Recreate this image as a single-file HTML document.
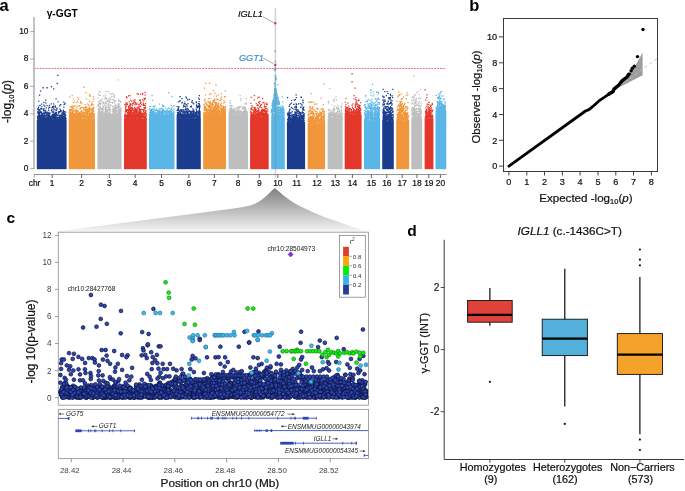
<!DOCTYPE html><html><head><meta charset="utf-8"><style>
html,body{margin:0;padding:0;background:#fff;}
body{width:685px;height:491px;overflow:hidden;}
svg{display:block;font-family:"Liberation Sans", sans-serif;will-change:transform;}
</style></head><body>
<svg width="685" height="491" viewBox="0 0 685 491">
<rect x="36.8" y="120.0" width="29.8" height="49.2" fill="#1b3c8c"/>
<path d="M38.5 114.2h1.2v1.2h-1.2zM53.1 114.8h1.2v1.2h-1.2zM52.5 119.1h1.2v1.2h-1.2zM38.0 112.7h1.2v1.2h-1.2zM63.2 117.4h1.2v1.2h-1.2zM47.3 114.0h1.2v1.2h-1.2zM53.2 117.5h1.2v1.2h-1.2zM54.2 119.0h1.2v1.2h-1.2zM41.5 117.5h1.2v1.2h-1.2zM48.9 104.7h1.2v1.2h-1.2zM64.3 115.6h1.2v1.2h-1.2zM45.8 114.1h1.2v1.2h-1.2zM53.4 116.6h1.2v1.2h-1.2zM63.8 116.5h1.2v1.2h-1.2zM38.5 114.0h1.2v1.2h-1.2zM65.2 111.6h1.2v1.2h-1.2zM49.2 106.7h1.2v1.2h-1.2zM54.3 116.3h1.2v1.2h-1.2zM49.0 118.7h1.2v1.2h-1.2zM49.3 118.6h1.2v1.2h-1.2zM44.7 118.7h1.2v1.2h-1.2zM52.5 113.9h1.2v1.2h-1.2zM56.3 117.2h1.2v1.2h-1.2zM55.2 118.5h1.2v1.2h-1.2zM52.0 118.5h1.2v1.2h-1.2zM52.2 116.9h1.2v1.2h-1.2zM53.0 105.7h1.2v1.2h-1.2zM51.5 115.1h1.2v1.2h-1.2zM38.3 109.1h1.2v1.2h-1.2zM61.8 112.2h1.2v1.2h-1.2zM48.2 118.9h1.2v1.2h-1.2zM38.6 119.1h1.2v1.2h-1.2zM47.6 118.9h1.2v1.2h-1.2zM52.1 106.1h1.2v1.2h-1.2zM38.8 118.3h1.2v1.2h-1.2zM54.9 105.5h1.2v1.2h-1.2zM50.4 118.8h1.2v1.2h-1.2zM64.8 116.4h1.2v1.2h-1.2zM52.4 118.9h1.2v1.2h-1.2zM37.3 116.1h1.2v1.2h-1.2zM54.8 117.4h1.2v1.2h-1.2zM62.9 113.0h1.2v1.2h-1.2zM65.1 118.0h1.2v1.2h-1.2zM41.6 112.8h1.2v1.2h-1.2zM59.1 117.6h1.2v1.2h-1.2zM38.0 112.0h1.2v1.2h-1.2zM58.0 118.2h1.2v1.2h-1.2zM47.0 119.2h1.2v1.2h-1.2zM37.6 115.2h1.2v1.2h-1.2zM45.1 99.6h1.2v1.2h-1.2zM47.2 118.3h1.2v1.2h-1.2zM38.2 100.5h1.2v1.2h-1.2zM36.9 108.6h1.2v1.2h-1.2zM65.1 119.0h1.2v1.2h-1.2zM62.8 112.5h1.2v1.2h-1.2zM50.5 118.5h1.2v1.2h-1.2zM46.3 112.2h1.2v1.2h-1.2zM48.1 117.1h1.2v1.2h-1.2zM57.5 118.5h1.2v1.2h-1.2zM51.8 114.6h1.2v1.2h-1.2zM53.8 116.5h1.2v1.2h-1.2zM41.3 115.8h1.2v1.2h-1.2zM44.9 114.7h1.2v1.2h-1.2zM63.5 116.8h1.2v1.2h-1.2zM60.4 118.3h1.2v1.2h-1.2zM48.6 117.6h1.2v1.2h-1.2zM60.7 119.1h1.2v1.2h-1.2zM62.5 114.5h1.2v1.2h-1.2zM51.6 111.5h1.2v1.2h-1.2zM40.5 118.6h1.2v1.2h-1.2zM61.8 112.7h1.2v1.2h-1.2zM59.0 118.6h1.2v1.2h-1.2zM48.1 113.6h1.2v1.2h-1.2zM46.1 116.1h1.2v1.2h-1.2zM59.2 118.9h1.2v1.2h-1.2zM43.9 117.9h1.2v1.2h-1.2zM51.3 115.7h1.2v1.2h-1.2zM62.9 116.7h1.2v1.2h-1.2zM51.3 116.2h1.2v1.2h-1.2zM49.7 116.0h1.2v1.2h-1.2zM63.7 114.0h1.2v1.2h-1.2zM63.7 118.0h1.2v1.2h-1.2zM63.8 111.2h1.2v1.2h-1.2zM38.6 114.4h1.2v1.2h-1.2zM42.9 117.8h1.2v1.2h-1.2zM52.3 106.8h1.2v1.2h-1.2zM47.3 118.1h1.2v1.2h-1.2zM40.5 117.1h1.2v1.2h-1.2zM65.1 111.4h1.2v1.2h-1.2zM48.8 117.4h1.2v1.2h-1.2zM39.8 116.8h1.2v1.2h-1.2zM38.9 116.1h1.2v1.2h-1.2zM56.0 118.2h1.2v1.2h-1.2zM39.2 117.9h1.2v1.2h-1.2zM42.0 113.1h1.2v1.2h-1.2zM61.1 114.3h1.2v1.2h-1.2zM48.4 115.9h1.2v1.2h-1.2zM50.9 117.6h1.2v1.2h-1.2zM61.9 118.5h1.2v1.2h-1.2zM44.5 119.3h1.2v1.2h-1.2zM38.5 119.1h1.2v1.2h-1.2zM49.8 117.5h1.2v1.2h-1.2zM63.3 118.0h1.2v1.2h-1.2zM55.1 113.8h1.2v1.2h-1.2zM64.5 118.0h1.2v1.2h-1.2zM48.9 118.3h1.2v1.2h-1.2zM56.0 118.0h1.2v1.2h-1.2zM65.2 119.2h1.2v1.2h-1.2zM54.4 115.8h1.2v1.2h-1.2zM43.2 114.6h1.2v1.2h-1.2zM55.6 115.8h1.2v1.2h-1.2zM64.6 117.7h1.2v1.2h-1.2zM51.7 117.5h1.2v1.2h-1.2zM57.0 114.8h1.2v1.2h-1.2zM46.7 119.1h1.2v1.2h-1.2zM54.9 116.8h1.2v1.2h-1.2zM37.6 111.1h1.2v1.2h-1.2zM56.0 117.9h1.2v1.2h-1.2zM49.4 118.0h1.2v1.2h-1.2zM39.5 104.8h1.2v1.2h-1.2zM52.4 118.1h1.2v1.2h-1.2zM45.7 117.4h1.2v1.2h-1.2zM49.2 114.6h1.2v1.2h-1.2zM46.2 118.9h1.2v1.2h-1.2zM40.9 115.4h1.2v1.2h-1.2zM45.4 114.9h1.2v1.2h-1.2zM54.9 109.4h1.2v1.2h-1.2zM53.9 112.9h1.2v1.2h-1.2zM50.9 117.9h1.2v1.2h-1.2zM40.9 111.6h1.2v1.2h-1.2zM51.5 116.9h1.2v1.2h-1.2zM51.3 108.6h1.2v1.2h-1.2zM53.1 111.9h1.2v1.2h-1.2zM38.0 115.4h1.2v1.2h-1.2zM56.3 114.1h1.2v1.2h-1.2zM46.5 105.0h1.2v1.2h-1.2zM49.7 119.1h1.2v1.2h-1.2zM64.0 114.3h1.2v1.2h-1.2zM36.9 112.2h1.2v1.2h-1.2zM51.2 115.9h1.2v1.2h-1.2zM38.7 113.4h1.2v1.2h-1.2zM55.6 113.1h1.2v1.2h-1.2zM64.5 102.7h1.2v1.2h-1.2zM47.7 116.5h1.2v1.2h-1.2zM58.7 115.1h1.2v1.2h-1.2zM39.0 118.7h1.2v1.2h-1.2zM44.9 118.7h1.2v1.2h-1.2zM50.7 103.3h1.2v1.2h-1.2zM38.0 114.3h1.2v1.2h-1.2zM54.7 112.8h1.2v1.2h-1.2zM52.5 117.7h1.2v1.2h-1.2zM43.6 119.3h1.2v1.2h-1.2zM60.2 104.0h1.2v1.2h-1.2zM44.5 118.3h1.2v1.2h-1.2zM42.8 115.5h1.2v1.2h-1.2zM54.7 115.2h1.2v1.2h-1.2zM44.8 118.8h1.2v1.2h-1.2zM51.0 110.0h1.2v1.2h-1.2zM41.3 106.0h1.2v1.2h-1.2zM48.4 113.6h1.2v1.2h-1.2zM47.6 118.8h1.2v1.2h-1.2zM39.1 113.2h1.2v1.2h-1.2zM40.2 107.7h1.2v1.2h-1.2zM62.6 117.8h1.2v1.2h-1.2zM47.1 116.9h1.2v1.2h-1.2zM41.1 114.5h1.2v1.2h-1.2zM41.1 103.5h1.2v1.2h-1.2zM45.8 112.7h1.2v1.2h-1.2zM49.0 119.2h1.2v1.2h-1.2zM48.2 110.0h1.2v1.2h-1.2zM42.6 119.0h1.2v1.2h-1.2zM48.6 115.1h1.2v1.2h-1.2zM49.3 116.4h1.2v1.2h-1.2zM52.5 118.5h1.2v1.2h-1.2zM44.9 118.0h1.2v1.2h-1.2zM55.5 117.0h1.2v1.2h-1.2zM42.9 118.5h1.2v1.2h-1.2zM38.3 116.3h1.2v1.2h-1.2zM52.5 116.7h1.2v1.2h-1.2zM39.9 118.1h1.2v1.2h-1.2zM64.1 118.9h1.2v1.2h-1.2zM38.0 119.3h1.2v1.2h-1.2zM47.7 113.2h1.2v1.2h-1.2zM37.7 117.5h1.2v1.2h-1.2zM37.6 114.2h1.2v1.2h-1.2zM59.4 110.9h1.2v1.2h-1.2zM51.2 117.2h1.2v1.2h-1.2zM49.2 117.7h1.2v1.2h-1.2zM64.5 118.8h1.2v1.2h-1.2zM58.6 112.1h1.2v1.2h-1.2zM50.8 119.0h1.2v1.2h-1.2zM63.3 116.0h1.2v1.2h-1.2zM49.6 112.5h1.2v1.2h-1.2zM51.6 106.7h1.2v1.2h-1.2zM55.3 112.9h1.2v1.2h-1.2zM52.6 119.2h1.2v1.2h-1.2zM43.5 108.1h1.2v1.2h-1.2zM45.5 118.8h1.2v1.2h-1.2zM64.6 116.8h1.2v1.2h-1.2zM39.6 117.8h1.2v1.2h-1.2zM42.3 118.0h1.2v1.2h-1.2zM36.8 115.9h1.2v1.2h-1.2zM44.8 117.7h1.2v1.2h-1.2zM43.7 116.0h1.2v1.2h-1.2zM37.6 117.0h1.2v1.2h-1.2zM38.4 118.4h1.2v1.2h-1.2zM55.3 119.0h1.2v1.2h-1.2zM60.7 119.2h1.2v1.2h-1.2zM60.3 117.4h1.2v1.2h-1.2zM37.0 117.8h1.2v1.2h-1.2zM38.7 116.3h1.2v1.2h-1.2zM38.5 113.0h1.2v1.2h-1.2zM48.4 116.3h1.2v1.2h-1.2zM50.5 119.1h1.2v1.2h-1.2zM63.2 119.1h1.2v1.2h-1.2zM48.2 118.7h1.2v1.2h-1.2zM41.3 113.8h1.2v1.2h-1.2zM46.2 118.4h1.2v1.2h-1.2zM58.1 119.2h1.2v1.2h-1.2zM47.6 117.3h1.2v1.2h-1.2zM47.4 119.0h1.2v1.2h-1.2zM62.1 115.7h1.2v1.2h-1.2zM47.7 112.8h1.2v1.2h-1.2zM60.5 119.0h1.2v1.2h-1.2zM42.4 115.9h1.2v1.2h-1.2zM46.0 113.4h1.2v1.2h-1.2zM54.9 118.1h1.2v1.2h-1.2zM48.4 117.3h1.2v1.2h-1.2zM59.8 119.1h1.2v1.2h-1.2zM55.7 117.9h1.2v1.2h-1.2zM54.4 118.0h1.2v1.2h-1.2zM45.9 117.9h1.2v1.2h-1.2zM48.0 108.3h1.2v1.2h-1.2zM63.8 119.3h1.2v1.2h-1.2zM43.1 112.7h1.2v1.2h-1.2zM62.9 111.8h1.2v1.2h-1.2zM42.8 118.5h1.2v1.2h-1.2zM57.9 111.6h1.2v1.2h-1.2zM54.2 117.6h1.2v1.2h-1.2zM39.5 116.2h1.2v1.2h-1.2zM41.4 117.0h1.2v1.2h-1.2zM50.6 115.8h1.2v1.2h-1.2zM60.0 109.8h1.2v1.2h-1.2zM44.4 119.0h1.2v1.2h-1.2zM44.1 118.5h1.2v1.2h-1.2zM40.3 115.0h1.2v1.2h-1.2zM58.2 111.0h1.2v1.2h-1.2zM40.3 111.1h1.2v1.2h-1.2zM53.3 118.0h1.2v1.2h-1.2zM42.1 118.2h1.2v1.2h-1.2zM53.6 118.4h1.2v1.2h-1.2zM38.3 118.2h1.2v1.2h-1.2zM55.5 98.3h1.2v1.2h-1.2zM43.2 109.8h1.2v1.2h-1.2zM40.4 117.8h1.2v1.2h-1.2zM38.4 115.3h1.2v1.2h-1.2zM42.4 119.0h1.2v1.2h-1.2zM41.9 115.2h1.2v1.2h-1.2zM55.8 119.3h1.2v1.2h-1.2zM57.1 117.4h1.2v1.2h-1.2zM38.9 118.1h1.2v1.2h-1.2zM55.4 118.3h1.2v1.2h-1.2zM39.0 117.0h1.2v1.2h-1.2zM54.6 119.0h1.2v1.2h-1.2zM43.1 118.9h1.2v1.2h-1.2zM52.5 114.8h1.2v1.2h-1.2zM47.2 117.1h1.2v1.2h-1.2zM49.0 119.1h1.2v1.2h-1.2zM62.1 117.0h1.2v1.2h-1.2zM39.1 114.7h1.2v1.2h-1.2zM48.4 106.6h1.2v1.2h-1.2zM41.3 118.8h1.2v1.2h-1.2zM53.6 118.6h1.2v1.2h-1.2zM63.6 118.7h1.2v1.2h-1.2zM48.1 115.6h1.2v1.2h-1.2zM57.9 118.5h1.2v1.2h-1.2zM46.5 118.9h1.2v1.2h-1.2zM59.8 104.1h1.2v1.2h-1.2zM52.0 111.2h1.2v1.2h-1.2zM43.0 114.8h1.2v1.2h-1.2zM61.8 115.0h1.2v1.2h-1.2zM41.4 112.5h1.2v1.2h-1.2zM48.8 116.5h1.2v1.2h-1.2zM38.0 106.9h1.2v1.2h-1.2zM39.2 118.8h1.2v1.2h-1.2zM45.2 109.7h1.2v1.2h-1.2zM56.0 114.4h1.2v1.2h-1.2zM48.7 115.3h1.2v1.2h-1.2zM54.7 117.7h1.2v1.2h-1.2zM53.5 116.9h1.2v1.2h-1.2zM49.6 116.8h1.2v1.2h-1.2zM48.5 116.7h1.2v1.2h-1.2zM60.2 111.3h1.2v1.2h-1.2zM48.2 119.1h1.2v1.2h-1.2zM47.2 112.1h1.2v1.2h-1.2zM55.6 119.2h1.2v1.2h-1.2zM45.0 117.7h1.2v1.2h-1.2zM39.1 113.1h1.2v1.2h-1.2zM55.5 112.5h1.2v1.2h-1.2zM56.0 111.8h1.2v1.2h-1.2zM43.2 117.8h1.2v1.2h-1.2zM59.5 114.2h1.2v1.2h-1.2zM43.1 111.4h1.2v1.2h-1.2zM44.0 117.6h1.2v1.2h-1.2zM62.7 116.6h1.2v1.2h-1.2zM43.3 116.2h1.2v1.2h-1.2zM41.4 118.4h1.2v1.2h-1.2zM55.0 117.9h1.2v1.2h-1.2zM49.2 118.8h1.2v1.2h-1.2zM55.0 117.4h1.2v1.2h-1.2zM52.7 115.5h1.2v1.2h-1.2zM48.1 112.2h1.2v1.2h-1.2zM39.9 115.5h1.2v1.2h-1.2zM58.7 116.8h1.2v1.2h-1.2zM45.4 116.1h1.2v1.2h-1.2zM53.2 107.6h1.2v1.2h-1.2zM57.8 113.2h1.2v1.2h-1.2zM48.9 116.2h1.2v1.2h-1.2zM40.6 118.2h1.2v1.2h-1.2zM37.4 119.4h1.2v1.2h-1.2zM39.8 117.4h1.2v1.2h-1.2zM53.1 117.8h1.2v1.2h-1.2zM39.1 118.7h1.2v1.2h-1.2zM43.8 118.6h1.2v1.2h-1.2zM64.4 118.7h1.2v1.2h-1.2zM44.5 111.9h1.2v1.2h-1.2zM38.4 111.7h1.2v1.2h-1.2zM53.8 115.5h1.2v1.2h-1.2zM51.6 116.3h1.2v1.2h-1.2zM46.5 117.0h1.2v1.2h-1.2zM41.2 108.5h1.2v1.2h-1.2zM47.4 118.7h1.2v1.2h-1.2zM47.9 114.8h1.2v1.2h-1.2zM48.7 115.1h1.2v1.2h-1.2zM38.6 115.0h1.2v1.2h-1.2zM57.5 116.5h1.2v1.2h-1.2zM47.5 116.8h1.2v1.2h-1.2zM39.1 114.6h1.2v1.2h-1.2zM38.8 118.8h1.2v1.2h-1.2zM63.3 106.6h1.2v1.2h-1.2zM41.6 118.0h1.2v1.2h-1.2zM49.3 112.4h1.2v1.2h-1.2zM44.4 114.8h1.2v1.2h-1.2zM43.0 109.9h1.2v1.2h-1.2zM38.4 118.4h1.2v1.2h-1.2zM38.4 118.4h1.2v1.2h-1.2zM54.0 117.2h1.2v1.2h-1.2zM63.2 101.5h1.2v1.2h-1.2zM52.1 116.5h1.2v1.2h-1.2zM37.0 119.2h1.2v1.2h-1.2zM43.5 109.7h1.2v1.2h-1.2zM48.0 115.4h1.2v1.2h-1.2zM41.7 119.2h1.2v1.2h-1.2zM48.4 118.7h1.2v1.2h-1.2zM41.0 118.7h1.2v1.2h-1.2zM38.0 119.1h1.2v1.2h-1.2zM53.3 105.5h1.2v1.2h-1.2zM55.8 109.9h1.2v1.2h-1.2zM57.1 117.2h1.2v1.2h-1.2zM38.2 118.8h1.2v1.2h-1.2zM65.2 114.9h1.2v1.2h-1.2zM40.6 112.3h1.2v1.2h-1.2zM45.2 117.5h1.2v1.2h-1.2zM39.7 118.0h1.2v1.2h-1.2zM61.4 112.8h1.2v1.2h-1.2zM50.4 117.8h1.2v1.2h-1.2zM59.4 119.2h1.2v1.2h-1.2zM39.6 116.5h1.2v1.2h-1.2zM52.5 118.3h1.2v1.2h-1.2zM39.4 111.7h1.2v1.2h-1.2zM45.8 113.2h1.2v1.2h-1.2zM39.4 116.3h1.2v1.2h-1.2zM59.6 118.5h1.2v1.2h-1.2zM46.7 111.4h1.2v1.2h-1.2zM47.2 114.0h1.2v1.2h-1.2zM39.9 114.8h1.2v1.2h-1.2zM61.6 115.7h1.2v1.2h-1.2zM38.6 117.1h1.2v1.2h-1.2zM39.3 109.6h1.2v1.2h-1.2zM38.7 117.8h1.2v1.2h-1.2zM52.4 118.5h1.2v1.2h-1.2zM54.8 106.5h1.2v1.2h-1.2zM48.2 114.7h1.2v1.2h-1.2zM38.2 116.1h1.2v1.2h-1.2zM49.7 115.8h1.2v1.2h-1.2zM39.8 115.5h1.2v1.2h-1.2zM40.6 114.8h1.2v1.2h-1.2zM51.3 118.0h1.2v1.2h-1.2zM60.4 115.1h1.2v1.2h-1.2zM64.7 113.6h1.2v1.2h-1.2zM46.8 118.2h1.2v1.2h-1.2zM44.2 105.5h1.2v1.2h-1.2zM41.5 114.6h1.2v1.2h-1.2zM52.7 113.5h1.2v1.2h-1.2zM42.4 114.8h1.2v1.2h-1.2zM38.4 109.7h1.2v1.2h-1.2zM37.2 110.8h1.2v1.2h-1.2zM43.2 101.7h1.2v1.2h-1.2zM46.4 117.0h1.2v1.2h-1.2zM62.8 116.9h1.2v1.2h-1.2zM58.2 116.9h1.2v1.2h-1.2zM45.5 114.6h1.2v1.2h-1.2zM55.2 115.4h1.2v1.2h-1.2zM47.0 117.7h1.2v1.2h-1.2zM39.6 116.9h1.2v1.2h-1.2zM57.2 114.9h1.2v1.2h-1.2zM60.1 116.4h1.2v1.2h-1.2zM59.9 110.1h1.2v1.2h-1.2zM46.2 119.3h1.2v1.2h-1.2zM62.8 118.9h1.2v1.2h-1.2zM38.4 118.6h1.2v1.2h-1.2zM63.7 116.1h1.2v1.2h-1.2zM53.1 116.5h1.2v1.2h-1.2zM39.5 116.1h1.2v1.2h-1.2zM63.9 118.3h1.2v1.2h-1.2zM48.0 112.9h1.2v1.2h-1.2zM48.1 117.9h1.2v1.2h-1.2zM37.2 116.9h1.2v1.2h-1.2zM56.8 117.4h1.2v1.2h-1.2zM51.4 117.7h1.2v1.2h-1.2zM64.1 103.5h1.2v1.2h-1.2zM64.3 116.6h1.2v1.2h-1.2zM55.6 116.5h1.2v1.2h-1.2zM43.3 104.5h1.2v1.2h-1.2zM55.1 111.7h1.2v1.2h-1.2zM50.2 117.8h1.2v1.2h-1.2zM40.4 111.3h1.2v1.2h-1.2zM61.1 118.0h1.2v1.2h-1.2zM44.1 116.9h1.2v1.2h-1.2zM45.6 112.0h1.2v1.2h-1.2zM47.0 114.6h1.2v1.2h-1.2zM42.7 114.6h1.2v1.2h-1.2zM63.4 110.7h1.2v1.2h-1.2zM53.5 108.8h1.2v1.2h-1.2zM40.8 111.4h1.2v1.2h-1.2zM37.2 119.3h1.2v1.2h-1.2zM55.6 118.1h1.2v1.2h-1.2zM52.3 116.7h1.2v1.2h-1.2zM42.8 117.1h1.2v1.2h-1.2zM54.2 114.2h1.2v1.2h-1.2zM39.4 109.0h1.2v1.2h-1.2zM55.0 117.8h1.2v1.2h-1.2zM42.9 119.0h1.2v1.2h-1.2zM56.0 118.8h1.2v1.2h-1.2zM60.3 118.2h1.2v1.2h-1.2zM42.8 108.8h1.2v1.2h-1.2zM43.9 118.6h1.2v1.2h-1.2zM57.8 118.6h1.2v1.2h-1.2zM61.2 115.7h1.2v1.2h-1.2zM60.8 117.3h1.2v1.2h-1.2zM64.3 119.0h1.2v1.2h-1.2zM55.0 119.2h1.2v1.2h-1.2zM56.3 107.4h1.2v1.2h-1.2zM38.5 109.2h1.2v1.2h-1.2zM61.3 117.0h1.2v1.2h-1.2zM39.1 116.5h1.2v1.2h-1.2zM58.8 118.3h1.2v1.2h-1.2zM48.9 115.8h1.2v1.2h-1.2zM45.2 111.5h1.2v1.2h-1.2zM51.2 117.9h1.2v1.2h-1.2zM64.7 114.6h1.2v1.2h-1.2zM46.3 117.7h1.2v1.2h-1.2zM53.0 103.3h1.2v1.2h-1.2zM40.8 117.0h1.2v1.2h-1.2zM48.2 118.9h1.2v1.2h-1.2zM43.4 115.2h1.2v1.2h-1.2zM59.4 108.6h1.2v1.2h-1.2zM54.4 115.0h1.2v1.2h-1.2zM53.9 114.3h1.2v1.2h-1.2zM37.8 118.5h1.2v1.2h-1.2zM61.7 116.9h1.2v1.2h-1.2zM64.4 119.3h1.2v1.2h-1.2zM40.8 117.7h1.2v1.2h-1.2zM61.5 118.5h1.2v1.2h-1.2zM45.6 107.2h1.2v1.2h-1.2zM53.5 116.1h1.2v1.2h-1.2zM58.9 116.9h1.2v1.2h-1.2zM48.4 119.1h1.2v1.2h-1.2zM41.2 112.8h1.2v1.2h-1.2zM39.2 116.5h1.2v1.2h-1.2zM54.7 116.9h1.2v1.2h-1.2zM38.8 119.0h1.2v1.2h-1.2zM40.5 119.3h1.2v1.2h-1.2zM43.7 113.5h1.2v1.2h-1.2zM41.7 117.3h1.2v1.2h-1.2zM56.7 118.7h1.2v1.2h-1.2zM45.2 115.7h1.2v1.2h-1.2zM55.9 109.5h1.2v1.2h-1.2zM38.3 119.2h1.2v1.2h-1.2zM64.5 117.2h1.2v1.2h-1.2zM47.7 118.6h1.2v1.2h-1.2zM50.7 119.1h1.2v1.2h-1.2zM53.2 116.8h1.2v1.2h-1.2zM40.9 112.2h1.2v1.2h-1.2zM55.2 114.9h1.2v1.2h-1.2zM47.8 112.5h1.2v1.2h-1.2zM59.2 115.6h1.2v1.2h-1.2zM40.7 112.1h1.2v1.2h-1.2zM61.7 113.6h1.2v1.2h-1.2zM51.8 115.3h1.2v1.2h-1.2zM60.7 117.2h1.2v1.2h-1.2zM58.9 118.2h1.2v1.2h-1.2zM56.5 117.6h1.2v1.2h-1.2zM47.2 115.4h1.2v1.2h-1.2zM62.2 119.2h1.2v1.2h-1.2zM60.0 110.3h1.2v1.2h-1.2zM44.6 110.8h1.2v1.2h-1.2zM56.4 108.4h1.2v1.2h-1.2zM55.0 117.2h1.2v1.2h-1.2zM57.5 101.3h1.2v1.2h-1.2zM41.0 114.3h1.2v1.2h-1.2zM42.7 118.1h1.2v1.2h-1.2zM59.4 116.6h1.2v1.2h-1.2zM39.4 115.5h1.2v1.2h-1.2zM62.1 116.1h1.2v1.2h-1.2zM53.7 118.4h1.2v1.2h-1.2zM47.0 112.0h1.2v1.2h-1.2zM53.0 116.1h1.2v1.2h-1.2zM41.0 107.9h1.2v1.2h-1.2zM61.6 117.3h1.2v1.2h-1.2zM39.1 117.7h1.2v1.2h-1.2zM37.8 119.2h1.2v1.2h-1.2zM61.6 116.4h1.2v1.2h-1.2zM44.3 112.6h1.2v1.2h-1.2zM63.9 112.8h1.2v1.2h-1.2zM64.4 118.1h1.2v1.2h-1.2zM37.6 119.2h1.2v1.2h-1.2zM57.0 116.4h1.2v1.2h-1.2zM62.4 110.5h1.2v1.2h-1.2zM63.2 113.9h1.2v1.2h-1.2zM38.3 105.4h1.2v1.2h-1.2zM48.0 116.7h1.2v1.2h-1.2zM41.9 119.1h1.2v1.2h-1.2zM37.6 108.1h1.2v1.2h-1.2zM54.4 113.8h1.2v1.2h-1.2zM65.0 119.1h1.2v1.2h-1.2zM46.6 117.8h1.2v1.2h-1.2zM58.5 118.9h1.2v1.2h-1.2zM37.7 117.2h1.2v1.2h-1.2zM47.7 116.8h1.2v1.2h-1.2zM62.9 109.4h1.2v1.2h-1.2zM62.9 112.2h1.2v1.2h-1.2zM51.7 117.3h1.2v1.2h-1.2zM59.1 105.2h1.2v1.2h-1.2zM47.8 119.3h1.2v1.2h-1.2zM39.0 117.6h1.2v1.2h-1.2zM38.7 118.2h1.2v1.2h-1.2zM61.2 116.7h1.2v1.2h-1.2zM49.4 118.6h1.2v1.2h-1.2zM43.9 119.3h1.2v1.2h-1.2zM45.3 112.1h1.2v1.2h-1.2zM38.6 118.8h1.2v1.2h-1.2zM38.4 109.3h1.2v1.2h-1.2zM42.8 116.5h1.2v1.2h-1.2zM38.6 113.1h1.2v1.2h-1.2zM49.2 118.0h1.2v1.2h-1.2zM51.5 109.2h1.2v1.2h-1.2zM45.2 102.2h1.2v1.2h-1.2zM65.4 117.5h1.2v1.2h-1.2zM46.1 112.4h1.2v1.2h-1.2zM45.0 117.4h1.2v1.2h-1.2zM60.5 118.7h1.2v1.2h-1.2zM51.8 113.8h1.2v1.2h-1.2zM55.8 113.5h1.2v1.2h-1.2zM41.8 118.7h1.2v1.2h-1.2zM54.8 118.4h1.2v1.2h-1.2zM45.4 119.1h1.2v1.2h-1.2zM48.5 113.6h1.2v1.2h-1.2zM39.1 110.4h1.2v1.2h-1.2zM37.2 108.6h1.2v1.2h-1.2zM61.7 118.0h1.2v1.2h-1.2zM40.0 119.2h1.2v1.2h-1.2zM53.2 110.6h1.2v1.2h-1.2zM63.5 103.9h1.2v1.2h-1.2zM39.3 110.4h1.2v1.2h-1.2zM60.7 110.3h1.2v1.2h-1.2zM57.1 74.8h1.3v1.3h-1.3zM56.6 82.7h1.3v1.3h-1.3zM42.5 87.1h1.3v1.3h-1.3zM46.4 87.1h1.3v1.3h-1.3zM50.8 86.0h1.3v1.3h-1.3zM53.1 88.3h1.3v1.3h-1.3zM39.9 90.4h1.3v1.3h-1.3zM38.9 94.4h1.3v1.3h-1.3z" fill="#1b3c8c"/>
<rect x="68.7" y="118.5" width="26.3" height="50.7" fill="#f0963b"/>
<path d="M80.3 116.5h1.2v1.2h-1.2zM77.5 117.4h1.2v1.2h-1.2zM72.4 114.5h1.2v1.2h-1.2zM71.7 117.2h1.2v1.2h-1.2zM82.3 116.6h1.2v1.2h-1.2zM86.9 103.4h1.2v1.2h-1.2zM89.8 115.5h1.2v1.2h-1.2zM89.8 114.2h1.2v1.2h-1.2zM92.3 110.5h1.2v1.2h-1.2zM89.2 108.8h1.2v1.2h-1.2zM93.4 116.0h1.2v1.2h-1.2zM82.8 115.9h1.2v1.2h-1.2zM83.8 116.5h1.2v1.2h-1.2zM84.6 115.6h1.2v1.2h-1.2zM70.4 115.1h1.2v1.2h-1.2zM69.2 117.1h1.2v1.2h-1.2zM88.2 104.4h1.2v1.2h-1.2zM89.0 107.3h1.2v1.2h-1.2zM69.6 112.8h1.2v1.2h-1.2zM75.2 105.3h1.2v1.2h-1.2zM75.0 114.3h1.2v1.2h-1.2zM92.6 116.2h1.2v1.2h-1.2zM90.1 117.0h1.2v1.2h-1.2zM69.3 113.5h1.2v1.2h-1.2zM79.7 114.4h1.2v1.2h-1.2zM91.7 113.7h1.2v1.2h-1.2zM75.9 111.3h1.2v1.2h-1.2zM82.3 112.7h1.2v1.2h-1.2zM83.9 114.8h1.2v1.2h-1.2zM84.1 114.8h1.2v1.2h-1.2zM88.8 114.0h1.2v1.2h-1.2zM78.7 105.3h1.2v1.2h-1.2zM89.1 115.9h1.2v1.2h-1.2zM71.8 116.1h1.2v1.2h-1.2zM72.7 117.5h1.2v1.2h-1.2zM79.7 117.5h1.2v1.2h-1.2zM79.7 111.4h1.2v1.2h-1.2zM89.9 95.7h1.2v1.2h-1.2zM92.1 115.2h1.2v1.2h-1.2zM72.2 116.7h1.2v1.2h-1.2zM75.6 108.9h1.2v1.2h-1.2zM92.6 113.0h1.2v1.2h-1.2zM79.1 117.3h1.2v1.2h-1.2zM82.5 117.2h1.2v1.2h-1.2zM93.6 117.1h1.2v1.2h-1.2zM75.7 113.1h1.2v1.2h-1.2zM83.1 112.1h1.2v1.2h-1.2zM84.1 113.9h1.2v1.2h-1.2zM76.8 110.3h1.2v1.2h-1.2zM81.2 115.0h1.2v1.2h-1.2zM75.1 109.9h1.2v1.2h-1.2zM78.2 116.6h1.2v1.2h-1.2zM77.0 100.9h1.2v1.2h-1.2zM74.8 115.9h1.2v1.2h-1.2zM91.1 102.6h1.2v1.2h-1.2zM71.7 105.5h1.2v1.2h-1.2zM81.7 112.2h1.2v1.2h-1.2zM77.7 113.4h1.2v1.2h-1.2zM92.5 112.3h1.2v1.2h-1.2zM71.2 115.6h1.2v1.2h-1.2zM82.8 113.7h1.2v1.2h-1.2zM92.9 114.6h1.2v1.2h-1.2zM69.0 111.2h1.2v1.2h-1.2zM83.8 109.3h1.2v1.2h-1.2zM71.5 106.9h1.2v1.2h-1.2zM89.3 95.3h1.2v1.2h-1.2zM79.3 117.0h1.2v1.2h-1.2zM70.1 116.7h1.2v1.2h-1.2zM79.0 117.6h1.2v1.2h-1.2zM71.4 113.7h1.2v1.2h-1.2zM86.8 112.1h1.2v1.2h-1.2zM83.0 117.8h1.2v1.2h-1.2zM71.9 113.5h1.2v1.2h-1.2zM73.6 114.5h1.2v1.2h-1.2zM75.4 112.8h1.2v1.2h-1.2zM93.7 113.7h1.2v1.2h-1.2zM71.7 117.0h1.2v1.2h-1.2zM71.4 117.3h1.2v1.2h-1.2zM68.8 115.1h1.2v1.2h-1.2zM85.0 112.2h1.2v1.2h-1.2zM72.3 116.5h1.2v1.2h-1.2zM91.3 116.3h1.2v1.2h-1.2zM87.5 113.1h1.2v1.2h-1.2zM89.0 107.1h1.2v1.2h-1.2zM92.8 115.0h1.2v1.2h-1.2zM75.0 117.6h1.2v1.2h-1.2zM90.2 116.0h1.2v1.2h-1.2zM89.2 116.1h1.2v1.2h-1.2zM92.8 114.5h1.2v1.2h-1.2zM74.8 115.4h1.2v1.2h-1.2zM74.3 116.0h1.2v1.2h-1.2zM80.9 110.2h1.2v1.2h-1.2zM80.1 117.8h1.2v1.2h-1.2zM78.6 115.7h1.2v1.2h-1.2zM73.2 115.9h1.2v1.2h-1.2zM92.8 115.2h1.2v1.2h-1.2zM82.6 115.5h1.2v1.2h-1.2zM77.3 115.1h1.2v1.2h-1.2zM83.1 111.9h1.2v1.2h-1.2zM72.2 114.0h1.2v1.2h-1.2zM82.6 114.8h1.2v1.2h-1.2zM74.7 115.6h1.2v1.2h-1.2zM72.3 116.7h1.2v1.2h-1.2zM81.4 116.6h1.2v1.2h-1.2zM72.0 111.9h1.2v1.2h-1.2zM83.3 113.5h1.2v1.2h-1.2zM74.9 113.3h1.2v1.2h-1.2zM71.3 108.5h1.2v1.2h-1.2zM87.9 117.7h1.2v1.2h-1.2zM72.3 117.8h1.2v1.2h-1.2zM86.1 110.6h1.2v1.2h-1.2zM69.2 112.6h1.2v1.2h-1.2zM92.5 110.9h1.2v1.2h-1.2zM74.5 117.4h1.2v1.2h-1.2zM72.8 106.2h1.2v1.2h-1.2zM90.9 108.2h1.2v1.2h-1.2zM72.4 116.9h1.2v1.2h-1.2zM88.8 112.1h1.2v1.2h-1.2zM69.3 111.9h1.2v1.2h-1.2zM93.8 115.4h1.2v1.2h-1.2zM71.2 116.2h1.2v1.2h-1.2zM75.2 117.7h1.2v1.2h-1.2zM79.4 115.1h1.2v1.2h-1.2zM72.6 111.3h1.2v1.2h-1.2zM84.5 104.0h1.2v1.2h-1.2zM74.4 114.5h1.2v1.2h-1.2zM91.9 112.4h1.2v1.2h-1.2zM92.2 117.3h1.2v1.2h-1.2zM85.2 106.6h1.2v1.2h-1.2zM83.4 112.0h1.2v1.2h-1.2zM85.8 117.7h1.2v1.2h-1.2zM84.2 112.1h1.2v1.2h-1.2zM87.5 109.2h1.2v1.2h-1.2zM75.9 115.8h1.2v1.2h-1.2zM79.8 115.8h1.2v1.2h-1.2zM86.0 108.9h1.2v1.2h-1.2zM81.5 112.3h1.2v1.2h-1.2zM69.5 114.6h1.2v1.2h-1.2zM91.5 116.4h1.2v1.2h-1.2zM93.0 112.9h1.2v1.2h-1.2zM75.0 117.6h1.2v1.2h-1.2zM79.0 116.8h1.2v1.2h-1.2zM86.9 114.6h1.2v1.2h-1.2zM68.8 112.1h1.2v1.2h-1.2zM89.3 115.7h1.2v1.2h-1.2zM86.8 113.0h1.2v1.2h-1.2zM76.4 110.9h1.2v1.2h-1.2zM86.7 110.8h1.2v1.2h-1.2zM71.6 116.2h1.2v1.2h-1.2zM73.9 117.6h1.2v1.2h-1.2zM69.1 117.3h1.2v1.2h-1.2zM71.6 113.7h1.2v1.2h-1.2zM92.3 117.5h1.2v1.2h-1.2zM93.2 98.7h1.2v1.2h-1.2zM71.4 114.6h1.2v1.2h-1.2zM73.5 114.0h1.2v1.2h-1.2zM76.3 112.8h1.2v1.2h-1.2zM92.2 112.7h1.2v1.2h-1.2zM89.4 117.7h1.2v1.2h-1.2zM72.3 115.6h1.2v1.2h-1.2zM81.9 106.8h1.2v1.2h-1.2zM71.3 111.7h1.2v1.2h-1.2zM75.5 115.9h1.2v1.2h-1.2zM84.1 113.9h1.2v1.2h-1.2zM89.6 116.5h1.2v1.2h-1.2zM87.5 109.9h1.2v1.2h-1.2zM93.8 115.3h1.2v1.2h-1.2zM68.9 117.0h1.2v1.2h-1.2zM87.3 113.0h1.2v1.2h-1.2zM89.1 100.8h1.2v1.2h-1.2zM91.6 108.6h1.2v1.2h-1.2zM74.2 115.6h1.2v1.2h-1.2zM75.6 115.2h1.2v1.2h-1.2zM90.8 114.3h1.2v1.2h-1.2zM77.2 115.0h1.2v1.2h-1.2zM89.4 106.4h1.2v1.2h-1.2zM75.4 112.4h1.2v1.2h-1.2zM80.5 114.0h1.2v1.2h-1.2zM79.5 114.1h1.2v1.2h-1.2zM72.6 115.4h1.2v1.2h-1.2zM70.7 109.8h1.2v1.2h-1.2zM77.0 112.6h1.2v1.2h-1.2zM79.3 115.6h1.2v1.2h-1.2zM72.1 108.1h1.2v1.2h-1.2zM84.6 108.7h1.2v1.2h-1.2zM82.7 112.1h1.2v1.2h-1.2zM86.9 115.2h1.2v1.2h-1.2zM82.9 115.4h1.2v1.2h-1.2zM80.2 101.0h1.2v1.2h-1.2zM71.5 112.7h1.2v1.2h-1.2zM72.7 111.8h1.2v1.2h-1.2zM82.7 117.3h1.2v1.2h-1.2zM83.5 117.4h1.2v1.2h-1.2zM70.5 115.0h1.2v1.2h-1.2zM82.5 111.7h1.2v1.2h-1.2zM71.6 95.1h1.2v1.2h-1.2zM71.3 109.2h1.2v1.2h-1.2zM73.0 102.1h1.2v1.2h-1.2zM88.2 117.1h1.2v1.2h-1.2zM70.1 116.5h1.2v1.2h-1.2zM69.1 113.5h1.2v1.2h-1.2zM75.3 117.2h1.2v1.2h-1.2zM75.5 113.8h1.2v1.2h-1.2zM90.6 117.0h1.2v1.2h-1.2zM77.3 110.8h1.2v1.2h-1.2zM89.4 117.2h1.2v1.2h-1.2zM87.2 103.4h1.2v1.2h-1.2zM69.8 113.3h1.2v1.2h-1.2zM91.5 115.9h1.2v1.2h-1.2zM69.6 106.1h1.2v1.2h-1.2zM84.4 109.0h1.2v1.2h-1.2zM71.6 117.8h1.2v1.2h-1.2zM72.4 116.9h1.2v1.2h-1.2zM76.0 112.2h1.2v1.2h-1.2zM72.3 107.7h1.2v1.2h-1.2zM86.0 109.8h1.2v1.2h-1.2zM69.0 115.8h1.2v1.2h-1.2zM69.1 109.0h1.2v1.2h-1.2zM75.3 109.5h1.2v1.2h-1.2zM78.6 114.7h1.2v1.2h-1.2zM82.1 113.2h1.2v1.2h-1.2zM71.4 114.2h1.2v1.2h-1.2zM87.0 116.9h1.2v1.2h-1.2zM80.4 113.7h1.2v1.2h-1.2zM77.6 117.8h1.2v1.2h-1.2zM77.1 117.8h1.2v1.2h-1.2zM93.5 117.6h1.2v1.2h-1.2zM87.0 116.3h1.2v1.2h-1.2zM69.5 113.7h1.2v1.2h-1.2zM72.2 112.0h1.2v1.2h-1.2zM91.4 117.4h1.2v1.2h-1.2zM76.5 113.0h1.2v1.2h-1.2zM77.8 116.2h1.2v1.2h-1.2zM90.6 104.2h1.2v1.2h-1.2zM76.3 110.8h1.2v1.2h-1.2zM81.5 112.9h1.2v1.2h-1.2zM82.5 115.3h1.2v1.2h-1.2zM70.6 110.4h1.2v1.2h-1.2zM91.1 109.8h1.2v1.2h-1.2zM72.5 116.7h1.2v1.2h-1.2zM85.6 115.3h1.2v1.2h-1.2zM88.1 104.9h1.2v1.2h-1.2zM72.3 111.6h1.2v1.2h-1.2zM86.6 113.9h1.2v1.2h-1.2zM77.2 105.5h1.2v1.2h-1.2zM70.7 116.9h1.2v1.2h-1.2zM93.5 115.7h1.2v1.2h-1.2zM79.4 108.0h1.2v1.2h-1.2zM92.6 106.7h1.2v1.2h-1.2zM87.7 113.1h1.2v1.2h-1.2zM83.4 116.7h1.2v1.2h-1.2zM73.7 113.3h1.2v1.2h-1.2zM85.0 116.8h1.2v1.2h-1.2zM92.9 113.4h1.2v1.2h-1.2zM87.1 116.8h1.2v1.2h-1.2zM90.7 112.9h1.2v1.2h-1.2zM74.0 115.9h1.2v1.2h-1.2zM85.0 115.3h1.2v1.2h-1.2zM77.2 117.6h1.2v1.2h-1.2zM69.8 113.1h1.2v1.2h-1.2zM92.8 96.3h1.2v1.2h-1.2zM92.3 107.8h1.2v1.2h-1.2zM70.0 117.6h1.2v1.2h-1.2zM86.9 115.9h1.2v1.2h-1.2zM86.6 116.7h1.2v1.2h-1.2zM89.8 115.7h1.2v1.2h-1.2zM77.3 112.3h1.2v1.2h-1.2zM72.6 98.4h1.2v1.2h-1.2zM74.5 113.2h1.2v1.2h-1.2zM80.7 117.7h1.2v1.2h-1.2zM85.1 114.0h1.2v1.2h-1.2zM82.7 115.7h1.2v1.2h-1.2zM75.6 116.4h1.2v1.2h-1.2zM71.2 109.8h1.2v1.2h-1.2zM72.5 113.0h1.2v1.2h-1.2zM93.3 104.4h1.2v1.2h-1.2zM71.8 114.0h1.2v1.2h-1.2zM79.9 111.3h1.2v1.2h-1.2zM90.6 108.4h1.2v1.2h-1.2zM82.0 115.7h1.2v1.2h-1.2zM79.8 108.3h1.2v1.2h-1.2zM84.7 106.6h1.2v1.2h-1.2zM74.0 110.2h1.2v1.2h-1.2zM83.6 115.3h1.2v1.2h-1.2zM70.2 113.8h1.2v1.2h-1.2zM91.8 103.7h1.2v1.2h-1.2zM74.3 116.4h1.2v1.2h-1.2zM76.7 116.5h1.2v1.2h-1.2zM76.9 115.1h1.2v1.2h-1.2zM92.8 117.0h1.2v1.2h-1.2zM90.5 116.3h1.2v1.2h-1.2zM89.4 116.2h1.2v1.2h-1.2zM93.1 107.8h1.2v1.2h-1.2zM70.7 114.9h1.2v1.2h-1.2zM90.9 116.7h1.2v1.2h-1.2zM77.7 110.5h1.2v1.2h-1.2zM73.3 108.1h1.2v1.2h-1.2zM76.2 117.7h1.2v1.2h-1.2zM82.7 117.2h1.2v1.2h-1.2zM69.2 117.0h1.2v1.2h-1.2zM71.0 115.8h1.2v1.2h-1.2zM86.7 107.4h1.2v1.2h-1.2zM69.5 116.5h1.2v1.2h-1.2zM86.0 117.7h1.2v1.2h-1.2zM74.5 115.1h1.2v1.2h-1.2zM83.0 117.6h1.2v1.2h-1.2zM70.3 117.3h1.2v1.2h-1.2zM93.1 114.2h1.2v1.2h-1.2zM88.8 111.3h1.2v1.2h-1.2zM71.5 115.7h1.2v1.2h-1.2zM91.8 115.8h1.2v1.2h-1.2zM88.7 111.4h1.2v1.2h-1.2zM80.2 101.3h1.2v1.2h-1.2zM91.3 115.3h1.2v1.2h-1.2zM77.8 117.8h1.2v1.2h-1.2zM85.1 114.0h1.2v1.2h-1.2zM86.0 98.2h1.2v1.2h-1.2zM86.7 115.4h1.2v1.2h-1.2zM76.4 110.9h1.2v1.2h-1.2zM88.9 106.7h1.2v1.2h-1.2zM74.7 114.5h1.2v1.2h-1.2zM86.1 111.5h1.2v1.2h-1.2zM89.4 112.5h1.2v1.2h-1.2zM75.4 110.4h1.2v1.2h-1.2zM69.9 112.1h1.2v1.2h-1.2zM89.2 114.9h1.2v1.2h-1.2zM80.6 112.8h1.2v1.2h-1.2zM77.3 114.0h1.2v1.2h-1.2zM89.4 110.2h1.2v1.2h-1.2zM77.6 117.5h1.2v1.2h-1.2zM75.4 112.6h1.2v1.2h-1.2zM70.5 110.1h1.2v1.2h-1.2zM91.9 110.8h1.2v1.2h-1.2zM92.9 108.3h1.2v1.2h-1.2zM87.0 117.1h1.2v1.2h-1.2zM82.0 114.2h1.2v1.2h-1.2zM89.1 116.5h1.2v1.2h-1.2zM82.7 116.9h1.2v1.2h-1.2zM90.2 112.7h1.2v1.2h-1.2zM76.8 115.7h1.2v1.2h-1.2zM79.4 115.3h1.2v1.2h-1.2zM78.1 115.6h1.2v1.2h-1.2zM81.8 116.1h1.2v1.2h-1.2zM75.6 116.2h1.2v1.2h-1.2zM71.5 112.9h1.2v1.2h-1.2zM73.1 114.3h1.2v1.2h-1.2zM86.8 116.5h1.2v1.2h-1.2zM77.2 115.5h1.2v1.2h-1.2zM69.7 117.8h1.2v1.2h-1.2zM87.5 116.3h1.2v1.2h-1.2zM89.4 116.3h1.2v1.2h-1.2zM81.9 114.5h1.2v1.2h-1.2zM86.5 113.2h1.2v1.2h-1.2zM69.8 115.0h1.2v1.2h-1.2zM86.6 116.1h1.2v1.2h-1.2zM85.0 109.7h1.2v1.2h-1.2zM78.4 113.6h1.2v1.2h-1.2zM73.5 100.5h1.2v1.2h-1.2zM78.0 112.5h1.2v1.2h-1.2zM76.3 117.4h1.2v1.2h-1.2zM78.6 115.2h1.2v1.2h-1.2zM84.8 110.2h1.2v1.2h-1.2zM86.9 108.9h1.2v1.2h-1.2zM80.6 107.1h1.2v1.2h-1.2zM81.0 114.4h1.2v1.2h-1.2zM85.5 111.3h1.2v1.2h-1.2zM69.7 112.3h1.2v1.2h-1.2zM88.0 110.7h1.2v1.2h-1.2zM89.0 108.7h1.2v1.2h-1.2zM69.1 114.5h1.2v1.2h-1.2zM74.1 114.9h1.2v1.2h-1.2zM73.7 115.9h1.2v1.2h-1.2zM82.5 111.1h1.2v1.2h-1.2zM72.2 115.3h1.2v1.2h-1.2zM89.9 114.3h1.2v1.2h-1.2zM92.2 116.3h1.2v1.2h-1.2zM70.5 116.1h1.2v1.2h-1.2zM90.9 112.3h1.2v1.2h-1.2zM89.2 108.0h1.2v1.2h-1.2zM90.2 116.4h1.2v1.2h-1.2zM91.4 104.7h1.2v1.2h-1.2zM86.5 117.1h1.2v1.2h-1.2zM77.3 114.9h1.2v1.2h-1.2zM85.4 111.5h1.2v1.2h-1.2zM76.5 115.3h1.2v1.2h-1.2zM76.8 116.3h1.2v1.2h-1.2zM76.0 111.8h1.2v1.2h-1.2zM83.6 114.9h1.2v1.2h-1.2zM79.9 107.6h1.2v1.2h-1.2zM76.6 117.1h1.2v1.2h-1.2zM89.1 114.5h1.2v1.2h-1.2zM91.8 111.3h1.2v1.2h-1.2zM88.7 116.1h1.2v1.2h-1.2zM79.4 117.1h1.2v1.2h-1.2zM73.9 117.3h1.2v1.2h-1.2zM76.4 112.6h1.2v1.2h-1.2zM82.5 112.2h1.2v1.2h-1.2zM91.4 117.0h1.2v1.2h-1.2zM87.7 107.7h1.2v1.2h-1.2zM86.4 111.7h1.2v1.2h-1.2zM72.0 115.9h1.2v1.2h-1.2zM72.5 110.0h1.2v1.2h-1.2zM78.5 117.7h1.2v1.2h-1.2zM84.8 116.6h1.2v1.2h-1.2zM71.0 114.8h1.2v1.2h-1.2zM79.5 112.3h1.2v1.2h-1.2zM81.9 116.2h1.2v1.2h-1.2zM93.2 107.1h1.2v1.2h-1.2zM73.7 116.3h1.2v1.2h-1.2zM87.1 117.1h1.2v1.2h-1.2zM88.9 113.6h1.2v1.2h-1.2zM86.5 115.8h1.2v1.2h-1.2zM85.2 117.6h1.2v1.2h-1.2zM82.1 114.7h1.2v1.2h-1.2zM84.5 116.1h1.2v1.2h-1.2zM92.5 114.9h1.2v1.2h-1.2zM71.5 117.0h1.2v1.2h-1.2zM69.6 117.7h1.2v1.2h-1.2zM79.1 112.0h1.2v1.2h-1.2zM89.7 117.5h1.2v1.2h-1.2zM87.1 115.7h1.2v1.2h-1.2zM71.0 117.8h1.2v1.2h-1.2zM89.7 116.1h1.2v1.2h-1.2zM71.5 114.5h1.2v1.2h-1.2zM71.7 114.8h1.2v1.2h-1.2zM91.8 117.6h1.2v1.2h-1.2zM69.3 96.3h1.2v1.2h-1.2zM86.9 114.1h1.2v1.2h-1.2zM71.8 117.8h1.2v1.2h-1.2zM81.0 110.2h1.2v1.2h-1.2zM86.0 116.6h1.2v1.2h-1.2zM72.6 116.4h1.2v1.2h-1.2zM72.8 113.7h1.2v1.2h-1.2zM87.1 116.7h1.2v1.2h-1.2zM69.2 116.5h1.2v1.2h-1.2zM93.4 117.6h1.2v1.2h-1.2zM86.1 109.6h1.2v1.2h-1.2zM82.5 113.5h1.2v1.2h-1.2zM71.3 115.3h1.2v1.2h-1.2zM88.8 117.1h1.2v1.2h-1.2zM72.9 110.1h1.2v1.2h-1.2zM73.8 105.2h1.2v1.2h-1.2zM86.5 117.5h1.2v1.2h-1.2zM93.1 115.9h1.2v1.2h-1.2zM75.4 112.9h1.2v1.2h-1.2zM90.0 115.3h1.2v1.2h-1.2zM93.1 113.6h1.2v1.2h-1.2zM81.1 110.6h1.2v1.2h-1.2zM75.2 112.1h1.2v1.2h-1.2zM91.3 111.2h1.2v1.2h-1.2zM88.8 113.5h1.2v1.2h-1.2zM89.4 110.4h1.2v1.2h-1.2zM76.2 102.0h1.2v1.2h-1.2zM92.4 117.3h1.2v1.2h-1.2zM88.5 116.4h1.2v1.2h-1.2zM74.5 116.8h1.2v1.2h-1.2zM74.6 114.5h1.2v1.2h-1.2zM85.9 111.8h1.2v1.2h-1.2zM88.4 110.2h1.2v1.2h-1.2zM92.3 109.3h1.2v1.2h-1.2zM70.9 112.7h1.2v1.2h-1.2zM77.2 113.4h1.2v1.2h-1.2zM88.6 117.8h1.2v1.2h-1.2zM69.1 117.3h1.2v1.2h-1.2zM79.2 113.3h1.2v1.2h-1.2zM77.1 116.7h1.2v1.2h-1.2zM89.9 113.1h1.2v1.2h-1.2zM76.2 107.1h1.2v1.2h-1.2zM82.2 116.5h1.2v1.2h-1.2zM89.7 117.6h1.2v1.2h-1.2zM73.3 116.3h1.2v1.2h-1.2zM77.8 116.6h1.2v1.2h-1.2zM84.0 106.9h1.2v1.2h-1.2zM81.2 102.6h1.2v1.2h-1.2zM93.5 116.8h1.2v1.2h-1.2zM72.8 114.2h1.2v1.2h-1.2zM80.1 113.8h1.2v1.2h-1.2zM87.2 112.4h1.2v1.2h-1.2zM87.1 111.0h1.2v1.2h-1.2zM72.1 111.0h1.2v1.2h-1.2zM76.7 117.5h1.2v1.2h-1.2zM79.8 102.4h1.2v1.2h-1.2zM85.3 113.0h1.2v1.2h-1.2zM81.8 112.3h1.2v1.2h-1.2zM81.2 115.6h1.2v1.2h-1.2zM70.1 109.1h1.2v1.2h-1.2zM82.7 115.0h1.2v1.2h-1.2zM91.1 111.5h1.2v1.2h-1.2zM69.6 115.9h1.2v1.2h-1.2zM72.4 113.7h1.2v1.2h-1.2zM73.3 116.9h1.2v1.2h-1.2zM93.4 113.0h1.2v1.2h-1.2zM92.4 115.3h1.2v1.2h-1.2zM89.8 115.5h1.2v1.2h-1.2zM86.5 112.1h1.2v1.2h-1.2zM80.1 117.6h1.2v1.2h-1.2zM91.1 116.8h1.2v1.2h-1.2zM70.2 116.1h1.2v1.2h-1.2zM85.8 106.2h1.2v1.2h-1.2zM93.1 110.5h1.2v1.2h-1.2zM86.1 116.3h1.2v1.2h-1.2zM80.6 113.1h1.2v1.2h-1.2zM78.8 112.3h1.2v1.2h-1.2zM76.7 110.2h1.2v1.2h-1.2zM71.5 105.2h1.2v1.2h-1.2zM81.3 115.3h1.2v1.2h-1.2zM70.6 117.6h1.2v1.2h-1.2zM91.5 112.4h1.2v1.2h-1.2zM75.6 115.7h1.2v1.2h-1.2zM82.0 116.2h1.2v1.2h-1.2zM75.2 110.7h1.2v1.2h-1.2zM87.3 116.1h1.2v1.2h-1.2zM77.7 98.7h1.2v1.2h-1.2zM90.7 117.4h1.2v1.2h-1.2zM89.5 109.1h1.2v1.2h-1.2zM92.0 117.0h1.2v1.2h-1.2zM89.7 115.3h1.2v1.2h-1.2zM88.5 108.9h1.2v1.2h-1.2zM81.2 115.9h1.2v1.2h-1.2zM86.6 117.1h1.2v1.2h-1.2zM79.1 105.1h1.2v1.2h-1.2zM69.2 115.8h1.2v1.2h-1.2zM76.6 113.7h1.2v1.2h-1.2zM76.5 115.3h1.2v1.2h-1.2zM75.6 108.8h1.2v1.2h-1.2zM89.7 117.1h1.2v1.2h-1.2zM87.6 114.5h1.2v1.2h-1.2zM91.3 111.2h1.2v1.2h-1.2zM85.0 107.6h1.2v1.2h-1.2zM72.7 117.5h1.2v1.2h-1.2zM89.4 116.3h1.2v1.2h-1.2zM88.7 116.0h1.2v1.2h-1.2zM83.0 107.2h1.2v1.2h-1.2zM83.1 109.0h1.2v1.2h-1.2zM83.0 114.9h1.2v1.2h-1.2zM79.9 114.4h1.2v1.2h-1.2zM83.5 113.4h1.2v1.2h-1.2zM92.0 116.6h1.2v1.2h-1.2zM77.2 115.9h1.2v1.2h-1.2zM74.2 110.2h1.2v1.2h-1.2zM87.1 114.1h1.2v1.2h-1.2zM80.3 115.2h1.2v1.2h-1.2zM89.8 116.3h1.2v1.2h-1.2zM71.1 113.5h1.2v1.2h-1.2zM91.5 109.9h1.2v1.2h-1.2zM77.0 96.9h1.2v1.2h-1.2zM92.3 100.9h1.2v1.2h-1.2zM84.2 116.8h1.2v1.2h-1.2zM71.5 117.0h1.2v1.2h-1.2zM70.6 106.7h1.2v1.2h-1.2zM69.2 110.2h1.2v1.2h-1.2zM88.1 116.8h1.2v1.2h-1.2zM89.7 116.1h1.2v1.2h-1.2zM69.3 111.3h1.2v1.2h-1.2zM69.1 115.7h1.2v1.2h-1.2zM89.7 112.8h1.2v1.2h-1.2zM82.2 113.9h1.2v1.2h-1.2zM82.9 116.0h1.2v1.2h-1.2zM83.4 86.6h1.3v1.3h-1.3zM85.4 91.9h1.3v1.3h-1.3zM88.9 93.9h1.3v1.3h-1.3z" fill="#f0963b"/>
<rect x="97.4" y="117.9" width="24.2" height="51.3" fill="#bebebe"/>
<path d="M108.6 117.2h1.2v1.2h-1.2zM113.7 99.6h1.2v1.2h-1.2zM107.4 109.3h1.2v1.2h-1.2zM116.1 106.1h1.2v1.2h-1.2zM105.8 116.6h1.2v1.2h-1.2zM109.6 117.1h1.2v1.2h-1.2zM119.8 116.8h1.2v1.2h-1.2zM102.1 112.1h1.2v1.2h-1.2zM117.1 114.8h1.2v1.2h-1.2zM108.0 108.4h1.2v1.2h-1.2zM97.6 115.9h1.2v1.2h-1.2zM117.7 116.7h1.2v1.2h-1.2zM119.1 113.8h1.2v1.2h-1.2zM118.6 110.3h1.2v1.2h-1.2zM114.9 112.2h1.2v1.2h-1.2zM117.2 116.2h1.2v1.2h-1.2zM108.2 104.4h1.2v1.2h-1.2zM100.1 113.1h1.2v1.2h-1.2zM113.5 107.5h1.2v1.2h-1.2zM97.5 112.2h1.2v1.2h-1.2zM102.6 109.1h1.2v1.2h-1.2zM103.0 102.8h1.2v1.2h-1.2zM105.7 115.6h1.2v1.2h-1.2zM102.5 110.5h1.2v1.2h-1.2zM112.1 102.0h1.2v1.2h-1.2zM107.1 113.5h1.2v1.2h-1.2zM119.4 108.6h1.2v1.2h-1.2zM99.6 116.4h1.2v1.2h-1.2zM111.6 114.9h1.2v1.2h-1.2zM119.4 114.4h1.2v1.2h-1.2zM99.1 117.1h1.2v1.2h-1.2zM99.4 112.3h1.2v1.2h-1.2zM115.6 112.6h1.2v1.2h-1.2zM112.6 111.5h1.2v1.2h-1.2zM112.8 112.3h1.2v1.2h-1.2zM98.4 113.6h1.2v1.2h-1.2zM113.2 110.5h1.2v1.2h-1.2zM111.5 116.8h1.2v1.2h-1.2zM113.0 116.8h1.2v1.2h-1.2zM113.5 115.1h1.2v1.2h-1.2zM104.9 111.6h1.2v1.2h-1.2zM115.1 117.3h1.2v1.2h-1.2zM113.1 115.8h1.2v1.2h-1.2zM120.0 101.6h1.2v1.2h-1.2zM102.2 108.7h1.2v1.2h-1.2zM99.2 117.2h1.2v1.2h-1.2zM105.0 110.6h1.2v1.2h-1.2zM99.3 111.4h1.2v1.2h-1.2zM105.2 109.8h1.2v1.2h-1.2zM117.2 114.4h1.2v1.2h-1.2zM98.0 93.2h1.2v1.2h-1.2zM118.8 108.6h1.2v1.2h-1.2zM120.3 108.8h1.2v1.2h-1.2zM115.6 114.8h1.2v1.2h-1.2zM105.6 107.0h1.2v1.2h-1.2zM115.2 103.9h1.2v1.2h-1.2zM109.6 116.6h1.2v1.2h-1.2zM104.6 111.3h1.2v1.2h-1.2zM109.8 96.8h1.2v1.2h-1.2zM118.5 115.6h1.2v1.2h-1.2zM118.8 112.9h1.2v1.2h-1.2zM111.9 111.0h1.2v1.2h-1.2zM105.7 109.7h1.2v1.2h-1.2zM100.1 99.3h1.2v1.2h-1.2zM111.5 116.2h1.2v1.2h-1.2zM103.9 114.3h1.2v1.2h-1.2zM106.1 111.1h1.2v1.2h-1.2zM112.5 109.1h1.2v1.2h-1.2zM114.8 111.8h1.2v1.2h-1.2zM104.4 116.9h1.2v1.2h-1.2zM105.7 112.3h1.2v1.2h-1.2zM112.3 113.0h1.2v1.2h-1.2zM118.6 113.7h1.2v1.2h-1.2zM103.3 114.3h1.2v1.2h-1.2zM117.2 113.6h1.2v1.2h-1.2zM113.9 117.1h1.2v1.2h-1.2zM102.6 105.5h1.2v1.2h-1.2zM112.8 115.3h1.2v1.2h-1.2zM113.9 108.0h1.2v1.2h-1.2zM104.6 115.5h1.2v1.2h-1.2zM104.8 116.7h1.2v1.2h-1.2zM106.2 110.9h1.2v1.2h-1.2zM102.5 116.9h1.2v1.2h-1.2zM107.4 112.6h1.2v1.2h-1.2zM117.6 107.9h1.2v1.2h-1.2zM118.0 104.8h1.2v1.2h-1.2zM101.2 108.6h1.2v1.2h-1.2zM98.1 110.9h1.2v1.2h-1.2zM114.9 105.6h1.2v1.2h-1.2zM105.2 115.5h1.2v1.2h-1.2zM113.0 115.7h1.2v1.2h-1.2zM104.6 113.2h1.2v1.2h-1.2zM119.8 116.6h1.2v1.2h-1.2zM101.4 115.7h1.2v1.2h-1.2zM100.1 116.9h1.2v1.2h-1.2zM108.2 100.5h1.2v1.2h-1.2zM99.0 115.8h1.2v1.2h-1.2zM110.3 104.9h1.2v1.2h-1.2zM117.1 116.6h1.2v1.2h-1.2zM109.5 115.6h1.2v1.2h-1.2zM105.6 115.9h1.2v1.2h-1.2zM104.5 107.9h1.2v1.2h-1.2zM105.3 111.2h1.2v1.2h-1.2zM105.1 116.5h1.2v1.2h-1.2zM108.5 116.1h1.2v1.2h-1.2zM117.8 103.1h1.2v1.2h-1.2zM113.2 117.1h1.2v1.2h-1.2zM115.2 110.7h1.2v1.2h-1.2zM118.1 99.6h1.2v1.2h-1.2zM117.1 114.5h1.2v1.2h-1.2zM101.6 115.7h1.2v1.2h-1.2zM118.1 116.8h1.2v1.2h-1.2zM100.3 115.3h1.2v1.2h-1.2zM116.7 115.1h1.2v1.2h-1.2zM114.1 110.4h1.2v1.2h-1.2zM104.6 115.7h1.2v1.2h-1.2zM109.2 99.3h1.2v1.2h-1.2zM120.2 111.4h1.2v1.2h-1.2zM105.1 113.6h1.2v1.2h-1.2zM107.1 117.1h1.2v1.2h-1.2zM99.3 114.5h1.2v1.2h-1.2zM105.5 116.3h1.2v1.2h-1.2zM111.4 113.4h1.2v1.2h-1.2zM106.3 115.5h1.2v1.2h-1.2zM103.7 114.0h1.2v1.2h-1.2zM120.4 116.4h1.2v1.2h-1.2zM100.0 116.8h1.2v1.2h-1.2zM115.6 115.5h1.2v1.2h-1.2zM102.5 116.3h1.2v1.2h-1.2zM119.7 109.7h1.2v1.2h-1.2zM99.6 102.3h1.2v1.2h-1.2zM105.7 108.8h1.2v1.2h-1.2zM107.0 114.0h1.2v1.2h-1.2zM116.9 107.3h1.2v1.2h-1.2zM109.2 116.6h1.2v1.2h-1.2zM117.5 103.4h1.2v1.2h-1.2zM101.8 116.8h1.2v1.2h-1.2zM110.5 116.1h1.2v1.2h-1.2zM103.3 115.7h1.2v1.2h-1.2zM109.4 110.4h1.2v1.2h-1.2zM99.5 111.3h1.2v1.2h-1.2zM112.9 107.5h1.2v1.2h-1.2zM104.4 98.3h1.2v1.2h-1.2zM108.1 114.9h1.2v1.2h-1.2zM119.9 116.7h1.2v1.2h-1.2zM109.9 114.2h1.2v1.2h-1.2zM115.7 114.5h1.2v1.2h-1.2zM106.1 113.2h1.2v1.2h-1.2zM120.3 111.1h1.2v1.2h-1.2zM100.0 113.0h1.2v1.2h-1.2zM111.6 111.0h1.2v1.2h-1.2zM107.8 114.9h1.2v1.2h-1.2zM105.3 108.7h1.2v1.2h-1.2zM104.5 108.1h1.2v1.2h-1.2zM100.1 111.3h1.2v1.2h-1.2zM119.4 111.1h1.2v1.2h-1.2zM113.6 96.6h1.2v1.2h-1.2zM117.0 116.9h1.2v1.2h-1.2zM112.7 108.4h1.2v1.2h-1.2zM105.4 111.8h1.2v1.2h-1.2zM110.3 117.1h1.2v1.2h-1.2zM116.7 116.8h1.2v1.2h-1.2zM98.1 109.7h1.2v1.2h-1.2zM97.8 116.6h1.2v1.2h-1.2zM119.7 116.3h1.2v1.2h-1.2zM118.3 114.7h1.2v1.2h-1.2zM104.9 101.3h1.2v1.2h-1.2zM105.1 116.7h1.2v1.2h-1.2zM113.4 115.5h1.2v1.2h-1.2zM114.2 114.8h1.2v1.2h-1.2zM101.7 101.2h1.2v1.2h-1.2zM98.6 116.3h1.2v1.2h-1.2zM106.3 109.6h1.2v1.2h-1.2zM114.5 111.9h1.2v1.2h-1.2zM105.0 107.4h1.2v1.2h-1.2zM102.7 116.7h1.2v1.2h-1.2zM110.4 116.4h1.2v1.2h-1.2zM117.1 113.6h1.2v1.2h-1.2zM108.9 112.8h1.2v1.2h-1.2zM100.5 117.1h1.2v1.2h-1.2zM102.5 115.2h1.2v1.2h-1.2zM113.3 111.5h1.2v1.2h-1.2zM102.1 115.0h1.2v1.2h-1.2zM103.4 116.3h1.2v1.2h-1.2zM106.0 97.9h1.2v1.2h-1.2zM104.5 115.0h1.2v1.2h-1.2zM98.7 111.6h1.2v1.2h-1.2zM99.3 114.9h1.2v1.2h-1.2zM98.7 113.5h1.2v1.2h-1.2zM113.0 107.9h1.2v1.2h-1.2zM117.4 110.3h1.2v1.2h-1.2zM104.5 116.8h1.2v1.2h-1.2zM111.7 113.8h1.2v1.2h-1.2zM118.1 113.4h1.2v1.2h-1.2zM115.1 114.5h1.2v1.2h-1.2zM118.7 100.8h1.2v1.2h-1.2zM99.8 113.6h1.2v1.2h-1.2zM103.8 117.1h1.2v1.2h-1.2zM118.3 116.5h1.2v1.2h-1.2zM111.6 115.1h1.2v1.2h-1.2zM106.1 113.8h1.2v1.2h-1.2zM108.4 109.2h1.2v1.2h-1.2zM106.6 112.7h1.2v1.2h-1.2zM104.7 106.9h1.2v1.2h-1.2zM106.7 115.6h1.2v1.2h-1.2zM116.0 109.8h1.2v1.2h-1.2zM117.9 113.6h1.2v1.2h-1.2zM99.5 99.9h1.2v1.2h-1.2zM114.0 114.3h1.2v1.2h-1.2zM97.8 113.5h1.2v1.2h-1.2zM114.3 116.5h1.2v1.2h-1.2zM104.6 116.6h1.2v1.2h-1.2zM105.2 115.6h1.2v1.2h-1.2zM104.9 94.5h1.2v1.2h-1.2zM104.6 109.3h1.2v1.2h-1.2zM113.1 110.7h1.2v1.2h-1.2zM105.1 105.2h1.2v1.2h-1.2zM97.6 108.5h1.2v1.2h-1.2zM118.1 98.8h1.2v1.2h-1.2zM105.9 114.5h1.2v1.2h-1.2zM105.5 114.4h1.2v1.2h-1.2zM114.9 117.2h1.2v1.2h-1.2zM114.8 108.4h1.2v1.2h-1.2zM118.4 107.0h1.2v1.2h-1.2zM98.6 103.9h1.2v1.2h-1.2zM107.2 110.8h1.2v1.2h-1.2zM116.7 116.4h1.2v1.2h-1.2zM105.1 106.8h1.2v1.2h-1.2zM97.8 105.8h1.2v1.2h-1.2zM100.6 100.3h1.2v1.2h-1.2zM113.0 110.9h1.2v1.2h-1.2zM120.4 113.4h1.2v1.2h-1.2zM114.6 106.2h1.2v1.2h-1.2zM105.7 116.9h1.2v1.2h-1.2zM105.4 103.1h1.2v1.2h-1.2zM117.9 109.1h1.2v1.2h-1.2zM105.2 111.1h1.2v1.2h-1.2zM105.0 111.2h1.2v1.2h-1.2zM108.2 103.3h1.2v1.2h-1.2zM104.6 104.7h1.2v1.2h-1.2zM99.8 111.9h1.2v1.2h-1.2zM109.3 113.3h1.2v1.2h-1.2zM117.7 110.6h1.2v1.2h-1.2zM117.7 112.5h1.2v1.2h-1.2zM112.6 105.2h1.2v1.2h-1.2zM110.5 113.5h1.2v1.2h-1.2zM97.9 116.5h1.2v1.2h-1.2zM101.6 115.2h1.2v1.2h-1.2zM114.5 116.7h1.2v1.2h-1.2zM111.3 117.0h1.2v1.2h-1.2zM119.1 109.2h1.2v1.2h-1.2zM114.6 115.1h1.2v1.2h-1.2zM98.0 113.2h1.2v1.2h-1.2zM97.6 104.8h1.2v1.2h-1.2zM106.1 106.5h1.2v1.2h-1.2zM101.2 117.2h1.2v1.2h-1.2zM117.6 116.6h1.2v1.2h-1.2zM98.6 117.0h1.2v1.2h-1.2zM118.1 105.7h1.2v1.2h-1.2zM113.8 115.8h1.2v1.2h-1.2zM101.0 115.9h1.2v1.2h-1.2zM105.3 111.7h1.2v1.2h-1.2zM104.9 115.7h1.2v1.2h-1.2zM105.7 107.4h1.2v1.2h-1.2zM101.2 108.0h1.2v1.2h-1.2zM102.7 106.8h1.2v1.2h-1.2zM98.3 103.0h1.2v1.2h-1.2zM116.9 113.5h1.2v1.2h-1.2zM102.4 106.3h1.2v1.2h-1.2zM109.2 113.2h1.2v1.2h-1.2zM114.2 104.9h1.2v1.2h-1.2zM110.3 114.0h1.2v1.2h-1.2zM97.4 114.8h1.2v1.2h-1.2zM103.0 116.0h1.2v1.2h-1.2zM98.4 114.6h1.2v1.2h-1.2zM104.5 111.2h1.2v1.2h-1.2zM100.7 111.9h1.2v1.2h-1.2zM117.3 113.8h1.2v1.2h-1.2zM108.6 99.7h1.2v1.2h-1.2zM102.0 111.9h1.2v1.2h-1.2zM98.4 115.7h1.2v1.2h-1.2zM106.2 116.9h1.2v1.2h-1.2zM99.0 106.1h1.2v1.2h-1.2zM108.1 106.3h1.2v1.2h-1.2zM98.4 108.0h1.2v1.2h-1.2zM109.1 109.7h1.2v1.2h-1.2zM119.3 111.4h1.2v1.2h-1.2zM106.0 99.1h1.2v1.2h-1.2zM117.6 114.9h1.2v1.2h-1.2zM102.5 107.5h1.2v1.2h-1.2zM119.5 114.2h1.2v1.2h-1.2zM113.8 94.7h1.2v1.2h-1.2zM116.0 113.8h1.2v1.2h-1.2zM118.6 103.6h1.2v1.2h-1.2zM119.9 100.4h1.2v1.2h-1.2zM105.0 114.3h1.2v1.2h-1.2zM115.5 115.5h1.2v1.2h-1.2zM106.3 114.6h1.2v1.2h-1.2zM109.8 115.3h1.2v1.2h-1.2zM105.0 117.2h1.2v1.2h-1.2zM100.3 109.2h1.2v1.2h-1.2zM117.2 115.4h1.2v1.2h-1.2zM114.0 102.6h1.2v1.2h-1.2zM110.1 101.8h1.2v1.2h-1.2zM107.2 113.8h1.2v1.2h-1.2zM104.9 116.7h1.2v1.2h-1.2zM114.7 111.8h1.2v1.2h-1.2zM98.3 117.0h1.2v1.2h-1.2zM105.3 114.9h1.2v1.2h-1.2zM101.3 113.5h1.2v1.2h-1.2zM113.4 96.0h1.2v1.2h-1.2zM119.9 113.8h1.2v1.2h-1.2zM103.2 115.7h1.2v1.2h-1.2zM120.3 109.9h1.2v1.2h-1.2zM97.7 103.7h1.2v1.2h-1.2zM111.8 110.8h1.2v1.2h-1.2zM111.7 102.9h1.2v1.2h-1.2zM110.0 104.2h1.2v1.2h-1.2zM105.5 114.8h1.2v1.2h-1.2zM119.1 105.4h1.2v1.2h-1.2zM110.3 116.4h1.2v1.2h-1.2zM108.3 116.3h1.2v1.2h-1.2zM108.9 101.7h1.2v1.2h-1.2zM119.0 106.0h1.2v1.2h-1.2zM113.6 116.0h1.2v1.2h-1.2zM112.6 114.8h1.2v1.2h-1.2zM110.7 93.7h1.2v1.2h-1.2zM109.0 115.9h1.2v1.2h-1.2zM111.5 117.3h1.2v1.2h-1.2zM104.9 111.0h1.2v1.2h-1.2zM115.8 114.8h1.2v1.2h-1.2zM110.0 98.8h1.2v1.2h-1.2zM120.1 113.2h1.2v1.2h-1.2zM98.5 113.9h1.2v1.2h-1.2zM100.3 102.8h1.2v1.2h-1.2zM107.2 100.8h1.2v1.2h-1.2zM107.3 116.6h1.2v1.2h-1.2zM107.6 109.4h1.2v1.2h-1.2zM105.3 110.9h1.2v1.2h-1.2zM104.9 116.9h1.2v1.2h-1.2zM117.5 115.9h1.2v1.2h-1.2zM108.9 112.8h1.2v1.2h-1.2zM113.3 111.0h1.2v1.2h-1.2zM105.1 113.4h1.2v1.2h-1.2zM107.6 107.1h1.2v1.2h-1.2zM110.0 109.1h1.2v1.2h-1.2zM108.5 105.4h1.2v1.2h-1.2zM118.4 116.8h1.2v1.2h-1.2zM117.9 117.1h1.2v1.2h-1.2zM108.2 109.6h1.2v1.2h-1.2zM105.3 100.9h1.2v1.2h-1.2zM107.2 111.0h1.2v1.2h-1.2zM112.2 106.2h1.2v1.2h-1.2zM98.5 113.4h1.2v1.2h-1.2zM103.2 102.5h1.2v1.2h-1.2zM110.2 115.1h1.2v1.2h-1.2zM98.9 114.4h1.2v1.2h-1.2zM119.7 115.9h1.2v1.2h-1.2zM108.2 115.0h1.2v1.2h-1.2zM108.6 106.8h1.2v1.2h-1.2zM118.6 116.3h1.2v1.2h-1.2zM110.1 114.1h1.2v1.2h-1.2zM107.5 103.3h1.2v1.2h-1.2zM118.9 112.3h1.2v1.2h-1.2zM104.8 116.2h1.2v1.2h-1.2zM105.9 97.7h1.2v1.2h-1.2zM100.6 112.0h1.2v1.2h-1.2zM106.3 112.5h1.2v1.2h-1.2zM105.1 115.0h1.2v1.2h-1.2zM119.4 113.6h1.2v1.2h-1.2zM115.3 100.3h1.2v1.2h-1.2zM108.5 101.1h1.2v1.2h-1.2zM97.8 115.1h1.2v1.2h-1.2zM103.0 95.3h1.2v1.2h-1.2zM105.9 115.9h1.2v1.2h-1.2zM117.9 106.3h1.2v1.2h-1.2zM113.1 101.4h1.2v1.2h-1.2zM113.0 109.7h1.2v1.2h-1.2zM99.8 94.8h1.2v1.2h-1.2zM105.1 117.3h1.2v1.2h-1.2zM118.2 111.9h1.2v1.2h-1.2zM97.7 115.9h1.2v1.2h-1.2zM115.6 116.7h1.2v1.2h-1.2zM103.6 104.4h1.2v1.2h-1.2zM104.8 96.6h1.2v1.2h-1.2zM113.4 116.9h1.2v1.2h-1.2zM120.0 116.6h1.2v1.2h-1.2zM103.6 116.3h1.2v1.2h-1.2zM112.6 98.6h1.2v1.2h-1.2zM120.3 111.4h1.2v1.2h-1.2zM101.1 109.4h1.2v1.2h-1.2zM105.7 103.3h1.2v1.2h-1.2zM107.2 116.6h1.2v1.2h-1.2zM100.3 115.1h1.2v1.2h-1.2zM99.6 113.1h1.2v1.2h-1.2zM114.7 109.4h1.2v1.2h-1.2zM107.3 115.7h1.2v1.2h-1.2zM103.0 106.7h1.2v1.2h-1.2zM114.6 113.9h1.2v1.2h-1.2zM98.4 94.7h1.2v1.2h-1.2zM98.5 90.5h1.2v1.2h-1.2zM99.4 111.7h1.2v1.2h-1.2zM114.4 108.8h1.2v1.2h-1.2zM115.0 114.0h1.2v1.2h-1.2zM118.1 110.3h1.2v1.2h-1.2zM98.9 114.9h1.2v1.2h-1.2zM113.6 113.9h1.2v1.2h-1.2zM98.8 109.2h1.2v1.2h-1.2zM116.2 107.8h1.2v1.2h-1.2zM99.8 114.8h1.2v1.2h-1.2zM113.6 110.6h1.2v1.2h-1.2zM112.6 116.7h1.2v1.2h-1.2zM97.5 115.8h1.2v1.2h-1.2zM102.0 116.8h1.2v1.2h-1.2zM120.3 114.8h1.2v1.2h-1.2zM105.8 115.8h1.2v1.2h-1.2zM113.2 113.9h1.2v1.2h-1.2zM114.6 115.5h1.2v1.2h-1.2zM106.2 110.4h1.2v1.2h-1.2zM113.4 110.6h1.2v1.2h-1.2zM116.0 115.2h1.2v1.2h-1.2zM116.1 113.4h1.2v1.2h-1.2zM104.3 117.2h1.2v1.2h-1.2zM100.0 107.8h1.2v1.2h-1.2zM99.1 107.4h1.2v1.2h-1.2zM114.7 114.7h1.2v1.2h-1.2zM105.8 109.7h1.2v1.2h-1.2zM104.9 113.8h1.2v1.2h-1.2zM114.0 115.7h1.2v1.2h-1.2zM112.6 115.5h1.2v1.2h-1.2zM108.5 116.7h1.2v1.2h-1.2zM107.4 104.7h1.2v1.2h-1.2zM104.7 102.7h1.2v1.2h-1.2zM117.3 111.9h1.2v1.2h-1.2zM112.2 99.3h1.2v1.2h-1.2zM101.9 112.9h1.2v1.2h-1.2zM105.2 114.5h1.2v1.2h-1.2zM110.9 115.8h1.2v1.2h-1.2zM118.1 116.5h1.2v1.2h-1.2zM99.2 112.7h1.2v1.2h-1.2zM105.0 108.1h1.2v1.2h-1.2zM103.1 101.5h1.2v1.2h-1.2zM106.0 115.2h1.2v1.2h-1.2zM113.7 106.9h1.2v1.2h-1.2zM114.2 115.9h1.2v1.2h-1.2zM105.6 115.1h1.2v1.2h-1.2zM114.8 109.3h1.2v1.2h-1.2zM115.5 109.2h1.2v1.2h-1.2zM117.7 110.1h1.2v1.2h-1.2zM99.6 113.8h1.2v1.2h-1.2zM117.9 105.0h1.2v1.2h-1.2zM115.5 114.8h1.2v1.2h-1.2zM114.0 109.2h1.2v1.2h-1.2zM113.1 113.2h1.2v1.2h-1.2zM118.0 105.8h1.2v1.2h-1.2zM107.5 114.0h1.2v1.2h-1.2zM98.3 109.7h1.2v1.2h-1.2zM98.8 110.5h1.2v1.2h-1.2zM100.3 113.9h1.2v1.2h-1.2zM117.1 113.0h1.2v1.2h-1.2zM105.0 111.8h1.2v1.2h-1.2zM105.7 114.3h1.2v1.2h-1.2zM105.5 115.0h1.2v1.2h-1.2zM99.6 111.3h1.2v1.2h-1.2zM105.2 115.7h1.2v1.2h-1.2zM115.0 115.7h1.2v1.2h-1.2zM110.6 114.9h1.2v1.2h-1.2zM105.1 116.7h1.2v1.2h-1.2zM102.9 113.8h1.2v1.2h-1.2zM118.4 117.2h1.2v1.2h-1.2zM105.7 91.1h1.2v1.2h-1.2zM99.3 114.4h1.2v1.2h-1.2zM120.3 107.2h1.2v1.2h-1.2zM104.7 110.7h1.2v1.2h-1.2zM111.2 116.1h1.2v1.2h-1.2zM108.2 98.2h1.2v1.2h-1.2zM113.3 93.8h1.2v1.2h-1.2zM114.6 100.3h1.2v1.2h-1.2zM104.5 104.8h1.2v1.2h-1.2zM99.0 103.0h1.2v1.2h-1.2zM105.2 115.2h1.2v1.2h-1.2zM109.3 92.9h1.2v1.2h-1.2zM118.2 112.7h1.2v1.2h-1.2zM117.3 104.5h1.2v1.2h-1.2zM105.1 111.5h1.2v1.2h-1.2zM103.9 116.8h1.2v1.2h-1.2zM105.9 116.6h1.2v1.2h-1.2zM109.6 114.9h1.2v1.2h-1.2zM113.1 114.8h1.2v1.2h-1.2zM119.4 114.6h1.2v1.2h-1.2zM101.1 110.7h1.2v1.2h-1.2zM107.7 114.1h1.2v1.2h-1.2zM105.6 107.0h1.2v1.2h-1.2zM109.2 115.8h1.2v1.2h-1.2zM113.1 110.5h1.2v1.2h-1.2zM108.3 116.0h1.2v1.2h-1.2zM98.0 111.0h1.2v1.2h-1.2zM109.3 108.3h1.2v1.2h-1.2zM117.4 115.2h1.2v1.2h-1.2zM113.9 109.3h1.2v1.2h-1.2zM105.1 112.5h1.2v1.2h-1.2zM115.3 112.2h1.2v1.2h-1.2zM105.7 109.0h1.2v1.2h-1.2zM107.1 113.7h1.2v1.2h-1.2zM116.3 110.9h1.2v1.2h-1.2zM109.2 111.3h1.2v1.2h-1.2zM113.2 112.9h1.2v1.2h-1.2zM114.7 112.8h1.2v1.2h-1.2zM115.8 113.8h1.2v1.2h-1.2zM113.2 112.7h1.2v1.2h-1.2zM102.1 103.4h1.2v1.2h-1.2zM105.8 102.7h1.2v1.2h-1.2zM113.5 117.0h1.2v1.2h-1.2zM112.8 115.1h1.2v1.2h-1.2zM99.4 115.9h1.2v1.2h-1.2zM111.3 95.8h1.2v1.2h-1.2zM97.5 116.9h1.2v1.2h-1.2zM117.8 112.4h1.2v1.2h-1.2zM117.2 116.4h1.2v1.2h-1.2zM108.1 107.9h1.2v1.2h-1.2zM101.9 98.2h1.2v1.2h-1.2zM118.5 115.6h1.2v1.2h-1.2zM106.5 115.8h1.2v1.2h-1.2zM117.4 113.3h1.2v1.2h-1.2zM115.0 107.6h1.2v1.2h-1.2zM106.6 116.3h1.2v1.2h-1.2zM118.4 100.8h1.2v1.2h-1.2zM107.2 113.9h1.2v1.2h-1.2zM118.3 110.9h1.2v1.2h-1.2zM117.8 107.1h1.2v1.2h-1.2zM105.2 115.3h1.2v1.2h-1.2zM116.8 115.0h1.2v1.2h-1.2zM117.5 115.1h1.2v1.2h-1.2zM100.6 112.4h1.2v1.2h-1.2zM118.0 110.0h1.2v1.2h-1.2zM113.4 107.9h1.2v1.2h-1.2zM116.1 113.8h1.2v1.2h-1.2zM119.3 116.0h1.2v1.2h-1.2zM99.7 115.0h1.2v1.2h-1.2zM107.4 115.3h1.2v1.2h-1.2zM117.6 106.1h1.2v1.2h-1.2zM116.6 113.0h1.2v1.2h-1.2zM97.8 101.1h1.2v1.2h-1.2zM99.7 103.9h1.2v1.2h-1.2zM99.7 113.8h1.2v1.2h-1.2zM120.1 111.2h1.2v1.2h-1.2zM119.0 116.2h1.2v1.2h-1.2zM113.2 111.0h1.2v1.2h-1.2zM100.9 112.4h1.2v1.2h-1.2zM99.7 106.2h1.2v1.2h-1.2zM98.6 115.6h1.2v1.2h-1.2zM105.3 106.4h1.2v1.2h-1.2zM98.1 113.5h1.2v1.2h-1.2zM115.5 109.5h1.2v1.2h-1.2zM115.5 105.2h1.2v1.2h-1.2zM112.9 117.2h1.2v1.2h-1.2zM117.9 117.1h1.2v1.2h-1.2zM106.9 101.0h1.2v1.2h-1.2zM104.6 116.9h1.2v1.2h-1.2zM109.2 113.8h1.2v1.2h-1.2zM115.1 106.5h1.2v1.2h-1.2zM101.5 114.1h1.2v1.2h-1.2zM106.8 110.7h1.2v1.2h-1.2zM108.0 112.1h1.2v1.2h-1.2zM119.7 110.3h1.2v1.2h-1.2zM107.3 117.3h1.2v1.2h-1.2zM104.7 111.2h1.2v1.2h-1.2zM108.2 116.5h1.2v1.2h-1.2zM114.0 117.3h1.2v1.2h-1.2zM108.9 113.8h1.2v1.2h-1.2zM109.6 117.0h1.2v1.2h-1.2zM100.0 107.8h1.2v1.2h-1.2zM119.8 116.7h1.2v1.2h-1.2zM120.3 115.2h1.2v1.2h-1.2zM118.5 109.9h1.2v1.2h-1.2zM112.0 109.1h1.2v1.2h-1.2zM100.1 113.5h1.2v1.2h-1.2zM107.6 116.6h1.2v1.2h-1.2zM106.1 116.0h1.2v1.2h-1.2zM113.8 114.4h1.2v1.2h-1.2zM110.2 106.4h1.2v1.2h-1.2zM112.4 115.5h1.2v1.2h-1.2zM100.9 114.3h1.2v1.2h-1.2zM105.7 111.7h1.2v1.2h-1.2zM106.9 100.3h1.2v1.2h-1.2zM102.9 112.3h1.2v1.2h-1.2zM98.2 113.7h1.2v1.2h-1.2zM104.4 111.9h1.2v1.2h-1.2zM98.9 101.6h1.2v1.2h-1.2zM116.5 107.2h1.2v1.2h-1.2zM115.8 116.8h1.2v1.2h-1.2zM118.0 115.8h1.2v1.2h-1.2zM114.0 116.9h1.2v1.2h-1.2zM99.1 113.8h1.2v1.2h-1.2zM104.6 97.0h1.2v1.2h-1.2zM119.9 112.5h1.2v1.2h-1.2zM104.4 117.0h1.2v1.2h-1.2zM99.8 111.9h1.2v1.2h-1.2zM103.8 113.1h1.2v1.2h-1.2zM99.5 117.2h1.2v1.2h-1.2zM104.9 112.4h1.2v1.2h-1.2zM109.1 116.7h1.2v1.2h-1.2zM105.2 114.5h1.2v1.2h-1.2zM118.0 115.6h1.2v1.2h-1.2zM109.2 111.8h1.2v1.2h-1.2zM102.9 113.8h1.2v1.2h-1.2zM119.2 105.5h1.2v1.2h-1.2zM100.5 112.5h1.2v1.2h-1.2zM120.1 117.2h1.2v1.2h-1.2zM97.7 101.1h1.2v1.2h-1.2zM101.4 110.9h1.2v1.2h-1.2zM113.7 116.1h1.2v1.2h-1.2zM109.6 114.0h1.2v1.2h-1.2zM119.4 114.3h1.2v1.2h-1.2zM101.9 110.6h1.2v1.2h-1.2zM119.9 115.3h1.2v1.2h-1.2zM106.6 114.2h1.2v1.2h-1.2zM100.6 112.9h1.2v1.2h-1.2zM119.2 115.6h1.2v1.2h-1.2zM113.8 100.3h1.2v1.2h-1.2zM117.6 115.4h1.2v1.2h-1.2zM108.3 115.0h1.2v1.2h-1.2zM115.8 106.0h1.2v1.2h-1.2zM112.8 116.2h1.2v1.2h-1.2zM117.1 112.7h1.2v1.2h-1.2zM117.3 112.8h1.2v1.2h-1.2zM120.0 114.9h1.2v1.2h-1.2zM104.4 115.4h1.2v1.2h-1.2zM97.7 113.8h1.2v1.2h-1.2zM97.7 105.3h1.2v1.2h-1.2zM97.4 97.6h1.2v1.2h-1.2zM106.0 115.6h1.2v1.2h-1.2zM108.0 114.0h1.2v1.2h-1.2zM99.5 113.7h1.2v1.2h-1.2zM99.1 104.0h1.2v1.2h-1.2zM117.7 117.2h1.2v1.2h-1.2zM116.0 110.1h1.2v1.2h-1.2zM116.1 116.3h1.2v1.2h-1.2zM103.5 114.2h1.2v1.2h-1.2zM117.1 114.8h1.2v1.2h-1.2zM101.9 115.2h1.2v1.2h-1.2zM98.5 113.1h1.2v1.2h-1.2zM98.3 115.5h1.2v1.2h-1.2zM119.1 115.5h1.2v1.2h-1.2zM117.5 79.2h1.3v1.3h-1.3zM99.4 91.8h1.3v1.3h-1.3zM107.4 90.9h1.3v1.3h-1.3zM111.9 92.9h1.3v1.3h-1.3z" fill="#bebebe"/>
<rect x="124.0" y="118.4" width="22.8" height="50.8" fill="#e3372b"/>
<path d="M125.0 107.5h1.2v1.2h-1.2zM125.2 114.5h1.2v1.2h-1.2zM129.4 117.7h1.2v1.2h-1.2zM132.9 100.3h1.2v1.2h-1.2zM142.4 109.2h1.2v1.2h-1.2zM129.1 115.8h1.2v1.2h-1.2zM132.5 111.9h1.2v1.2h-1.2zM131.0 112.5h1.2v1.2h-1.2zM128.4 115.5h1.2v1.2h-1.2zM134.1 106.7h1.2v1.2h-1.2zM134.6 115.2h1.2v1.2h-1.2zM138.7 112.9h1.2v1.2h-1.2zM139.0 99.7h1.2v1.2h-1.2zM135.4 117.2h1.2v1.2h-1.2zM133.4 113.9h1.2v1.2h-1.2zM134.9 117.7h1.2v1.2h-1.2zM134.1 109.5h1.2v1.2h-1.2zM130.6 112.5h1.2v1.2h-1.2zM136.9 111.5h1.2v1.2h-1.2zM138.6 112.9h1.2v1.2h-1.2zM130.4 109.7h1.2v1.2h-1.2zM131.2 113.4h1.2v1.2h-1.2zM136.2 103.9h1.2v1.2h-1.2zM145.4 117.7h1.2v1.2h-1.2zM135.9 110.4h1.2v1.2h-1.2zM137.5 114.1h1.2v1.2h-1.2zM135.5 110.9h1.2v1.2h-1.2zM124.3 115.6h1.2v1.2h-1.2zM125.3 108.9h1.2v1.2h-1.2zM136.1 108.7h1.2v1.2h-1.2zM139.6 110.6h1.2v1.2h-1.2zM140.6 112.4h1.2v1.2h-1.2zM133.2 116.2h1.2v1.2h-1.2zM132.3 115.4h1.2v1.2h-1.2zM127.8 113.2h1.2v1.2h-1.2zM144.2 117.7h1.2v1.2h-1.2zM138.6 107.5h1.2v1.2h-1.2zM131.3 111.3h1.2v1.2h-1.2zM131.1 117.4h1.2v1.2h-1.2zM144.1 113.4h1.2v1.2h-1.2zM133.9 109.9h1.2v1.2h-1.2zM142.1 117.1h1.2v1.2h-1.2zM127.3 115.7h1.2v1.2h-1.2zM125.2 104.0h1.2v1.2h-1.2zM135.9 109.4h1.2v1.2h-1.2zM142.0 94.0h1.2v1.2h-1.2zM134.4 111.3h1.2v1.2h-1.2zM142.3 113.1h1.2v1.2h-1.2zM127.6 112.5h1.2v1.2h-1.2zM138.8 111.0h1.2v1.2h-1.2zM126.6 109.3h1.2v1.2h-1.2zM130.6 117.2h1.2v1.2h-1.2zM128.3 108.5h1.2v1.2h-1.2zM133.6 117.3h1.2v1.2h-1.2zM127.9 116.5h1.2v1.2h-1.2zM124.1 104.2h1.2v1.2h-1.2zM126.7 114.4h1.2v1.2h-1.2zM128.4 115.0h1.2v1.2h-1.2zM139.6 109.0h1.2v1.2h-1.2zM140.9 113.5h1.2v1.2h-1.2zM126.7 115.1h1.2v1.2h-1.2zM126.4 114.6h1.2v1.2h-1.2zM128.1 106.0h1.2v1.2h-1.2zM130.6 112.3h1.2v1.2h-1.2zM133.9 114.4h1.2v1.2h-1.2zM142.6 116.1h1.2v1.2h-1.2zM133.8 112.0h1.2v1.2h-1.2zM128.1 117.8h1.2v1.2h-1.2zM142.1 98.9h1.2v1.2h-1.2zM134.2 113.2h1.2v1.2h-1.2zM125.8 115.0h1.2v1.2h-1.2zM128.2 114.5h1.2v1.2h-1.2zM143.7 104.4h1.2v1.2h-1.2zM134.3 98.9h1.2v1.2h-1.2zM127.8 112.0h1.2v1.2h-1.2zM131.3 107.8h1.2v1.2h-1.2zM129.6 114.2h1.2v1.2h-1.2zM128.2 108.7h1.2v1.2h-1.2zM125.9 96.1h1.2v1.2h-1.2zM139.4 111.7h1.2v1.2h-1.2zM133.8 114.6h1.2v1.2h-1.2zM128.9 115.7h1.2v1.2h-1.2zM128.8 109.7h1.2v1.2h-1.2zM138.3 113.0h1.2v1.2h-1.2zM129.2 112.2h1.2v1.2h-1.2zM145.4 115.6h1.2v1.2h-1.2zM145.6 110.3h1.2v1.2h-1.2zM138.2 117.5h1.2v1.2h-1.2zM138.5 115.8h1.2v1.2h-1.2zM143.9 114.5h1.2v1.2h-1.2zM135.5 117.6h1.2v1.2h-1.2zM144.5 111.2h1.2v1.2h-1.2zM143.9 108.1h1.2v1.2h-1.2zM135.5 114.6h1.2v1.2h-1.2zM135.6 114.0h1.2v1.2h-1.2zM139.1 114.5h1.2v1.2h-1.2zM136.0 114.2h1.2v1.2h-1.2zM129.2 109.7h1.2v1.2h-1.2zM139.0 109.6h1.2v1.2h-1.2zM127.0 113.5h1.2v1.2h-1.2zM126.2 115.5h1.2v1.2h-1.2zM140.0 117.8h1.2v1.2h-1.2zM142.8 109.1h1.2v1.2h-1.2zM130.5 116.3h1.2v1.2h-1.2zM130.5 110.5h1.2v1.2h-1.2zM137.8 93.7h1.2v1.2h-1.2zM145.3 117.8h1.2v1.2h-1.2zM124.6 113.3h1.2v1.2h-1.2zM140.6 115.7h1.2v1.2h-1.2zM130.9 112.6h1.2v1.2h-1.2zM132.6 115.6h1.2v1.2h-1.2zM139.0 115.9h1.2v1.2h-1.2zM127.0 109.8h1.2v1.2h-1.2zM137.5 107.2h1.2v1.2h-1.2zM138.6 112.6h1.2v1.2h-1.2zM128.3 115.7h1.2v1.2h-1.2zM133.5 116.6h1.2v1.2h-1.2zM129.3 110.3h1.2v1.2h-1.2zM139.8 116.2h1.2v1.2h-1.2zM129.8 105.6h1.2v1.2h-1.2zM130.1 109.9h1.2v1.2h-1.2zM136.1 116.2h1.2v1.2h-1.2zM144.7 117.8h1.2v1.2h-1.2zM140.2 109.2h1.2v1.2h-1.2zM129.7 115.4h1.2v1.2h-1.2zM138.0 115.9h1.2v1.2h-1.2zM144.6 117.0h1.2v1.2h-1.2zM137.8 115.4h1.2v1.2h-1.2zM133.2 117.3h1.2v1.2h-1.2zM134.8 115.2h1.2v1.2h-1.2zM141.7 117.6h1.2v1.2h-1.2zM137.5 116.1h1.2v1.2h-1.2zM138.3 105.5h1.2v1.2h-1.2zM126.1 103.0h1.2v1.2h-1.2zM124.7 111.0h1.2v1.2h-1.2zM131.4 111.3h1.2v1.2h-1.2zM142.6 115.2h1.2v1.2h-1.2zM138.0 116.6h1.2v1.2h-1.2zM124.9 116.0h1.2v1.2h-1.2zM134.5 113.7h1.2v1.2h-1.2zM144.6 112.1h1.2v1.2h-1.2zM127.2 115.1h1.2v1.2h-1.2zM139.8 102.5h1.2v1.2h-1.2zM138.9 116.5h1.2v1.2h-1.2zM124.4 114.0h1.2v1.2h-1.2zM128.3 113.9h1.2v1.2h-1.2zM138.9 114.3h1.2v1.2h-1.2zM128.8 109.6h1.2v1.2h-1.2zM134.6 110.5h1.2v1.2h-1.2zM135.7 114.8h1.2v1.2h-1.2zM124.9 102.4h1.2v1.2h-1.2zM141.3 114.2h1.2v1.2h-1.2zM130.5 113.3h1.2v1.2h-1.2zM138.5 115.4h1.2v1.2h-1.2zM128.1 110.4h1.2v1.2h-1.2zM135.5 113.6h1.2v1.2h-1.2zM124.9 117.1h1.2v1.2h-1.2zM134.5 101.7h1.2v1.2h-1.2zM129.5 103.7h1.2v1.2h-1.2zM136.2 113.6h1.2v1.2h-1.2zM129.1 116.5h1.2v1.2h-1.2zM139.7 116.0h1.2v1.2h-1.2zM131.8 104.8h1.2v1.2h-1.2zM139.1 113.8h1.2v1.2h-1.2zM134.8 112.8h1.2v1.2h-1.2zM142.9 114.9h1.2v1.2h-1.2zM138.7 114.9h1.2v1.2h-1.2zM134.9 102.6h1.2v1.2h-1.2zM135.9 116.3h1.2v1.2h-1.2zM138.0 113.0h1.2v1.2h-1.2zM135.0 113.7h1.2v1.2h-1.2zM128.6 117.7h1.2v1.2h-1.2zM140.1 116.7h1.2v1.2h-1.2zM138.5 114.1h1.2v1.2h-1.2zM139.1 110.4h1.2v1.2h-1.2zM130.5 110.4h1.2v1.2h-1.2zM131.0 114.2h1.2v1.2h-1.2zM130.8 107.9h1.2v1.2h-1.2zM145.1 117.1h1.2v1.2h-1.2zM134.1 115.5h1.2v1.2h-1.2zM144.4 112.9h1.2v1.2h-1.2zM133.7 111.8h1.2v1.2h-1.2zM134.7 109.8h1.2v1.2h-1.2zM126.8 114.7h1.2v1.2h-1.2zM133.3 113.1h1.2v1.2h-1.2zM132.4 114.7h1.2v1.2h-1.2zM145.0 117.3h1.2v1.2h-1.2zM133.4 112.7h1.2v1.2h-1.2zM129.2 117.7h1.2v1.2h-1.2zM144.3 115.9h1.2v1.2h-1.2zM131.0 117.5h1.2v1.2h-1.2zM142.1 116.3h1.2v1.2h-1.2zM138.7 114.5h1.2v1.2h-1.2zM136.4 106.7h1.2v1.2h-1.2zM139.1 108.2h1.2v1.2h-1.2zM141.0 103.8h1.2v1.2h-1.2zM133.2 116.4h1.2v1.2h-1.2zM133.6 112.9h1.2v1.2h-1.2zM144.2 109.6h1.2v1.2h-1.2zM140.1 113.8h1.2v1.2h-1.2zM145.6 112.8h1.2v1.2h-1.2zM128.7 105.1h1.2v1.2h-1.2zM136.3 110.4h1.2v1.2h-1.2zM144.9 110.4h1.2v1.2h-1.2zM130.2 112.3h1.2v1.2h-1.2zM131.4 117.6h1.2v1.2h-1.2zM131.4 116.5h1.2v1.2h-1.2zM135.6 116.9h1.2v1.2h-1.2zM129.8 104.0h1.2v1.2h-1.2zM133.6 110.5h1.2v1.2h-1.2zM128.6 112.8h1.2v1.2h-1.2zM142.9 110.5h1.2v1.2h-1.2zM126.9 114.9h1.2v1.2h-1.2zM132.6 109.4h1.2v1.2h-1.2zM133.2 103.4h1.2v1.2h-1.2zM127.9 95.3h1.2v1.2h-1.2zM126.8 103.9h1.2v1.2h-1.2zM141.7 113.7h1.2v1.2h-1.2zM127.0 112.0h1.2v1.2h-1.2zM140.6 116.1h1.2v1.2h-1.2zM140.1 116.7h1.2v1.2h-1.2zM126.0 117.2h1.2v1.2h-1.2zM138.6 115.6h1.2v1.2h-1.2zM126.7 111.4h1.2v1.2h-1.2zM125.2 110.1h1.2v1.2h-1.2zM138.2 113.0h1.2v1.2h-1.2zM139.2 116.1h1.2v1.2h-1.2zM141.8 112.8h1.2v1.2h-1.2zM129.2 95.1h1.2v1.2h-1.2zM131.4 117.6h1.2v1.2h-1.2zM129.5 107.1h1.2v1.2h-1.2zM138.7 110.8h1.2v1.2h-1.2zM144.6 106.9h1.2v1.2h-1.2zM139.4 115.6h1.2v1.2h-1.2zM134.9 116.3h1.2v1.2h-1.2zM125.8 115.1h1.2v1.2h-1.2zM138.1 115.5h1.2v1.2h-1.2zM136.8 113.7h1.2v1.2h-1.2zM139.1 106.0h1.2v1.2h-1.2zM136.6 113.7h1.2v1.2h-1.2zM128.6 105.1h1.2v1.2h-1.2zM124.9 107.7h1.2v1.2h-1.2zM140.1 117.5h1.2v1.2h-1.2zM126.4 115.8h1.2v1.2h-1.2zM138.9 117.2h1.2v1.2h-1.2zM141.2 114.8h1.2v1.2h-1.2zM126.4 116.8h1.2v1.2h-1.2zM126.7 115.1h1.2v1.2h-1.2zM135.9 114.9h1.2v1.2h-1.2zM125.9 115.6h1.2v1.2h-1.2zM142.7 103.4h1.2v1.2h-1.2zM135.6 109.0h1.2v1.2h-1.2zM126.5 116.2h1.2v1.2h-1.2zM140.2 115.6h1.2v1.2h-1.2zM135.6 117.2h1.2v1.2h-1.2zM141.2 108.8h1.2v1.2h-1.2zM130.9 116.9h1.2v1.2h-1.2zM139.0 115.2h1.2v1.2h-1.2zM134.4 111.8h1.2v1.2h-1.2zM126.3 115.6h1.2v1.2h-1.2zM140.1 105.6h1.2v1.2h-1.2zM139.0 114.9h1.2v1.2h-1.2zM140.4 113.2h1.2v1.2h-1.2zM129.9 105.5h1.2v1.2h-1.2zM130.6 117.3h1.2v1.2h-1.2zM129.1 113.5h1.2v1.2h-1.2zM135.7 114.8h1.2v1.2h-1.2zM125.9 103.5h1.2v1.2h-1.2zM134.2 100.3h1.2v1.2h-1.2zM137.5 107.8h1.2v1.2h-1.2zM138.9 116.3h1.2v1.2h-1.2zM127.3 113.5h1.2v1.2h-1.2zM127.4 113.6h1.2v1.2h-1.2zM140.1 114.9h1.2v1.2h-1.2zM130.0 99.4h1.2v1.2h-1.2zM138.7 115.8h1.2v1.2h-1.2zM134.5 108.7h1.2v1.2h-1.2zM143.0 111.3h1.2v1.2h-1.2zM136.2 108.5h1.2v1.2h-1.2zM144.7 117.8h1.2v1.2h-1.2zM139.4 114.0h1.2v1.2h-1.2zM127.2 115.5h1.2v1.2h-1.2zM141.8 115.2h1.2v1.2h-1.2zM138.0 117.6h1.2v1.2h-1.2zM135.3 117.3h1.2v1.2h-1.2zM129.0 111.8h1.2v1.2h-1.2zM133.6 113.4h1.2v1.2h-1.2zM144.1 112.9h1.2v1.2h-1.2zM135.7 114.0h1.2v1.2h-1.2zM145.3 116.4h1.2v1.2h-1.2zM132.9 113.8h1.2v1.2h-1.2zM135.7 103.5h1.2v1.2h-1.2zM128.5 116.3h1.2v1.2h-1.2zM140.3 117.5h1.2v1.2h-1.2zM130.5 111.5h1.2v1.2h-1.2zM136.9 115.8h1.2v1.2h-1.2zM138.9 110.7h1.2v1.2h-1.2zM134.0 115.9h1.2v1.2h-1.2zM128.6 101.1h1.2v1.2h-1.2zM128.6 108.2h1.2v1.2h-1.2zM127.8 116.0h1.2v1.2h-1.2zM145.3 117.2h1.2v1.2h-1.2zM138.2 103.8h1.2v1.2h-1.2zM140.2 101.2h1.2v1.2h-1.2zM131.1 110.6h1.2v1.2h-1.2zM127.1 108.9h1.2v1.2h-1.2zM134.3 115.7h1.2v1.2h-1.2zM128.3 117.2h1.2v1.2h-1.2zM145.6 113.5h1.2v1.2h-1.2zM129.5 117.7h1.2v1.2h-1.2zM129.7 113.1h1.2v1.2h-1.2zM136.5 102.4h1.2v1.2h-1.2zM142.9 116.1h1.2v1.2h-1.2zM124.4 114.8h1.2v1.2h-1.2zM129.5 115.2h1.2v1.2h-1.2zM129.1 110.8h1.2v1.2h-1.2zM126.1 103.4h1.2v1.2h-1.2zM127.7 117.4h1.2v1.2h-1.2zM141.3 114.3h1.2v1.2h-1.2zM144.9 103.0h1.2v1.2h-1.2zM129.9 113.7h1.2v1.2h-1.2zM139.8 111.5h1.2v1.2h-1.2zM132.8 113.2h1.2v1.2h-1.2zM128.3 106.7h1.2v1.2h-1.2zM131.4 106.8h1.2v1.2h-1.2zM128.3 107.2h1.2v1.2h-1.2zM144.2 117.8h1.2v1.2h-1.2zM131.4 108.5h1.2v1.2h-1.2zM143.0 116.7h1.2v1.2h-1.2zM130.1 112.6h1.2v1.2h-1.2zM124.4 114.6h1.2v1.2h-1.2zM140.0 102.5h1.2v1.2h-1.2zM129.0 116.3h1.2v1.2h-1.2zM140.0 93.5h1.2v1.2h-1.2zM140.9 108.8h1.2v1.2h-1.2zM127.4 115.1h1.2v1.2h-1.2zM135.6 111.4h1.2v1.2h-1.2zM131.2 103.6h1.2v1.2h-1.2zM138.7 117.0h1.2v1.2h-1.2zM140.4 114.2h1.2v1.2h-1.2zM138.8 112.5h1.2v1.2h-1.2zM128.0 114.3h1.2v1.2h-1.2zM131.1 116.4h1.2v1.2h-1.2zM140.0 116.2h1.2v1.2h-1.2zM145.6 115.0h1.2v1.2h-1.2zM133.4 111.8h1.2v1.2h-1.2zM128.4 115.4h1.2v1.2h-1.2zM125.4 115.7h1.2v1.2h-1.2zM140.1 112.2h1.2v1.2h-1.2zM138.5 117.8h1.2v1.2h-1.2zM133.0 113.6h1.2v1.2h-1.2zM128.2 109.8h1.2v1.2h-1.2zM140.0 99.5h1.2v1.2h-1.2zM137.4 113.4h1.2v1.2h-1.2zM130.7 110.1h1.2v1.2h-1.2zM125.3 111.6h1.2v1.2h-1.2zM133.4 117.7h1.2v1.2h-1.2zM145.0 107.6h1.2v1.2h-1.2zM131.7 107.5h1.2v1.2h-1.2zM128.6 107.7h1.2v1.2h-1.2zM137.6 115.7h1.2v1.2h-1.2zM131.3 114.2h1.2v1.2h-1.2zM139.2 117.4h1.2v1.2h-1.2zM141.0 113.6h1.2v1.2h-1.2zM141.0 114.1h1.2v1.2h-1.2zM126.0 105.6h1.2v1.2h-1.2zM139.3 117.3h1.2v1.2h-1.2zM141.9 113.7h1.2v1.2h-1.2zM139.1 117.8h1.2v1.2h-1.2zM133.0 109.4h1.2v1.2h-1.2zM136.5 93.1h1.2v1.2h-1.2zM144.0 99.0h1.2v1.2h-1.2zM139.1 116.4h1.2v1.2h-1.2zM139.5 115.4h1.2v1.2h-1.2zM134.8 107.9h1.2v1.2h-1.2zM126.9 113.7h1.2v1.2h-1.2zM131.3 114.8h1.2v1.2h-1.2zM139.2 105.4h1.2v1.2h-1.2zM140.0 114.8h1.2v1.2h-1.2zM125.7 117.2h1.2v1.2h-1.2zM133.3 114.0h1.2v1.2h-1.2zM125.9 111.1h1.2v1.2h-1.2zM133.2 112.3h1.2v1.2h-1.2zM139.1 114.7h1.2v1.2h-1.2zM139.1 112.1h1.2v1.2h-1.2zM127.7 116.1h1.2v1.2h-1.2zM125.3 115.8h1.2v1.2h-1.2zM134.4 104.2h1.2v1.2h-1.2zM137.8 112.8h1.2v1.2h-1.2zM131.9 117.8h1.2v1.2h-1.2zM141.1 117.1h1.2v1.2h-1.2zM139.4 110.3h1.2v1.2h-1.2zM142.3 116.8h1.2v1.2h-1.2zM131.2 116.5h1.2v1.2h-1.2zM128.1 111.2h1.2v1.2h-1.2zM126.9 116.1h1.2v1.2h-1.2zM134.8 110.2h1.2v1.2h-1.2zM124.1 116.3h1.2v1.2h-1.2zM133.9 116.5h1.2v1.2h-1.2zM143.3 117.1h1.2v1.2h-1.2zM136.1 117.1h1.2v1.2h-1.2zM131.3 111.5h1.2v1.2h-1.2zM137.4 115.1h1.2v1.2h-1.2zM130.1 107.2h1.2v1.2h-1.2zM134.1 116.8h1.2v1.2h-1.2zM143.0 102.4h1.2v1.2h-1.2zM130.0 116.6h1.2v1.2h-1.2zM126.5 114.8h1.2v1.2h-1.2zM128.2 117.2h1.2v1.2h-1.2zM128.0 117.0h1.2v1.2h-1.2zM133.4 109.9h1.2v1.2h-1.2zM131.1 100.5h1.2v1.2h-1.2zM136.3 115.4h1.2v1.2h-1.2zM138.2 117.3h1.2v1.2h-1.2zM139.8 102.8h1.2v1.2h-1.2zM132.9 109.8h1.2v1.2h-1.2zM138.2 116.3h1.2v1.2h-1.2zM135.4 115.5h1.2v1.2h-1.2zM132.5 114.7h1.2v1.2h-1.2zM142.1 92.8h1.2v1.2h-1.2zM135.6 110.6h1.2v1.2h-1.2zM144.7 97.8h1.2v1.2h-1.2zM128.7 113.0h1.2v1.2h-1.2zM129.0 109.2h1.2v1.2h-1.2zM134.9 110.8h1.2v1.2h-1.2zM129.7 111.5h1.2v1.2h-1.2zM144.3 114.5h1.2v1.2h-1.2zM124.6 114.2h1.2v1.2h-1.2zM130.7 117.2h1.2v1.2h-1.2zM125.5 116.8h1.2v1.2h-1.2zM131.5 113.9h1.2v1.2h-1.2zM132.4 117.0h1.2v1.2h-1.2zM131.2 117.3h1.2v1.2h-1.2zM127.2 109.2h1.2v1.2h-1.2zM127.9 117.8h1.2v1.2h-1.2zM143.9 104.4h1.2v1.2h-1.2zM139.4 114.5h1.2v1.2h-1.2zM144.8 112.0h1.2v1.2h-1.2zM141.9 115.5h1.2v1.2h-1.2zM134.7 113.5h1.2v1.2h-1.2zM125.4 110.1h1.2v1.2h-1.2zM137.9 115.9h1.2v1.2h-1.2zM132.0 116.0h1.2v1.2h-1.2zM128.8 116.0h1.2v1.2h-1.2zM145.2 117.1h1.2v1.2h-1.2zM135.7 111.2h1.2v1.2h-1.2zM135.3 117.1h1.2v1.2h-1.2zM131.7 108.3h1.2v1.2h-1.2zM143.3 114.1h1.2v1.2h-1.2zM134.2 107.7h1.2v1.2h-1.2zM128.4 113.9h1.2v1.2h-1.2zM128.8 116.1h1.2v1.2h-1.2zM139.2 116.1h1.2v1.2h-1.2zM139.6 113.8h1.2v1.2h-1.2zM142.6 100.3h1.2v1.2h-1.2zM125.1 106.1h1.2v1.2h-1.2zM138.6 103.8h1.2v1.2h-1.2zM126.9 117.8h1.2v1.2h-1.2zM130.8 115.4h1.2v1.2h-1.2zM134.2 117.4h1.2v1.2h-1.2zM133.7 116.1h1.2v1.2h-1.2zM143.5 117.0h1.2v1.2h-1.2zM144.9 105.3h1.2v1.2h-1.2zM126.3 114.4h1.2v1.2h-1.2zM141.0 116.7h1.2v1.2h-1.2zM138.8 117.8h1.2v1.2h-1.2zM126.1 109.9h1.2v1.2h-1.2zM144.0 116.4h1.2v1.2h-1.2zM128.9 117.6h1.2v1.2h-1.2zM135.4 113.6h1.2v1.2h-1.2zM132.4 108.1h1.2v1.2h-1.2zM128.4 114.5h1.2v1.2h-1.2zM140.3 111.1h1.2v1.2h-1.2zM133.6 112.7h1.2v1.2h-1.2zM125.0 115.5h1.2v1.2h-1.2zM137.5 108.6h1.2v1.2h-1.2zM144.7 116.2h1.2v1.2h-1.2zM128.6 111.1h1.2v1.2h-1.2zM134.3 112.3h1.2v1.2h-1.2zM124.2 117.8h1.2v1.2h-1.2zM129.7 116.1h1.2v1.2h-1.2zM126.4 108.9h1.2v1.2h-1.2zM136.1 112.5h1.2v1.2h-1.2zM143.4 113.7h1.2v1.2h-1.2zM138.5 116.7h1.2v1.2h-1.2zM133.6 115.1h1.2v1.2h-1.2zM134.3 117.6h1.2v1.2h-1.2zM125.5 114.4h1.2v1.2h-1.2zM129.1 114.3h1.2v1.2h-1.2zM137.0 114.7h1.2v1.2h-1.2zM140.0 116.9h1.2v1.2h-1.2zM129.6 113.5h1.2v1.2h-1.2zM142.7 104.0h1.2v1.2h-1.2zM133.7 116.1h1.2v1.2h-1.2zM135.5 116.4h1.2v1.2h-1.2zM134.8 115.3h1.2v1.2h-1.2zM127.1 116.2h1.2v1.2h-1.2zM129.4 117.7h1.2v1.2h-1.2zM130.5 112.4h1.2v1.2h-1.2zM126.6 109.0h1.2v1.2h-1.2zM136.6 117.2h1.2v1.2h-1.2zM128.1 106.7h1.2v1.2h-1.2zM139.3 111.0h1.2v1.2h-1.2zM124.4 115.4h1.2v1.2h-1.2zM133.3 102.1h1.2v1.2h-1.2zM124.0 115.3h1.2v1.2h-1.2zM129.5 102.9h1.2v1.2h-1.2zM125.9 117.7h1.2v1.2h-1.2zM136.9 111.8h1.2v1.2h-1.2zM124.8 114.4h1.2v1.2h-1.2zM137.0 117.6h1.2v1.2h-1.2zM135.3 113.3h1.2v1.2h-1.2zM135.2 114.8h1.2v1.2h-1.2zM127.9 112.9h1.2v1.2h-1.2zM126.6 102.2h1.2v1.2h-1.2zM140.8 114.5h1.2v1.2h-1.2zM137.1 115.6h1.2v1.2h-1.2zM143.7 104.8h1.2v1.2h-1.2zM143.4 107.0h1.2v1.2h-1.2zM135.0 109.5h1.2v1.2h-1.2zM138.9 114.0h1.2v1.2h-1.2zM136.0 109.0h1.2v1.2h-1.2zM139.8 117.0h1.2v1.2h-1.2zM129.5 115.8h1.2v1.2h-1.2zM139.7 110.7h1.2v1.2h-1.2zM136.6 115.8h1.2v1.2h-1.2zM132.2 109.6h1.2v1.2h-1.2zM125.3 106.0h1.2v1.2h-1.2zM126.3 117.3h1.2v1.2h-1.2zM140.6 112.3h1.2v1.2h-1.2zM138.4 113.6h1.2v1.2h-1.2zM138.6 117.0h1.2v1.2h-1.2zM133.3 110.8h1.2v1.2h-1.2zM132.3 113.3h1.2v1.2h-1.2zM138.5 115.1h1.2v1.2h-1.2zM128.5 116.8h1.2v1.2h-1.2zM130.1 108.5h1.2v1.2h-1.2zM137.1 110.1h1.2v1.2h-1.2zM130.9 107.6h1.2v1.2h-1.2zM128.8 117.8h1.2v1.2h-1.2zM136.0 109.6h1.2v1.2h-1.2zM129.8 114.6h1.2v1.2h-1.2zM133.7 117.5h1.2v1.2h-1.2zM133.7 116.1h1.2v1.2h-1.2zM133.2 115.5h1.2v1.2h-1.2zM143.5 97.8h1.2v1.2h-1.2zM128.1 115.9h1.2v1.2h-1.2zM126.6 114.3h1.2v1.2h-1.2zM127.9 106.8h1.2v1.2h-1.2zM139.6 112.6h1.2v1.2h-1.2zM143.6 112.5h1.2v1.2h-1.2zM142.7 105.0h1.2v1.2h-1.2zM130.2 109.0h1.2v1.2h-1.2zM139.7 112.9h1.2v1.2h-1.2zM128.1 110.6h1.2v1.2h-1.2zM145.5 117.7h1.2v1.2h-1.2zM128.5 115.6h1.2v1.2h-1.2zM135.2 117.0h1.2v1.2h-1.2zM132.0 102.9h1.2v1.2h-1.2zM138.5 107.9h1.2v1.2h-1.2zM137.6 111.5h1.2v1.2h-1.2zM139.6 117.4h1.2v1.2h-1.2zM140.0 116.6h1.2v1.2h-1.2zM135.6 117.5h1.2v1.2h-1.2zM139.7 112.9h1.2v1.2h-1.2zM126.3 97.1h1.3v1.3h-1.3zM144.5 91.8h1.3v1.3h-1.3zM144.5 94.4h1.3v1.3h-1.3z" fill="#e3372b"/>
<rect x="148.9" y="114.7" width="25.6" height="54.5" fill="#5ab6e6"/>
<path d="M162.3 109.1h1.2v1.2h-1.2zM151.5 112.5h1.2v1.2h-1.2zM156.9 109.9h1.2v1.2h-1.2zM150.4 112.2h1.2v1.2h-1.2zM168.0 107.5h1.2v1.2h-1.2zM173.3 112.9h1.2v1.2h-1.2zM156.2 112.6h1.2v1.2h-1.2zM159.0 113.7h1.2v1.2h-1.2zM160.9 111.5h1.2v1.2h-1.2zM168.5 110.8h1.2v1.2h-1.2zM159.4 113.8h1.2v1.2h-1.2zM154.2 113.0h1.2v1.2h-1.2zM170.5 110.5h1.2v1.2h-1.2zM169.1 112.5h1.2v1.2h-1.2zM167.1 110.5h1.2v1.2h-1.2zM157.2 111.2h1.2v1.2h-1.2zM163.7 111.3h1.2v1.2h-1.2zM151.1 112.9h1.2v1.2h-1.2zM158.0 111.5h1.2v1.2h-1.2zM158.0 112.9h1.2v1.2h-1.2zM155.1 113.5h1.2v1.2h-1.2zM149.7 113.4h1.2v1.2h-1.2zM172.5 112.5h1.2v1.2h-1.2zM162.0 104.5h1.2v1.2h-1.2zM163.9 111.6h1.2v1.2h-1.2zM159.3 113.7h1.2v1.2h-1.2zM155.6 113.7h1.2v1.2h-1.2zM162.9 108.7h1.2v1.2h-1.2zM171.0 111.4h1.2v1.2h-1.2zM157.9 112.0h1.2v1.2h-1.2zM158.3 113.6h1.2v1.2h-1.2zM167.4 111.4h1.2v1.2h-1.2zM161.4 113.5h1.2v1.2h-1.2zM162.2 113.9h1.2v1.2h-1.2zM161.0 113.8h1.2v1.2h-1.2zM171.8 112.8h1.2v1.2h-1.2zM159.2 112.3h1.2v1.2h-1.2zM170.9 108.7h1.2v1.2h-1.2zM170.6 110.4h1.2v1.2h-1.2zM150.2 111.3h1.2v1.2h-1.2zM152.2 109.1h1.2v1.2h-1.2zM161.2 112.8h1.2v1.2h-1.2zM154.3 105.4h1.2v1.2h-1.2zM158.3 111.3h1.2v1.2h-1.2zM149.2 106.0h1.2v1.2h-1.2zM169.8 114.0h1.2v1.2h-1.2zM160.5 113.4h1.2v1.2h-1.2zM150.7 111.8h1.2v1.2h-1.2zM151.2 111.6h1.2v1.2h-1.2zM172.1 113.2h1.2v1.2h-1.2zM158.6 108.3h1.2v1.2h-1.2zM167.5 111.7h1.2v1.2h-1.2zM173.3 105.2h1.2v1.2h-1.2zM157.2 109.7h1.2v1.2h-1.2zM169.4 109.9h1.2v1.2h-1.2zM158.5 110.0h1.2v1.2h-1.2zM162.1 108.8h1.2v1.2h-1.2zM153.2 112.1h1.2v1.2h-1.2zM173.3 108.6h1.2v1.2h-1.2zM153.6 107.4h1.2v1.2h-1.2zM149.5 112.9h1.2v1.2h-1.2zM151.6 112.7h1.2v1.2h-1.2zM171.0 111.1h1.2v1.2h-1.2zM151.5 112.1h1.2v1.2h-1.2zM151.3 113.8h1.2v1.2h-1.2zM170.4 108.9h1.2v1.2h-1.2zM150.7 109.9h1.2v1.2h-1.2zM169.8 113.5h1.2v1.2h-1.2zM150.2 112.7h1.2v1.2h-1.2zM161.0 114.0h1.2v1.2h-1.2zM170.3 112.6h1.2v1.2h-1.2zM169.8 110.5h1.2v1.2h-1.2zM154.1 113.0h1.2v1.2h-1.2zM155.9 113.6h1.2v1.2h-1.2zM151.1 112.9h1.2v1.2h-1.2zM151.1 113.7h1.2v1.2h-1.2zM171.3 113.1h1.2v1.2h-1.2zM169.3 113.8h1.2v1.2h-1.2zM149.1 111.7h1.2v1.2h-1.2zM159.8 112.0h1.2v1.2h-1.2zM153.3 110.2h1.2v1.2h-1.2zM158.9 113.8h1.2v1.2h-1.2zM152.6 112.1h1.2v1.2h-1.2zM150.9 110.4h1.2v1.2h-1.2zM170.8 114.0h1.2v1.2h-1.2zM150.6 109.9h1.2v1.2h-1.2zM157.3 113.6h1.2v1.2h-1.2zM152.8 113.1h1.2v1.2h-1.2zM172.9 112.9h1.2v1.2h-1.2zM149.8 106.1h1.2v1.2h-1.2zM173.0 111.0h1.2v1.2h-1.2zM162.2 113.7h1.2v1.2h-1.2zM151.0 112.4h1.2v1.2h-1.2zM150.5 112.3h1.2v1.2h-1.2zM169.5 113.6h1.2v1.2h-1.2zM170.7 111.9h1.2v1.2h-1.2zM153.0 113.1h1.2v1.2h-1.2zM162.2 113.9h1.2v1.2h-1.2zM171.7 112.9h1.2v1.2h-1.2zM155.9 113.0h1.2v1.2h-1.2zM171.4 106.8h1.2v1.2h-1.2zM172.2 113.3h1.2v1.2h-1.2zM153.2 113.7h1.2v1.2h-1.2zM155.4 113.9h1.2v1.2h-1.2zM149.4 113.9h1.2v1.2h-1.2zM155.2 111.8h1.2v1.2h-1.2zM162.3 113.6h1.2v1.2h-1.2zM164.0 110.6h1.2v1.2h-1.2zM162.3 105.0h1.2v1.2h-1.2zM169.3 111.0h1.2v1.2h-1.2zM160.4 110.4h1.2v1.2h-1.2zM162.5 112.6h1.2v1.2h-1.2zM159.4 108.5h1.2v1.2h-1.2zM151.0 113.9h1.2v1.2h-1.2zM155.0 109.9h1.2v1.2h-1.2zM160.3 108.1h1.2v1.2h-1.2zM173.2 105.9h1.2v1.2h-1.2zM166.8 111.2h1.2v1.2h-1.2zM161.1 112.3h1.2v1.2h-1.2zM161.8 112.3h1.2v1.2h-1.2zM165.6 112.2h1.2v1.2h-1.2zM165.2 114.1h1.2v1.2h-1.2zM172.6 113.5h1.2v1.2h-1.2zM150.8 113.3h1.2v1.2h-1.2zM149.7 110.0h1.2v1.2h-1.2zM170.1 113.3h1.2v1.2h-1.2zM158.0 112.5h1.2v1.2h-1.2zM162.2 111.1h1.2v1.2h-1.2zM152.7 110.8h1.2v1.2h-1.2zM150.8 109.8h1.2v1.2h-1.2zM164.5 110.1h1.2v1.2h-1.2zM166.3 109.5h1.2v1.2h-1.2zM166.6 114.0h1.2v1.2h-1.2zM168.8 113.7h1.2v1.2h-1.2zM150.7 112.0h1.2v1.2h-1.2zM169.0 112.0h1.2v1.2h-1.2zM154.0 113.3h1.2v1.2h-1.2zM157.3 110.6h1.2v1.2h-1.2zM167.2 111.9h1.2v1.2h-1.2zM158.1 113.3h1.2v1.2h-1.2zM156.5 112.7h1.2v1.2h-1.2zM166.7 108.4h1.2v1.2h-1.2zM151.8 111.1h1.2v1.2h-1.2zM163.3 105.7h1.2v1.2h-1.2zM155.9 112.9h1.2v1.2h-1.2zM157.6 110.3h1.2v1.2h-1.2zM161.6 113.1h1.2v1.2h-1.2zM170.6 111.1h1.2v1.2h-1.2zM155.8 108.2h1.2v1.2h-1.2zM162.1 114.0h1.2v1.2h-1.2zM173.3 112.1h1.2v1.2h-1.2zM164.9 113.1h1.2v1.2h-1.2zM169.1 111.7h1.2v1.2h-1.2zM162.7 110.4h1.2v1.2h-1.2zM161.3 107.5h1.2v1.2h-1.2zM151.6 108.8h1.2v1.2h-1.2zM163.4 111.7h1.2v1.2h-1.2zM154.7 111.7h1.2v1.2h-1.2zM154.0 106.1h1.2v1.2h-1.2zM173.2 111.8h1.2v1.2h-1.2zM168.3 110.5h1.2v1.2h-1.2zM158.9 113.5h1.2v1.2h-1.2zM164.3 111.1h1.2v1.2h-1.2zM150.4 108.5h1.2v1.2h-1.2zM161.5 111.8h1.2v1.2h-1.2zM167.3 112.1h1.2v1.2h-1.2zM150.3 109.9h1.2v1.2h-1.2zM158.5 111.3h1.2v1.2h-1.2zM152.6 112.1h1.2v1.2h-1.2zM166.2 113.9h1.2v1.2h-1.2zM172.2 112.5h1.2v1.2h-1.2zM153.3 113.7h1.2v1.2h-1.2zM165.2 113.2h1.2v1.2h-1.2zM164.6 113.1h1.2v1.2h-1.2zM161.1 113.1h1.2v1.2h-1.2zM156.0 109.5h1.2v1.2h-1.2zM151.6 109.2h1.2v1.2h-1.2zM160.5 111.7h1.2v1.2h-1.2zM157.7 110.4h1.2v1.2h-1.2zM158.4 112.3h1.2v1.2h-1.2zM170.8 113.7h1.2v1.2h-1.2zM165.8 113.0h1.2v1.2h-1.2zM158.3 111.3h1.2v1.2h-1.2zM165.8 111.1h1.2v1.2h-1.2zM153.3 110.8h1.2v1.2h-1.2zM170.8 113.3h1.2v1.2h-1.2zM148.9 108.5h1.2v1.2h-1.2zM168.7 113.9h1.2v1.2h-1.2zM161.4 111.6h1.2v1.2h-1.2zM167.7 113.4h1.2v1.2h-1.2zM172.9 113.6h1.2v1.2h-1.2zM157.4 114.0h1.2v1.2h-1.2zM150.9 113.5h1.2v1.2h-1.2zM157.6 113.6h1.2v1.2h-1.2zM154.8 111.6h1.2v1.2h-1.2zM152.6 113.0h1.2v1.2h-1.2zM150.4 112.0h1.2v1.2h-1.2zM161.9 109.9h1.2v1.2h-1.2zM151.7 113.7h1.2v1.2h-1.2zM163.3 110.7h1.2v1.2h-1.2zM159.2 110.8h1.2v1.2h-1.2zM153.7 114.0h1.2v1.2h-1.2zM165.8 114.0h1.2v1.2h-1.2zM170.8 112.9h1.2v1.2h-1.2zM164.8 107.4h1.2v1.2h-1.2zM161.5 110.3h1.2v1.2h-1.2zM149.7 112.0h1.2v1.2h-1.2zM157.1 112.8h1.2v1.2h-1.2zM164.9 111.2h1.2v1.2h-1.2zM149.7 113.7h1.2v1.2h-1.2zM167.1 110.2h1.2v1.2h-1.2zM153.0 105.8h1.2v1.2h-1.2zM164.8 113.0h1.2v1.2h-1.2zM171.3 113.1h1.2v1.2h-1.2zM159.5 111.9h1.2v1.2h-1.2zM152.2 99.8h1.2v1.2h-1.2zM163.5 113.5h1.2v1.2h-1.2zM169.8 110.3h1.2v1.2h-1.2zM171.1 113.8h1.2v1.2h-1.2zM149.2 111.6h1.2v1.2h-1.2zM150.7 112.7h1.2v1.2h-1.2zM170.1 113.9h1.2v1.2h-1.2zM168.3 113.8h1.2v1.2h-1.2zM171.8 113.0h1.2v1.2h-1.2zM154.4 113.6h1.2v1.2h-1.2zM152.4 113.0h1.2v1.2h-1.2zM153.3 112.8h1.2v1.2h-1.2zM168.0 113.9h1.2v1.2h-1.2zM151.0 113.8h1.2v1.2h-1.2zM150.4 113.1h1.2v1.2h-1.2zM150.4 112.7h1.2v1.2h-1.2zM159.1 110.9h1.2v1.2h-1.2zM168.3 111.7h1.2v1.2h-1.2zM170.2 110.2h1.2v1.2h-1.2zM158.6 112.2h1.2v1.2h-1.2zM155.0 114.0h1.2v1.2h-1.2zM166.1 113.2h1.2v1.2h-1.2zM150.3 112.8h1.2v1.2h-1.2zM152.1 113.8h1.2v1.2h-1.2zM162.9 113.2h1.2v1.2h-1.2zM149.2 113.9h1.2v1.2h-1.2zM154.9 113.4h1.2v1.2h-1.2zM172.4 113.1h1.2v1.2h-1.2zM151.8 108.7h1.2v1.2h-1.2zM151.3 113.0h1.2v1.2h-1.2zM172.6 113.9h1.2v1.2h-1.2zM169.4 114.0h1.2v1.2h-1.2zM165.7 113.7h1.2v1.2h-1.2zM149.5 112.8h1.2v1.2h-1.2zM159.1 103.6h1.2v1.2h-1.2zM162.2 105.8h1.2v1.2h-1.2zM159.6 112.7h1.2v1.2h-1.2zM151.9 113.9h1.2v1.2h-1.2zM171.2 107.4h1.2v1.2h-1.2zM162.3 112.4h1.2v1.2h-1.2zM169.1 107.9h1.2v1.2h-1.2zM160.9 114.1h1.2v1.2h-1.2zM153.9 109.1h1.2v1.2h-1.2zM172.1 113.3h1.2v1.2h-1.2zM152.5 108.8h1.2v1.2h-1.2zM159.1 112.1h1.2v1.2h-1.2zM170.5 110.2h1.2v1.2h-1.2zM162.5 111.6h1.2v1.2h-1.2zM162.3 113.7h1.2v1.2h-1.2zM150.4 113.6h1.2v1.2h-1.2zM158.2 113.7h1.2v1.2h-1.2zM150.4 111.7h1.2v1.2h-1.2zM162.3 110.0h1.2v1.2h-1.2zM168.4 113.8h1.2v1.2h-1.2zM157.0 111.0h1.2v1.2h-1.2zM160.8 113.5h1.2v1.2h-1.2zM165.8 113.6h1.2v1.2h-1.2zM166.1 112.3h1.2v1.2h-1.2zM169.5 113.8h1.2v1.2h-1.2zM153.1 111.5h1.2v1.2h-1.2zM167.2 112.0h1.2v1.2h-1.2zM173.1 112.2h1.2v1.2h-1.2zM172.9 112.9h1.2v1.2h-1.2zM162.5 110.2h1.2v1.2h-1.2zM169.9 113.4h1.2v1.2h-1.2zM165.7 113.8h1.2v1.2h-1.2zM170.5 104.7h1.2v1.2h-1.2zM150.1 112.4h1.2v1.2h-1.2zM150.2 109.3h1.2v1.2h-1.2zM151.2 113.7h1.2v1.2h-1.2zM172.2 109.8h1.2v1.2h-1.2zM168.0 91.9h1.3v1.3h-1.3zM171.4 95.9h1.3v1.3h-1.3zM151.4 94.9h1.3v1.3h-1.3z" fill="#5ab6e6"/>
<rect x="176.6" y="118.1" width="24.2" height="51.1" fill="#1b3c8c"/>
<path d="M187.5 113.5h1.2v1.2h-1.2zM199.0 110.0h1.2v1.2h-1.2zM192.6 114.0h1.2v1.2h-1.2zM178.0 111.9h1.2v1.2h-1.2zM182.1 117.2h1.2v1.2h-1.2zM180.1 113.7h1.2v1.2h-1.2zM179.4 116.9h1.2v1.2h-1.2zM182.7 116.1h1.2v1.2h-1.2zM190.8 111.2h1.2v1.2h-1.2zM186.6 114.8h1.2v1.2h-1.2zM184.8 110.6h1.2v1.2h-1.2zM183.5 111.8h1.2v1.2h-1.2zM177.3 116.7h1.2v1.2h-1.2zM178.0 111.9h1.2v1.2h-1.2zM193.2 103.3h1.2v1.2h-1.2zM179.6 99.9h1.2v1.2h-1.2zM191.7 116.8h1.2v1.2h-1.2zM178.9 111.0h1.2v1.2h-1.2zM197.6 117.1h1.2v1.2h-1.2zM186.9 116.8h1.2v1.2h-1.2zM182.3 116.1h1.2v1.2h-1.2zM191.1 114.6h1.2v1.2h-1.2zM187.8 113.2h1.2v1.2h-1.2zM185.8 113.8h1.2v1.2h-1.2zM198.6 104.5h1.2v1.2h-1.2zM197.6 116.9h1.2v1.2h-1.2zM184.0 105.9h1.2v1.2h-1.2zM198.8 111.0h1.2v1.2h-1.2zM188.6 110.5h1.2v1.2h-1.2zM180.3 111.5h1.2v1.2h-1.2zM177.3 115.8h1.2v1.2h-1.2zM176.9 115.4h1.2v1.2h-1.2zM187.7 109.1h1.2v1.2h-1.2zM180.8 114.6h1.2v1.2h-1.2zM198.6 114.3h1.2v1.2h-1.2zM186.1 117.4h1.2v1.2h-1.2zM189.7 117.1h1.2v1.2h-1.2zM190.1 114.7h1.2v1.2h-1.2zM198.0 116.8h1.2v1.2h-1.2zM198.3 116.1h1.2v1.2h-1.2zM192.4 114.2h1.2v1.2h-1.2zM190.9 117.1h1.2v1.2h-1.2zM187.7 111.0h1.2v1.2h-1.2zM184.7 108.8h1.2v1.2h-1.2zM178.6 114.8h1.2v1.2h-1.2zM188.0 115.4h1.2v1.2h-1.2zM187.3 113.0h1.2v1.2h-1.2zM195.8 114.6h1.2v1.2h-1.2zM180.4 115.4h1.2v1.2h-1.2zM199.2 116.9h1.2v1.2h-1.2zM182.9 113.5h1.2v1.2h-1.2zM199.5 112.3h1.2v1.2h-1.2zM176.7 115.8h1.2v1.2h-1.2zM176.8 111.9h1.2v1.2h-1.2zM178.2 112.0h1.2v1.2h-1.2zM187.5 116.8h1.2v1.2h-1.2zM181.5 116.8h1.2v1.2h-1.2zM180.1 113.1h1.2v1.2h-1.2zM181.0 110.2h1.2v1.2h-1.2zM177.1 112.0h1.2v1.2h-1.2zM177.3 115.7h1.2v1.2h-1.2zM198.9 115.4h1.2v1.2h-1.2zM176.6 110.0h1.2v1.2h-1.2zM178.8 116.4h1.2v1.2h-1.2zM195.6 101.3h1.2v1.2h-1.2zM192.8 109.4h1.2v1.2h-1.2zM198.5 114.0h1.2v1.2h-1.2zM176.8 114.1h1.2v1.2h-1.2zM181.5 117.4h1.2v1.2h-1.2zM194.6 112.4h1.2v1.2h-1.2zM187.8 117.1h1.2v1.2h-1.2zM194.1 114.5h1.2v1.2h-1.2zM195.1 114.4h1.2v1.2h-1.2zM187.7 111.4h1.2v1.2h-1.2zM184.3 110.6h1.2v1.2h-1.2zM192.1 115.3h1.2v1.2h-1.2zM198.2 110.6h1.2v1.2h-1.2zM184.7 114.9h1.2v1.2h-1.2zM177.4 113.9h1.2v1.2h-1.2zM178.1 107.3h1.2v1.2h-1.2zM199.5 111.6h1.2v1.2h-1.2zM193.9 115.0h1.2v1.2h-1.2zM181.1 116.4h1.2v1.2h-1.2zM188.4 115.4h1.2v1.2h-1.2zM187.1 99.4h1.2v1.2h-1.2zM199.1 106.5h1.2v1.2h-1.2zM179.7 115.3h1.2v1.2h-1.2zM189.6 111.3h1.2v1.2h-1.2zM186.9 114.4h1.2v1.2h-1.2zM199.5 116.0h1.2v1.2h-1.2zM177.6 114.1h1.2v1.2h-1.2zM195.7 107.4h1.2v1.2h-1.2zM199.3 115.2h1.2v1.2h-1.2zM195.7 115.4h1.2v1.2h-1.2zM185.0 115.6h1.2v1.2h-1.2zM196.1 117.2h1.2v1.2h-1.2zM194.8 113.7h1.2v1.2h-1.2zM183.5 110.9h1.2v1.2h-1.2zM185.4 114.3h1.2v1.2h-1.2zM196.5 114.3h1.2v1.2h-1.2zM191.7 100.0h1.2v1.2h-1.2zM192.8 116.0h1.2v1.2h-1.2zM180.4 115.7h1.2v1.2h-1.2zM198.4 112.8h1.2v1.2h-1.2zM177.1 109.0h1.2v1.2h-1.2zM189.9 112.2h1.2v1.2h-1.2zM197.5 117.5h1.2v1.2h-1.2zM190.8 115.1h1.2v1.2h-1.2zM197.2 113.3h1.2v1.2h-1.2zM178.6 110.4h1.2v1.2h-1.2zM187.6 116.4h1.2v1.2h-1.2zM193.6 117.3h1.2v1.2h-1.2zM195.9 112.2h1.2v1.2h-1.2zM178.1 117.2h1.2v1.2h-1.2zM181.3 116.8h1.2v1.2h-1.2zM177.0 108.9h1.2v1.2h-1.2zM177.8 117.2h1.2v1.2h-1.2zM192.5 116.7h1.2v1.2h-1.2zM177.9 117.1h1.2v1.2h-1.2zM196.8 106.5h1.2v1.2h-1.2zM191.3 113.5h1.2v1.2h-1.2zM191.7 114.4h1.2v1.2h-1.2zM195.8 115.9h1.2v1.2h-1.2zM192.2 102.2h1.2v1.2h-1.2zM177.2 117.1h1.2v1.2h-1.2zM193.3 112.7h1.2v1.2h-1.2zM192.1 113.5h1.2v1.2h-1.2zM179.3 114.5h1.2v1.2h-1.2zM197.9 105.3h1.2v1.2h-1.2zM196.1 104.3h1.2v1.2h-1.2zM197.0 111.6h1.2v1.2h-1.2zM191.0 114.4h1.2v1.2h-1.2zM188.7 110.9h1.2v1.2h-1.2zM188.7 113.5h1.2v1.2h-1.2zM190.0 114.3h1.2v1.2h-1.2zM188.0 116.0h1.2v1.2h-1.2zM198.9 103.7h1.2v1.2h-1.2zM198.7 106.2h1.2v1.2h-1.2zM196.8 117.2h1.2v1.2h-1.2zM198.7 103.2h1.2v1.2h-1.2zM187.1 98.8h1.2v1.2h-1.2zM177.8 113.5h1.2v1.2h-1.2zM195.4 111.9h1.2v1.2h-1.2zM182.4 114.3h1.2v1.2h-1.2zM190.0 117.4h1.2v1.2h-1.2zM186.9 116.7h1.2v1.2h-1.2zM189.4 111.3h1.2v1.2h-1.2zM190.9 106.2h1.2v1.2h-1.2zM178.2 106.0h1.2v1.2h-1.2zM185.4 111.0h1.2v1.2h-1.2zM183.9 115.6h1.2v1.2h-1.2zM196.4 111.0h1.2v1.2h-1.2zM195.5 117.5h1.2v1.2h-1.2zM179.3 114.2h1.2v1.2h-1.2zM190.9 105.6h1.2v1.2h-1.2zM179.8 109.2h1.2v1.2h-1.2zM198.7 98.7h1.2v1.2h-1.2zM189.3 116.9h1.2v1.2h-1.2zM176.7 117.4h1.2v1.2h-1.2zM179.7 117.3h1.2v1.2h-1.2zM196.2 105.3h1.2v1.2h-1.2zM198.3 112.6h1.2v1.2h-1.2zM186.8 115.4h1.2v1.2h-1.2zM199.1 115.0h1.2v1.2h-1.2zM182.8 117.3h1.2v1.2h-1.2zM178.3 110.4h1.2v1.2h-1.2zM183.1 109.3h1.2v1.2h-1.2zM199.2 113.8h1.2v1.2h-1.2zM198.0 115.3h1.2v1.2h-1.2zM193.3 112.6h1.2v1.2h-1.2zM198.4 117.1h1.2v1.2h-1.2zM180.5 109.1h1.2v1.2h-1.2zM197.4 111.4h1.2v1.2h-1.2zM180.8 115.0h1.2v1.2h-1.2zM196.4 107.3h1.2v1.2h-1.2zM177.8 101.3h1.2v1.2h-1.2zM179.7 109.8h1.2v1.2h-1.2zM195.5 116.9h1.2v1.2h-1.2zM191.9 117.1h1.2v1.2h-1.2zM186.4 115.8h1.2v1.2h-1.2zM183.0 114.5h1.2v1.2h-1.2zM198.2 115.8h1.2v1.2h-1.2zM193.2 113.6h1.2v1.2h-1.2zM196.9 111.2h1.2v1.2h-1.2zM177.6 116.4h1.2v1.2h-1.2zM179.3 112.8h1.2v1.2h-1.2zM198.7 109.3h1.2v1.2h-1.2zM190.8 114.0h1.2v1.2h-1.2zM197.9 113.2h1.2v1.2h-1.2zM180.0 115.5h1.2v1.2h-1.2zM187.1 117.0h1.2v1.2h-1.2zM180.6 114.6h1.2v1.2h-1.2zM198.2 112.0h1.2v1.2h-1.2zM198.0 117.1h1.2v1.2h-1.2zM198.5 113.9h1.2v1.2h-1.2zM184.3 117.3h1.2v1.2h-1.2zM193.4 116.8h1.2v1.2h-1.2zM181.1 110.9h1.2v1.2h-1.2zM185.6 110.9h1.2v1.2h-1.2zM185.7 108.2h1.2v1.2h-1.2zM195.2 115.2h1.2v1.2h-1.2zM190.2 114.1h1.2v1.2h-1.2zM199.3 105.3h1.2v1.2h-1.2zM194.5 111.8h1.2v1.2h-1.2zM187.9 115.0h1.2v1.2h-1.2zM185.7 115.7h1.2v1.2h-1.2zM179.9 116.1h1.2v1.2h-1.2zM190.9 114.3h1.2v1.2h-1.2zM199.6 113.7h1.2v1.2h-1.2zM199.0 115.2h1.2v1.2h-1.2zM190.6 111.0h1.2v1.2h-1.2zM183.2 113.8h1.2v1.2h-1.2zM179.3 115.6h1.2v1.2h-1.2zM193.6 110.5h1.2v1.2h-1.2zM180.8 114.7h1.2v1.2h-1.2zM180.6 115.5h1.2v1.2h-1.2zM199.5 117.4h1.2v1.2h-1.2zM187.2 114.1h1.2v1.2h-1.2zM178.8 113.3h1.2v1.2h-1.2zM177.1 116.8h1.2v1.2h-1.2zM192.7 113.7h1.2v1.2h-1.2zM198.4 116.2h1.2v1.2h-1.2zM195.2 116.1h1.2v1.2h-1.2zM183.8 103.2h1.2v1.2h-1.2zM199.0 107.6h1.2v1.2h-1.2zM185.1 114.7h1.2v1.2h-1.2zM195.1 115.0h1.2v1.2h-1.2zM181.6 114.1h1.2v1.2h-1.2zM183.2 116.6h1.2v1.2h-1.2zM177.4 112.8h1.2v1.2h-1.2zM192.3 108.2h1.2v1.2h-1.2zM198.2 110.7h1.2v1.2h-1.2zM184.8 117.0h1.2v1.2h-1.2zM197.8 112.4h1.2v1.2h-1.2zM195.7 102.1h1.2v1.2h-1.2zM185.8 97.2h1.2v1.2h-1.2zM183.0 115.7h1.2v1.2h-1.2zM196.0 117.0h1.2v1.2h-1.2zM192.0 113.4h1.2v1.2h-1.2zM185.4 115.1h1.2v1.2h-1.2zM186.8 111.8h1.2v1.2h-1.2zM178.6 117.4h1.2v1.2h-1.2zM181.0 109.8h1.2v1.2h-1.2zM181.8 117.5h1.2v1.2h-1.2zM190.4 117.3h1.2v1.2h-1.2zM181.3 110.7h1.2v1.2h-1.2zM180.6 113.4h1.2v1.2h-1.2zM198.9 114.9h1.2v1.2h-1.2zM194.1 116.1h1.2v1.2h-1.2zM180.8 116.6h1.2v1.2h-1.2zM177.7 108.8h1.2v1.2h-1.2zM177.4 116.9h1.2v1.2h-1.2zM180.2 116.1h1.2v1.2h-1.2zM180.9 109.8h1.2v1.2h-1.2zM177.7 110.0h1.2v1.2h-1.2zM187.2 111.1h1.2v1.2h-1.2zM184.0 112.1h1.2v1.2h-1.2zM197.6 116.7h1.2v1.2h-1.2zM196.6 114.3h1.2v1.2h-1.2zM195.6 111.4h1.2v1.2h-1.2zM178.2 114.4h1.2v1.2h-1.2zM188.7 115.2h1.2v1.2h-1.2zM186.4 112.3h1.2v1.2h-1.2zM183.5 114.4h1.2v1.2h-1.2zM177.3 116.3h1.2v1.2h-1.2zM187.2 107.7h1.2v1.2h-1.2zM188.9 98.8h1.2v1.2h-1.2zM198.9 113.7h1.2v1.2h-1.2zM177.5 116.7h1.2v1.2h-1.2zM195.6 108.9h1.2v1.2h-1.2zM186.7 109.4h1.2v1.2h-1.2zM176.9 115.0h1.2v1.2h-1.2zM176.8 117.5h1.2v1.2h-1.2zM197.3 115.6h1.2v1.2h-1.2zM186.8 113.0h1.2v1.2h-1.2zM198.4 111.4h1.2v1.2h-1.2zM196.3 117.2h1.2v1.2h-1.2zM195.4 114.9h1.2v1.2h-1.2zM191.3 117.3h1.2v1.2h-1.2zM192.4 117.0h1.2v1.2h-1.2zM196.3 116.1h1.2v1.2h-1.2zM184.6 113.8h1.2v1.2h-1.2zM184.5 105.6h1.2v1.2h-1.2zM199.6 115.6h1.2v1.2h-1.2zM185.0 108.2h1.2v1.2h-1.2zM192.2 116.6h1.2v1.2h-1.2zM182.8 106.3h1.2v1.2h-1.2zM198.5 113.7h1.2v1.2h-1.2zM181.2 116.4h1.2v1.2h-1.2zM198.7 113.1h1.2v1.2h-1.2zM179.9 114.1h1.2v1.2h-1.2zM191.4 110.7h1.2v1.2h-1.2zM195.9 112.0h1.2v1.2h-1.2zM198.6 106.7h1.2v1.2h-1.2zM186.6 114.3h1.2v1.2h-1.2zM187.6 114.6h1.2v1.2h-1.2zM177.1 115.2h1.2v1.2h-1.2zM177.6 113.1h1.2v1.2h-1.2zM198.2 117.5h1.2v1.2h-1.2zM187.4 114.8h1.2v1.2h-1.2zM192.7 111.7h1.2v1.2h-1.2zM194.0 114.4h1.2v1.2h-1.2zM178.0 114.2h1.2v1.2h-1.2zM183.5 116.3h1.2v1.2h-1.2zM199.5 111.3h1.2v1.2h-1.2zM182.0 109.3h1.2v1.2h-1.2zM180.5 111.0h1.2v1.2h-1.2zM177.8 114.7h1.2v1.2h-1.2zM188.5 117.0h1.2v1.2h-1.2zM186.7 114.6h1.2v1.2h-1.2zM187.2 109.3h1.2v1.2h-1.2zM176.8 115.1h1.2v1.2h-1.2zM179.6 114.3h1.2v1.2h-1.2zM188.9 115.7h1.2v1.2h-1.2zM183.8 114.1h1.2v1.2h-1.2zM179.2 100.8h1.2v1.2h-1.2zM196.7 116.6h1.2v1.2h-1.2zM185.3 112.0h1.2v1.2h-1.2zM186.0 104.0h1.2v1.2h-1.2zM187.3 111.7h1.2v1.2h-1.2zM198.5 115.7h1.2v1.2h-1.2zM179.9 116.9h1.2v1.2h-1.2zM182.1 114.8h1.2v1.2h-1.2zM187.0 113.5h1.2v1.2h-1.2zM196.3 113.9h1.2v1.2h-1.2zM195.4 112.6h1.2v1.2h-1.2zM188.3 115.9h1.2v1.2h-1.2zM191.1 101.5h1.2v1.2h-1.2zM181.4 98.0h1.2v1.2h-1.2zM180.2 114.4h1.2v1.2h-1.2zM185.5 110.4h1.2v1.2h-1.2zM187.4 113.0h1.2v1.2h-1.2zM196.5 114.3h1.2v1.2h-1.2zM198.9 115.7h1.2v1.2h-1.2zM185.1 115.9h1.2v1.2h-1.2zM192.0 114.1h1.2v1.2h-1.2zM195.2 114.1h1.2v1.2h-1.2zM195.9 105.6h1.2v1.2h-1.2zM184.6 105.6h1.2v1.2h-1.2zM187.4 103.0h1.2v1.2h-1.2zM190.5 116.1h1.2v1.2h-1.2zM190.7 115.0h1.2v1.2h-1.2zM196.8 115.9h1.2v1.2h-1.2zM199.1 115.8h1.2v1.2h-1.2zM191.5 115.6h1.2v1.2h-1.2zM186.3 109.3h1.2v1.2h-1.2zM193.3 113.6h1.2v1.2h-1.2zM185.6 116.8h1.2v1.2h-1.2zM184.1 117.4h1.2v1.2h-1.2zM188.7 114.5h1.2v1.2h-1.2zM178.1 116.9h1.2v1.2h-1.2zM177.5 108.2h1.2v1.2h-1.2zM198.8 108.5h1.2v1.2h-1.2zM184.5 114.9h1.2v1.2h-1.2zM187.2 111.7h1.2v1.2h-1.2zM193.8 114.2h1.2v1.2h-1.2zM188.0 113.5h1.2v1.2h-1.2zM198.1 97.5h1.2v1.2h-1.2zM189.4 117.0h1.2v1.2h-1.2zM198.0 116.2h1.2v1.2h-1.2zM182.5 111.8h1.2v1.2h-1.2zM177.4 117.4h1.2v1.2h-1.2zM177.9 116.2h1.2v1.2h-1.2zM180.8 115.1h1.2v1.2h-1.2zM198.5 115.1h1.2v1.2h-1.2zM193.3 115.4h1.2v1.2h-1.2zM180.0 113.2h1.2v1.2h-1.2zM182.0 112.5h1.2v1.2h-1.2zM179.9 112.4h1.2v1.2h-1.2zM187.1 113.1h1.2v1.2h-1.2zM192.5 111.0h1.2v1.2h-1.2zM181.6 102.0h1.2v1.2h-1.2zM186.6 105.5h1.2v1.2h-1.2zM184.5 116.5h1.2v1.2h-1.2zM178.8 117.4h1.2v1.2h-1.2zM186.5 116.4h1.2v1.2h-1.2zM185.9 115.2h1.2v1.2h-1.2zM179.9 117.0h1.2v1.2h-1.2zM181.3 102.2h1.2v1.2h-1.2zM185.8 116.4h1.2v1.2h-1.2zM196.5 116.3h1.2v1.2h-1.2zM198.4 115.2h1.2v1.2h-1.2zM188.8 116.3h1.2v1.2h-1.2zM180.4 116.8h1.2v1.2h-1.2zM180.8 110.1h1.2v1.2h-1.2zM186.6 114.7h1.2v1.2h-1.2zM198.9 115.7h1.2v1.2h-1.2zM177.3 117.3h1.2v1.2h-1.2zM186.1 116.9h1.2v1.2h-1.2zM191.5 117.4h1.2v1.2h-1.2zM184.6 116.2h1.2v1.2h-1.2zM187.3 116.9h1.2v1.2h-1.2zM180.9 114.9h1.2v1.2h-1.2zM195.9 112.8h1.2v1.2h-1.2zM196.7 105.9h1.2v1.2h-1.2zM176.6 116.6h1.2v1.2h-1.2zM182.7 114.3h1.2v1.2h-1.2zM193.3 117.0h1.2v1.2h-1.2zM195.0 116.2h1.2v1.2h-1.2zM179.3 116.9h1.2v1.2h-1.2zM183.4 117.0h1.2v1.2h-1.2zM189.5 116.1h1.2v1.2h-1.2zM176.6 106.1h1.2v1.2h-1.2zM190.1 116.4h1.2v1.2h-1.2zM190.0 115.8h1.2v1.2h-1.2zM189.1 117.3h1.2v1.2h-1.2zM177.0 114.4h1.2v1.2h-1.2zM183.3 115.7h1.2v1.2h-1.2zM186.0 116.9h1.2v1.2h-1.2zM190.5 115.2h1.2v1.2h-1.2zM180.7 114.9h1.2v1.2h-1.2zM179.7 115.0h1.2v1.2h-1.2zM199.0 115.5h1.2v1.2h-1.2zM189.6 113.1h1.2v1.2h-1.2zM195.2 114.3h1.2v1.2h-1.2zM190.7 112.2h1.2v1.2h-1.2zM178.3 116.8h1.2v1.2h-1.2zM194.4 116.3h1.2v1.2h-1.2zM177.9 116.8h1.2v1.2h-1.2zM192.2 113.3h1.2v1.2h-1.2zM181.2 117.3h1.2v1.2h-1.2zM184.7 115.2h1.2v1.2h-1.2zM196.9 116.0h1.2v1.2h-1.2zM189.7 116.0h1.2v1.2h-1.2zM182.5 115.9h1.2v1.2h-1.2zM177.1 113.4h1.2v1.2h-1.2zM180.8 117.3h1.2v1.2h-1.2zM179.2 115.6h1.2v1.2h-1.2zM191.0 115.0h1.2v1.2h-1.2zM183.7 103.1h1.2v1.2h-1.2zM177.3 117.2h1.2v1.2h-1.2zM199.0 111.6h1.2v1.2h-1.2zM184.7 103.2h1.2v1.2h-1.2zM182.9 110.7h1.2v1.2h-1.2zM181.5 115.2h1.2v1.2h-1.2zM189.8 106.0h1.2v1.2h-1.2zM186.9 116.7h1.2v1.2h-1.2zM196.1 110.1h1.2v1.2h-1.2zM183.5 117.5h1.2v1.2h-1.2zM197.7 102.9h1.2v1.2h-1.2zM183.0 104.8h1.2v1.2h-1.2zM185.1 106.5h1.2v1.2h-1.2zM192.2 116.0h1.2v1.2h-1.2zM184.0 103.4h1.2v1.2h-1.2zM198.0 106.4h1.2v1.2h-1.2zM189.1 110.0h1.2v1.2h-1.2zM197.0 116.6h1.2v1.2h-1.2zM181.0 115.7h1.2v1.2h-1.2zM179.4 116.4h1.2v1.2h-1.2zM199.0 109.8h1.2v1.2h-1.2zM198.9 115.4h1.2v1.2h-1.2zM186.1 110.4h1.2v1.2h-1.2zM198.0 116.5h1.2v1.2h-1.2zM184.3 101.4h1.2v1.2h-1.2zM192.7 110.7h1.2v1.2h-1.2zM196.9 115.7h1.2v1.2h-1.2zM198.5 101.0h1.2v1.2h-1.2zM184.4 112.7h1.2v1.2h-1.2zM192.2 112.3h1.2v1.2h-1.2zM193.1 115.5h1.2v1.2h-1.2zM192.7 115.7h1.2v1.2h-1.2zM187.0 115.4h1.2v1.2h-1.2zM199.0 114.1h1.2v1.2h-1.2zM185.8 113.9h1.2v1.2h-1.2zM188.6 114.2h1.2v1.2h-1.2zM180.9 116.4h1.2v1.2h-1.2zM181.6 117.1h1.2v1.2h-1.2zM182.2 114.3h1.2v1.2h-1.2zM177.3 114.9h1.2v1.2h-1.2zM192.2 116.9h1.2v1.2h-1.2zM182.7 111.2h1.2v1.2h-1.2zM181.8 117.4h1.2v1.2h-1.2zM179.3 116.2h1.2v1.2h-1.2zM177.8 115.1h1.2v1.2h-1.2zM192.2 110.5h1.2v1.2h-1.2zM183.9 117.1h1.2v1.2h-1.2zM176.7 116.8h1.2v1.2h-1.2zM198.3 116.1h1.2v1.2h-1.2zM190.1 115.2h1.2v1.2h-1.2zM180.0 113.4h1.2v1.2h-1.2zM190.2 113.2h1.2v1.2h-1.2zM176.6 115.1h1.2v1.2h-1.2zM193.5 112.3h1.2v1.2h-1.2zM198.7 94.9h1.3v1.3h-1.3zM179.4 95.9h1.3v1.3h-1.3zM185.4 96.4h1.3v1.3h-1.3z" fill="#1b3c8c"/>
<rect x="203.2" y="113.5" width="22.8" height="55.7" fill="#f0963b"/>
<path d="M210.0 112.2h1.2v1.2h-1.2zM215.3 112.4h1.2v1.2h-1.2zM220.2 105.8h1.2v1.2h-1.2zM204.4 111.9h1.2v1.2h-1.2zM220.7 110.3h1.2v1.2h-1.2zM216.3 112.6h1.2v1.2h-1.2zM220.5 108.7h1.2v1.2h-1.2zM210.5 109.2h1.2v1.2h-1.2zM216.1 110.9h1.2v1.2h-1.2zM217.5 106.9h1.2v1.2h-1.2zM211.8 102.2h1.2v1.2h-1.2zM203.7 111.7h1.2v1.2h-1.2zM218.4 112.4h1.2v1.2h-1.2zM224.8 112.6h1.2v1.2h-1.2zM224.6 111.4h1.2v1.2h-1.2zM209.4 105.8h1.2v1.2h-1.2zM214.2 107.5h1.2v1.2h-1.2zM217.0 108.6h1.2v1.2h-1.2zM207.9 112.5h1.2v1.2h-1.2zM217.6 111.1h1.2v1.2h-1.2zM222.0 112.1h1.2v1.2h-1.2zM208.2 101.4h1.2v1.2h-1.2zM223.7 110.5h1.2v1.2h-1.2zM210.1 110.7h1.2v1.2h-1.2zM213.8 107.6h1.2v1.2h-1.2zM212.5 100.6h1.2v1.2h-1.2zM209.3 110.7h1.2v1.2h-1.2zM206.7 111.4h1.2v1.2h-1.2zM213.0 109.3h1.2v1.2h-1.2zM214.4 106.2h1.2v1.2h-1.2zM212.7 109.3h1.2v1.2h-1.2zM217.8 102.6h1.2v1.2h-1.2zM214.6 111.5h1.2v1.2h-1.2zM220.1 99.7h1.2v1.2h-1.2zM207.4 109.6h1.2v1.2h-1.2zM220.6 111.6h1.2v1.2h-1.2zM215.9 112.8h1.2v1.2h-1.2zM214.7 109.2h1.2v1.2h-1.2zM216.9 112.7h1.2v1.2h-1.2zM209.7 109.3h1.2v1.2h-1.2zM224.0 96.3h1.2v1.2h-1.2zM213.3 99.5h1.2v1.2h-1.2zM218.3 103.3h1.2v1.2h-1.2zM219.4 110.9h1.2v1.2h-1.2zM209.7 107.9h1.2v1.2h-1.2zM215.3 105.1h1.2v1.2h-1.2zM205.7 111.1h1.2v1.2h-1.2zM213.7 108.5h1.2v1.2h-1.2zM209.4 111.1h1.2v1.2h-1.2zM220.9 96.5h1.2v1.2h-1.2zM214.1 110.4h1.2v1.2h-1.2zM217.2 98.9h1.2v1.2h-1.2zM211.5 111.3h1.2v1.2h-1.2zM217.2 110.1h1.2v1.2h-1.2zM204.3 109.5h1.2v1.2h-1.2zM209.2 106.2h1.2v1.2h-1.2zM217.5 108.4h1.2v1.2h-1.2zM209.2 109.8h1.2v1.2h-1.2zM213.0 108.1h1.2v1.2h-1.2zM209.9 102.3h1.2v1.2h-1.2zM220.5 111.7h1.2v1.2h-1.2zM208.3 104.9h1.2v1.2h-1.2zM211.7 110.5h1.2v1.2h-1.2zM216.0 111.2h1.2v1.2h-1.2zM217.9 109.9h1.2v1.2h-1.2zM211.5 110.3h1.2v1.2h-1.2zM218.8 109.9h1.2v1.2h-1.2zM208.1 112.0h1.2v1.2h-1.2zM217.0 112.3h1.2v1.2h-1.2zM206.9 108.4h1.2v1.2h-1.2zM216.9 105.4h1.2v1.2h-1.2zM211.5 112.5h1.2v1.2h-1.2zM217.6 94.6h1.2v1.2h-1.2zM211.1 109.1h1.2v1.2h-1.2zM210.3 110.6h1.2v1.2h-1.2zM213.7 110.1h1.2v1.2h-1.2zM205.7 109.8h1.2v1.2h-1.2zM214.5 112.5h1.2v1.2h-1.2zM216.5 105.5h1.2v1.2h-1.2zM208.1 106.6h1.2v1.2h-1.2zM214.8 110.7h1.2v1.2h-1.2zM208.5 112.5h1.2v1.2h-1.2zM210.4 109.9h1.2v1.2h-1.2zM215.6 111.2h1.2v1.2h-1.2zM224.8 112.3h1.2v1.2h-1.2zM205.5 107.2h1.2v1.2h-1.2zM213.7 112.6h1.2v1.2h-1.2zM213.5 95.4h1.2v1.2h-1.2zM208.1 106.9h1.2v1.2h-1.2zM213.2 111.0h1.2v1.2h-1.2zM213.8 110.8h1.2v1.2h-1.2zM209.8 111.1h1.2v1.2h-1.2zM204.2 100.3h1.2v1.2h-1.2zM223.9 109.3h1.2v1.2h-1.2zM212.8 108.2h1.2v1.2h-1.2zM213.1 112.1h1.2v1.2h-1.2zM220.7 112.5h1.2v1.2h-1.2zM216.2 110.8h1.2v1.2h-1.2zM203.3 105.0h1.2v1.2h-1.2zM224.8 90.6h1.2v1.2h-1.2zM212.5 112.6h1.2v1.2h-1.2zM224.1 110.3h1.2v1.2h-1.2zM208.2 97.9h1.2v1.2h-1.2zM213.8 109.9h1.2v1.2h-1.2zM220.7 110.5h1.2v1.2h-1.2zM203.8 112.5h1.2v1.2h-1.2zM216.9 112.1h1.2v1.2h-1.2zM214.6 111.5h1.2v1.2h-1.2zM215.5 111.3h1.2v1.2h-1.2zM221.0 110.9h1.2v1.2h-1.2zM210.2 112.9h1.2v1.2h-1.2zM207.7 108.9h1.2v1.2h-1.2zM214.2 112.8h1.2v1.2h-1.2zM208.2 112.2h1.2v1.2h-1.2zM205.8 104.4h1.2v1.2h-1.2zM214.3 102.4h1.2v1.2h-1.2zM223.5 109.3h1.2v1.2h-1.2zM205.9 110.0h1.2v1.2h-1.2zM204.9 94.5h1.2v1.2h-1.2zM212.7 111.5h1.2v1.2h-1.2zM223.3 112.6h1.2v1.2h-1.2zM218.8 110.8h1.2v1.2h-1.2zM216.3 110.1h1.2v1.2h-1.2zM220.7 93.1h1.2v1.2h-1.2zM209.7 110.3h1.2v1.2h-1.2zM204.1 105.8h1.2v1.2h-1.2zM209.6 112.4h1.2v1.2h-1.2zM212.7 108.3h1.2v1.2h-1.2zM222.0 112.5h1.2v1.2h-1.2zM207.9 108.4h1.2v1.2h-1.2zM223.1 111.6h1.2v1.2h-1.2zM209.4 106.6h1.2v1.2h-1.2zM211.3 106.4h1.2v1.2h-1.2zM217.7 112.5h1.2v1.2h-1.2zM221.8 112.7h1.2v1.2h-1.2zM214.5 111.2h1.2v1.2h-1.2zM215.7 111.5h1.2v1.2h-1.2zM212.2 112.1h1.2v1.2h-1.2zM218.7 111.5h1.2v1.2h-1.2zM217.9 110.6h1.2v1.2h-1.2zM220.8 108.4h1.2v1.2h-1.2zM214.4 92.5h1.2v1.2h-1.2zM203.4 107.8h1.2v1.2h-1.2zM215.5 108.7h1.2v1.2h-1.2zM212.3 110.6h1.2v1.2h-1.2zM218.1 112.5h1.2v1.2h-1.2zM209.1 94.1h1.2v1.2h-1.2zM220.5 111.2h1.2v1.2h-1.2zM224.1 101.7h1.2v1.2h-1.2zM209.8 109.7h1.2v1.2h-1.2zM213.1 108.4h1.2v1.2h-1.2zM210.5 109.8h1.2v1.2h-1.2zM208.7 110.6h1.2v1.2h-1.2zM217.2 109.6h1.2v1.2h-1.2zM209.4 111.6h1.2v1.2h-1.2zM217.6 105.1h1.2v1.2h-1.2zM217.8 112.0h1.2v1.2h-1.2zM224.7 112.8h1.2v1.2h-1.2zM223.0 107.0h1.2v1.2h-1.2zM210.3 111.7h1.2v1.2h-1.2zM214.1 107.9h1.2v1.2h-1.2zM214.2 109.5h1.2v1.2h-1.2zM215.9 112.8h1.2v1.2h-1.2zM211.4 107.1h1.2v1.2h-1.2zM213.9 112.4h1.2v1.2h-1.2zM209.9 110.3h1.2v1.2h-1.2zM216.9 98.4h1.2v1.2h-1.2zM215.7 107.4h1.2v1.2h-1.2zM212.9 108.6h1.2v1.2h-1.2zM216.1 106.9h1.2v1.2h-1.2zM224.1 111.0h1.2v1.2h-1.2zM214.5 107.8h1.2v1.2h-1.2zM205.2 112.6h1.2v1.2h-1.2zM209.2 98.1h1.2v1.2h-1.2zM206.5 104.3h1.2v1.2h-1.2zM213.1 112.1h1.2v1.2h-1.2zM209.1 109.4h1.2v1.2h-1.2zM218.4 100.0h1.2v1.2h-1.2zM221.1 111.3h1.2v1.2h-1.2zM217.3 108.0h1.2v1.2h-1.2zM204.5 101.9h1.2v1.2h-1.2zM222.8 108.2h1.2v1.2h-1.2zM222.4 106.2h1.2v1.2h-1.2zM204.1 112.7h1.2v1.2h-1.2zM221.5 110.5h1.2v1.2h-1.2zM214.1 111.6h1.2v1.2h-1.2zM208.9 112.4h1.2v1.2h-1.2zM212.8 109.9h1.2v1.2h-1.2zM205.8 110.7h1.2v1.2h-1.2zM212.5 110.3h1.2v1.2h-1.2zM215.2 112.3h1.2v1.2h-1.2zM222.5 108.6h1.2v1.2h-1.2zM209.1 112.8h1.2v1.2h-1.2zM208.0 109.3h1.2v1.2h-1.2zM220.8 102.4h1.2v1.2h-1.2zM218.9 111.7h1.2v1.2h-1.2zM207.4 105.9h1.2v1.2h-1.2zM214.1 110.8h1.2v1.2h-1.2zM206.7 110.5h1.2v1.2h-1.2zM206.3 111.9h1.2v1.2h-1.2zM210.3 112.3h1.2v1.2h-1.2zM215.1 105.2h1.2v1.2h-1.2zM210.3 111.4h1.2v1.2h-1.2zM211.1 112.5h1.2v1.2h-1.2zM222.5 109.7h1.2v1.2h-1.2zM218.3 105.9h1.2v1.2h-1.2zM210.0 110.1h1.2v1.2h-1.2zM213.5 99.5h1.2v1.2h-1.2zM215.1 105.6h1.2v1.2h-1.2zM209.3 106.2h1.2v1.2h-1.2zM213.3 110.5h1.2v1.2h-1.2zM212.5 107.7h1.2v1.2h-1.2zM217.7 111.2h1.2v1.2h-1.2zM206.1 108.9h1.2v1.2h-1.2zM213.5 106.4h1.2v1.2h-1.2zM216.3 112.1h1.2v1.2h-1.2zM223.1 109.2h1.2v1.2h-1.2zM217.3 111.6h1.2v1.2h-1.2zM204.1 108.9h1.2v1.2h-1.2zM224.5 106.6h1.2v1.2h-1.2zM210.6 109.8h1.2v1.2h-1.2zM211.7 107.2h1.2v1.2h-1.2zM213.8 112.3h1.2v1.2h-1.2zM204.3 98.4h1.2v1.2h-1.2zM210.4 93.2h1.2v1.2h-1.2zM204.1 106.7h1.2v1.2h-1.2zM213.9 100.4h1.2v1.2h-1.2zM206.0 103.5h1.2v1.2h-1.2zM220.3 112.6h1.2v1.2h-1.2zM215.2 112.0h1.2v1.2h-1.2zM213.6 112.0h1.2v1.2h-1.2zM204.8 106.1h1.2v1.2h-1.2zM212.5 110.2h1.2v1.2h-1.2zM221.1 112.1h1.2v1.2h-1.2zM215.6 108.7h1.2v1.2h-1.2zM215.8 103.3h1.2v1.2h-1.2zM224.2 108.8h1.2v1.2h-1.2zM217.8 110.9h1.2v1.2h-1.2zM209.7 112.8h1.2v1.2h-1.2zM215.7 104.9h1.2v1.2h-1.2zM206.2 112.2h1.2v1.2h-1.2zM216.2 107.5h1.2v1.2h-1.2zM221.3 108.4h1.2v1.2h-1.2zM206.7 111.5h1.2v1.2h-1.2zM212.7 90.1h1.2v1.2h-1.2zM209.8 104.6h1.2v1.2h-1.2zM209.2 101.7h1.2v1.2h-1.2zM213.7 112.5h1.2v1.2h-1.2zM215.6 108.6h1.2v1.2h-1.2zM219.5 108.0h1.2v1.2h-1.2zM210.2 103.4h1.2v1.2h-1.2zM210.7 107.0h1.2v1.2h-1.2zM210.3 112.1h1.2v1.2h-1.2zM217.7 111.6h1.2v1.2h-1.2zM209.0 109.6h1.2v1.2h-1.2zM208.9 112.2h1.2v1.2h-1.2zM220.7 112.1h1.2v1.2h-1.2zM220.7 108.7h1.2v1.2h-1.2zM213.8 105.4h1.2v1.2h-1.2zM209.7 109.6h1.2v1.2h-1.2zM221.4 108.1h1.2v1.2h-1.2zM214.3 102.0h1.2v1.2h-1.2zM206.0 111.9h1.2v1.2h-1.2zM213.0 111.1h1.2v1.2h-1.2zM223.8 111.9h1.2v1.2h-1.2zM205.9 109.2h1.2v1.2h-1.2zM212.2 109.7h1.2v1.2h-1.2zM221.0 110.2h1.2v1.2h-1.2zM224.8 111.8h1.2v1.2h-1.2zM208.1 106.4h1.2v1.2h-1.2zM214.9 105.6h1.2v1.2h-1.2zM216.4 111.9h1.2v1.2h-1.2zM221.2 105.4h1.2v1.2h-1.2zM216.8 111.9h1.2v1.2h-1.2zM212.6 103.7h1.2v1.2h-1.2zM208.6 111.5h1.2v1.2h-1.2zM217.7 111.5h1.2v1.2h-1.2zM217.6 103.9h1.2v1.2h-1.2zM214.7 112.6h1.2v1.2h-1.2zM208.5 105.7h1.2v1.2h-1.2zM213.6 111.4h1.2v1.2h-1.2zM208.8 103.1h1.2v1.2h-1.2zM207.1 101.1h1.2v1.2h-1.2zM223.0 102.4h1.2v1.2h-1.2zM223.6 112.7h1.2v1.2h-1.2zM217.4 108.8h1.2v1.2h-1.2zM213.4 100.9h1.2v1.2h-1.2zM213.1 111.4h1.2v1.2h-1.2zM224.4 110.3h1.2v1.2h-1.2zM205.9 108.4h1.2v1.2h-1.2zM217.5 105.9h1.2v1.2h-1.2zM205.2 102.3h1.2v1.2h-1.2zM209.8 101.5h1.2v1.2h-1.2zM218.6 112.1h1.2v1.2h-1.2zM215.6 99.4h1.2v1.2h-1.2zM224.8 95.9h1.2v1.2h-1.2zM213.7 109.7h1.2v1.2h-1.2zM216.4 98.5h1.2v1.2h-1.2zM214.8 111.5h1.2v1.2h-1.2zM209.5 109.8h1.2v1.2h-1.2zM217.7 111.0h1.2v1.2h-1.2zM213.1 107.7h1.2v1.2h-1.2zM221.8 109.5h1.2v1.2h-1.2zM210.6 107.3h1.2v1.2h-1.2zM220.2 111.2h1.2v1.2h-1.2zM217.9 111.4h1.2v1.2h-1.2zM216.3 112.0h1.2v1.2h-1.2zM204.4 109.3h1.2v1.2h-1.2zM220.0 103.7h1.2v1.2h-1.2zM222.4 111.3h1.2v1.2h-1.2zM219.9 112.4h1.2v1.2h-1.2zM221.1 109.9h1.2v1.2h-1.2zM223.4 100.2h1.2v1.2h-1.2zM210.1 107.7h1.2v1.2h-1.2zM217.4 112.6h1.2v1.2h-1.2zM220.5 107.6h1.2v1.2h-1.2zM214.4 105.5h1.2v1.2h-1.2zM215.4 111.7h1.2v1.2h-1.2zM218.1 109.2h1.2v1.2h-1.2zM223.9 109.0h1.2v1.2h-1.2zM208.4 101.5h1.2v1.2h-1.2zM213.7 111.3h1.2v1.2h-1.2zM206.9 112.6h1.2v1.2h-1.2zM212.4 111.7h1.2v1.2h-1.2zM213.1 108.2h1.2v1.2h-1.2zM224.8 109.0h1.2v1.2h-1.2zM214.5 110.8h1.2v1.2h-1.2zM220.9 112.3h1.2v1.2h-1.2zM207.5 109.4h1.2v1.2h-1.2zM213.9 106.3h1.2v1.2h-1.2zM212.9 111.7h1.2v1.2h-1.2zM216.5 110.6h1.2v1.2h-1.2zM216.9 111.4h1.2v1.2h-1.2zM211.0 103.8h1.2v1.2h-1.2zM217.9 112.7h1.2v1.2h-1.2zM223.4 111.3h1.2v1.2h-1.2zM210.3 103.2h1.2v1.2h-1.2zM218.5 111.6h1.2v1.2h-1.2zM212.7 108.2h1.2v1.2h-1.2zM218.0 107.4h1.2v1.2h-1.2zM220.4 108.4h1.2v1.2h-1.2zM216.3 111.9h1.2v1.2h-1.2zM214.9 106.0h1.2v1.2h-1.2zM215.0 111.9h1.2v1.2h-1.2zM219.0 106.5h1.2v1.2h-1.2zM217.3 108.7h1.2v1.2h-1.2zM220.6 110.0h1.2v1.2h-1.2zM218.1 110.0h1.2v1.2h-1.2zM220.7 102.4h1.2v1.2h-1.2zM211.1 107.4h1.2v1.2h-1.2zM221.6 111.5h1.2v1.2h-1.2zM208.7 104.9h1.2v1.2h-1.2zM203.3 112.3h1.2v1.2h-1.2zM209.7 111.6h1.2v1.2h-1.2zM211.9 112.5h1.2v1.2h-1.2zM222.4 111.1h1.2v1.2h-1.2zM217.9 110.4h1.2v1.2h-1.2zM223.5 111.1h1.2v1.2h-1.2zM203.4 109.9h1.2v1.2h-1.2zM219.6 111.2h1.2v1.2h-1.2zM213.3 110.5h1.2v1.2h-1.2zM223.0 108.5h1.2v1.2h-1.2zM224.8 112.7h1.2v1.2h-1.2zM224.5 107.5h1.2v1.2h-1.2zM223.6 112.3h1.2v1.2h-1.2zM212.9 107.7h1.2v1.2h-1.2zM216.9 112.6h1.2v1.2h-1.2zM212.7 107.7h1.2v1.2h-1.2zM209.4 107.3h1.2v1.2h-1.2zM213.3 110.4h1.2v1.2h-1.2zM222.1 107.2h1.2v1.2h-1.2zM220.1 97.5h1.2v1.2h-1.2zM213.5 111.7h1.2v1.2h-1.2zM217.6 112.7h1.2v1.2h-1.2zM207.0 112.3h1.2v1.2h-1.2zM207.5 100.4h1.2v1.2h-1.2zM209.8 105.8h1.2v1.2h-1.2zM214.2 101.8h1.2v1.2h-1.2zM216.0 112.0h1.2v1.2h-1.2zM215.9 95.5h1.2v1.2h-1.2zM205.3 110.0h1.2v1.2h-1.2zM206.5 112.5h1.2v1.2h-1.2zM217.0 108.9h1.2v1.2h-1.2zM215.3 106.9h1.2v1.2h-1.2zM207.1 112.5h1.2v1.2h-1.2zM220.3 112.5h1.2v1.2h-1.2zM224.2 111.9h1.2v1.2h-1.2zM206.4 112.4h1.2v1.2h-1.2zM214.9 103.7h1.2v1.2h-1.2zM216.4 112.2h1.2v1.2h-1.2zM212.9 99.6h1.2v1.2h-1.2zM220.2 108.9h1.2v1.2h-1.2zM205.3 106.9h1.2v1.2h-1.2zM215.9 103.6h1.2v1.2h-1.2zM216.4 111.0h1.2v1.2h-1.2zM213.0 108.7h1.2v1.2h-1.2zM214.1 98.5h1.2v1.2h-1.2zM215.3 107.0h1.2v1.2h-1.2zM224.1 110.9h1.2v1.2h-1.2zM223.7 109.4h1.2v1.2h-1.2zM223.5 111.0h1.2v1.2h-1.2zM207.4 104.8h1.2v1.2h-1.2zM213.8 110.3h1.2v1.2h-1.2zM208.9 112.8h1.2v1.2h-1.2zM214.0 110.0h1.2v1.2h-1.2zM207.3 111.5h1.2v1.2h-1.2zM215.9 110.3h1.2v1.2h-1.2zM213.8 111.2h1.2v1.2h-1.2zM212.5 101.7h1.2v1.2h-1.2zM209.4 109.9h1.2v1.2h-1.2zM222.8 109.5h1.2v1.2h-1.2zM214.8 108.0h1.2v1.2h-1.2zM207.8 112.0h1.2v1.2h-1.2zM217.3 112.7h1.2v1.2h-1.2zM205.2 102.6h1.2v1.2h-1.2zM223.4 106.8h1.2v1.2h-1.2zM224.7 110.6h1.2v1.2h-1.2zM211.9 104.5h1.2v1.2h-1.2zM217.3 111.4h1.2v1.2h-1.2zM220.7 104.8h1.2v1.2h-1.2zM214.9 103.0h1.2v1.2h-1.2zM222.2 112.6h1.2v1.2h-1.2zM205.2 108.6h1.2v1.2h-1.2zM216.2 102.2h1.2v1.2h-1.2zM220.1 111.2h1.2v1.2h-1.2zM205.9 103.8h1.2v1.2h-1.2zM211.6 103.6h1.2v1.2h-1.2zM214.4 106.1h1.2v1.2h-1.2zM207.9 109.8h1.2v1.2h-1.2zM217.4 105.0h1.2v1.2h-1.2zM216.6 108.2h1.2v1.2h-1.2zM222.6 111.0h1.2v1.2h-1.2zM210.0 107.2h1.2v1.2h-1.2zM216.1 111.5h1.2v1.2h-1.2zM218.9 110.6h1.2v1.2h-1.2zM203.7 103.8h1.2v1.2h-1.2zM205.9 103.0h1.2v1.2h-1.2zM208.8 110.3h1.2v1.2h-1.2zM220.6 112.0h1.2v1.2h-1.2zM210.7 107.1h1.2v1.2h-1.2zM210.4 112.5h1.2v1.2h-1.2zM217.7 104.9h1.2v1.2h-1.2zM217.7 112.2h1.2v1.2h-1.2zM211.4 105.1h1.2v1.2h-1.2zM217.4 109.7h1.2v1.2h-1.2zM211.7 105.5h1.2v1.2h-1.2zM204.0 108.4h1.2v1.2h-1.2zM213.3 105.5h1.2v1.2h-1.2zM208.1 111.6h1.2v1.2h-1.2zM216.2 104.4h1.2v1.2h-1.2zM214.9 105.1h1.2v1.2h-1.2zM219.2 111.2h1.2v1.2h-1.2zM220.8 98.9h1.2v1.2h-1.2zM213.6 112.0h1.2v1.2h-1.2zM212.2 111.3h1.2v1.2h-1.2zM206.5 112.5h1.2v1.2h-1.2zM215.8 112.8h1.2v1.2h-1.2zM216.2 111.8h1.2v1.2h-1.2zM215.6 110.8h1.2v1.2h-1.2zM220.7 111.5h1.2v1.2h-1.2zM224.3 108.7h1.2v1.2h-1.2zM220.3 107.7h1.2v1.2h-1.2zM212.8 110.9h1.2v1.2h-1.2zM214.5 111.9h1.2v1.2h-1.2zM211.9 110.3h1.2v1.2h-1.2zM213.9 111.4h1.2v1.2h-1.2zM204.5 107.5h1.2v1.2h-1.2zM209.6 106.9h1.2v1.2h-1.2zM208.9 106.9h1.2v1.2h-1.2zM210.2 112.2h1.2v1.2h-1.2zM218.5 105.7h1.2v1.2h-1.2zM215.5 102.4h1.2v1.2h-1.2zM204.4 99.6h1.2v1.2h-1.2zM224.8 105.8h1.2v1.2h-1.2zM222.7 105.6h1.2v1.2h-1.2zM215.0 102.1h1.2v1.2h-1.2zM218.1 111.0h1.2v1.2h-1.2zM214.7 110.2h1.2v1.2h-1.2zM221.1 110.0h1.2v1.2h-1.2zM209.7 107.4h1.2v1.2h-1.2zM209.5 108.4h1.2v1.2h-1.2zM204.4 112.3h1.2v1.2h-1.2zM205.2 82.7h1.3v1.3h-1.3zM208.9 82.7h1.3v1.3h-1.3zM215.4 84.3h1.3v1.3h-1.3zM203.9 87.4h1.3v1.3h-1.3z" fill="#f0963b"/>
<rect x="228.5" y="114.2" width="19.5" height="55.0" fill="#bebebe"/>
<path d="M232.8 111.9h1.2v1.2h-1.2zM239.9 111.5h1.2v1.2h-1.2zM242.9 112.2h1.2v1.2h-1.2zM237.0 110.8h1.2v1.2h-1.2zM246.4 112.7h1.2v1.2h-1.2zM231.5 109.2h1.2v1.2h-1.2zM238.4 113.1h1.2v1.2h-1.2zM232.4 105.6h1.2v1.2h-1.2zM246.2 112.6h1.2v1.2h-1.2zM229.8 102.9h1.2v1.2h-1.2zM229.2 113.1h1.2v1.2h-1.2zM229.6 102.0h1.2v1.2h-1.2zM236.7 113.5h1.2v1.2h-1.2zM237.2 108.5h1.2v1.2h-1.2zM240.2 100.1h1.2v1.2h-1.2zM233.5 109.5h1.2v1.2h-1.2zM233.0 109.5h1.2v1.2h-1.2zM241.3 112.6h1.2v1.2h-1.2zM241.6 113.5h1.2v1.2h-1.2zM229.8 113.2h1.2v1.2h-1.2zM231.0 109.9h1.2v1.2h-1.2zM238.4 109.3h1.2v1.2h-1.2zM246.7 111.4h1.2v1.2h-1.2zM230.4 111.7h1.2v1.2h-1.2zM239.3 106.2h1.2v1.2h-1.2zM246.1 111.6h1.2v1.2h-1.2zM229.0 112.4h1.2v1.2h-1.2zM228.7 111.8h1.2v1.2h-1.2zM233.0 110.9h1.2v1.2h-1.2zM230.9 109.6h1.2v1.2h-1.2zM245.2 111.9h1.2v1.2h-1.2zM229.7 110.7h1.2v1.2h-1.2zM232.0 111.1h1.2v1.2h-1.2zM244.8 110.7h1.2v1.2h-1.2zM242.2 111.8h1.2v1.2h-1.2zM235.3 111.2h1.2v1.2h-1.2zM239.2 110.8h1.2v1.2h-1.2zM234.9 110.4h1.2v1.2h-1.2zM236.6 112.1h1.2v1.2h-1.2zM245.2 110.4h1.2v1.2h-1.2zM240.2 110.3h1.2v1.2h-1.2zM228.7 112.2h1.2v1.2h-1.2zM240.0 105.8h1.2v1.2h-1.2zM240.5 112.3h1.2v1.2h-1.2zM230.9 107.1h1.2v1.2h-1.2zM236.8 110.1h1.2v1.2h-1.2zM246.7 113.2h1.2v1.2h-1.2zM238.1 112.8h1.2v1.2h-1.2zM244.2 112.2h1.2v1.2h-1.2zM233.2 109.6h1.2v1.2h-1.2zM231.6 109.3h1.2v1.2h-1.2zM238.2 107.5h1.2v1.2h-1.2zM246.5 111.8h1.2v1.2h-1.2zM228.7 111.0h1.2v1.2h-1.2zM241.9 112.8h1.2v1.2h-1.2zM230.9 110.8h1.2v1.2h-1.2zM241.4 113.1h1.2v1.2h-1.2zM241.9 113.4h1.2v1.2h-1.2zM241.6 112.8h1.2v1.2h-1.2zM243.1 112.4h1.2v1.2h-1.2zM237.3 113.4h1.2v1.2h-1.2zM232.2 110.6h1.2v1.2h-1.2zM244.9 111.1h1.2v1.2h-1.2zM238.2 113.2h1.2v1.2h-1.2zM230.6 109.7h1.2v1.2h-1.2zM237.9 107.4h1.2v1.2h-1.2zM240.1 111.6h1.2v1.2h-1.2zM240.0 110.9h1.2v1.2h-1.2zM233.2 112.9h1.2v1.2h-1.2zM230.7 113.5h1.2v1.2h-1.2zM239.8 110.4h1.2v1.2h-1.2zM244.9 113.1h1.2v1.2h-1.2zM229.5 99.9h1.2v1.2h-1.2zM231.0 112.7h1.2v1.2h-1.2zM243.4 110.3h1.2v1.2h-1.2zM230.6 104.7h1.2v1.2h-1.2zM233.6 112.8h1.2v1.2h-1.2zM231.3 112.2h1.2v1.2h-1.2zM234.7 111.3h1.2v1.2h-1.2zM238.3 113.3h1.2v1.2h-1.2zM246.1 112.7h1.2v1.2h-1.2zM242.0 106.6h1.2v1.2h-1.2zM236.1 112.2h1.2v1.2h-1.2zM240.0 113.3h1.2v1.2h-1.2zM242.9 112.2h1.2v1.2h-1.2zM237.6 113.2h1.2v1.2h-1.2zM236.3 108.0h1.2v1.2h-1.2zM242.7 110.7h1.2v1.2h-1.2zM246.3 111.0h1.2v1.2h-1.2zM231.2 109.2h1.2v1.2h-1.2zM234.4 113.2h1.2v1.2h-1.2zM244.4 113.0h1.2v1.2h-1.2zM246.6 112.9h1.2v1.2h-1.2zM237.4 112.3h1.2v1.2h-1.2zM233.1 113.4h1.2v1.2h-1.2zM244.8 112.7h1.2v1.2h-1.2zM244.6 109.3h1.2v1.2h-1.2zM234.7 111.9h1.2v1.2h-1.2zM230.7 105.6h1.2v1.2h-1.2zM231.3 112.7h1.2v1.2h-1.2zM229.4 111.0h1.2v1.2h-1.2zM238.7 112.0h1.2v1.2h-1.2zM231.1 109.6h1.2v1.2h-1.2zM230.4 112.2h1.2v1.2h-1.2zM229.1 113.5h1.2v1.2h-1.2zM229.7 108.2h1.2v1.2h-1.2zM230.9 111.9h1.2v1.2h-1.2zM233.5 111.5h1.2v1.2h-1.2zM231.7 113.4h1.2v1.2h-1.2zM244.2 107.9h1.2v1.2h-1.2zM245.7 113.1h1.2v1.2h-1.2zM230.9 109.1h1.2v1.2h-1.2zM237.0 113.5h1.2v1.2h-1.2zM235.2 108.5h1.2v1.2h-1.2zM242.0 107.6h1.2v1.2h-1.2zM243.4 112.6h1.2v1.2h-1.2zM229.5 112.0h1.2v1.2h-1.2zM241.6 112.3h1.2v1.2h-1.2zM234.6 112.4h1.2v1.2h-1.2zM230.7 108.3h1.2v1.2h-1.2zM230.3 113.3h1.2v1.2h-1.2zM241.8 112.3h1.2v1.2h-1.2zM234.9 112.2h1.2v1.2h-1.2zM244.2 109.1h1.2v1.2h-1.2zM231.2 111.4h1.2v1.2h-1.2zM241.6 112.3h1.2v1.2h-1.2zM243.4 113.0h1.2v1.2h-1.2zM234.5 107.6h1.2v1.2h-1.2zM243.5 107.5h1.2v1.2h-1.2zM246.3 111.4h1.2v1.2h-1.2zM242.0 112.2h1.2v1.2h-1.2zM244.1 112.4h1.2v1.2h-1.2zM239.4 113.5h1.2v1.2h-1.2zM244.4 110.5h1.2v1.2h-1.2zM240.2 98.0h1.2v1.2h-1.2zM231.0 111.2h1.2v1.2h-1.2zM243.7 111.6h1.2v1.2h-1.2zM237.8 112.4h1.2v1.2h-1.2zM238.2 110.6h1.2v1.2h-1.2zM230.9 107.1h1.2v1.2h-1.2zM245.8 98.0h1.2v1.2h-1.2zM238.9 111.3h1.2v1.2h-1.2zM245.8 103.5h1.2v1.2h-1.2zM232.2 111.3h1.2v1.2h-1.2zM243.3 106.0h1.2v1.2h-1.2zM230.0 111.3h1.2v1.2h-1.2zM233.3 108.5h1.2v1.2h-1.2zM237.1 113.1h1.2v1.2h-1.2zM244.4 111.6h1.2v1.2h-1.2zM244.2 112.2h1.2v1.2h-1.2zM244.7 113.5h1.2v1.2h-1.2zM232.7 111.5h1.2v1.2h-1.2zM233.5 113.2h1.2v1.2h-1.2zM245.3 111.8h1.2v1.2h-1.2zM244.6 112.7h1.2v1.2h-1.2zM244.5 108.0h1.2v1.2h-1.2zM243.4 108.4h1.2v1.2h-1.2zM233.0 112.5h1.2v1.2h-1.2zM233.5 111.6h1.2v1.2h-1.2zM228.8 113.2h1.2v1.2h-1.2zM233.4 110.3h1.2v1.2h-1.2zM244.8 107.5h1.2v1.2h-1.2zM230.3 109.2h1.2v1.2h-1.2zM229.3 105.1h1.2v1.2h-1.2zM233.1 112.4h1.2v1.2h-1.2zM241.7 107.9h1.2v1.2h-1.2zM230.3 111.5h1.2v1.2h-1.2zM230.4 112.2h1.2v1.2h-1.2zM229.1 109.4h1.2v1.2h-1.2zM245.3 112.7h1.2v1.2h-1.2zM231.2 110.2h1.2v1.2h-1.2zM241.8 113.2h1.2v1.2h-1.2zM240.0 110.9h1.2v1.2h-1.2zM240.6 113.6h1.2v1.2h-1.2zM229.9 108.4h1.2v1.2h-1.2zM245.1 113.0h1.2v1.2h-1.2zM229.2 112.2h1.2v1.2h-1.2zM229.5 109.3h1.2v1.2h-1.2zM238.6 113.2h1.2v1.2h-1.2zM241.0 111.0h1.2v1.2h-1.2zM243.5 113.4h1.2v1.2h-1.2zM238.5 106.1h1.2v1.2h-1.2zM232.9 112.1h1.2v1.2h-1.2zM235.5 113.4h1.2v1.2h-1.2zM236.8 113.1h1.2v1.2h-1.2zM238.1 110.1h1.2v1.2h-1.2zM229.0 109.2h1.2v1.2h-1.2zM233.7 110.2h1.2v1.2h-1.2zM232.3 112.8h1.2v1.2h-1.2zM239.4 107.0h1.2v1.2h-1.2zM233.4 109.7h1.2v1.2h-1.2zM230.4 111.9h1.2v1.2h-1.2zM237.0 111.2h1.2v1.2h-1.2zM244.8 113.5h1.2v1.2h-1.2zM244.5 111.0h1.2v1.2h-1.2zM235.3 108.5h1.2v1.2h-1.2zM231.0 110.5h1.2v1.2h-1.2zM245.4 113.0h1.2v1.2h-1.2zM245.8 102.3h1.2v1.2h-1.2zM234.3 113.2h1.2v1.2h-1.2zM232.3 108.2h1.2v1.2h-1.2zM229.3 110.3h1.2v1.2h-1.2zM236.1 110.5h1.2v1.2h-1.2zM245.4 110.6h1.2v1.2h-1.2zM237.0 110.4h1.2v1.2h-1.2zM239.3 113.4h1.2v1.2h-1.2zM246.3 111.0h1.2v1.2h-1.2zM241.6 108.4h1.2v1.2h-1.2zM232.6 110.3h1.2v1.2h-1.2zM229.3 107.4h1.2v1.2h-1.2zM238.1 112.0h1.2v1.2h-1.2zM242.7 113.1h1.2v1.2h-1.2zM233.5 111.6h1.2v1.2h-1.2zM246.3 112.1h1.2v1.2h-1.2zM243.9 108.2h1.2v1.2h-1.2zM236.3 112.2h1.2v1.2h-1.2zM238.0 110.5h1.2v1.2h-1.2zM237.2 111.9h1.2v1.2h-1.2zM232.0 112.8h1.2v1.2h-1.2zM246.7 113.2h1.2v1.2h-1.2zM237.7 113.4h1.2v1.2h-1.2zM245.5 108.9h1.2v1.2h-1.2zM232.4 112.5h1.2v1.2h-1.2zM234.4 112.9h1.2v1.2h-1.2zM239.6 111.2h1.2v1.2h-1.2zM235.5 112.8h1.2v1.2h-1.2zM244.5 110.2h1.2v1.2h-1.2zM246.0 112.7h1.2v1.2h-1.2zM243.6 110.4h1.2v1.2h-1.2zM245.0 109.0h1.2v1.2h-1.2zM232.8 110.9h1.2v1.2h-1.2zM236.8 106.8h1.2v1.2h-1.2zM235.8 110.7h1.2v1.2h-1.2zM231.0 113.1h1.2v1.2h-1.2zM244.3 103.1h1.2v1.2h-1.2zM230.4 111.0h1.2v1.2h-1.2zM239.5 113.2h1.2v1.2h-1.2zM229.1 113.6h1.2v1.2h-1.2zM242.3 108.0h1.2v1.2h-1.2zM245.3 113.3h1.2v1.2h-1.2zM238.0 106.7h1.2v1.2h-1.2zM244.3 106.8h1.2v1.2h-1.2zM229.3 113.0h1.2v1.2h-1.2zM245.0 112.5h1.2v1.2h-1.2zM245.0 106.9h1.2v1.2h-1.2zM230.8 109.8h1.2v1.2h-1.2zM244.2 111.8h1.2v1.2h-1.2zM242.9 111.8h1.2v1.2h-1.2zM239.2 110.7h1.2v1.2h-1.2zM241.7 112.1h1.2v1.2h-1.2zM244.6 113.4h1.2v1.2h-1.2zM239.5 94.9h1.3v1.3h-1.3z" fill="#bebebe"/>
<rect x="250.1" y="116.6" width="18.6" height="52.6" fill="#e3372b"/>
<path d="M260.0 115.2h1.2v1.2h-1.2zM256.3 111.1h1.2v1.2h-1.2zM264.3 111.4h1.2v1.2h-1.2zM261.6 111.2h1.2v1.2h-1.2zM252.7 113.4h1.2v1.2h-1.2zM253.9 110.7h1.2v1.2h-1.2zM262.6 114.1h1.2v1.2h-1.2zM253.3 110.4h1.2v1.2h-1.2zM257.3 115.3h1.2v1.2h-1.2zM261.7 108.5h1.2v1.2h-1.2zM254.2 114.0h1.2v1.2h-1.2zM254.1 113.9h1.2v1.2h-1.2zM255.7 114.4h1.2v1.2h-1.2zM261.5 111.9h1.2v1.2h-1.2zM265.7 113.3h1.2v1.2h-1.2zM253.4 113.7h1.2v1.2h-1.2zM251.4 109.1h1.2v1.2h-1.2zM257.1 103.9h1.2v1.2h-1.2zM261.5 115.8h1.2v1.2h-1.2zM264.0 114.0h1.2v1.2h-1.2zM250.4 111.5h1.2v1.2h-1.2zM262.5 114.1h1.2v1.2h-1.2zM252.6 115.5h1.2v1.2h-1.2zM264.8 115.0h1.2v1.2h-1.2zM259.3 100.9h1.2v1.2h-1.2zM264.0 113.4h1.2v1.2h-1.2zM251.1 114.9h1.2v1.2h-1.2zM262.1 112.0h1.2v1.2h-1.2zM259.4 115.7h1.2v1.2h-1.2zM259.5 114.5h1.2v1.2h-1.2zM256.5 110.4h1.2v1.2h-1.2zM267.2 115.9h1.2v1.2h-1.2zM254.2 115.8h1.2v1.2h-1.2zM261.5 113.0h1.2v1.2h-1.2zM262.3 102.3h1.2v1.2h-1.2zM265.6 112.7h1.2v1.2h-1.2zM253.6 108.8h1.2v1.2h-1.2zM264.0 103.6h1.2v1.2h-1.2zM261.8 114.5h1.2v1.2h-1.2zM255.3 110.4h1.2v1.2h-1.2zM257.0 113.0h1.2v1.2h-1.2zM261.5 110.5h1.2v1.2h-1.2zM251.1 113.3h1.2v1.2h-1.2zM257.1 112.9h1.2v1.2h-1.2zM255.3 113.1h1.2v1.2h-1.2zM262.1 98.0h1.2v1.2h-1.2zM250.7 115.9h1.2v1.2h-1.2zM264.6 110.1h1.2v1.2h-1.2zM259.1 113.9h1.2v1.2h-1.2zM250.1 110.4h1.2v1.2h-1.2zM266.5 113.2h1.2v1.2h-1.2zM250.4 114.5h1.2v1.2h-1.2zM265.5 114.5h1.2v1.2h-1.2zM260.5 112.2h1.2v1.2h-1.2zM255.3 115.6h1.2v1.2h-1.2zM261.0 112.8h1.2v1.2h-1.2zM253.4 111.2h1.2v1.2h-1.2zM259.6 114.6h1.2v1.2h-1.2zM262.1 114.8h1.2v1.2h-1.2zM265.8 111.8h1.2v1.2h-1.2zM253.8 109.6h1.2v1.2h-1.2zM254.3 108.1h1.2v1.2h-1.2zM258.4 115.9h1.2v1.2h-1.2zM253.0 112.0h1.2v1.2h-1.2zM252.2 106.5h1.2v1.2h-1.2zM258.8 115.1h1.2v1.2h-1.2zM259.1 112.3h1.2v1.2h-1.2zM259.2 113.2h1.2v1.2h-1.2zM258.4 112.4h1.2v1.2h-1.2zM251.7 115.3h1.2v1.2h-1.2zM262.0 115.7h1.2v1.2h-1.2zM259.1 114.3h1.2v1.2h-1.2zM264.4 115.2h1.2v1.2h-1.2zM253.1 114.1h1.2v1.2h-1.2zM258.0 111.2h1.2v1.2h-1.2zM262.6 108.8h1.2v1.2h-1.2zM254.2 108.2h1.2v1.2h-1.2zM262.2 113.7h1.2v1.2h-1.2zM257.8 113.6h1.2v1.2h-1.2zM266.9 103.5h1.2v1.2h-1.2zM256.4 115.2h1.2v1.2h-1.2zM264.9 115.7h1.2v1.2h-1.2zM263.3 113.9h1.2v1.2h-1.2zM250.9 112.3h1.2v1.2h-1.2zM262.5 115.4h1.2v1.2h-1.2zM253.9 113.5h1.2v1.2h-1.2zM263.5 113.0h1.2v1.2h-1.2zM254.8 114.1h1.2v1.2h-1.2zM265.8 110.5h1.2v1.2h-1.2zM261.1 109.9h1.2v1.2h-1.2zM261.4 113.4h1.2v1.2h-1.2zM257.1 111.0h1.2v1.2h-1.2zM262.5 114.6h1.2v1.2h-1.2zM265.6 112.0h1.2v1.2h-1.2zM256.8 110.5h1.2v1.2h-1.2zM250.6 113.9h1.2v1.2h-1.2zM266.2 114.1h1.2v1.2h-1.2zM260.7 112.2h1.2v1.2h-1.2zM257.2 114.1h1.2v1.2h-1.2zM253.2 115.1h1.2v1.2h-1.2zM259.6 112.5h1.2v1.2h-1.2zM265.2 116.0h1.2v1.2h-1.2zM264.5 114.3h1.2v1.2h-1.2zM256.0 113.4h1.2v1.2h-1.2zM261.9 113.6h1.2v1.2h-1.2zM266.2 113.1h1.2v1.2h-1.2zM263.5 116.0h1.2v1.2h-1.2zM251.0 114.8h1.2v1.2h-1.2zM250.4 102.7h1.2v1.2h-1.2zM255.2 111.5h1.2v1.2h-1.2zM260.9 109.5h1.2v1.2h-1.2zM264.2 115.4h1.2v1.2h-1.2zM256.6 104.9h1.2v1.2h-1.2zM255.4 115.8h1.2v1.2h-1.2zM253.1 115.5h1.2v1.2h-1.2zM252.8 114.5h1.2v1.2h-1.2zM250.7 107.3h1.2v1.2h-1.2zM253.2 111.1h1.2v1.2h-1.2zM265.8 114.2h1.2v1.2h-1.2zM263.8 114.4h1.2v1.2h-1.2zM254.1 111.7h1.2v1.2h-1.2zM256.3 111.2h1.2v1.2h-1.2zM261.1 112.8h1.2v1.2h-1.2zM253.3 115.1h1.2v1.2h-1.2zM255.2 112.8h1.2v1.2h-1.2zM265.6 114.5h1.2v1.2h-1.2zM265.9 104.1h1.2v1.2h-1.2zM250.8 115.4h1.2v1.2h-1.2zM257.8 113.4h1.2v1.2h-1.2zM262.8 115.8h1.2v1.2h-1.2zM266.8 114.6h1.2v1.2h-1.2zM263.0 114.5h1.2v1.2h-1.2zM267.4 115.0h1.2v1.2h-1.2zM252.6 112.6h1.2v1.2h-1.2zM267.0 110.6h1.2v1.2h-1.2zM264.2 108.7h1.2v1.2h-1.2zM261.7 115.5h1.2v1.2h-1.2zM257.7 115.8h1.2v1.2h-1.2zM257.4 112.0h1.2v1.2h-1.2zM254.6 107.1h1.2v1.2h-1.2zM263.6 110.7h1.2v1.2h-1.2zM259.1 112.3h1.2v1.2h-1.2zM254.1 115.8h1.2v1.2h-1.2zM262.2 110.2h1.2v1.2h-1.2zM253.6 107.2h1.2v1.2h-1.2zM266.5 112.6h1.2v1.2h-1.2zM251.1 115.3h1.2v1.2h-1.2zM261.7 114.0h1.2v1.2h-1.2zM257.8 107.9h1.2v1.2h-1.2zM255.5 108.8h1.2v1.2h-1.2zM256.8 110.3h1.2v1.2h-1.2zM250.4 114.6h1.2v1.2h-1.2zM261.8 114.3h1.2v1.2h-1.2zM254.5 113.7h1.2v1.2h-1.2zM259.5 106.3h1.2v1.2h-1.2zM262.9 114.3h1.2v1.2h-1.2zM255.3 115.9h1.2v1.2h-1.2zM261.6 115.8h1.2v1.2h-1.2zM257.5 114.1h1.2v1.2h-1.2zM261.2 111.7h1.2v1.2h-1.2zM260.7 112.2h1.2v1.2h-1.2zM253.8 113.9h1.2v1.2h-1.2zM256.3 113.1h1.2v1.2h-1.2zM259.6 113.7h1.2v1.2h-1.2zM264.5 114.4h1.2v1.2h-1.2zM256.6 110.9h1.2v1.2h-1.2zM250.6 96.8h1.2v1.2h-1.2zM258.3 109.1h1.2v1.2h-1.2zM255.4 115.4h1.2v1.2h-1.2zM253.4 110.1h1.2v1.2h-1.2zM253.9 109.7h1.2v1.2h-1.2zM258.5 101.4h1.2v1.2h-1.2zM250.4 113.4h1.2v1.2h-1.2zM266.1 112.9h1.2v1.2h-1.2zM252.9 114.0h1.2v1.2h-1.2zM266.0 114.3h1.2v1.2h-1.2zM262.9 115.3h1.2v1.2h-1.2zM252.5 114.1h1.2v1.2h-1.2zM259.9 105.0h1.2v1.2h-1.2zM266.4 108.8h1.2v1.2h-1.2zM262.3 115.5h1.2v1.2h-1.2zM256.3 114.3h1.2v1.2h-1.2zM250.1 115.1h1.2v1.2h-1.2zM252.2 115.4h1.2v1.2h-1.2zM265.7 102.5h1.2v1.2h-1.2zM260.4 104.2h1.2v1.2h-1.2zM260.9 106.9h1.2v1.2h-1.2zM257.8 107.7h1.2v1.2h-1.2zM251.3 105.1h1.2v1.2h-1.2zM258.4 112.4h1.2v1.2h-1.2zM250.9 108.9h1.2v1.2h-1.2zM262.4 113.9h1.2v1.2h-1.2zM264.8 106.2h1.2v1.2h-1.2zM260.2 114.3h1.2v1.2h-1.2zM258.0 110.6h1.2v1.2h-1.2zM266.5 112.8h1.2v1.2h-1.2zM262.5 111.6h1.2v1.2h-1.2zM265.5 115.6h1.2v1.2h-1.2zM252.6 112.1h1.2v1.2h-1.2zM251.7 115.7h1.2v1.2h-1.2zM261.0 113.8h1.2v1.2h-1.2zM261.1 111.0h1.2v1.2h-1.2zM257.3 115.2h1.2v1.2h-1.2zM250.8 115.1h1.2v1.2h-1.2zM257.1 97.2h1.2v1.2h-1.2zM253.3 114.2h1.2v1.2h-1.2zM259.4 114.5h1.2v1.2h-1.2zM253.6 115.9h1.2v1.2h-1.2zM264.6 112.2h1.2v1.2h-1.2zM264.0 109.2h1.2v1.2h-1.2zM256.7 113.8h1.2v1.2h-1.2zM265.0 113.7h1.2v1.2h-1.2zM261.6 114.5h1.2v1.2h-1.2zM266.1 114.0h1.2v1.2h-1.2zM263.9 114.2h1.2v1.2h-1.2zM255.1 114.7h1.2v1.2h-1.2zM259.2 106.8h1.2v1.2h-1.2zM250.7 108.9h1.2v1.2h-1.2zM259.6 116.0h1.2v1.2h-1.2zM251.1 115.7h1.2v1.2h-1.2zM260.2 114.9h1.2v1.2h-1.2zM256.4 113.4h1.2v1.2h-1.2zM257.9 116.0h1.2v1.2h-1.2zM260.1 114.2h1.2v1.2h-1.2zM252.2 115.7h1.2v1.2h-1.2zM264.0 114.0h1.2v1.2h-1.2zM258.1 110.7h1.2v1.2h-1.2zM258.1 114.0h1.2v1.2h-1.2zM251.2 113.2h1.2v1.2h-1.2zM261.3 112.6h1.2v1.2h-1.2zM251.5 114.6h1.2v1.2h-1.2zM264.4 115.2h1.2v1.2h-1.2zM251.6 114.2h1.2v1.2h-1.2zM262.5 112.9h1.2v1.2h-1.2zM262.2 114.0h1.2v1.2h-1.2zM256.9 107.4h1.2v1.2h-1.2zM250.9 114.6h1.2v1.2h-1.2zM262.0 115.7h1.2v1.2h-1.2zM266.3 107.9h1.2v1.2h-1.2zM251.1 115.8h1.2v1.2h-1.2zM255.7 103.1h1.2v1.2h-1.2zM259.1 112.9h1.2v1.2h-1.2zM260.2 111.1h1.2v1.2h-1.2zM261.7 114.9h1.2v1.2h-1.2zM260.8 114.0h1.2v1.2h-1.2zM253.4 115.3h1.2v1.2h-1.2zM259.2 113.4h1.2v1.2h-1.2zM263.1 109.8h1.2v1.2h-1.2zM253.4 114.6h1.2v1.2h-1.2zM250.9 107.5h1.2v1.2h-1.2zM265.6 115.6h1.2v1.2h-1.2zM263.8 106.6h1.2v1.2h-1.2zM258.9 103.0h1.2v1.2h-1.2zM259.4 115.9h1.2v1.2h-1.2zM260.5 110.8h1.2v1.2h-1.2zM253.4 115.6h1.2v1.2h-1.2zM253.6 99.3h1.2v1.2h-1.2zM258.2 109.8h1.2v1.2h-1.2zM255.3 115.4h1.2v1.2h-1.2zM257.6 105.0h1.2v1.2h-1.2zM261.6 111.9h1.2v1.2h-1.2zM257.4 109.9h1.2v1.2h-1.2zM261.5 114.1h1.2v1.2h-1.2zM260.9 104.1h1.2v1.2h-1.2zM253.2 113.8h1.2v1.2h-1.2zM255.8 114.1h1.2v1.2h-1.2zM265.4 106.1h1.2v1.2h-1.2zM251.6 115.4h1.2v1.2h-1.2zM267.2 110.2h1.2v1.2h-1.2zM255.0 109.7h1.2v1.2h-1.2zM255.7 113.5h1.2v1.2h-1.2zM257.5 111.7h1.2v1.2h-1.2zM253.3 115.6h1.2v1.2h-1.2zM259.6 112.9h1.2v1.2h-1.2zM251.2 114.9h1.2v1.2h-1.2zM259.5 115.1h1.2v1.2h-1.2zM266.3 113.5h1.2v1.2h-1.2zM262.7 115.4h1.2v1.2h-1.2zM262.1 113.6h1.2v1.2h-1.2zM264.8 108.1h1.2v1.2h-1.2zM258.0 101.7h1.2v1.2h-1.2zM259.0 112.0h1.2v1.2h-1.2zM260.6 114.6h1.2v1.2h-1.2zM257.4 114.9h1.2v1.2h-1.2zM253.1 112.3h1.2v1.2h-1.2zM261.4 114.6h1.2v1.2h-1.2zM254.5 108.8h1.2v1.2h-1.2zM257.9 114.5h1.2v1.2h-1.2zM254.1 108.7h1.2v1.2h-1.2zM266.9 115.7h1.2v1.2h-1.2zM253.0 114.8h1.2v1.2h-1.2zM265.3 112.8h1.2v1.2h-1.2zM263.4 113.9h1.2v1.2h-1.2zM266.1 115.7h1.2v1.2h-1.2zM258.1 112.8h1.2v1.2h-1.2zM263.4 114.5h1.2v1.2h-1.2zM265.8 113.3h1.2v1.2h-1.2zM256.3 114.2h1.2v1.2h-1.2zM263.3 101.8h1.2v1.2h-1.2zM265.3 110.9h1.2v1.2h-1.2zM260.7 114.3h1.2v1.2h-1.2zM262.7 111.4h1.2v1.2h-1.2zM262.1 114.0h1.2v1.2h-1.2zM251.7 115.7h1.2v1.2h-1.2zM257.2 116.0h1.2v1.2h-1.2zM265.1 114.8h1.2v1.2h-1.2zM259.5 114.5h1.2v1.2h-1.2zM258.1 114.3h1.2v1.2h-1.2zM264.8 110.2h1.2v1.2h-1.2zM255.5 114.9h1.2v1.2h-1.2zM258.4 114.7h1.2v1.2h-1.2zM254.0 114.7h1.2v1.2h-1.2zM253.8 109.9h1.2v1.2h-1.2zM253.2 112.2h1.2v1.2h-1.2zM262.0 112.0h1.2v1.2h-1.2zM265.0 115.4h1.2v1.2h-1.2zM266.0 114.0h1.2v1.2h-1.2zM257.4 114.5h1.2v1.2h-1.2zM264.6 115.5h1.2v1.2h-1.2zM262.0 109.8h1.2v1.2h-1.2zM267.5 115.6h1.2v1.2h-1.2zM254.6 113.8h1.2v1.2h-1.2zM261.4 114.2h1.2v1.2h-1.2zM264.7 110.1h1.2v1.2h-1.2zM262.7 115.6h1.2v1.2h-1.2zM263.9 105.6h1.2v1.2h-1.2zM260.0 113.5h1.2v1.2h-1.2zM250.6 113.8h1.2v1.2h-1.2zM251.9 109.4h1.2v1.2h-1.2zM257.9 114.5h1.2v1.2h-1.2zM266.6 115.5h1.2v1.2h-1.2zM252.5 113.9h1.2v1.2h-1.2zM267.4 114.0h1.2v1.2h-1.2zM257.1 104.6h1.2v1.2h-1.2zM250.1 112.1h1.2v1.2h-1.2zM250.4 108.5h1.2v1.2h-1.2zM258.5 110.1h1.2v1.2h-1.2zM253.8 94.9h1.3v1.3h-1.3zM258.4 96.4h1.3v1.3h-1.3z" fill="#e3372b"/>
<rect x="271.2" y="117.0" width="13.6" height="52.2" fill="#5ab6e6"/>
<path d="M282.6 106.6h1.2v1.2h-1.2zM279.8 106.7h1.2v1.2h-1.2zM281.4 114.9h1.2v1.2h-1.2zM277.5 98.2h1.2v1.2h-1.2zM277.8 113.9h1.2v1.2h-1.2zM278.0 113.0h1.2v1.2h-1.2zM278.3 116.1h1.2v1.2h-1.2zM279.6 114.6h1.2v1.2h-1.2zM277.3 109.8h1.2v1.2h-1.2zM283.3 113.9h1.2v1.2h-1.2zM278.0 107.7h1.2v1.2h-1.2zM282.3 107.9h1.2v1.2h-1.2zM279.6 115.7h1.2v1.2h-1.2zM271.9 106.0h1.2v1.2h-1.2zM282.1 113.5h1.2v1.2h-1.2zM271.4 114.7h1.2v1.2h-1.2zM277.7 114.0h1.2v1.2h-1.2zM276.2 109.2h1.2v1.2h-1.2zM275.5 108.0h1.2v1.2h-1.2zM271.4 112.3h1.2v1.2h-1.2zM277.5 114.1h1.2v1.2h-1.2zM273.1 113.5h1.2v1.2h-1.2zM282.4 109.5h1.2v1.2h-1.2zM279.3 115.1h1.2v1.2h-1.2zM276.3 115.1h1.2v1.2h-1.2zM277.7 106.4h1.2v1.2h-1.2zM283.0 114.9h1.2v1.2h-1.2zM280.9 111.8h1.2v1.2h-1.2zM279.7 108.9h1.2v1.2h-1.2zM281.5 113.1h1.2v1.2h-1.2zM281.9 115.3h1.2v1.2h-1.2zM280.0 116.3h1.2v1.2h-1.2zM277.9 113.7h1.2v1.2h-1.2zM281.6 115.8h1.2v1.2h-1.2zM274.7 116.0h1.2v1.2h-1.2zM272.8 113.6h1.2v1.2h-1.2zM272.8 115.9h1.2v1.2h-1.2zM272.0 113.0h1.2v1.2h-1.2zM275.9 111.7h1.2v1.2h-1.2zM271.9 113.9h1.2v1.2h-1.2zM275.7 110.5h1.2v1.2h-1.2zM282.2 101.3h1.2v1.2h-1.2zM272.4 114.2h1.2v1.2h-1.2zM277.5 113.9h1.2v1.2h-1.2zM276.0 101.3h1.2v1.2h-1.2zM279.2 105.4h1.2v1.2h-1.2zM280.4 113.5h1.2v1.2h-1.2zM282.1 116.4h1.2v1.2h-1.2zM271.6 111.8h1.2v1.2h-1.2zM282.9 108.1h1.2v1.2h-1.2zM276.7 111.4h1.2v1.2h-1.2zM281.2 116.3h1.2v1.2h-1.2zM281.2 114.5h1.2v1.2h-1.2zM283.2 109.7h1.2v1.2h-1.2zM278.6 111.8h1.2v1.2h-1.2zM282.2 107.4h1.2v1.2h-1.2zM278.8 101.8h1.2v1.2h-1.2zM272.9 116.3h1.2v1.2h-1.2zM272.6 115.2h1.2v1.2h-1.2zM282.5 115.9h1.2v1.2h-1.2zM282.8 109.6h1.2v1.2h-1.2zM281.5 114.9h1.2v1.2h-1.2zM273.2 109.7h1.2v1.2h-1.2zM275.0 109.8h1.2v1.2h-1.2zM283.6 112.7h1.2v1.2h-1.2zM272.1 114.7h1.2v1.2h-1.2zM276.7 103.8h1.2v1.2h-1.2zM278.8 112.1h1.2v1.2h-1.2zM275.4 114.7h1.2v1.2h-1.2zM280.3 110.7h1.2v1.2h-1.2zM272.2 115.8h1.2v1.2h-1.2zM278.6 114.2h1.2v1.2h-1.2zM271.9 111.5h1.2v1.2h-1.2zM277.8 116.1h1.2v1.2h-1.2zM272.3 115.1h1.2v1.2h-1.2zM274.8 112.5h1.2v1.2h-1.2zM279.1 108.7h1.2v1.2h-1.2zM274.2 115.4h1.2v1.2h-1.2zM282.6 114.6h1.2v1.2h-1.2zM272.3 115.2h1.2v1.2h-1.2zM272.5 107.5h1.2v1.2h-1.2zM283.3 115.8h1.2v1.2h-1.2zM278.3 112.7h1.2v1.2h-1.2zM271.6 110.9h1.2v1.2h-1.2zM277.7 115.2h1.2v1.2h-1.2zM276.5 115.0h1.2v1.2h-1.2zM280.7 108.6h1.2v1.2h-1.2zM271.4 116.3h1.2v1.2h-1.2zM271.7 112.0h1.2v1.2h-1.2zM273.3 115.2h1.2v1.2h-1.2zM277.1 113.1h1.2v1.2h-1.2zM274.7 100.5h1.2v1.2h-1.2zM281.9 111.6h1.2v1.2h-1.2zM280.2 115.3h1.2v1.2h-1.2zM282.5 111.2h1.2v1.2h-1.2zM273.4 114.0h1.2v1.2h-1.2zM276.6 113.5h1.2v1.2h-1.2zM274.3 112.2h1.2v1.2h-1.2zM275.4 115.0h1.2v1.2h-1.2zM271.4 109.9h1.2v1.2h-1.2zM279.5 115.8h1.2v1.2h-1.2zM277.2 111.0h1.2v1.2h-1.2zM271.4 115.3h1.2v1.2h-1.2zM282.8 114.6h1.2v1.2h-1.2zM279.0 112.8h1.2v1.2h-1.2zM279.5 111.7h1.2v1.2h-1.2zM276.9 115.9h1.2v1.2h-1.2zM272.7 109.8h1.2v1.2h-1.2zM273.0 106.7h1.2v1.2h-1.2zM273.5 111.3h1.2v1.2h-1.2zM282.1 114.6h1.2v1.2h-1.2zM283.1 114.3h1.2v1.2h-1.2zM277.1 112.9h1.2v1.2h-1.2zM273.6 104.2h1.2v1.2h-1.2zM279.2 114.4h1.2v1.2h-1.2zM282.0 109.1h1.2v1.2h-1.2zM282.5 106.6h1.2v1.2h-1.2zM276.3 111.7h1.2v1.2h-1.2zM273.6 112.9h1.2v1.2h-1.2zM277.4 106.3h1.2v1.2h-1.2zM281.6 115.5h1.2v1.2h-1.2zM271.8 113.1h1.2v1.2h-1.2zM274.3 114.0h1.2v1.2h-1.2zM279.7 115.5h1.2v1.2h-1.2zM271.8 110.8h1.2v1.2h-1.2zM276.6 112.0h1.2v1.2h-1.2zM277.6 101.6h1.2v1.2h-1.2zM282.8 114.7h1.2v1.2h-1.2zM281.8 111.9h1.2v1.2h-1.2zM283.1 111.3h1.2v1.2h-1.2zM281.6 115.2h1.2v1.2h-1.2zM276.5 109.4h1.2v1.2h-1.2zM273.0 108.2h1.2v1.2h-1.2zM276.4 115.2h1.2v1.2h-1.2zM277.0 115.1h1.2v1.2h-1.2zM280.2 112.7h1.2v1.2h-1.2zM277.5 111.4h1.2v1.2h-1.2zM280.3 110.2h1.2v1.2h-1.2zM276.6 115.7h1.2v1.2h-1.2zM282.9 114.1h1.2v1.2h-1.2zM280.5 115.1h1.2v1.2h-1.2zM281.5 105.3h1.2v1.2h-1.2zM277.5 112.7h1.2v1.2h-1.2zM278.6 106.9h1.2v1.2h-1.2zM275.3 115.4h1.2v1.2h-1.2zM271.9 111.7h1.2v1.2h-1.2zM278.1 116.2h1.2v1.2h-1.2zM281.3 115.9h1.2v1.2h-1.2zM279.4 111.8h1.2v1.2h-1.2zM278.7 112.3h1.2v1.2h-1.2zM277.6 115.8h1.2v1.2h-1.2zM281.9 96.3h1.2v1.2h-1.2zM282.6 112.2h1.2v1.2h-1.2zM278.0 115.5h1.2v1.2h-1.2zM274.7 115.7h1.2v1.2h-1.2zM271.8 115.6h1.2v1.2h-1.2zM282.5 114.3h1.2v1.2h-1.2zM281.5 114.3h1.2v1.2h-1.2zM275.6 111.7h1.2v1.2h-1.2zM278.3 111.9h1.2v1.2h-1.2zM282.6 112.6h1.2v1.2h-1.2zM282.8 112.4h1.2v1.2h-1.2zM277.4 114.6h1.2v1.2h-1.2zM279.8 115.5h1.2v1.2h-1.2zM276.3 113.9h1.2v1.2h-1.2zM280.6 115.5h1.2v1.2h-1.2zM272.7 115.6h1.2v1.2h-1.2zM277.2 114.4h1.2v1.2h-1.2zM271.6 114.9h1.2v1.2h-1.2zM277.5 116.4h1.2v1.2h-1.2zM279.9 109.0h1.2v1.2h-1.2zM271.4 113.1h1.2v1.2h-1.2zM276.7 108.7h1.2v1.2h-1.2zM277.9 110.0h1.2v1.2h-1.2zM278.4 113.0h1.2v1.2h-1.2zM276.5 116.3h1.2v1.2h-1.2zM280.1 112.2h1.2v1.2h-1.2zM275.9 111.5h1.2v1.2h-1.2zM271.5 108.5h1.2v1.2h-1.2zM271.3 115.3h1.2v1.2h-1.2zM272.7 103.3h1.2v1.2h-1.2zM274.4 112.3h1.2v1.2h-1.2zM273.8 99.9h1.2v1.2h-1.2zM276.7 103.4h1.2v1.2h-1.2zM279.4 115.3h1.2v1.2h-1.2zM282.3 114.4h1.2v1.2h-1.2zM281.1 107.3h1.2v1.2h-1.2zM282.8 115.4h1.2v1.2h-1.2zM273.2 107.5h1.2v1.2h-1.2zM281.6 109.7h1.2v1.2h-1.2zM271.7 115.6h1.2v1.2h-1.2zM274.0 104.9h1.2v1.2h-1.2zM277.7 103.3h1.2v1.2h-1.2zM281.8 113.9h1.2v1.2h-1.2zM273.5 114.4h1.2v1.2h-1.2zM283.4 112.1h1.2v1.2h-1.2zM281.7 112.4h1.2v1.2h-1.2zM282.8 110.3h1.2v1.2h-1.2zM275.7 113.2h1.2v1.2h-1.2zM281.1 115.1h1.2v1.2h-1.2zM281.8 111.2h1.2v1.2h-1.2zM271.2 112.8h1.2v1.2h-1.2zM275.3 116.1h1.2v1.2h-1.2zM276.3 115.2h1.2v1.2h-1.2zM283.6 115.4h1.2v1.2h-1.2zM277.1 113.4h1.2v1.2h-1.2zM273.5 109.3h1.2v1.2h-1.2zM276.9 114.3h1.2v1.2h-1.2zM281.6 113.9h1.2v1.2h-1.2zM277.6 111.5h1.2v1.2h-1.2zM277.6 110.8h1.2v1.2h-1.2zM276.3 113.6h1.2v1.2h-1.2zM282.7 110.9h1.2v1.2h-1.2zM279.0 110.2h1.2v1.2h-1.2zM277.7 112.1h1.2v1.2h-1.2zM277.1 114.5h1.2v1.2h-1.2zM272.4 110.4h1.2v1.2h-1.2zM279.3 109.0h1.2v1.2h-1.2zM281.2 113.2h1.2v1.2h-1.2zM272.1 107.8h1.2v1.2h-1.2zM278.3 113.3h1.2v1.2h-1.2zM282.0 113.4h1.2v1.2h-1.2zM271.8 112.9h1.2v1.2h-1.2zM277.6 114.6h1.2v1.2h-1.2zM278.4 115.1h1.2v1.2h-1.2zM283.4 108.9h1.2v1.2h-1.2zM281.3 114.9h1.2v1.2h-1.2zM275.2 116.1h1.2v1.2h-1.2zM271.5 103.0h1.2v1.2h-1.2zM272.4 115.0h1.2v1.2h-1.2zM278.8 115.6h1.2v1.2h-1.2zM278.1 114.9h1.2v1.2h-1.2zM272.7 103.7h1.2v1.2h-1.2zM272.0 111.8h1.2v1.2h-1.2zM275.6 115.0h1.2v1.2h-1.2zM275.0 113.3h1.2v1.2h-1.2zM278.1 100.2h1.2v1.2h-1.2zM282.2 106.1h1.2v1.2h-1.2zM283.2 115.5h1.2v1.2h-1.2zM275.8 115.6h1.2v1.2h-1.2zM277.4 108.8h1.2v1.2h-1.2zM281.4 115.7h1.2v1.2h-1.2zM275.0 108.7h1.2v1.2h-1.2zM277.8 112.9h1.2v1.2h-1.2zM282.2 113.6h1.2v1.2h-1.2zM282.0 112.4h1.2v1.2h-1.2zM282.7 115.3h1.2v1.2h-1.2zM279.8 110.2h1.2v1.2h-1.2zM279.4 115.0h1.2v1.2h-1.2zM272.6 110.5h1.2v1.2h-1.2zM282.5 106.5h1.2v1.2h-1.2zM279.5 115.0h1.2v1.2h-1.2zM278.9 114.4h1.2v1.2h-1.2zM276.8 111.0h1.2v1.2h-1.2zM276.3 114.3h1.2v1.2h-1.2zM272.1 114.0h1.2v1.2h-1.2zM275.3 114.1h1.2v1.2h-1.2zM277.4 110.7h1.2v1.2h-1.2zM272.3 105.3h1.2v1.2h-1.2zM281.3 110.5h1.2v1.2h-1.2zM271.6 104.5h1.2v1.2h-1.2zM281.9 115.2h1.2v1.2h-1.2zM273.8 116.2h1.2v1.2h-1.2z" fill="#5ab6e6"/>
<rect x="286.9" y="122.0" width="18.2" height="47.2" fill="#1b3c8c"/>
<path d="M288.1 114.5h1.2v1.2h-1.2zM288.4 120.9h1.2v1.2h-1.2zM295.1 118.9h1.2v1.2h-1.2zM302.7 108.6h1.2v1.2h-1.2zM286.9 97.0h1.2v1.2h-1.2zM296.9 121.3h1.2v1.2h-1.2zM297.5 121.4h1.2v1.2h-1.2zM287.2 121.0h1.2v1.2h-1.2zM299.9 119.2h1.2v1.2h-1.2zM289.0 113.4h1.2v1.2h-1.2zM293.4 114.3h1.2v1.2h-1.2zM295.8 118.1h1.2v1.2h-1.2zM298.2 120.2h1.2v1.2h-1.2zM287.9 116.9h1.2v1.2h-1.2zM303.0 116.8h1.2v1.2h-1.2zM295.9 107.0h1.2v1.2h-1.2zM289.5 120.4h1.2v1.2h-1.2zM289.7 120.4h1.2v1.2h-1.2zM295.3 119.1h1.2v1.2h-1.2zM292.1 117.9h1.2v1.2h-1.2zM291.6 120.6h1.2v1.2h-1.2zM298.0 121.4h1.2v1.2h-1.2zM301.3 116.4h1.2v1.2h-1.2zM303.5 120.1h1.2v1.2h-1.2zM289.4 108.7h1.2v1.2h-1.2zM301.8 115.4h1.2v1.2h-1.2zM294.0 120.9h1.2v1.2h-1.2zM293.6 120.3h1.2v1.2h-1.2zM302.5 115.9h1.2v1.2h-1.2zM292.4 119.9h1.2v1.2h-1.2zM295.1 119.8h1.2v1.2h-1.2zM289.2 117.7h1.2v1.2h-1.2zM298.6 118.2h1.2v1.2h-1.2zM295.7 120.0h1.2v1.2h-1.2zM298.0 110.4h1.2v1.2h-1.2zM295.4 120.3h1.2v1.2h-1.2zM296.6 120.9h1.2v1.2h-1.2zM303.6 114.7h1.2v1.2h-1.2zM302.2 116.9h1.2v1.2h-1.2zM291.8 118.6h1.2v1.2h-1.2zM287.5 113.6h1.2v1.2h-1.2zM294.4 118.8h1.2v1.2h-1.2zM292.1 119.8h1.2v1.2h-1.2zM297.8 117.5h1.2v1.2h-1.2zM300.4 113.9h1.2v1.2h-1.2zM288.8 120.9h1.2v1.2h-1.2zM302.3 115.3h1.2v1.2h-1.2zM302.0 112.4h1.2v1.2h-1.2zM300.2 118.7h1.2v1.2h-1.2zM301.1 117.8h1.2v1.2h-1.2zM296.2 119.2h1.2v1.2h-1.2zM287.4 119.2h1.2v1.2h-1.2zM292.2 120.3h1.2v1.2h-1.2zM296.0 120.2h1.2v1.2h-1.2zM290.0 103.2h1.2v1.2h-1.2zM302.8 117.2h1.2v1.2h-1.2zM292.5 115.7h1.2v1.2h-1.2zM293.9 116.7h1.2v1.2h-1.2zM291.0 120.4h1.2v1.2h-1.2zM303.3 116.9h1.2v1.2h-1.2zM287.5 119.3h1.2v1.2h-1.2zM292.9 117.4h1.2v1.2h-1.2zM291.9 116.7h1.2v1.2h-1.2zM292.3 118.8h1.2v1.2h-1.2zM302.3 116.0h1.2v1.2h-1.2zM295.8 121.2h1.2v1.2h-1.2zM291.0 99.9h1.2v1.2h-1.2zM287.7 120.7h1.2v1.2h-1.2zM288.8 112.7h1.2v1.2h-1.2zM297.0 118.1h1.2v1.2h-1.2zM288.0 118.4h1.2v1.2h-1.2zM293.9 120.6h1.2v1.2h-1.2zM302.5 118.8h1.2v1.2h-1.2zM294.4 112.0h1.2v1.2h-1.2zM301.2 119.4h1.2v1.2h-1.2zM298.8 118.9h1.2v1.2h-1.2zM294.3 117.3h1.2v1.2h-1.2zM291.1 120.4h1.2v1.2h-1.2zM300.1 107.1h1.2v1.2h-1.2zM299.6 112.7h1.2v1.2h-1.2zM297.2 108.9h1.2v1.2h-1.2zM293.4 118.8h1.2v1.2h-1.2zM302.7 118.7h1.2v1.2h-1.2zM300.4 114.8h1.2v1.2h-1.2zM288.1 120.1h1.2v1.2h-1.2zM298.2 120.5h1.2v1.2h-1.2zM290.1 120.3h1.2v1.2h-1.2zM287.8 118.5h1.2v1.2h-1.2zM302.2 100.2h1.2v1.2h-1.2zM287.7 120.7h1.2v1.2h-1.2zM302.9 116.7h1.2v1.2h-1.2zM301.3 103.8h1.2v1.2h-1.2zM301.9 120.5h1.2v1.2h-1.2zM303.6 115.6h1.2v1.2h-1.2zM291.3 118.2h1.2v1.2h-1.2zM295.9 118.5h1.2v1.2h-1.2zM293.9 120.1h1.2v1.2h-1.2zM291.8 117.6h1.2v1.2h-1.2zM293.8 116.4h1.2v1.2h-1.2zM295.4 117.7h1.2v1.2h-1.2zM302.1 116.5h1.2v1.2h-1.2zM292.0 120.4h1.2v1.2h-1.2zM294.9 116.2h1.2v1.2h-1.2zM299.5 114.5h1.2v1.2h-1.2zM295.3 120.5h1.2v1.2h-1.2zM299.7 103.1h1.2v1.2h-1.2zM300.2 106.6h1.2v1.2h-1.2zM289.6 119.0h1.2v1.2h-1.2zM297.7 120.5h1.2v1.2h-1.2zM295.1 121.3h1.2v1.2h-1.2zM293.7 114.3h1.2v1.2h-1.2zM293.5 115.3h1.2v1.2h-1.2zM301.0 120.7h1.2v1.2h-1.2zM287.3 119.3h1.2v1.2h-1.2zM291.5 120.9h1.2v1.2h-1.2zM302.7 109.2h1.2v1.2h-1.2zM289.1 120.7h1.2v1.2h-1.2zM303.3 118.1h1.2v1.2h-1.2zM303.0 120.6h1.2v1.2h-1.2zM296.9 121.0h1.2v1.2h-1.2zM300.0 119.3h1.2v1.2h-1.2zM296.3 118.7h1.2v1.2h-1.2zM299.5 121.1h1.2v1.2h-1.2zM296.7 118.7h1.2v1.2h-1.2zM295.4 106.4h1.2v1.2h-1.2zM294.2 106.5h1.2v1.2h-1.2zM291.5 120.6h1.2v1.2h-1.2zM301.1 120.0h1.2v1.2h-1.2zM293.1 103.8h1.2v1.2h-1.2zM289.9 112.3h1.2v1.2h-1.2zM293.5 117.3h1.2v1.2h-1.2zM295.1 116.8h1.2v1.2h-1.2zM287.3 113.5h1.2v1.2h-1.2zM294.5 118.2h1.2v1.2h-1.2zM289.1 115.9h1.2v1.2h-1.2zM300.8 96.8h1.2v1.2h-1.2zM295.5 106.6h1.2v1.2h-1.2zM293.0 117.7h1.2v1.2h-1.2zM302.5 120.9h1.2v1.2h-1.2zM289.2 120.8h1.2v1.2h-1.2zM289.1 112.4h1.2v1.2h-1.2zM291.7 118.2h1.2v1.2h-1.2zM298.9 119.9h1.2v1.2h-1.2zM292.5 117.4h1.2v1.2h-1.2zM292.7 121.1h1.2v1.2h-1.2zM293.2 120.5h1.2v1.2h-1.2zM289.7 119.9h1.2v1.2h-1.2zM289.7 118.3h1.2v1.2h-1.2zM298.8 115.8h1.2v1.2h-1.2zM291.6 121.0h1.2v1.2h-1.2zM299.3 111.9h1.2v1.2h-1.2zM300.7 120.8h1.2v1.2h-1.2zM298.7 116.7h1.2v1.2h-1.2zM294.8 118.3h1.2v1.2h-1.2zM297.2 110.9h1.2v1.2h-1.2zM292.0 116.5h1.2v1.2h-1.2zM289.0 109.7h1.2v1.2h-1.2zM295.2 115.0h1.2v1.2h-1.2zM301.6 119.2h1.2v1.2h-1.2zM287.0 118.9h1.2v1.2h-1.2zM298.8 111.5h1.2v1.2h-1.2zM299.7 113.5h1.2v1.2h-1.2zM291.3 119.6h1.2v1.2h-1.2zM301.4 105.2h1.2v1.2h-1.2zM299.0 118.9h1.2v1.2h-1.2zM302.7 113.8h1.2v1.2h-1.2zM289.5 118.4h1.2v1.2h-1.2zM302.7 111.9h1.2v1.2h-1.2zM291.4 114.4h1.2v1.2h-1.2zM295.9 118.4h1.2v1.2h-1.2zM292.2 116.4h1.2v1.2h-1.2zM300.0 115.3h1.2v1.2h-1.2zM295.6 117.2h1.2v1.2h-1.2zM302.1 112.6h1.2v1.2h-1.2zM297.9 119.4h1.2v1.2h-1.2zM295.4 116.4h1.2v1.2h-1.2zM300.4 119.7h1.2v1.2h-1.2zM295.1 105.8h1.2v1.2h-1.2zM289.0 117.0h1.2v1.2h-1.2zM302.9 106.8h1.2v1.2h-1.2zM287.4 119.9h1.2v1.2h-1.2zM289.5 120.6h1.2v1.2h-1.2zM295.5 103.3h1.2v1.2h-1.2zM295.6 117.9h1.2v1.2h-1.2zM298.7 120.5h1.2v1.2h-1.2zM290.2 118.7h1.2v1.2h-1.2zM295.5 116.8h1.2v1.2h-1.2zM302.0 121.3h1.2v1.2h-1.2zM300.8 120.4h1.2v1.2h-1.2zM295.9 121.2h1.2v1.2h-1.2zM296.1 120.6h1.2v1.2h-1.2zM295.2 117.8h1.2v1.2h-1.2zM293.5 108.8h1.2v1.2h-1.2zM293.7 116.1h1.2v1.2h-1.2zM298.2 117.1h1.2v1.2h-1.2zM292.6 114.0h1.2v1.2h-1.2zM302.4 120.4h1.2v1.2h-1.2zM296.0 120.0h1.2v1.2h-1.2zM300.3 114.2h1.2v1.2h-1.2zM290.8 115.8h1.2v1.2h-1.2zM299.4 114.5h1.2v1.2h-1.2zM296.4 117.8h1.2v1.2h-1.2zM289.1 121.4h1.2v1.2h-1.2zM288.3 120.9h1.2v1.2h-1.2zM293.5 120.0h1.2v1.2h-1.2zM297.9 103.3h1.2v1.2h-1.2zM302.1 109.3h1.2v1.2h-1.2zM302.5 120.2h1.2v1.2h-1.2zM293.0 120.4h1.2v1.2h-1.2zM302.2 118.1h1.2v1.2h-1.2zM302.7 121.2h1.2v1.2h-1.2zM288.8 116.5h1.2v1.2h-1.2zM292.7 114.2h1.2v1.2h-1.2zM296.1 111.9h1.2v1.2h-1.2zM294.9 112.8h1.2v1.2h-1.2zM289.9 117.7h1.2v1.2h-1.2zM294.9 115.8h1.2v1.2h-1.2zM287.6 117.7h1.2v1.2h-1.2zM294.3 119.0h1.2v1.2h-1.2zM293.2 120.8h1.2v1.2h-1.2zM303.1 106.5h1.2v1.2h-1.2zM300.4 121.4h1.2v1.2h-1.2zM302.8 120.7h1.2v1.2h-1.2zM299.0 119.2h1.2v1.2h-1.2zM295.9 115.8h1.2v1.2h-1.2zM289.1 118.4h1.2v1.2h-1.2zM293.6 119.4h1.2v1.2h-1.2zM300.2 120.4h1.2v1.2h-1.2zM290.8 106.7h1.2v1.2h-1.2zM302.4 119.6h1.2v1.2h-1.2zM293.4 103.8h1.2v1.2h-1.2zM295.8 113.3h1.2v1.2h-1.2zM291.2 119.9h1.2v1.2h-1.2zM300.7 120.8h1.2v1.2h-1.2zM293.7 99.5h1.2v1.2h-1.2zM303.7 113.2h1.2v1.2h-1.2zM294.0 119.4h1.2v1.2h-1.2zM287.6 119.3h1.2v1.2h-1.2zM300.4 112.8h1.2v1.2h-1.2zM297.5 121.2h1.2v1.2h-1.2zM298.2 112.6h1.2v1.2h-1.2zM298.0 120.2h1.2v1.2h-1.2zM302.6 102.0h1.2v1.2h-1.2zM295.5 108.6h1.2v1.2h-1.2zM302.6 108.1h1.2v1.2h-1.2zM292.3 120.5h1.2v1.2h-1.2zM287.4 119.5h1.2v1.2h-1.2zM302.5 120.1h1.2v1.2h-1.2zM299.7 118.3h1.2v1.2h-1.2zM288.9 120.2h1.2v1.2h-1.2zM291.0 102.4h1.2v1.2h-1.2zM297.9 113.2h1.2v1.2h-1.2zM300.2 121.0h1.2v1.2h-1.2zM301.1 121.2h1.2v1.2h-1.2zM300.8 116.5h1.2v1.2h-1.2zM289.0 120.8h1.2v1.2h-1.2zM287.5 120.3h1.2v1.2h-1.2zM289.3 108.4h1.2v1.2h-1.2zM296.3 118.7h1.2v1.2h-1.2zM294.3 118.4h1.2v1.2h-1.2zM287.9 117.6h1.2v1.2h-1.2zM293.5 117.4h1.2v1.2h-1.2zM287.1 113.4h1.2v1.2h-1.2zM295.4 120.0h1.2v1.2h-1.2zM287.8 121.0h1.2v1.2h-1.2zM289.5 114.4h1.2v1.2h-1.2zM294.8 99.0h1.2v1.2h-1.2zM297.5 116.8h1.2v1.2h-1.2zM297.6 121.3h1.2v1.2h-1.2zM289.1 114.9h1.2v1.2h-1.2zM294.3 120.4h1.2v1.2h-1.2zM291.6 120.5h1.2v1.2h-1.2zM292.3 120.2h1.2v1.2h-1.2zM294.2 121.3h1.2v1.2h-1.2zM289.0 110.1h1.2v1.2h-1.2zM296.2 113.3h1.2v1.2h-1.2zM294.5 117.9h1.2v1.2h-1.2zM302.7 120.9h1.2v1.2h-1.2zM297.8 119.0h1.2v1.2h-1.2zM295.4 119.7h1.2v1.2h-1.2zM287.0 114.3h1.2v1.2h-1.2zM289.7 118.2h1.2v1.2h-1.2zM298.5 113.1h1.2v1.2h-1.2zM295.6 116.1h1.2v1.2h-1.2zM288.2 115.6h1.2v1.2h-1.2zM295.9 119.0h1.2v1.2h-1.2zM295.8 105.6h1.2v1.2h-1.2zM296.1 114.6h1.2v1.2h-1.2zM296.2 120.7h1.2v1.2h-1.2zM290.0 117.3h1.2v1.2h-1.2zM301.6 116.1h1.2v1.2h-1.2zM299.7 121.2h1.2v1.2h-1.2zM301.9 119.4h1.2v1.2h-1.2zM295.4 114.9h1.2v1.2h-1.2zM303.3 118.0h1.2v1.2h-1.2zM303.2 119.5h1.2v1.2h-1.2zM291.0 119.2h1.2v1.2h-1.2zM295.5 113.7h1.2v1.2h-1.2zM288.6 117.8h1.2v1.2h-1.2zM296.4 116.4h1.2v1.2h-1.2zM291.8 121.2h1.2v1.2h-1.2zM294.6 117.5h1.2v1.2h-1.2zM297.3 119.1h1.2v1.2h-1.2zM293.8 117.1h1.2v1.2h-1.2zM300.9 116.3h1.2v1.2h-1.2zM294.0 117.8h1.2v1.2h-1.2zM291.8 118.4h1.2v1.2h-1.2zM295.0 118.3h1.2v1.2h-1.2zM294.4 111.3h1.2v1.2h-1.2zM287.6 116.0h1.2v1.2h-1.2zM288.5 116.6h1.2v1.2h-1.2zM288.6 117.7h1.2v1.2h-1.2zM302.9 117.7h1.2v1.2h-1.2zM295.9 110.3h1.2v1.2h-1.2zM295.4 109.0h1.2v1.2h-1.2zM295.6 117.8h1.2v1.2h-1.2zM302.4 116.2h1.2v1.2h-1.2zM294.6 116.5h1.2v1.2h-1.2zM295.0 115.3h1.2v1.2h-1.2zM300.3 120.7h1.2v1.2h-1.2zM290.6 117.4h1.2v1.2h-1.2zM295.7 115.3h1.2v1.2h-1.2zM288.6 105.8h1.2v1.2h-1.2zM289.9 114.8h1.2v1.2h-1.2zM295.7 115.9h1.2v1.2h-1.2zM296.6 110.9h1.2v1.2h-1.2zM288.1 117.6h1.2v1.2h-1.2zM292.1 107.8h1.2v1.2h-1.2zM299.9 114.6h1.2v1.2h-1.2zM296.9 119.6h1.2v1.2h-1.2zM302.6 114.8h1.2v1.2h-1.2zM288.2 113.8h1.2v1.2h-1.2zM295.9 109.5h1.2v1.2h-1.2zM295.5 107.1h1.2v1.2h-1.2zM303.3 116.1h1.2v1.2h-1.2zM287.7 114.1h1.2v1.2h-1.2zM293.9 120.8h1.2v1.2h-1.2zM295.9 119.5h1.2v1.2h-1.2zM301.4 120.6h1.2v1.2h-1.2zM289.5 118.9h1.2v1.2h-1.2zM291.1 112.3h1.2v1.2h-1.2zM296.0 103.8h1.2v1.2h-1.2zM300.4 111.9h1.2v1.2h-1.2zM287.4 119.0h1.2v1.2h-1.2zM287.1 112.5h1.2v1.2h-1.2zM300.5 119.2h1.2v1.2h-1.2zM303.1 118.4h1.2v1.2h-1.2zM293.6 118.6h1.2v1.2h-1.2zM288.1 113.3h1.2v1.2h-1.2zM292.7 119.7h1.2v1.2h-1.2zM294.7 118.2h1.2v1.2h-1.2zM303.1 118.8h1.2v1.2h-1.2zM301.1 114.9h1.2v1.2h-1.2zM294.8 111.8h1.2v1.2h-1.2zM295.0 120.7h1.2v1.2h-1.2zM300.0 119.6h1.2v1.2h-1.2zM288.4 112.0h1.2v1.2h-1.2zM297.6 109.9h1.2v1.2h-1.2zM294.3 112.6h1.2v1.2h-1.2zM295.5 116.3h1.2v1.2h-1.2zM288.1 119.9h1.2v1.2h-1.2zM297.9 114.9h1.2v1.2h-1.2zM296.8 119.5h1.2v1.2h-1.2zM302.2 115.9h1.2v1.2h-1.2zM291.5 117.3h1.2v1.2h-1.2zM296.0 115.7h1.2v1.2h-1.2zM290.9 120.8h1.2v1.2h-1.2zM293.3 119.7h1.2v1.2h-1.2zM297.5 115.1h1.2v1.2h-1.2zM296.0 115.6h1.2v1.2h-1.2zM288.9 120.1h1.2v1.2h-1.2zM288.3 111.2h1.2v1.2h-1.2zM291.9 119.0h1.2v1.2h-1.2zM293.0 120.4h1.2v1.2h-1.2zM303.6 109.4h1.2v1.2h-1.2zM301.8 111.2h1.2v1.2h-1.2zM295.9 119.4h1.2v1.2h-1.2zM291.9 120.1h1.2v1.2h-1.2zM295.6 119.1h1.2v1.2h-1.2zM291.6 110.7h1.2v1.2h-1.2zM296.9 119.3h1.2v1.2h-1.2zM287.9 118.9h1.2v1.2h-1.2zM296.9 112.4h1.2v1.2h-1.2zM303.1 120.4h1.2v1.2h-1.2zM293.7 120.1h1.2v1.2h-1.2zM303.1 115.5h1.2v1.2h-1.2zM302.5 117.0h1.2v1.2h-1.2zM295.2 121.2h1.2v1.2h-1.2zM301.9 115.7h1.2v1.2h-1.2zM302.4 99.6h1.2v1.2h-1.2zM287.8 117.3h1.2v1.2h-1.2zM295.2 109.1h1.2v1.2h-1.2zM288.9 119.4h1.2v1.2h-1.2zM288.9 120.2h1.2v1.2h-1.2zM296.4 119.7h1.2v1.2h-1.2zM296.8 119.3h1.2v1.2h-1.2zM302.7 118.7h1.2v1.2h-1.2zM295.8 120.8h1.2v1.2h-1.2zM301.5 119.6h1.2v1.2h-1.2zM296.8 114.9h1.2v1.2h-1.2zM299.1 116.5h1.2v1.2h-1.2zM303.5 118.1h1.2v1.2h-1.2zM295.5 117.6h1.2v1.2h-1.2zM302.0 107.7h1.2v1.2h-1.2zM302.5 117.3h1.2v1.2h-1.2zM303.6 119.9h1.2v1.2h-1.2zM294.9 113.8h1.2v1.2h-1.2zM287.6 119.8h1.2v1.2h-1.2zM293.3 115.5h1.2v1.2h-1.2zM302.9 115.7h1.2v1.2h-1.2zM289.6 120.1h1.2v1.2h-1.2zM288.0 118.0h1.2v1.2h-1.2zM291.7 120.6h1.2v1.2h-1.2zM300.7 115.7h1.2v1.2h-1.2zM293.2 116.0h1.2v1.2h-1.2zM291.9 118.7h1.2v1.2h-1.2zM300.9 116.2h1.2v1.2h-1.2zM287.2 119.1h1.2v1.2h-1.2zM294.7 121.1h1.2v1.2h-1.2zM293.2 120.4h1.2v1.2h-1.2zM295.7 97.0h1.2v1.2h-1.2zM302.9 109.5h1.2v1.2h-1.2zM292.7 117.5h1.2v1.2h-1.2zM289.6 116.9h1.2v1.2h-1.2zM290.3 114.4h1.2v1.2h-1.2zM301.8 120.0h1.2v1.2h-1.2zM295.8 116.8h1.2v1.2h-1.2zM299.4 117.2h1.2v1.2h-1.2zM295.5 117.7h1.2v1.2h-1.2zM291.7 114.9h1.2v1.2h-1.2zM291.6 114.4h1.2v1.2h-1.2zM297.8 119.7h1.2v1.2h-1.2zM300.4 117.1h1.2v1.2h-1.2zM293.8 118.7h1.2v1.2h-1.2zM297.3 119.0h1.2v1.2h-1.2zM295.9 109.5h1.2v1.2h-1.2zM298.2 110.9h1.2v1.2h-1.2zM289.1 104.3h1.2v1.2h-1.2zM302.3 120.3h1.2v1.2h-1.2zM295.5 94.2h1.3v1.3h-1.3zM300.4 96.4h1.3v1.3h-1.3z" fill="#1b3c8c"/>
<rect x="307.6" y="123.1" width="17.5" height="46.1" fill="#f0963b"/>
<path d="M318.6 119.3h1.2v1.2h-1.2zM312.5 116.9h1.2v1.2h-1.2zM323.5 119.6h1.2v1.2h-1.2zM318.1 121.5h1.2v1.2h-1.2zM315.3 122.1h1.2v1.2h-1.2zM316.7 114.7h1.2v1.2h-1.2zM317.7 121.4h1.2v1.2h-1.2zM308.7 119.3h1.2v1.2h-1.2zM322.6 120.4h1.2v1.2h-1.2zM315.3 122.3h1.2v1.2h-1.2zM307.8 119.1h1.2v1.2h-1.2zM310.4 112.0h1.2v1.2h-1.2zM322.3 122.2h1.2v1.2h-1.2zM312.8 117.8h1.2v1.2h-1.2zM321.9 111.3h1.2v1.2h-1.2zM311.8 120.2h1.2v1.2h-1.2zM317.0 116.0h1.2v1.2h-1.2zM308.5 122.4h1.2v1.2h-1.2zM320.8 113.9h1.2v1.2h-1.2zM322.2 116.4h1.2v1.2h-1.2zM322.4 119.8h1.2v1.2h-1.2zM311.8 121.9h1.2v1.2h-1.2zM312.6 117.0h1.2v1.2h-1.2zM311.9 121.6h1.2v1.2h-1.2zM311.0 117.9h1.2v1.2h-1.2zM315.6 122.1h1.2v1.2h-1.2zM317.1 115.4h1.2v1.2h-1.2zM309.2 122.2h1.2v1.2h-1.2zM322.3 121.3h1.2v1.2h-1.2zM317.9 115.5h1.2v1.2h-1.2zM322.7 110.8h1.2v1.2h-1.2zM307.6 121.0h1.2v1.2h-1.2zM322.4 122.1h1.2v1.2h-1.2zM315.8 120.0h1.2v1.2h-1.2zM312.8 109.0h1.2v1.2h-1.2zM317.8 108.4h1.2v1.2h-1.2zM323.4 120.6h1.2v1.2h-1.2zM319.7 120.1h1.2v1.2h-1.2zM315.8 114.4h1.2v1.2h-1.2zM311.5 118.6h1.2v1.2h-1.2zM314.4 110.3h1.2v1.2h-1.2zM322.1 116.2h1.2v1.2h-1.2zM320.8 121.8h1.2v1.2h-1.2zM311.8 108.1h1.2v1.2h-1.2zM313.4 118.3h1.2v1.2h-1.2zM312.9 120.9h1.2v1.2h-1.2zM321.9 117.7h1.2v1.2h-1.2zM316.7 107.6h1.2v1.2h-1.2zM308.0 120.5h1.2v1.2h-1.2zM316.7 117.9h1.2v1.2h-1.2zM311.8 118.4h1.2v1.2h-1.2zM311.2 101.7h1.2v1.2h-1.2zM309.7 109.4h1.2v1.2h-1.2zM311.8 112.7h1.2v1.2h-1.2zM308.3 117.8h1.2v1.2h-1.2zM316.3 103.4h1.2v1.2h-1.2zM310.6 119.1h1.2v1.2h-1.2zM322.7 117.2h1.2v1.2h-1.2zM312.0 119.1h1.2v1.2h-1.2zM307.6 120.6h1.2v1.2h-1.2zM323.9 114.3h1.2v1.2h-1.2zM311.2 117.3h1.2v1.2h-1.2zM323.5 115.5h1.2v1.2h-1.2zM320.3 119.6h1.2v1.2h-1.2zM319.9 121.0h1.2v1.2h-1.2zM322.2 116.3h1.2v1.2h-1.2zM317.4 121.1h1.2v1.2h-1.2zM311.2 108.1h1.2v1.2h-1.2zM322.0 116.0h1.2v1.2h-1.2zM316.2 117.3h1.2v1.2h-1.2zM312.2 119.7h1.2v1.2h-1.2zM316.3 120.4h1.2v1.2h-1.2zM323.4 121.8h1.2v1.2h-1.2zM316.8 121.4h1.2v1.2h-1.2zM313.9 114.2h1.2v1.2h-1.2zM309.5 121.9h1.2v1.2h-1.2zM323.6 119.4h1.2v1.2h-1.2zM316.4 108.6h1.2v1.2h-1.2zM310.1 113.4h1.2v1.2h-1.2zM316.0 118.3h1.2v1.2h-1.2zM320.9 116.8h1.2v1.2h-1.2zM319.4 121.6h1.2v1.2h-1.2zM307.9 121.3h1.2v1.2h-1.2zM318.1 119.8h1.2v1.2h-1.2zM315.0 120.5h1.2v1.2h-1.2zM320.8 117.4h1.2v1.2h-1.2zM310.6 108.0h1.2v1.2h-1.2zM320.9 121.4h1.2v1.2h-1.2zM307.8 121.1h1.2v1.2h-1.2zM308.2 121.3h1.2v1.2h-1.2zM315.6 118.4h1.2v1.2h-1.2zM316.5 115.4h1.2v1.2h-1.2zM318.1 119.3h1.2v1.2h-1.2zM316.8 119.2h1.2v1.2h-1.2zM320.5 118.8h1.2v1.2h-1.2zM311.6 119.1h1.2v1.2h-1.2zM309.4 122.1h1.2v1.2h-1.2zM314.9 122.3h1.2v1.2h-1.2zM312.4 116.0h1.2v1.2h-1.2zM314.5 118.2h1.2v1.2h-1.2zM312.6 117.0h1.2v1.2h-1.2zM318.6 122.5h1.2v1.2h-1.2zM321.0 114.9h1.2v1.2h-1.2zM309.6 106.3h1.2v1.2h-1.2zM323.7 120.8h1.2v1.2h-1.2zM311.6 112.0h1.2v1.2h-1.2zM311.2 116.4h1.2v1.2h-1.2zM313.2 108.9h1.2v1.2h-1.2zM319.2 115.3h1.2v1.2h-1.2zM319.7 121.7h1.2v1.2h-1.2zM322.1 119.6h1.2v1.2h-1.2zM311.9 119.5h1.2v1.2h-1.2zM322.4 121.5h1.2v1.2h-1.2zM318.0 117.7h1.2v1.2h-1.2zM311.5 118.1h1.2v1.2h-1.2zM316.5 120.0h1.2v1.2h-1.2zM315.6 118.7h1.2v1.2h-1.2zM308.0 114.6h1.2v1.2h-1.2zM323.2 118.9h1.2v1.2h-1.2zM308.3 120.4h1.2v1.2h-1.2zM317.3 121.1h1.2v1.2h-1.2zM308.9 120.6h1.2v1.2h-1.2zM318.3 120.5h1.2v1.2h-1.2zM321.7 121.9h1.2v1.2h-1.2zM322.9 121.1h1.2v1.2h-1.2zM310.7 116.5h1.2v1.2h-1.2zM320.1 121.9h1.2v1.2h-1.2zM308.9 120.1h1.2v1.2h-1.2zM311.7 121.2h1.2v1.2h-1.2zM309.4 121.1h1.2v1.2h-1.2zM321.8 118.0h1.2v1.2h-1.2zM312.2 119.1h1.2v1.2h-1.2zM311.0 116.9h1.2v1.2h-1.2zM309.7 116.8h1.2v1.2h-1.2zM310.6 121.2h1.2v1.2h-1.2zM314.0 120.7h1.2v1.2h-1.2zM312.8 121.2h1.2v1.2h-1.2zM314.5 122.0h1.2v1.2h-1.2zM314.1 120.0h1.2v1.2h-1.2zM322.5 116.5h1.2v1.2h-1.2zM320.1 112.0h1.2v1.2h-1.2zM311.3 117.2h1.2v1.2h-1.2zM310.0 109.8h1.2v1.2h-1.2zM321.8 121.8h1.2v1.2h-1.2zM310.4 115.9h1.2v1.2h-1.2zM312.0 121.3h1.2v1.2h-1.2zM312.7 111.3h1.2v1.2h-1.2zM321.6 111.4h1.2v1.2h-1.2zM314.0 103.6h1.2v1.2h-1.2zM311.0 101.9h1.2v1.2h-1.2zM310.2 120.8h1.2v1.2h-1.2zM320.0 119.6h1.2v1.2h-1.2zM311.5 120.5h1.2v1.2h-1.2zM309.5 119.8h1.2v1.2h-1.2zM312.6 122.5h1.2v1.2h-1.2zM317.6 116.5h1.2v1.2h-1.2zM312.4 121.4h1.2v1.2h-1.2zM311.5 110.8h1.2v1.2h-1.2zM311.9 121.7h1.2v1.2h-1.2zM314.5 121.3h1.2v1.2h-1.2zM322.8 104.1h1.2v1.2h-1.2zM312.3 114.1h1.2v1.2h-1.2zM313.0 113.5h1.2v1.2h-1.2zM317.2 115.7h1.2v1.2h-1.2zM321.0 118.0h1.2v1.2h-1.2zM307.8 118.9h1.2v1.2h-1.2zM315.5 116.0h1.2v1.2h-1.2zM322.8 122.1h1.2v1.2h-1.2zM322.9 110.7h1.2v1.2h-1.2zM318.3 122.1h1.2v1.2h-1.2zM312.7 117.0h1.2v1.2h-1.2zM320.8 118.7h1.2v1.2h-1.2zM315.0 122.3h1.2v1.2h-1.2zM312.7 101.2h1.2v1.2h-1.2zM312.2 120.1h1.2v1.2h-1.2zM314.3 120.1h1.2v1.2h-1.2zM311.1 120.9h1.2v1.2h-1.2zM320.3 117.8h1.2v1.2h-1.2zM310.8 121.4h1.2v1.2h-1.2zM321.3 121.1h1.2v1.2h-1.2zM321.1 115.2h1.2v1.2h-1.2zM321.9 121.7h1.2v1.2h-1.2zM318.1 114.3h1.2v1.2h-1.2zM316.9 117.5h1.2v1.2h-1.2zM322.7 120.8h1.2v1.2h-1.2zM309.4 117.8h1.2v1.2h-1.2zM316.0 119.9h1.2v1.2h-1.2zM307.6 118.9h1.2v1.2h-1.2zM311.8 116.6h1.2v1.2h-1.2zM312.2 106.9h1.2v1.2h-1.2zM316.5 119.9h1.2v1.2h-1.2zM317.9 118.1h1.2v1.2h-1.2zM320.4 97.6h1.2v1.2h-1.2zM308.5 120.7h1.2v1.2h-1.2zM319.6 113.3h1.2v1.2h-1.2zM317.3 116.9h1.2v1.2h-1.2zM323.8 122.5h1.2v1.2h-1.2zM313.3 108.9h1.2v1.2h-1.2zM309.4 121.4h1.2v1.2h-1.2zM310.8 121.9h1.2v1.2h-1.2zM315.6 121.6h1.2v1.2h-1.2zM318.7 112.5h1.2v1.2h-1.2zM311.1 122.3h1.2v1.2h-1.2zM313.2 112.6h1.2v1.2h-1.2zM310.0 101.2h1.2v1.2h-1.2zM308.4 120.8h1.2v1.2h-1.2zM311.8 122.4h1.2v1.2h-1.2zM320.1 120.4h1.2v1.2h-1.2zM320.5 108.8h1.2v1.2h-1.2zM312.0 118.3h1.2v1.2h-1.2zM316.8 115.9h1.2v1.2h-1.2zM323.7 116.7h1.2v1.2h-1.2zM314.0 121.8h1.2v1.2h-1.2zM323.5 114.0h1.2v1.2h-1.2zM312.5 114.0h1.2v1.2h-1.2zM316.6 115.8h1.2v1.2h-1.2zM313.2 121.4h1.2v1.2h-1.2zM322.8 115.7h1.2v1.2h-1.2zM313.1 122.1h1.2v1.2h-1.2zM323.9 117.5h1.2v1.2h-1.2zM318.2 119.6h1.2v1.2h-1.2zM311.5 119.8h1.2v1.2h-1.2zM322.6 117.3h1.2v1.2h-1.2zM312.9 116.8h1.2v1.2h-1.2zM308.8 102.1h1.2v1.2h-1.2zM312.7 122.4h1.2v1.2h-1.2zM310.5 118.8h1.2v1.2h-1.2zM310.7 120.3h1.2v1.2h-1.2zM322.7 120.6h1.2v1.2h-1.2zM311.4 116.1h1.2v1.2h-1.2zM323.2 121.3h1.2v1.2h-1.2zM313.2 121.1h1.2v1.2h-1.2zM313.0 113.0h1.2v1.2h-1.2zM322.2 118.1h1.2v1.2h-1.2zM313.4 118.2h1.2v1.2h-1.2zM315.7 119.4h1.2v1.2h-1.2zM314.9 110.4h1.2v1.2h-1.2zM317.3 120.3h1.2v1.2h-1.2zM311.4 115.9h1.2v1.2h-1.2zM322.4 108.0h1.2v1.2h-1.2zM310.4 119.9h1.2v1.2h-1.2zM307.6 119.4h1.2v1.2h-1.2zM309.4 119.2h1.2v1.2h-1.2zM313.6 115.7h1.2v1.2h-1.2zM313.3 119.9h1.2v1.2h-1.2zM319.8 121.9h1.2v1.2h-1.2zM323.7 119.2h1.2v1.2h-1.2zM315.3 110.9h1.2v1.2h-1.2zM310.5 119.1h1.2v1.2h-1.2zM312.8 116.6h1.2v1.2h-1.2zM310.5 122.5h1.2v1.2h-1.2zM321.3 116.9h1.2v1.2h-1.2zM315.4 103.4h1.2v1.2h-1.2zM323.0 116.8h1.2v1.2h-1.2zM322.7 121.1h1.2v1.2h-1.2zM316.9 120.4h1.2v1.2h-1.2zM317.1 108.3h1.2v1.2h-1.2zM314.2 118.1h1.2v1.2h-1.2zM312.7 120.3h1.2v1.2h-1.2zM308.6 110.7h1.2v1.2h-1.2zM322.1 116.7h1.2v1.2h-1.2zM322.6 116.7h1.2v1.2h-1.2zM322.6 112.4h1.2v1.2h-1.2zM310.8 113.1h1.2v1.2h-1.2zM311.5 120.3h1.2v1.2h-1.2zM319.0 121.9h1.2v1.2h-1.2zM312.5 113.7h1.2v1.2h-1.2zM321.2 115.7h1.2v1.2h-1.2zM312.1 106.3h1.2v1.2h-1.2zM308.2 110.7h1.2v1.2h-1.2zM314.0 122.3h1.2v1.2h-1.2zM316.3 121.2h1.2v1.2h-1.2zM308.9 106.6h1.2v1.2h-1.2zM323.3 122.4h1.2v1.2h-1.2zM308.0 118.8h1.2v1.2h-1.2zM316.4 120.7h1.2v1.2h-1.2zM316.5 119.7h1.2v1.2h-1.2zM311.7 122.3h1.2v1.2h-1.2zM316.0 120.0h1.2v1.2h-1.2zM311.2 111.3h1.2v1.2h-1.2zM307.8 113.6h1.2v1.2h-1.2zM312.0 115.4h1.2v1.2h-1.2zM315.9 111.4h1.2v1.2h-1.2zM312.0 120.0h1.2v1.2h-1.2zM321.4 118.6h1.2v1.2h-1.2zM311.2 121.7h1.2v1.2h-1.2zM314.8 116.7h1.2v1.2h-1.2zM316.4 111.5h1.2v1.2h-1.2zM311.5 119.8h1.2v1.2h-1.2zM323.6 112.5h1.2v1.2h-1.2zM311.8 118.6h1.2v1.2h-1.2zM309.8 117.3h1.2v1.2h-1.2zM310.5 117.2h1.2v1.2h-1.2zM311.1 111.8h1.2v1.2h-1.2zM310.9 120.2h1.2v1.2h-1.2zM313.8 122.0h1.2v1.2h-1.2zM311.5 119.9h1.2v1.2h-1.2zM308.7 117.1h1.2v1.2h-1.2zM311.6 116.3h1.2v1.2h-1.2zM318.5 122.4h1.2v1.2h-1.2zM312.8 118.6h1.2v1.2h-1.2zM309.0 120.0h1.2v1.2h-1.2zM312.9 121.6h1.2v1.2h-1.2zM311.7 117.1h1.2v1.2h-1.2zM319.0 119.3h1.2v1.2h-1.2zM322.1 122.0h1.2v1.2h-1.2zM320.6 113.0h1.2v1.2h-1.2zM318.0 113.0h1.2v1.2h-1.2zM312.3 121.6h1.2v1.2h-1.2zM308.4 117.1h1.2v1.2h-1.2zM320.6 112.1h1.2v1.2h-1.2zM320.0 114.6h1.2v1.2h-1.2zM319.5 116.4h1.2v1.2h-1.2zM311.5 122.5h1.2v1.2h-1.2zM319.1 120.4h1.2v1.2h-1.2zM310.8 116.9h1.2v1.2h-1.2zM323.7 119.8h1.2v1.2h-1.2zM309.9 118.7h1.2v1.2h-1.2zM311.6 117.5h1.2v1.2h-1.2zM314.3 121.2h1.2v1.2h-1.2zM317.6 119.3h1.2v1.2h-1.2zM315.7 121.4h1.2v1.2h-1.2zM311.4 107.8h1.2v1.2h-1.2zM314.9 118.8h1.2v1.2h-1.2zM322.6 119.7h1.2v1.2h-1.2zM319.3 110.6h1.2v1.2h-1.2zM322.7 120.0h1.2v1.2h-1.2zM309.2 116.1h1.2v1.2h-1.2zM323.8 116.3h1.2v1.2h-1.2zM319.2 121.5h1.2v1.2h-1.2zM323.6 120.8h1.2v1.2h-1.2zM323.4 121.6h1.2v1.2h-1.2zM315.5 117.5h1.2v1.2h-1.2zM322.6 111.0h1.2v1.2h-1.2zM318.9 121.2h1.2v1.2h-1.2zM309.9 117.9h1.2v1.2h-1.2zM323.5 116.1h1.2v1.2h-1.2zM319.4 118.4h1.2v1.2h-1.2zM318.0 118.2h1.2v1.2h-1.2zM309.0 120.9h1.2v1.2h-1.2zM309.8 121.9h1.2v1.2h-1.2zM308.0 111.3h1.2v1.2h-1.2zM307.6 115.1h1.2v1.2h-1.2zM316.4 113.1h1.2v1.2h-1.2zM312.4 120.9h1.2v1.2h-1.2zM315.1 119.7h1.2v1.2h-1.2zM316.1 116.9h1.2v1.2h-1.2zM312.2 117.9h1.2v1.2h-1.2zM313.4 113.9h1.2v1.2h-1.2zM309.0 120.8h1.2v1.2h-1.2zM318.8 114.1h1.2v1.2h-1.2zM320.2 122.2h1.2v1.2h-1.2zM307.7 118.7h1.2v1.2h-1.2zM309.1 107.2h1.2v1.2h-1.2zM313.5 122.0h1.2v1.2h-1.2zM317.6 120.2h1.2v1.2h-1.2zM319.7 118.0h1.2v1.2h-1.2zM310.4 118.5h1.2v1.2h-1.2zM320.8 115.6h1.2v1.2h-1.2zM312.1 117.3h1.2v1.2h-1.2zM312.6 119.8h1.2v1.2h-1.2zM312.8 122.3h1.2v1.2h-1.2zM309.0 109.7h1.2v1.2h-1.2zM321.1 120.5h1.2v1.2h-1.2zM323.5 115.9h1.2v1.2h-1.2zM310.1 106.3h1.2v1.2h-1.2zM310.4 121.3h1.2v1.2h-1.2zM309.6 114.4h1.2v1.2h-1.2zM308.1 117.3h1.2v1.2h-1.2zM323.8 120.0h1.2v1.2h-1.2zM309.7 120.0h1.2v1.2h-1.2zM314.3 122.0h1.2v1.2h-1.2zM318.3 114.3h1.2v1.2h-1.2zM322.4 108.4h1.2v1.2h-1.2zM321.2 121.9h1.2v1.2h-1.2zM321.5 122.2h1.2v1.2h-1.2zM319.1 122.0h1.2v1.2h-1.2zM317.5 115.3h1.2v1.2h-1.2zM317.6 120.8h1.2v1.2h-1.2zM313.6 120.3h1.2v1.2h-1.2zM322.8 120.5h1.2v1.2h-1.2zM308.7 112.8h1.2v1.2h-1.2zM310.5 111.0h1.2v1.2h-1.2zM315.6 113.6h1.2v1.2h-1.2zM307.8 119.8h1.2v1.2h-1.2zM315.0 112.9h1.2v1.2h-1.2zM316.1 121.9h1.2v1.2h-1.2zM308.1 118.5h1.2v1.2h-1.2zM310.1 119.0h1.2v1.2h-1.2zM323.9 111.0h1.2v1.2h-1.2zM322.3 110.1h1.2v1.2h-1.2zM315.3 122.3h1.2v1.2h-1.2zM310.9 121.2h1.2v1.2h-1.2zM308.4 101.5h1.2v1.2h-1.2zM312.5 119.5h1.2v1.2h-1.2zM317.4 118.6h1.2v1.2h-1.2zM323.1 116.5h1.2v1.2h-1.2zM317.7 119.2h1.2v1.2h-1.2zM310.7 121.2h1.2v1.2h-1.2zM313.8 121.8h1.2v1.2h-1.2zM319.9 121.4h1.2v1.2h-1.2zM323.4 114.0h1.2v1.2h-1.2zM319.9 119.3h1.2v1.2h-1.2zM322.5 113.8h1.2v1.2h-1.2zM307.6 120.7h1.2v1.2h-1.2zM311.6 121.8h1.2v1.2h-1.2zM321.2 108.4h1.2v1.2h-1.2zM314.1 120.6h1.2v1.2h-1.2zM320.7 112.2h1.2v1.2h-1.2zM320.9 113.2h1.2v1.2h-1.2zM318.2 121.7h1.2v1.2h-1.2zM322.4 109.1h1.2v1.2h-1.2zM313.6 119.7h1.2v1.2h-1.2zM323.6 83.5h1.3v1.3h-1.3zM310.4 93.0h1.3v1.3h-1.3z" fill="#f0963b"/>
<rect x="327.6" y="118.8" width="15.0" height="50.4" fill="#bebebe"/>
<path d="M339.0 117.4h1.2v1.2h-1.2zM330.5 117.7h1.2v1.2h-1.2zM340.0 116.1h1.2v1.2h-1.2zM332.1 113.7h1.2v1.2h-1.2zM330.1 113.0h1.2v1.2h-1.2zM337.3 113.9h1.2v1.2h-1.2zM337.9 111.0h1.2v1.2h-1.2zM334.0 117.4h1.2v1.2h-1.2zM334.6 116.9h1.2v1.2h-1.2zM338.1 117.0h1.2v1.2h-1.2zM333.8 117.8h1.2v1.2h-1.2zM333.3 116.9h1.2v1.2h-1.2zM335.9 117.3h1.2v1.2h-1.2zM335.9 118.0h1.2v1.2h-1.2zM335.8 117.4h1.2v1.2h-1.2zM332.8 114.9h1.2v1.2h-1.2zM337.2 116.7h1.2v1.2h-1.2zM329.9 117.6h1.2v1.2h-1.2zM333.6 117.5h1.2v1.2h-1.2zM341.3 103.3h1.2v1.2h-1.2zM331.6 104.4h1.2v1.2h-1.2zM334.0 113.6h1.2v1.2h-1.2zM337.6 106.5h1.2v1.2h-1.2zM333.2 112.5h1.2v1.2h-1.2zM339.3 113.5h1.2v1.2h-1.2zM331.8 117.8h1.2v1.2h-1.2zM328.8 117.5h1.2v1.2h-1.2zM341.0 110.0h1.2v1.2h-1.2zM337.3 113.4h1.2v1.2h-1.2zM330.4 117.4h1.2v1.2h-1.2zM333.8 116.4h1.2v1.2h-1.2zM337.6 110.9h1.2v1.2h-1.2zM340.3 116.8h1.2v1.2h-1.2zM329.8 116.3h1.2v1.2h-1.2zM340.6 106.8h1.2v1.2h-1.2zM327.7 116.0h1.2v1.2h-1.2zM341.4 113.2h1.2v1.2h-1.2zM335.6 112.0h1.2v1.2h-1.2zM339.5 116.9h1.2v1.2h-1.2zM333.5 115.4h1.2v1.2h-1.2zM331.6 112.2h1.2v1.2h-1.2zM340.3 115.1h1.2v1.2h-1.2zM335.8 107.9h1.2v1.2h-1.2zM333.2 112.1h1.2v1.2h-1.2zM333.2 116.6h1.2v1.2h-1.2zM333.4 113.9h1.2v1.2h-1.2zM341.2 115.8h1.2v1.2h-1.2zM334.1 115.0h1.2v1.2h-1.2zM329.2 118.0h1.2v1.2h-1.2zM333.9 116.7h1.2v1.2h-1.2zM340.9 117.4h1.2v1.2h-1.2zM337.4 117.3h1.2v1.2h-1.2zM333.2 117.3h1.2v1.2h-1.2zM335.5 112.2h1.2v1.2h-1.2zM335.7 117.6h1.2v1.2h-1.2zM332.5 118.0h1.2v1.2h-1.2zM330.4 110.9h1.2v1.2h-1.2zM329.2 117.8h1.2v1.2h-1.2zM338.1 113.3h1.2v1.2h-1.2zM328.5 115.3h1.2v1.2h-1.2zM341.2 114.2h1.2v1.2h-1.2zM329.3 115.4h1.2v1.2h-1.2zM337.5 107.5h1.2v1.2h-1.2zM328.5 116.2h1.2v1.2h-1.2zM337.5 115.5h1.2v1.2h-1.2zM333.0 116.4h1.2v1.2h-1.2zM334.1 114.6h1.2v1.2h-1.2zM336.3 114.8h1.2v1.2h-1.2zM328.4 113.5h1.2v1.2h-1.2zM335.7 115.6h1.2v1.2h-1.2zM338.8 116.8h1.2v1.2h-1.2zM328.3 116.6h1.2v1.2h-1.2zM336.1 112.3h1.2v1.2h-1.2zM328.1 117.8h1.2v1.2h-1.2zM339.3 112.0h1.2v1.2h-1.2zM332.6 118.2h1.2v1.2h-1.2zM336.8 116.6h1.2v1.2h-1.2zM341.0 117.8h1.2v1.2h-1.2zM336.7 117.3h1.2v1.2h-1.2zM329.9 114.3h1.2v1.2h-1.2zM333.6 117.7h1.2v1.2h-1.2zM340.6 111.2h1.2v1.2h-1.2zM341.0 113.2h1.2v1.2h-1.2zM340.5 117.2h1.2v1.2h-1.2zM333.9 116.0h1.2v1.2h-1.2zM337.9 114.7h1.2v1.2h-1.2zM333.7 100.7h1.2v1.2h-1.2zM338.5 116.5h1.2v1.2h-1.2zM338.0 116.6h1.2v1.2h-1.2zM337.0 115.3h1.2v1.2h-1.2zM333.5 113.4h1.2v1.2h-1.2zM338.4 115.2h1.2v1.2h-1.2zM333.5 108.5h1.2v1.2h-1.2zM335.2 118.2h1.2v1.2h-1.2zM334.7 113.5h1.2v1.2h-1.2zM329.5 113.5h1.2v1.2h-1.2zM338.0 114.2h1.2v1.2h-1.2zM331.2 113.9h1.2v1.2h-1.2zM334.1 116.9h1.2v1.2h-1.2zM329.8 111.7h1.2v1.2h-1.2zM341.4 117.3h1.2v1.2h-1.2zM336.6 115.0h1.2v1.2h-1.2zM333.8 117.5h1.2v1.2h-1.2zM340.7 116.6h1.2v1.2h-1.2zM338.9 110.3h1.2v1.2h-1.2zM330.6 116.3h1.2v1.2h-1.2zM339.9 116.2h1.2v1.2h-1.2zM340.6 106.0h1.2v1.2h-1.2zM338.9 117.9h1.2v1.2h-1.2zM339.4 116.5h1.2v1.2h-1.2zM332.4 111.0h1.2v1.2h-1.2zM333.8 109.2h1.2v1.2h-1.2zM338.9 114.3h1.2v1.2h-1.2zM332.3 117.2h1.2v1.2h-1.2zM331.5 112.3h1.2v1.2h-1.2zM333.7 109.2h1.2v1.2h-1.2zM334.8 114.8h1.2v1.2h-1.2zM329.0 115.6h1.2v1.2h-1.2zM328.0 113.2h1.2v1.2h-1.2zM334.2 109.4h1.2v1.2h-1.2zM339.1 117.0h1.2v1.2h-1.2zM329.2 112.7h1.2v1.2h-1.2zM341.0 112.7h1.2v1.2h-1.2zM328.2 101.9h1.2v1.2h-1.2zM337.6 115.1h1.2v1.2h-1.2zM336.9 108.6h1.2v1.2h-1.2zM336.8 115.0h1.2v1.2h-1.2zM332.2 109.2h1.2v1.2h-1.2zM338.7 116.6h1.2v1.2h-1.2zM329.7 118.2h1.2v1.2h-1.2zM328.3 109.9h1.2v1.2h-1.2zM328.6 118.2h1.2v1.2h-1.2zM338.1 108.2h1.2v1.2h-1.2zM333.5 117.9h1.2v1.2h-1.2zM337.4 113.5h1.2v1.2h-1.2zM328.3 114.1h1.2v1.2h-1.2zM336.4 115.7h1.2v1.2h-1.2zM332.2 117.7h1.2v1.2h-1.2zM340.4 117.6h1.2v1.2h-1.2zM341.3 113.0h1.2v1.2h-1.2zM332.0 112.1h1.2v1.2h-1.2zM336.9 108.8h1.2v1.2h-1.2zM339.1 117.1h1.2v1.2h-1.2zM329.6 114.9h1.2v1.2h-1.2zM331.4 113.0h1.2v1.2h-1.2zM332.8 107.4h1.2v1.2h-1.2zM332.9 118.1h1.2v1.2h-1.2zM331.2 113.3h1.2v1.2h-1.2zM339.5 116.9h1.2v1.2h-1.2zM340.4 115.1h1.2v1.2h-1.2zM334.0 113.0h1.2v1.2h-1.2zM327.6 116.1h1.2v1.2h-1.2zM336.0 115.3h1.2v1.2h-1.2zM340.6 118.0h1.2v1.2h-1.2zM341.1 105.7h1.2v1.2h-1.2zM338.4 117.4h1.2v1.2h-1.2zM328.0 115.8h1.2v1.2h-1.2zM333.7 108.3h1.2v1.2h-1.2zM337.2 116.8h1.2v1.2h-1.2zM340.6 108.8h1.2v1.2h-1.2zM338.5 111.1h1.2v1.2h-1.2zM332.6 114.2h1.2v1.2h-1.2zM341.3 115.6h1.2v1.2h-1.2zM338.7 114.5h1.2v1.2h-1.2zM328.8 108.6h1.2v1.2h-1.2zM340.3 117.9h1.2v1.2h-1.2zM328.2 110.1h1.2v1.2h-1.2zM336.9 116.6h1.2v1.2h-1.2zM339.6 114.8h1.2v1.2h-1.2zM331.1 114.4h1.2v1.2h-1.2zM327.7 100.8h1.2v1.2h-1.2zM333.3 108.1h1.2v1.2h-1.2zM328.1 114.7h1.2v1.2h-1.2zM336.0 112.6h1.2v1.2h-1.2zM336.8 115.4h1.2v1.2h-1.2zM335.8 106.7h1.2v1.2h-1.2zM334.3 116.7h1.2v1.2h-1.2zM333.4 117.8h1.2v1.2h-1.2zM338.7 110.8h1.2v1.2h-1.2zM335.6 115.1h1.2v1.2h-1.2zM341.1 113.9h1.2v1.2h-1.2zM340.6 105.6h1.2v1.2h-1.2zM340.9 117.9h1.2v1.2h-1.2zM332.9 115.9h1.2v1.2h-1.2zM341.1 117.0h1.2v1.2h-1.2zM329.1 117.7h1.2v1.2h-1.2zM335.2 112.9h1.2v1.2h-1.2zM330.8 115.3h1.2v1.2h-1.2zM336.8 110.2h1.2v1.2h-1.2zM334.3 117.7h1.2v1.2h-1.2zM331.7 115.0h1.2v1.2h-1.2zM341.3 116.7h1.2v1.2h-1.2zM341.4 118.1h1.2v1.2h-1.2zM338.6 114.4h1.2v1.2h-1.2zM340.2 116.9h1.2v1.2h-1.2zM333.8 109.7h1.2v1.2h-1.2zM334.6 115.5h1.2v1.2h-1.2zM334.0 116.1h1.2v1.2h-1.2zM341.1 118.1h1.2v1.2h-1.2zM338.6 117.6h1.2v1.2h-1.2zM341.3 114.5h1.2v1.2h-1.2zM338.0 116.3h1.2v1.2h-1.2zM333.7 98.5h1.2v1.2h-1.2zM333.6 118.2h1.2v1.2h-1.2zM335.8 99.3h1.2v1.2h-1.2zM337.1 116.5h1.2v1.2h-1.2zM335.8 116.3h1.2v1.2h-1.2zM327.8 112.6h1.2v1.2h-1.2zM333.8 109.5h1.2v1.2h-1.2zM340.3 112.7h1.2v1.2h-1.2zM333.8 113.6h1.2v1.2h-1.2zM341.4 112.9h1.2v1.2h-1.2zM333.8 117.7h1.2v1.2h-1.2zM334.1 113.4h1.2v1.2h-1.2zM335.6 117.2h1.2v1.2h-1.2zM337.7 117.9h1.2v1.2h-1.2zM331.7 117.5h1.2v1.2h-1.2zM333.7 116.5h1.2v1.2h-1.2zM338.7 108.5h1.2v1.2h-1.2zM332.3 115.4h1.2v1.2h-1.2zM336.9 111.1h1.2v1.2h-1.2zM331.1 112.2h1.2v1.2h-1.2zM339.1 117.8h1.2v1.2h-1.2zM339.4 116.2h1.2v1.2h-1.2zM333.8 116.9h1.2v1.2h-1.2zM335.3 116.3h1.2v1.2h-1.2zM339.5 115.0h1.2v1.2h-1.2zM330.2 116.4h1.2v1.2h-1.2zM333.3 115.6h1.2v1.2h-1.2zM339.6 117.5h1.2v1.2h-1.2zM333.7 108.9h1.2v1.2h-1.2zM338.5 116.0h1.2v1.2h-1.2zM336.6 112.3h1.2v1.2h-1.2zM329.7 117.5h1.2v1.2h-1.2zM332.4 118.1h1.2v1.2h-1.2zM332.8 99.6h1.2v1.2h-1.2zM334.2 113.8h1.2v1.2h-1.2zM328.9 116.5h1.2v1.2h-1.2zM333.9 105.7h1.2v1.2h-1.2zM336.2 114.9h1.2v1.2h-1.2zM327.9 109.3h1.2v1.2h-1.2zM330.3 116.4h1.2v1.2h-1.2zM338.4 117.2h1.2v1.2h-1.2zM341.2 118.0h1.2v1.2h-1.2zM340.8 113.1h1.2v1.2h-1.2zM333.8 117.9h1.2v1.2h-1.2zM332.3 117.9h1.2v1.2h-1.2zM328.8 115.7h1.2v1.2h-1.2zM335.1 116.2h1.2v1.2h-1.2zM331.0 113.4h1.2v1.2h-1.2zM340.9 110.5h1.2v1.2h-1.2zM333.6 115.9h1.2v1.2h-1.2zM335.2 115.3h1.2v1.2h-1.2zM341.3 113.6h1.2v1.2h-1.2zM337.1 104.9h1.2v1.2h-1.2zM339.6 116.9h1.2v1.2h-1.2zM333.8 116.2h1.2v1.2h-1.2zM333.3 110.5h1.2v1.2h-1.2zM330.1 109.9h1.2v1.2h-1.2zM335.7 113.5h1.2v1.2h-1.2zM327.9 102.3h1.2v1.2h-1.2zM335.0 117.2h1.2v1.2h-1.2zM329.0 88.0h1.3v1.3h-1.3zM335.4 96.2h1.3v1.3h-1.3z" fill="#bebebe"/>
<rect x="344.7" y="114.5" width="16.9" height="54.7" fill="#e3372b"/>
<path d="M347.1 113.1h1.2v1.2h-1.2zM346.1 110.8h1.2v1.2h-1.2zM359.1 112.2h1.2v1.2h-1.2zM359.2 113.7h1.2v1.2h-1.2zM353.2 111.4h1.2v1.2h-1.2zM353.2 110.0h1.2v1.2h-1.2zM350.6 111.9h1.2v1.2h-1.2zM357.8 112.6h1.2v1.2h-1.2zM356.3 108.8h1.2v1.2h-1.2zM350.9 111.5h1.2v1.2h-1.2zM355.5 99.5h1.2v1.2h-1.2zM349.0 112.3h1.2v1.2h-1.2zM353.4 98.2h1.2v1.2h-1.2zM346.1 112.8h1.2v1.2h-1.2zM358.2 112.6h1.2v1.2h-1.2zM346.4 113.8h1.2v1.2h-1.2zM358.5 104.4h1.2v1.2h-1.2zM346.6 110.7h1.2v1.2h-1.2zM359.8 113.4h1.2v1.2h-1.2zM346.0 106.9h1.2v1.2h-1.2zM355.4 112.6h1.2v1.2h-1.2zM358.6 109.9h1.2v1.2h-1.2zM345.7 112.1h1.2v1.2h-1.2zM348.8 113.3h1.2v1.2h-1.2zM358.2 100.1h1.2v1.2h-1.2zM345.1 112.4h1.2v1.2h-1.2zM354.6 104.8h1.2v1.2h-1.2zM356.4 103.0h1.2v1.2h-1.2zM358.0 113.6h1.2v1.2h-1.2zM353.5 108.9h1.2v1.2h-1.2zM358.9 106.5h1.2v1.2h-1.2zM346.8 110.2h1.2v1.2h-1.2zM346.5 108.0h1.2v1.2h-1.2zM345.3 113.7h1.2v1.2h-1.2zM355.6 101.6h1.2v1.2h-1.2zM350.8 109.1h1.2v1.2h-1.2zM349.0 111.3h1.2v1.2h-1.2zM358.7 109.5h1.2v1.2h-1.2zM349.3 113.8h1.2v1.2h-1.2zM353.3 112.7h1.2v1.2h-1.2zM352.1 113.1h1.2v1.2h-1.2zM346.9 109.6h1.2v1.2h-1.2zM348.3 113.3h1.2v1.2h-1.2zM348.5 113.5h1.2v1.2h-1.2zM347.6 109.9h1.2v1.2h-1.2zM348.2 105.5h1.2v1.2h-1.2zM357.1 108.5h1.2v1.2h-1.2zM357.8 107.5h1.2v1.2h-1.2zM355.8 113.5h1.2v1.2h-1.2zM358.7 106.6h1.2v1.2h-1.2zM356.8 112.0h1.2v1.2h-1.2zM345.8 112.6h1.2v1.2h-1.2zM352.5 112.3h1.2v1.2h-1.2zM358.1 113.1h1.2v1.2h-1.2zM344.7 101.6h1.2v1.2h-1.2zM352.6 108.0h1.2v1.2h-1.2zM346.5 113.7h1.2v1.2h-1.2zM353.5 112.2h1.2v1.2h-1.2zM359.7 110.0h1.2v1.2h-1.2zM357.0 111.3h1.2v1.2h-1.2zM359.6 107.4h1.2v1.2h-1.2zM346.3 111.6h1.2v1.2h-1.2zM351.3 113.9h1.2v1.2h-1.2zM358.6 112.8h1.2v1.2h-1.2zM350.9 113.8h1.2v1.2h-1.2zM348.6 113.9h1.2v1.2h-1.2zM347.1 113.7h1.2v1.2h-1.2zM359.6 110.4h1.2v1.2h-1.2zM355.8 108.4h1.2v1.2h-1.2zM358.0 112.6h1.2v1.2h-1.2zM353.2 108.8h1.2v1.2h-1.2zM351.4 110.8h1.2v1.2h-1.2zM344.9 110.8h1.2v1.2h-1.2zM351.7 111.9h1.2v1.2h-1.2zM358.6 112.9h1.2v1.2h-1.2zM346.7 112.3h1.2v1.2h-1.2zM359.0 112.2h1.2v1.2h-1.2zM358.2 111.8h1.2v1.2h-1.2zM355.3 112.0h1.2v1.2h-1.2zM347.1 112.6h1.2v1.2h-1.2zM350.7 113.7h1.2v1.2h-1.2zM345.1 110.8h1.2v1.2h-1.2zM355.1 102.6h1.2v1.2h-1.2zM353.4 111.0h1.2v1.2h-1.2zM356.1 111.4h1.2v1.2h-1.2zM348.6 112.8h1.2v1.2h-1.2zM348.0 111.2h1.2v1.2h-1.2zM348.9 108.9h1.2v1.2h-1.2zM359.2 107.8h1.2v1.2h-1.2zM347.2 107.3h1.2v1.2h-1.2zM353.7 112.5h1.2v1.2h-1.2zM345.8 110.6h1.2v1.2h-1.2zM354.0 109.3h1.2v1.2h-1.2zM359.6 112.3h1.2v1.2h-1.2zM356.4 111.2h1.2v1.2h-1.2zM354.7 106.7h1.2v1.2h-1.2zM353.1 109.5h1.2v1.2h-1.2zM345.5 109.9h1.2v1.2h-1.2zM347.6 110.0h1.2v1.2h-1.2zM356.6 113.2h1.2v1.2h-1.2zM356.7 111.2h1.2v1.2h-1.2zM359.2 110.9h1.2v1.2h-1.2zM351.8 112.7h1.2v1.2h-1.2zM345.2 113.6h1.2v1.2h-1.2zM359.9 112.2h1.2v1.2h-1.2zM352.5 112.7h1.2v1.2h-1.2zM348.7 109.0h1.2v1.2h-1.2zM353.6 111.3h1.2v1.2h-1.2zM358.5 107.6h1.2v1.2h-1.2zM350.5 108.8h1.2v1.2h-1.2zM356.3 113.4h1.2v1.2h-1.2zM346.6 110.5h1.2v1.2h-1.2zM356.0 108.8h1.2v1.2h-1.2zM348.7 113.5h1.2v1.2h-1.2zM355.7 110.7h1.2v1.2h-1.2zM358.2 106.4h1.2v1.2h-1.2zM349.7 113.8h1.2v1.2h-1.2zM353.4 109.5h1.2v1.2h-1.2zM356.3 110.4h1.2v1.2h-1.2zM357.8 113.8h1.2v1.2h-1.2zM348.9 113.3h1.2v1.2h-1.2zM348.1 112.4h1.2v1.2h-1.2zM351.5 104.6h1.2v1.2h-1.2zM345.5 97.9h1.2v1.2h-1.2zM346.2 113.1h1.2v1.2h-1.2zM349.2 111.2h1.2v1.2h-1.2zM353.3 113.2h1.2v1.2h-1.2zM345.9 111.4h1.2v1.2h-1.2zM350.5 111.6h1.2v1.2h-1.2zM352.3 112.5h1.2v1.2h-1.2zM355.3 110.2h1.2v1.2h-1.2zM357.0 105.8h1.2v1.2h-1.2zM353.3 113.9h1.2v1.2h-1.2zM358.5 105.4h1.2v1.2h-1.2zM346.6 111.5h1.2v1.2h-1.2zM356.1 102.4h1.2v1.2h-1.2zM347.9 111.9h1.2v1.2h-1.2zM356.5 109.5h1.2v1.2h-1.2zM345.0 107.5h1.2v1.2h-1.2zM347.3 110.8h1.2v1.2h-1.2zM347.6 107.4h1.2v1.2h-1.2zM356.3 111.5h1.2v1.2h-1.2zM344.8 109.6h1.2v1.2h-1.2zM354.1 111.2h1.2v1.2h-1.2zM357.5 113.7h1.2v1.2h-1.2zM350.8 113.6h1.2v1.2h-1.2zM357.0 112.2h1.2v1.2h-1.2zM350.8 110.5h1.2v1.2h-1.2zM354.7 113.7h1.2v1.2h-1.2zM353.7 113.1h1.2v1.2h-1.2zM352.1 107.2h1.2v1.2h-1.2zM358.2 108.7h1.2v1.2h-1.2zM348.8 109.6h1.2v1.2h-1.2zM356.2 113.6h1.2v1.2h-1.2zM360.1 112.3h1.2v1.2h-1.2zM348.3 108.6h1.2v1.2h-1.2zM358.6 113.7h1.2v1.2h-1.2zM344.7 113.4h1.2v1.2h-1.2zM349.4 111.7h1.2v1.2h-1.2zM345.4 103.9h1.2v1.2h-1.2zM353.3 113.8h1.2v1.2h-1.2zM350.7 113.0h1.2v1.2h-1.2zM352.2 113.1h1.2v1.2h-1.2zM352.7 109.9h1.2v1.2h-1.2zM359.1 113.7h1.2v1.2h-1.2zM358.3 111.2h1.2v1.2h-1.2zM356.9 112.7h1.2v1.2h-1.2zM345.2 108.8h1.2v1.2h-1.2zM357.3 104.3h1.2v1.2h-1.2zM357.8 107.0h1.2v1.2h-1.2zM355.6 113.7h1.2v1.2h-1.2zM360.1 102.0h1.2v1.2h-1.2zM353.3 113.6h1.2v1.2h-1.2zM359.7 112.4h1.2v1.2h-1.2zM355.1 98.9h1.2v1.2h-1.2zM357.7 112.9h1.2v1.2h-1.2zM352.1 111.8h1.2v1.2h-1.2zM355.2 111.7h1.2v1.2h-1.2zM356.2 111.7h1.2v1.2h-1.2zM354.7 112.0h1.2v1.2h-1.2zM352.7 112.7h1.2v1.2h-1.2zM346.8 106.8h1.2v1.2h-1.2zM359.2 112.9h1.2v1.2h-1.2zM355.0 106.1h1.2v1.2h-1.2zM357.3 110.7h1.2v1.2h-1.2zM356.3 112.6h1.2v1.2h-1.2zM344.7 113.1h1.2v1.2h-1.2zM356.0 111.9h1.2v1.2h-1.2zM360.0 109.6h1.2v1.2h-1.2zM354.5 112.1h1.2v1.2h-1.2zM359.3 110.6h1.2v1.2h-1.2zM356.3 109.7h1.2v1.2h-1.2zM358.3 99.3h1.2v1.2h-1.2zM357.5 113.4h1.2v1.2h-1.2zM352.9 110.8h1.2v1.2h-1.2zM355.2 96.9h1.2v1.2h-1.2zM351.8 106.4h1.2v1.2h-1.2zM346.3 108.4h1.2v1.2h-1.2zM347.9 111.6h1.2v1.2h-1.2zM345.5 110.8h1.2v1.2h-1.2zM354.8 110.0h1.2v1.2h-1.2zM346.1 112.6h1.2v1.2h-1.2zM355.7 111.4h1.2v1.2h-1.2zM355.1 113.5h1.2v1.2h-1.2zM356.4 111.4h1.2v1.2h-1.2zM351.3 113.4h1.2v1.2h-1.2zM345.3 110.9h1.2v1.2h-1.2zM358.0 109.0h1.2v1.2h-1.2zM350.1 113.8h1.2v1.2h-1.2zM349.4 107.9h1.2v1.2h-1.2zM346.5 113.8h1.2v1.2h-1.2zM357.5 112.6h1.2v1.2h-1.2zM355.6 112.5h1.2v1.2h-1.2zM357.1 111.4h1.2v1.2h-1.2zM347.9 113.7h1.2v1.2h-1.2zM345.0 105.7h1.2v1.2h-1.2zM357.3 100.0h1.2v1.2h-1.2zM350.1 109.4h1.2v1.2h-1.2zM359.0 113.7h1.2v1.2h-1.2zM351.9 112.7h1.2v1.2h-1.2zM358.7 113.8h1.2v1.2h-1.2zM347.3 109.8h1.2v1.2h-1.2zM357.5 111.3h1.2v1.2h-1.2zM356.2 112.3h1.2v1.2h-1.2zM359.3 111.1h1.2v1.2h-1.2zM358.8 111.8h1.2v1.2h-1.2zM358.3 113.4h1.2v1.2h-1.2zM346.8 113.0h1.2v1.2h-1.2zM345.4 111.4h1.2v1.2h-1.2zM356.7 113.4h1.2v1.2h-1.2zM354.5 113.4h1.2v1.2h-1.2zM349.3 108.8h1.2v1.2h-1.2zM356.2 107.7h1.2v1.2h-1.2zM352.6 111.6h1.2v1.2h-1.2zM358.1 110.3h1.2v1.2h-1.2zM352.4 103.3h1.2v1.2h-1.2zM345.1 111.7h1.2v1.2h-1.2zM356.6 112.6h1.2v1.2h-1.2zM349.1 113.4h1.2v1.2h-1.2zM348.1 112.9h1.2v1.2h-1.2zM356.7 111.4h1.2v1.2h-1.2zM352.7 112.0h1.2v1.2h-1.2zM360.2 108.3h1.2v1.2h-1.2zM347.0 113.9h1.2v1.2h-1.2zM355.7 101.2h1.2v1.2h-1.2zM359.7 113.4h1.2v1.2h-1.2zM355.7 104.2h1.2v1.2h-1.2zM358.3 110.6h1.2v1.2h-1.2zM356.3 111.8h1.2v1.2h-1.2zM348.4 107.4h1.2v1.2h-1.2zM345.1 108.2h1.2v1.2h-1.2zM348.4 109.3h1.2v1.2h-1.2zM347.2 102.5h1.2v1.2h-1.2zM345.5 113.0h1.2v1.2h-1.2zM350.8 113.4h1.2v1.2h-1.2zM355.3 104.0h1.2v1.2h-1.2zM356.3 110.0h1.2v1.2h-1.2zM349.4 111.6h1.2v1.2h-1.2zM359.4 105.1h1.2v1.2h-1.2zM353.0 112.5h1.2v1.2h-1.2zM351.4 73.1h1.3v1.3h-1.3zM351.4 81.1h1.3v1.3h-1.3zM354.4 87.5h1.3v1.3h-1.3zM353.4 95.0h1.3v1.3h-1.3z" fill="#e3372b"/>
<rect x="364.0" y="120.1" width="16.1" height="49.1" fill="#5ab6e6"/>
<path d="M376.8 111.4h1.2v1.2h-1.2zM366.1 118.7h1.2v1.2h-1.2zM373.4 104.9h1.2v1.2h-1.2zM374.5 113.1h1.2v1.2h-1.2zM377.7 119.4h1.2v1.2h-1.2zM368.3 99.3h1.2v1.2h-1.2zM370.3 112.4h1.2v1.2h-1.2zM378.7 113.3h1.2v1.2h-1.2zM378.6 111.9h1.2v1.2h-1.2zM375.2 117.8h1.2v1.2h-1.2zM371.0 119.2h1.2v1.2h-1.2zM368.4 113.5h1.2v1.2h-1.2zM371.6 117.0h1.2v1.2h-1.2zM369.7 115.3h1.2v1.2h-1.2zM364.5 114.0h1.2v1.2h-1.2zM366.5 110.9h1.2v1.2h-1.2zM378.1 116.1h1.2v1.2h-1.2zM377.0 117.1h1.2v1.2h-1.2zM373.9 116.5h1.2v1.2h-1.2zM375.9 104.7h1.2v1.2h-1.2zM370.5 114.5h1.2v1.2h-1.2zM376.5 114.3h1.2v1.2h-1.2zM374.9 114.2h1.2v1.2h-1.2zM372.5 116.7h1.2v1.2h-1.2zM370.9 119.3h1.2v1.2h-1.2zM369.3 105.6h1.2v1.2h-1.2zM369.9 117.7h1.2v1.2h-1.2zM378.8 114.9h1.2v1.2h-1.2zM372.4 119.4h1.2v1.2h-1.2zM376.3 117.9h1.2v1.2h-1.2zM373.2 114.2h1.2v1.2h-1.2zM375.8 100.8h1.2v1.2h-1.2zM370.6 116.2h1.2v1.2h-1.2zM376.0 117.4h1.2v1.2h-1.2zM371.8 116.4h1.2v1.2h-1.2zM370.8 116.8h1.2v1.2h-1.2zM370.6 116.9h1.2v1.2h-1.2zM370.9 105.6h1.2v1.2h-1.2zM376.9 115.0h1.2v1.2h-1.2zM364.9 106.2h1.2v1.2h-1.2zM364.4 106.3h1.2v1.2h-1.2zM374.6 115.7h1.2v1.2h-1.2zM368.0 116.6h1.2v1.2h-1.2zM377.6 119.5h1.2v1.2h-1.2zM371.0 104.0h1.2v1.2h-1.2zM369.3 114.2h1.2v1.2h-1.2zM370.5 107.3h1.2v1.2h-1.2zM376.0 119.1h1.2v1.2h-1.2zM365.6 117.7h1.2v1.2h-1.2zM374.8 118.0h1.2v1.2h-1.2zM377.7 108.9h1.2v1.2h-1.2zM370.3 107.0h1.2v1.2h-1.2zM376.7 103.4h1.2v1.2h-1.2zM371.8 118.6h1.2v1.2h-1.2zM378.8 109.4h1.2v1.2h-1.2zM371.3 115.2h1.2v1.2h-1.2zM376.5 91.2h1.2v1.2h-1.2zM378.2 98.6h1.2v1.2h-1.2zM365.7 108.9h1.2v1.2h-1.2zM374.5 114.9h1.2v1.2h-1.2zM370.2 91.9h1.2v1.2h-1.2zM364.8 115.5h1.2v1.2h-1.2zM374.3 114.1h1.2v1.2h-1.2zM371.9 115.0h1.2v1.2h-1.2zM373.0 102.4h1.2v1.2h-1.2zM374.2 118.9h1.2v1.2h-1.2zM375.7 114.1h1.2v1.2h-1.2zM372.4 91.0h1.2v1.2h-1.2zM378.3 110.1h1.2v1.2h-1.2zM370.5 108.6h1.2v1.2h-1.2zM374.8 105.3h1.2v1.2h-1.2zM370.4 117.6h1.2v1.2h-1.2zM378.2 116.8h1.2v1.2h-1.2zM373.4 118.9h1.2v1.2h-1.2zM370.5 119.1h1.2v1.2h-1.2zM370.8 111.1h1.2v1.2h-1.2zM366.2 114.4h1.2v1.2h-1.2zM365.7 118.4h1.2v1.2h-1.2zM370.8 119.3h1.2v1.2h-1.2zM372.9 117.3h1.2v1.2h-1.2zM370.3 116.4h1.2v1.2h-1.2zM366.5 101.4h1.2v1.2h-1.2zM374.1 114.6h1.2v1.2h-1.2zM374.9 112.5h1.2v1.2h-1.2zM370.4 117.8h1.2v1.2h-1.2zM366.6 100.8h1.2v1.2h-1.2zM373.5 109.5h1.2v1.2h-1.2zM364.7 117.0h1.2v1.2h-1.2zM374.9 109.6h1.2v1.2h-1.2zM377.7 116.4h1.2v1.2h-1.2zM378.5 117.1h1.2v1.2h-1.2zM377.7 110.2h1.2v1.2h-1.2zM371.2 112.7h1.2v1.2h-1.2zM377.0 113.3h1.2v1.2h-1.2zM370.7 117.4h1.2v1.2h-1.2zM365.4 115.0h1.2v1.2h-1.2zM378.7 118.1h1.2v1.2h-1.2zM373.6 119.1h1.2v1.2h-1.2zM378.0 115.3h1.2v1.2h-1.2zM371.1 115.4h1.2v1.2h-1.2zM366.1 116.5h1.2v1.2h-1.2zM376.9 117.7h1.2v1.2h-1.2zM378.7 119.0h1.2v1.2h-1.2zM376.4 115.4h1.2v1.2h-1.2zM366.5 118.4h1.2v1.2h-1.2zM377.7 111.3h1.2v1.2h-1.2zM371.5 116.0h1.2v1.2h-1.2zM371.7 119.1h1.2v1.2h-1.2zM364.9 103.8h1.2v1.2h-1.2zM376.6 117.8h1.2v1.2h-1.2zM372.2 119.3h1.2v1.2h-1.2zM364.5 118.3h1.2v1.2h-1.2zM368.1 112.9h1.2v1.2h-1.2zM369.7 114.0h1.2v1.2h-1.2zM371.3 117.7h1.2v1.2h-1.2zM378.3 113.6h1.2v1.2h-1.2zM367.8 110.6h1.2v1.2h-1.2zM377.5 107.3h1.2v1.2h-1.2zM371.0 117.3h1.2v1.2h-1.2zM371.3 117.6h1.2v1.2h-1.2zM375.3 107.9h1.2v1.2h-1.2zM373.8 117.2h1.2v1.2h-1.2zM365.1 96.4h1.2v1.2h-1.2zM378.3 111.5h1.2v1.2h-1.2zM373.2 107.9h1.2v1.2h-1.2zM371.3 116.6h1.2v1.2h-1.2zM371.2 114.2h1.2v1.2h-1.2zM370.6 117.5h1.2v1.2h-1.2zM376.2 118.1h1.2v1.2h-1.2zM376.4 111.7h1.2v1.2h-1.2zM378.7 117.6h1.2v1.2h-1.2zM371.0 114.6h1.2v1.2h-1.2zM370.2 108.7h1.2v1.2h-1.2zM367.8 117.8h1.2v1.2h-1.2zM372.2 118.2h1.2v1.2h-1.2zM377.7 115.7h1.2v1.2h-1.2zM374.8 115.7h1.2v1.2h-1.2zM364.2 113.7h1.2v1.2h-1.2zM366.1 112.6h1.2v1.2h-1.2zM374.6 119.3h1.2v1.2h-1.2zM372.2 112.4h1.2v1.2h-1.2zM371.5 119.3h1.2v1.2h-1.2zM371.5 116.3h1.2v1.2h-1.2zM370.1 112.7h1.2v1.2h-1.2zM370.5 117.8h1.2v1.2h-1.2zM371.0 114.3h1.2v1.2h-1.2zM371.3 101.3h1.2v1.2h-1.2zM376.4 118.4h1.2v1.2h-1.2zM371.1 116.2h1.2v1.2h-1.2zM377.5 117.3h1.2v1.2h-1.2zM366.6 112.6h1.2v1.2h-1.2zM371.4 117.3h1.2v1.2h-1.2zM371.0 115.6h1.2v1.2h-1.2zM377.3 119.0h1.2v1.2h-1.2zM367.0 117.7h1.2v1.2h-1.2zM378.0 110.3h1.2v1.2h-1.2zM374.7 113.7h1.2v1.2h-1.2zM376.8 98.4h1.2v1.2h-1.2zM375.1 107.0h1.2v1.2h-1.2zM374.3 116.5h1.2v1.2h-1.2zM376.6 107.1h1.2v1.2h-1.2zM368.5 111.0h1.2v1.2h-1.2zM378.5 117.1h1.2v1.2h-1.2zM364.7 117.9h1.2v1.2h-1.2zM377.6 118.6h1.2v1.2h-1.2zM367.4 103.2h1.2v1.2h-1.2zM375.0 115.0h1.2v1.2h-1.2zM378.2 106.7h1.2v1.2h-1.2zM371.3 117.5h1.2v1.2h-1.2zM371.9 116.5h1.2v1.2h-1.2zM369.3 110.4h1.2v1.2h-1.2zM378.1 114.2h1.2v1.2h-1.2zM376.6 115.5h1.2v1.2h-1.2zM370.1 110.2h1.2v1.2h-1.2zM371.5 103.9h1.2v1.2h-1.2zM372.2 111.3h1.2v1.2h-1.2zM366.4 118.9h1.2v1.2h-1.2zM366.1 118.4h1.2v1.2h-1.2zM370.5 116.2h1.2v1.2h-1.2zM376.3 117.8h1.2v1.2h-1.2zM365.4 111.1h1.2v1.2h-1.2zM367.5 119.1h1.2v1.2h-1.2zM368.2 104.3h1.2v1.2h-1.2zM371.3 112.7h1.2v1.2h-1.2zM368.2 118.4h1.2v1.2h-1.2zM370.7 116.8h1.2v1.2h-1.2zM364.8 114.8h1.2v1.2h-1.2zM372.4 117.6h1.2v1.2h-1.2zM370.7 114.6h1.2v1.2h-1.2zM375.9 110.9h1.2v1.2h-1.2zM374.9 103.9h1.2v1.2h-1.2zM378.6 119.1h1.2v1.2h-1.2zM366.9 119.0h1.2v1.2h-1.2zM371.8 118.6h1.2v1.2h-1.2zM374.4 114.4h1.2v1.2h-1.2zM372.1 118.0h1.2v1.2h-1.2zM373.6 118.9h1.2v1.2h-1.2zM376.0 109.3h1.2v1.2h-1.2zM375.1 115.1h1.2v1.2h-1.2zM376.8 112.8h1.2v1.2h-1.2zM366.0 118.6h1.2v1.2h-1.2zM372.8 104.9h1.2v1.2h-1.2zM376.8 116.2h1.2v1.2h-1.2zM371.1 119.4h1.2v1.2h-1.2zM377.3 112.0h1.2v1.2h-1.2zM377.1 106.0h1.2v1.2h-1.2zM371.2 112.7h1.2v1.2h-1.2zM378.7 111.3h1.2v1.2h-1.2zM378.4 98.7h1.2v1.2h-1.2zM373.7 116.5h1.2v1.2h-1.2zM365.2 112.7h1.2v1.2h-1.2zM377.6 112.8h1.2v1.2h-1.2zM377.2 115.3h1.2v1.2h-1.2zM374.4 116.2h1.2v1.2h-1.2zM374.1 113.7h1.2v1.2h-1.2zM376.6 115.2h1.2v1.2h-1.2zM376.5 119.0h1.2v1.2h-1.2zM367.2 110.7h1.2v1.2h-1.2zM378.5 110.1h1.2v1.2h-1.2zM372.9 117.0h1.2v1.2h-1.2zM370.7 115.3h1.2v1.2h-1.2zM371.6 110.5h1.2v1.2h-1.2zM366.4 119.5h1.2v1.2h-1.2zM371.2 115.6h1.2v1.2h-1.2zM371.0 115.6h1.2v1.2h-1.2zM366.3 108.9h1.2v1.2h-1.2zM373.4 103.4h1.2v1.2h-1.2zM377.2 116.1h1.2v1.2h-1.2zM375.8 98.4h1.2v1.2h-1.2zM377.1 115.1h1.2v1.2h-1.2zM367.2 117.5h1.2v1.2h-1.2zM374.1 109.1h1.2v1.2h-1.2zM367.7 115.6h1.2v1.2h-1.2zM367.1 114.1h1.2v1.2h-1.2zM371.9 103.6h1.2v1.2h-1.2zM368.0 114.1h1.2v1.2h-1.2zM370.3 117.3h1.2v1.2h-1.2zM378.6 108.4h1.2v1.2h-1.2zM372.2 109.0h1.2v1.2h-1.2zM367.6 113.7h1.2v1.2h-1.2zM378.3 112.4h1.2v1.2h-1.2zM371.5 117.4h1.2v1.2h-1.2zM378.6 116.8h1.2v1.2h-1.2zM377.4 109.3h1.2v1.2h-1.2zM364.6 118.9h1.2v1.2h-1.2zM378.8 113.6h1.2v1.2h-1.2zM368.3 115.1h1.2v1.2h-1.2zM366.9 111.7h1.2v1.2h-1.2zM374.3 117.2h1.2v1.2h-1.2zM368.8 115.9h1.2v1.2h-1.2zM368.2 104.4h1.2v1.2h-1.2zM365.5 116.7h1.2v1.2h-1.2zM377.4 119.0h1.2v1.2h-1.2zM376.8 119.5h1.2v1.2h-1.2zM377.5 112.5h1.2v1.2h-1.2zM374.5 117.5h1.2v1.2h-1.2zM371.3 118.6h1.2v1.2h-1.2zM364.3 104.1h1.2v1.2h-1.2zM377.2 111.7h1.2v1.2h-1.2zM371.9 116.9h1.2v1.2h-1.2zM370.2 102.4h1.2v1.2h-1.2zM377.0 113.7h1.2v1.2h-1.2zM378.5 108.8h1.2v1.2h-1.2zM375.5 115.6h1.2v1.2h-1.2zM368.5 106.9h1.2v1.2h-1.2zM367.6 112.7h1.2v1.2h-1.2zM366.5 116.3h1.2v1.2h-1.2zM378.7 102.5h1.2v1.2h-1.2zM367.1 110.3h1.2v1.2h-1.2zM372.7 108.0h1.2v1.2h-1.2zM368.6 116.3h1.2v1.2h-1.2zM368.3 105.0h1.2v1.2h-1.2zM374.1 107.6h1.2v1.2h-1.2zM364.0 111.8h1.2v1.2h-1.2zM378.9 107.3h1.2v1.2h-1.2zM371.1 117.2h1.2v1.2h-1.2zM378.3 107.9h1.2v1.2h-1.2zM375.4 113.9h1.2v1.2h-1.2zM376.3 113.4h1.2v1.2h-1.2zM371.5 118.0h1.2v1.2h-1.2zM371.7 115.0h1.2v1.2h-1.2zM378.8 118.0h1.2v1.2h-1.2zM366.6 116.3h1.2v1.2h-1.2zM369.9 112.1h1.2v1.2h-1.2zM377.8 93.2h1.2v1.2h-1.2zM377.7 116.8h1.2v1.2h-1.2zM375.4 113.1h1.2v1.2h-1.2zM365.1 110.3h1.2v1.2h-1.2zM377.7 106.8h1.2v1.2h-1.2zM377.7 97.4h1.2v1.2h-1.2zM371.6 112.8h1.2v1.2h-1.2zM369.2 111.7h1.2v1.2h-1.2zM373.8 119.1h1.2v1.2h-1.2zM370.2 89.7h1.2v1.2h-1.2zM371.0 118.9h1.2v1.2h-1.2zM373.5 117.8h1.2v1.2h-1.2zM368.9 110.4h1.2v1.2h-1.2zM368.0 112.1h1.2v1.2h-1.2zM370.9 113.7h1.2v1.2h-1.2zM371.0 108.3h1.2v1.2h-1.2zM370.8 116.5h1.2v1.2h-1.2zM373.7 115.9h1.2v1.2h-1.2zM371.2 107.4h1.2v1.2h-1.2zM370.7 118.3h1.2v1.2h-1.2zM376.1 91.7h1.2v1.2h-1.2zM367.5 118.2h1.2v1.2h-1.2zM376.9 111.5h1.2v1.2h-1.2zM375.5 113.8h1.2v1.2h-1.2zM366.0 107.9h1.2v1.2h-1.2zM373.6 115.1h1.2v1.2h-1.2zM377.4 115.0h1.2v1.2h-1.2zM373.9 115.3h1.2v1.2h-1.2zM369.6 107.9h1.2v1.2h-1.2zM373.5 107.3h1.2v1.2h-1.2zM378.4 113.3h1.2v1.2h-1.2zM372.1 118.7h1.2v1.2h-1.2zM378.4 117.2h1.2v1.2h-1.2zM374.8 98.0h1.2v1.2h-1.2zM364.3 117.7h1.2v1.2h-1.2zM378.6 114.4h1.2v1.2h-1.2zM376.8 118.2h1.2v1.2h-1.2zM375.8 114.3h1.2v1.2h-1.2zM370.9 113.0h1.2v1.2h-1.2zM377.8 109.2h1.2v1.2h-1.2zM365.8 113.9h1.2v1.2h-1.2zM364.5 114.8h1.2v1.2h-1.2zM370.8 103.8h1.2v1.2h-1.2zM377.5 117.9h1.2v1.2h-1.2zM371.9 114.6h1.2v1.2h-1.2zM372.1 113.7h1.2v1.2h-1.2zM372.5 95.3h1.2v1.2h-1.2zM374.1 111.6h1.2v1.2h-1.2zM373.6 118.3h1.2v1.2h-1.2zM376.7 116.1h1.2v1.2h-1.2zM377.2 118.6h1.2v1.2h-1.2zM377.5 102.1h1.2v1.2h-1.2zM371.0 116.6h1.2v1.2h-1.2zM368.3 108.4h1.2v1.2h-1.2zM366.2 116.9h1.2v1.2h-1.2zM376.4 112.9h1.2v1.2h-1.2zM368.6 106.0h1.2v1.2h-1.2zM373.0 117.1h1.2v1.2h-1.2zM368.7 115.9h1.2v1.2h-1.2zM370.6 118.0h1.2v1.2h-1.2zM367.4 110.8h1.2v1.2h-1.2zM377.9 116.2h1.2v1.2h-1.2zM375.5 110.4h1.2v1.2h-1.2zM373.7 116.8h1.2v1.2h-1.2zM376.5 99.9h1.2v1.2h-1.2zM371.3 114.2h1.2v1.2h-1.2zM366.3 107.0h1.2v1.2h-1.2zM372.0 113.0h1.2v1.2h-1.2zM378.0 91.7h1.2v1.2h-1.2zM378.3 108.6h1.2v1.2h-1.2zM372.9 116.9h1.2v1.2h-1.2zM377.0 112.4h1.2v1.2h-1.2zM374.0 106.2h1.2v1.2h-1.2zM377.5 115.9h1.2v1.2h-1.2zM370.8 114.2h1.2v1.2h-1.2zM378.5 101.9h1.2v1.2h-1.2zM376.2 118.5h1.2v1.2h-1.2zM373.7 117.8h1.2v1.2h-1.2zM369.8 106.6h1.2v1.2h-1.2zM370.9 114.3h1.2v1.2h-1.2zM366.8 118.9h1.2v1.2h-1.2zM371.6 116.1h1.2v1.2h-1.2zM371.1 118.1h1.2v1.2h-1.2zM371.5 119.3h1.2v1.2h-1.2zM365.0 118.8h1.2v1.2h-1.2zM375.2 114.4h1.2v1.2h-1.2zM367.0 99.7h1.2v1.2h-1.2zM370.1 113.4h1.2v1.2h-1.2zM371.0 115.5h1.2v1.2h-1.2zM377.7 111.3h1.2v1.2h-1.2zM374.6 119.4h1.2v1.2h-1.2zM378.3 103.7h1.2v1.2h-1.2zM377.8 111.0h1.2v1.2h-1.2zM373.9 106.4h1.2v1.2h-1.2zM370.7 116.3h1.2v1.2h-1.2zM376.5 117.1h1.2v1.2h-1.2zM375.2 114.1h1.2v1.2h-1.2zM373.1 93.4h1.2v1.2h-1.2zM370.4 117.3h1.2v1.2h-1.2zM367.1 107.0h1.2v1.2h-1.2zM372.6 114.4h1.2v1.2h-1.2zM374.7 115.6h1.2v1.2h-1.2zM378.2 118.5h1.2v1.2h-1.2zM376.2 116.1h1.2v1.2h-1.2zM368.5 110.9h1.2v1.2h-1.2zM371.3 113.0h1.2v1.2h-1.2zM376.3 111.1h1.2v1.2h-1.2zM377.2 115.7h1.2v1.2h-1.2zM375.1 112.9h1.2v1.2h-1.2zM378.6 116.5h1.2v1.2h-1.2zM371.4 106.3h1.2v1.2h-1.2zM370.4 94.5h1.2v1.2h-1.2zM368.4 107.8h1.2v1.2h-1.2zM367.9 119.0h1.2v1.2h-1.2zM373.0 113.7h1.2v1.2h-1.2zM372.7 107.1h1.2v1.2h-1.2zM368.8 118.1h1.2v1.2h-1.2zM370.1 99.9h1.2v1.2h-1.2zM374.2 114.5h1.2v1.2h-1.2zM368.5 112.6h1.2v1.2h-1.2zM371.3 101.0h1.2v1.2h-1.2zM371.5 118.9h1.2v1.2h-1.2zM376.3 117.8h1.2v1.2h-1.2zM369.2 103.1h1.2v1.2h-1.2zM374.8 109.2h1.2v1.2h-1.2zM370.4 89.1h1.2v1.2h-1.2zM373.7 112.3h1.2v1.2h-1.2zM374.5 111.1h1.2v1.2h-1.2zM370.9 111.5h1.2v1.2h-1.2zM370.3 109.2h1.2v1.2h-1.2zM378.8 119.3h1.2v1.2h-1.2zM367.4 105.3h1.2v1.2h-1.2zM367.7 118.5h1.2v1.2h-1.2zM373.8 119.3h1.2v1.2h-1.2zM375.5 112.4h1.2v1.2h-1.2zM378.9 108.8h1.2v1.2h-1.2zM377.4 116.7h1.2v1.2h-1.2zM370.7 113.8h1.2v1.2h-1.2zM374.0 119.0h1.2v1.2h-1.2zM366.3 117.0h1.2v1.2h-1.2zM375.6 119.4h1.2v1.2h-1.2zM364.5 119.4h1.2v1.2h-1.2zM365.4 112.8h1.2v1.2h-1.2zM364.8 107.2h1.2v1.2h-1.2zM376.0 116.8h1.2v1.2h-1.2zM374.6 119.5h1.2v1.2h-1.2zM364.6 115.7h1.2v1.2h-1.2zM367.2 118.2h1.2v1.2h-1.2zM374.8 111.6h1.2v1.2h-1.2zM369.8 116.3h1.2v1.2h-1.2zM372.6 118.9h1.2v1.2h-1.2zM377.7 116.8h1.2v1.2h-1.2zM378.6 118.6h1.2v1.2h-1.2zM369.0 114.4h1.2v1.2h-1.2zM370.9 116.3h1.2v1.2h-1.2zM374.9 110.4h1.2v1.2h-1.2zM365.2 116.1h1.2v1.2h-1.2zM374.6 102.0h1.2v1.2h-1.2zM374.5 118.3h1.2v1.2h-1.2zM374.2 118.8h1.2v1.2h-1.2zM371.7 109.6h1.2v1.2h-1.2zM364.1 119.1h1.2v1.2h-1.2zM369.3 116.1h1.2v1.2h-1.2zM378.6 112.3h1.2v1.2h-1.2zM368.5 112.4h1.2v1.2h-1.2zM368.6 111.5h1.2v1.2h-1.2zM371.6 101.5h1.2v1.2h-1.2zM366.5 115.4h1.2v1.2h-1.2zM370.5 115.9h1.2v1.2h-1.2zM377.6 116.0h1.2v1.2h-1.2zM375.9 118.9h1.2v1.2h-1.2zM370.1 104.6h1.2v1.2h-1.2zM371.4 98.6h1.2v1.2h-1.2zM368.2 117.0h1.2v1.2h-1.2zM377.0 119.0h1.2v1.2h-1.2zM377.1 108.6h1.2v1.2h-1.2zM374.4 114.3h1.2v1.2h-1.2zM376.7 108.1h1.2v1.2h-1.2zM367.0 118.4h1.2v1.2h-1.2zM378.2 101.8h1.2v1.2h-1.2zM372.1 111.1h1.2v1.2h-1.2zM377.7 114.1h1.2v1.2h-1.2zM365.6 118.2h1.2v1.2h-1.2zM377.0 112.9h1.2v1.2h-1.2zM376.5 104.3h1.2v1.2h-1.2zM376.4 114.9h1.2v1.2h-1.2zM365.1 94.8h1.2v1.2h-1.2zM364.2 105.3h1.2v1.2h-1.2zM373.9 117.7h1.2v1.2h-1.2zM374.9 98.3h1.2v1.2h-1.2zM375.0 107.2h1.2v1.2h-1.2zM378.7 119.2h1.2v1.2h-1.2zM375.1 116.5h1.2v1.2h-1.2zM366.0 114.6h1.2v1.2h-1.2zM369.8 118.9h1.2v1.2h-1.2zM366.6 114.4h1.2v1.2h-1.2zM378.4 111.0h1.2v1.2h-1.2zM370.3 112.1h1.2v1.2h-1.2zM370.0 116.6h1.2v1.2h-1.2zM364.2 110.1h1.2v1.2h-1.2zM369.1 110.2h1.2v1.2h-1.2zM371.1 113.9h1.2v1.2h-1.2zM378.3 117.3h1.2v1.2h-1.2zM375.2 109.1h1.2v1.2h-1.2zM378.7 118.3h1.2v1.2h-1.2zM365.4 119.4h1.2v1.2h-1.2zM365.3 101.0h1.2v1.2h-1.2zM364.4 112.7h1.2v1.2h-1.2zM372.0 83.8h1.3v1.3h-1.3z" fill="#5ab6e6"/>
<rect x="382.2" y="121.9" width="11.6" height="47.3" fill="#1b3c8c"/>
<path d="M383.3 120.3h1.2v1.2h-1.2zM387.6 117.2h1.2v1.2h-1.2zM389.8 111.6h1.2v1.2h-1.2zM385.7 114.5h1.2v1.2h-1.2zM389.7 117.6h1.2v1.2h-1.2zM389.8 111.6h1.2v1.2h-1.2zM390.2 120.3h1.2v1.2h-1.2zM389.5 120.2h1.2v1.2h-1.2zM389.8 120.4h1.2v1.2h-1.2zM387.2 118.7h1.2v1.2h-1.2zM387.3 107.5h1.2v1.2h-1.2zM388.8 97.1h1.2v1.2h-1.2zM383.0 112.1h1.2v1.2h-1.2zM390.3 120.6h1.2v1.2h-1.2zM385.8 118.8h1.2v1.2h-1.2zM384.9 114.6h1.2v1.2h-1.2zM383.7 104.1h1.2v1.2h-1.2zM392.1 119.1h1.2v1.2h-1.2zM383.9 115.4h1.2v1.2h-1.2zM382.8 120.4h1.2v1.2h-1.2zM382.9 111.7h1.2v1.2h-1.2zM385.4 114.9h1.2v1.2h-1.2zM391.4 120.3h1.2v1.2h-1.2zM384.8 119.9h1.2v1.2h-1.2zM390.3 119.3h1.2v1.2h-1.2zM384.1 119.8h1.2v1.2h-1.2zM390.2 118.8h1.2v1.2h-1.2zM388.9 120.1h1.2v1.2h-1.2zM386.4 106.0h1.2v1.2h-1.2zM389.8 97.0h1.2v1.2h-1.2zM382.6 112.6h1.2v1.2h-1.2zM385.8 119.4h1.2v1.2h-1.2zM384.7 121.1h1.2v1.2h-1.2zM390.1 118.2h1.2v1.2h-1.2zM385.1 112.0h1.2v1.2h-1.2zM390.1 114.6h1.2v1.2h-1.2zM390.0 118.5h1.2v1.2h-1.2zM384.0 111.5h1.2v1.2h-1.2zM387.1 115.6h1.2v1.2h-1.2zM383.3 119.0h1.2v1.2h-1.2zM384.1 119.6h1.2v1.2h-1.2zM383.2 97.1h1.2v1.2h-1.2zM385.1 108.0h1.2v1.2h-1.2zM386.2 116.1h1.2v1.2h-1.2zM382.2 95.8h1.2v1.2h-1.2zM388.5 108.8h1.2v1.2h-1.2zM382.4 112.5h1.2v1.2h-1.2zM386.6 118.5h1.2v1.2h-1.2zM388.0 110.4h1.2v1.2h-1.2zM392.4 119.2h1.2v1.2h-1.2zM392.5 117.0h1.2v1.2h-1.2zM383.5 115.9h1.2v1.2h-1.2zM383.1 115.5h1.2v1.2h-1.2zM387.8 101.0h1.2v1.2h-1.2zM383.2 119.2h1.2v1.2h-1.2zM383.9 116.0h1.2v1.2h-1.2zM383.1 117.8h1.2v1.2h-1.2zM392.5 116.1h1.2v1.2h-1.2zM382.6 118.9h1.2v1.2h-1.2zM383.0 113.9h1.2v1.2h-1.2zM385.1 115.5h1.2v1.2h-1.2zM384.6 119.7h1.2v1.2h-1.2zM387.5 100.5h1.2v1.2h-1.2zM383.1 101.8h1.2v1.2h-1.2zM388.3 120.1h1.2v1.2h-1.2zM390.1 117.9h1.2v1.2h-1.2zM384.0 121.3h1.2v1.2h-1.2zM387.4 105.7h1.2v1.2h-1.2zM387.1 116.1h1.2v1.2h-1.2zM383.9 119.0h1.2v1.2h-1.2zM384.5 113.3h1.2v1.2h-1.2zM384.2 100.4h1.2v1.2h-1.2zM389.4 116.6h1.2v1.2h-1.2zM386.6 109.7h1.2v1.2h-1.2zM382.6 115.9h1.2v1.2h-1.2zM386.7 102.6h1.2v1.2h-1.2zM388.8 113.6h1.2v1.2h-1.2zM384.6 100.6h1.2v1.2h-1.2zM385.6 116.3h1.2v1.2h-1.2zM383.4 111.3h1.2v1.2h-1.2zM383.5 117.2h1.2v1.2h-1.2zM385.7 112.5h1.2v1.2h-1.2zM391.4 110.2h1.2v1.2h-1.2zM391.5 100.3h1.2v1.2h-1.2zM384.7 119.3h1.2v1.2h-1.2zM388.8 119.6h1.2v1.2h-1.2zM388.2 121.2h1.2v1.2h-1.2zM390.6 114.5h1.2v1.2h-1.2zM392.3 120.4h1.2v1.2h-1.2zM386.5 121.0h1.2v1.2h-1.2zM387.4 103.1h1.2v1.2h-1.2zM392.0 97.1h1.2v1.2h-1.2zM383.5 120.0h1.2v1.2h-1.2zM383.5 114.4h1.2v1.2h-1.2zM391.6 117.8h1.2v1.2h-1.2zM392.2 88.8h1.2v1.2h-1.2zM390.0 95.0h1.2v1.2h-1.2zM389.0 103.2h1.2v1.2h-1.2zM392.5 119.2h1.2v1.2h-1.2zM382.6 100.0h1.2v1.2h-1.2zM384.9 120.9h1.2v1.2h-1.2zM387.5 110.2h1.2v1.2h-1.2zM389.9 116.4h1.2v1.2h-1.2zM388.2 116.6h1.2v1.2h-1.2zM392.2 116.8h1.2v1.2h-1.2zM383.4 111.3h1.2v1.2h-1.2zM389.0 120.3h1.2v1.2h-1.2zM383.5 118.9h1.2v1.2h-1.2zM387.8 114.3h1.2v1.2h-1.2zM391.8 118.6h1.2v1.2h-1.2zM387.0 120.6h1.2v1.2h-1.2zM383.9 115.2h1.2v1.2h-1.2zM385.4 118.0h1.2v1.2h-1.2zM388.9 115.6h1.2v1.2h-1.2zM384.2 110.7h1.2v1.2h-1.2zM389.2 114.1h1.2v1.2h-1.2zM390.1 119.3h1.2v1.2h-1.2zM383.2 117.2h1.2v1.2h-1.2zM389.0 102.9h1.2v1.2h-1.2zM391.7 118.5h1.2v1.2h-1.2zM382.6 120.7h1.2v1.2h-1.2zM384.7 111.8h1.2v1.2h-1.2zM382.5 120.0h1.2v1.2h-1.2zM389.3 119.5h1.2v1.2h-1.2zM392.0 114.2h1.2v1.2h-1.2zM388.8 116.5h1.2v1.2h-1.2zM383.1 116.3h1.2v1.2h-1.2zM385.3 111.6h1.2v1.2h-1.2zM383.6 120.8h1.2v1.2h-1.2zM382.2 120.1h1.2v1.2h-1.2zM382.6 120.7h1.2v1.2h-1.2zM383.0 107.5h1.2v1.2h-1.2zM389.9 112.1h1.2v1.2h-1.2zM382.8 109.8h1.2v1.2h-1.2zM383.9 103.2h1.2v1.2h-1.2zM383.4 118.2h1.2v1.2h-1.2zM386.7 91.0h1.2v1.2h-1.2zM387.6 103.8h1.2v1.2h-1.2zM384.8 107.6h1.2v1.2h-1.2zM384.8 116.4h1.2v1.2h-1.2zM384.3 115.2h1.2v1.2h-1.2zM389.9 102.8h1.2v1.2h-1.2zM386.5 112.1h1.2v1.2h-1.2zM383.5 120.2h1.2v1.2h-1.2zM388.9 117.6h1.2v1.2h-1.2zM392.5 113.7h1.2v1.2h-1.2zM384.3 112.4h1.2v1.2h-1.2zM387.8 111.0h1.2v1.2h-1.2zM383.2 118.5h1.2v1.2h-1.2zM383.8 120.0h1.2v1.2h-1.2zM389.5 110.3h1.2v1.2h-1.2zM386.1 118.1h1.2v1.2h-1.2zM389.8 116.8h1.2v1.2h-1.2zM388.5 120.2h1.2v1.2h-1.2zM383.0 113.2h1.2v1.2h-1.2zM382.4 119.3h1.2v1.2h-1.2zM391.3 107.3h1.2v1.2h-1.2zM387.8 117.5h1.2v1.2h-1.2zM389.1 120.9h1.2v1.2h-1.2zM390.2 113.9h1.2v1.2h-1.2zM390.0 114.7h1.2v1.2h-1.2zM389.5 115.1h1.2v1.2h-1.2zM385.2 113.6h1.2v1.2h-1.2zM389.7 119.3h1.2v1.2h-1.2zM384.3 105.8h1.2v1.2h-1.2zM383.3 112.4h1.2v1.2h-1.2zM389.7 107.5h1.2v1.2h-1.2zM383.1 113.3h1.2v1.2h-1.2zM391.5 103.3h1.2v1.2h-1.2zM388.6 108.8h1.2v1.2h-1.2zM383.5 120.2h1.2v1.2h-1.2zM388.3 120.9h1.2v1.2h-1.2zM389.7 119.4h1.2v1.2h-1.2zM389.6 109.9h1.2v1.2h-1.2zM383.8 118.8h1.2v1.2h-1.2zM391.4 118.4h1.2v1.2h-1.2zM383.5 118.3h1.2v1.2h-1.2zM389.5 119.9h1.2v1.2h-1.2zM389.1 108.8h1.2v1.2h-1.2zM390.9 114.4h1.2v1.2h-1.2zM383.7 115.6h1.2v1.2h-1.2zM384.0 110.7h1.2v1.2h-1.2zM390.5 120.3h1.2v1.2h-1.2zM389.9 114.8h1.2v1.2h-1.2zM390.4 107.3h1.2v1.2h-1.2zM384.3 116.3h1.2v1.2h-1.2zM387.4 118.8h1.2v1.2h-1.2zM388.4 116.7h1.2v1.2h-1.2zM383.5 109.6h1.2v1.2h-1.2zM386.3 116.2h1.2v1.2h-1.2zM384.7 116.6h1.2v1.2h-1.2zM389.8 118.0h1.2v1.2h-1.2zM384.9 118.0h1.2v1.2h-1.2zM389.8 116.5h1.2v1.2h-1.2zM386.7 117.0h1.2v1.2h-1.2zM385.1 116.7h1.2v1.2h-1.2zM389.0 115.6h1.2v1.2h-1.2zM385.7 95.0h1.2v1.2h-1.2zM390.9 112.5h1.2v1.2h-1.2zM383.4 118.3h1.2v1.2h-1.2zM386.6 118.6h1.2v1.2h-1.2zM390.6 119.3h1.2v1.2h-1.2zM385.0 113.5h1.2v1.2h-1.2zM392.1 110.3h1.2v1.2h-1.2zM390.4 113.8h1.2v1.2h-1.2zM382.5 120.9h1.2v1.2h-1.2zM383.3 112.5h1.2v1.2h-1.2zM388.0 115.5h1.2v1.2h-1.2zM386.0 117.2h1.2v1.2h-1.2zM385.4 107.3h1.2v1.2h-1.2zM388.1 113.7h1.2v1.2h-1.2zM384.4 99.3h1.2v1.2h-1.2zM390.2 119.0h1.2v1.2h-1.2zM388.4 116.8h1.2v1.2h-1.2zM387.2 117.5h1.2v1.2h-1.2zM391.1 104.4h1.2v1.2h-1.2zM389.2 121.2h1.2v1.2h-1.2zM382.4 105.3h1.2v1.2h-1.2zM387.1 117.7h1.2v1.2h-1.2zM390.8 102.1h1.2v1.2h-1.2zM387.0 117.7h1.2v1.2h-1.2zM388.3 120.0h1.2v1.2h-1.2zM385.3 119.6h1.2v1.2h-1.2zM390.6 113.4h1.2v1.2h-1.2zM385.5 107.3h1.2v1.2h-1.2zM389.2 119.1h1.2v1.2h-1.2zM387.4 118.6h1.2v1.2h-1.2zM383.7 120.4h1.2v1.2h-1.2zM386.0 120.2h1.2v1.2h-1.2zM382.7 117.5h1.2v1.2h-1.2zM390.0 121.1h1.2v1.2h-1.2zM383.2 117.8h1.2v1.2h-1.2zM392.2 117.9h1.2v1.2h-1.2zM383.6 115.7h1.2v1.2h-1.2zM383.3 110.9h1.2v1.2h-1.2zM387.5 117.3h1.2v1.2h-1.2zM387.1 113.7h1.2v1.2h-1.2zM382.5 119.5h1.2v1.2h-1.2zM383.8 110.6h1.2v1.2h-1.2zM385.5 108.0h1.2v1.2h-1.2zM382.8 103.6h1.2v1.2h-1.2zM390.2 112.0h1.2v1.2h-1.2zM385.1 112.5h1.2v1.2h-1.2zM389.5 98.6h1.2v1.2h-1.2zM388.3 119.1h1.2v1.2h-1.2zM388.8 120.8h1.2v1.2h-1.2zM389.0 115.7h1.2v1.2h-1.2zM392.5 110.8h1.2v1.2h-1.2zM384.3 118.9h1.2v1.2h-1.2zM388.6 117.1h1.2v1.2h-1.2zM390.2 108.1h1.2v1.2h-1.2zM390.4 113.9h1.2v1.2h-1.2zM390.3 99.6h1.2v1.2h-1.2zM383.7 116.4h1.2v1.2h-1.2zM382.3 103.5h1.2v1.2h-1.2zM383.5 100.7h1.2v1.2h-1.2zM390.4 120.1h1.2v1.2h-1.2zM383.7 115.3h1.2v1.2h-1.2zM388.2 107.0h1.2v1.2h-1.2zM387.1 118.1h1.2v1.2h-1.2zM382.6 114.3h1.2v1.2h-1.2zM390.2 118.7h1.2v1.2h-1.2zM391.6 119.7h1.2v1.2h-1.2zM384.4 121.2h1.2v1.2h-1.2zM382.2 95.4h1.2v1.2h-1.2zM382.3 109.3h1.2v1.2h-1.2zM383.8 117.7h1.2v1.2h-1.2zM383.5 120.2h1.2v1.2h-1.2zM382.2 111.8h1.2v1.2h-1.2zM387.8 117.9h1.2v1.2h-1.2zM390.7 117.7h1.2v1.2h-1.2zM390.4 117.8h1.2v1.2h-1.2zM385.1 119.4h1.2v1.2h-1.2zM383.2 119.3h1.2v1.2h-1.2zM383.8 120.9h1.2v1.2h-1.2zM384.8 120.9h1.2v1.2h-1.2zM386.0 109.1h1.2v1.2h-1.2zM392.2 108.2h1.2v1.2h-1.2zM383.5 120.0h1.2v1.2h-1.2zM387.8 121.1h1.2v1.2h-1.2zM382.8 118.2h1.2v1.2h-1.2zM390.7 114.2h1.2v1.2h-1.2zM385.2 106.2h1.2v1.2h-1.2zM390.7 119.0h1.2v1.2h-1.2zM382.7 114.8h1.2v1.2h-1.2zM383.0 113.1h1.2v1.2h-1.2zM388.0 115.3h1.2v1.2h-1.2zM388.8 118.9h1.2v1.2h-1.2zM384.8 118.9h1.2v1.2h-1.2zM387.2 111.8h1.2v1.2h-1.2zM391.7 95.3h1.2v1.2h-1.2zM383.4 113.1h1.2v1.2h-1.2zM385.7 116.6h1.2v1.2h-1.2zM389.5 121.2h1.2v1.2h-1.2zM386.7 118.1h1.2v1.2h-1.2zM389.7 112.3h1.2v1.2h-1.2zM384.9 118.3h1.2v1.2h-1.2zM389.5 120.3h1.2v1.2h-1.2zM383.3 119.1h1.2v1.2h-1.2zM388.4 108.4h1.2v1.2h-1.2zM383.8 118.2h1.2v1.2h-1.2zM383.8 107.4h1.2v1.2h-1.2zM390.7 109.5h1.2v1.2h-1.2zM390.8 117.0h1.2v1.2h-1.2zM384.6 119.5h1.2v1.2h-1.2zM390.6 116.7h1.2v1.2h-1.2zM392.2 111.9h1.2v1.2h-1.2zM386.2 103.2h1.2v1.2h-1.2zM390.9 114.6h1.2v1.2h-1.2zM392.3 119.9h1.2v1.2h-1.2zM386.7 111.6h1.2v1.2h-1.2zM390.9 118.7h1.2v1.2h-1.2zM383.5 111.3h1.2v1.2h-1.2zM383.5 117.5h1.2v1.2h-1.2zM389.9 112.4h1.2v1.2h-1.2zM388.5 107.4h1.2v1.2h-1.2zM389.4 120.6h1.2v1.2h-1.2zM384.7 118.5h1.2v1.2h-1.2zM387.7 119.6h1.2v1.2h-1.2zM389.9 118.2h1.2v1.2h-1.2zM390.7 115.6h1.2v1.2h-1.2zM387.2 114.1h1.2v1.2h-1.2zM389.4 116.3h1.2v1.2h-1.2zM382.9 119.5h1.2v1.2h-1.2zM388.3 117.5h1.2v1.2h-1.2zM392.5 114.8h1.2v1.2h-1.2zM383.8 121.3h1.2v1.2h-1.2zM383.5 96.3h1.2v1.2h-1.2zM388.8 112.1h1.2v1.2h-1.2zM389.7 120.0h1.2v1.2h-1.2zM383.1 118.5h1.2v1.2h-1.2zM384.6 119.1h1.2v1.2h-1.2zM382.4 116.9h1.2v1.2h-1.2zM390.5 115.2h1.2v1.2h-1.2zM382.7 110.9h1.2v1.2h-1.2zM382.4 99.3h1.2v1.2h-1.2zM382.8 112.6h1.2v1.2h-1.2zM390.0 106.0h1.2v1.2h-1.2zM391.0 119.2h1.2v1.2h-1.2zM388.4 98.3h1.2v1.2h-1.2zM391.4 110.6h1.2v1.2h-1.2zM383.9 116.4h1.2v1.2h-1.2zM388.3 114.0h1.2v1.2h-1.2zM391.2 104.5h1.2v1.2h-1.2zM389.2 120.8h1.2v1.2h-1.2zM388.4 111.5h1.2v1.2h-1.2zM387.5 116.4h1.2v1.2h-1.2zM383.0 109.5h1.2v1.2h-1.2zM387.8 110.6h1.2v1.2h-1.2zM388.2 118.3h1.2v1.2h-1.2zM384.8 115.3h1.2v1.2h-1.2zM382.7 103.8h1.2v1.2h-1.2zM382.6 88.7h1.2v1.2h-1.2zM389.6 110.8h1.2v1.2h-1.2zM382.9 118.4h1.2v1.2h-1.2zM390.8 112.4h1.2v1.2h-1.2zM387.0 109.1h1.2v1.2h-1.2zM392.5 120.2h1.2v1.2h-1.2zM384.1 114.9h1.2v1.2h-1.2zM390.0 101.6h1.2v1.2h-1.2zM389.8 93.7h1.2v1.2h-1.2zM390.4 121.1h1.2v1.2h-1.2zM391.8 117.3h1.2v1.2h-1.2zM389.5 110.6h1.2v1.2h-1.2zM391.6 108.6h1.2v1.2h-1.2zM387.2 115.3h1.2v1.2h-1.2zM384.2 91.1h1.2v1.2h-1.2zM382.3 120.8h1.2v1.2h-1.2zM392.4 120.9h1.2v1.2h-1.2zM390.2 117.2h1.2v1.2h-1.2zM383.2 108.1h1.2v1.2h-1.2zM387.9 97.2h1.2v1.2h-1.2zM383.8 113.4h1.2v1.2h-1.2zM389.5 113.8h1.2v1.2h-1.2zM389.0 113.8h1.2v1.2h-1.2zM392.0 120.8h1.2v1.2h-1.2zM382.2 120.0h1.2v1.2h-1.2zM383.4 110.4h1.2v1.2h-1.2zM390.6 118.8h1.2v1.2h-1.2zM387.4 93.0h1.3v1.3h-1.3z" fill="#1b3c8c"/>
<rect x="396.2" y="120.7" width="13.0" height="48.5" fill="#f0963b"/>
<path d="M408.0 115.3h1.2v1.2h-1.2zM400.6 93.2h1.2v1.2h-1.2zM398.2 115.6h1.2v1.2h-1.2zM396.7 114.2h1.2v1.2h-1.2zM402.0 120.0h1.2v1.2h-1.2zM399.7 111.6h1.2v1.2h-1.2zM405.1 117.1h1.2v1.2h-1.2zM400.7 118.0h1.2v1.2h-1.2zM403.9 119.0h1.2v1.2h-1.2zM405.9 116.2h1.2v1.2h-1.2zM398.1 118.4h1.2v1.2h-1.2zM396.6 110.0h1.2v1.2h-1.2zM401.9 116.5h1.2v1.2h-1.2zM400.6 114.0h1.2v1.2h-1.2zM397.7 116.0h1.2v1.2h-1.2zM400.8 98.4h1.2v1.2h-1.2zM405.4 120.0h1.2v1.2h-1.2zM400.8 120.1h1.2v1.2h-1.2zM402.2 108.6h1.2v1.2h-1.2zM400.3 116.9h1.2v1.2h-1.2zM401.5 109.7h1.2v1.2h-1.2zM397.8 119.8h1.2v1.2h-1.2zM403.4 118.2h1.2v1.2h-1.2zM400.7 110.4h1.2v1.2h-1.2zM401.9 119.7h1.2v1.2h-1.2zM396.5 109.8h1.2v1.2h-1.2zM405.0 107.6h1.2v1.2h-1.2zM402.5 107.6h1.2v1.2h-1.2zM396.8 116.9h1.2v1.2h-1.2zM404.8 117.1h1.2v1.2h-1.2zM400.5 116.7h1.2v1.2h-1.2zM406.7 111.9h1.2v1.2h-1.2zM399.8 118.5h1.2v1.2h-1.2zM406.3 118.3h1.2v1.2h-1.2zM406.5 113.1h1.2v1.2h-1.2zM401.8 119.1h1.2v1.2h-1.2zM400.4 101.1h1.2v1.2h-1.2zM404.0 119.3h1.2v1.2h-1.2zM406.3 119.6h1.2v1.2h-1.2zM401.9 106.2h1.2v1.2h-1.2zM396.8 106.6h1.2v1.2h-1.2zM404.0 115.2h1.2v1.2h-1.2zM405.6 117.4h1.2v1.2h-1.2zM401.4 116.8h1.2v1.2h-1.2zM403.9 112.1h1.2v1.2h-1.2zM399.9 118.0h1.2v1.2h-1.2zM401.0 118.1h1.2v1.2h-1.2zM400.1 117.0h1.2v1.2h-1.2zM397.5 109.1h1.2v1.2h-1.2zM406.7 118.5h1.2v1.2h-1.2zM401.0 104.9h1.2v1.2h-1.2zM403.6 117.5h1.2v1.2h-1.2zM399.6 101.7h1.2v1.2h-1.2zM403.6 107.6h1.2v1.2h-1.2zM405.1 111.3h1.2v1.2h-1.2zM405.6 119.8h1.2v1.2h-1.2zM400.4 119.6h1.2v1.2h-1.2zM396.2 113.8h1.2v1.2h-1.2zM396.6 118.9h1.2v1.2h-1.2zM405.3 116.5h1.2v1.2h-1.2zM401.2 115.7h1.2v1.2h-1.2zM407.2 112.6h1.2v1.2h-1.2zM396.7 119.2h1.2v1.2h-1.2zM398.8 116.6h1.2v1.2h-1.2zM407.1 118.6h1.2v1.2h-1.2zM401.9 118.1h1.2v1.2h-1.2zM402.3 119.5h1.2v1.2h-1.2zM403.0 112.9h1.2v1.2h-1.2zM404.5 115.4h1.2v1.2h-1.2zM404.1 117.7h1.2v1.2h-1.2zM401.5 119.4h1.2v1.2h-1.2zM398.2 116.8h1.2v1.2h-1.2zM399.2 117.6h1.2v1.2h-1.2zM400.9 114.9h1.2v1.2h-1.2zM399.9 114.0h1.2v1.2h-1.2zM396.6 110.0h1.2v1.2h-1.2zM398.5 117.3h1.2v1.2h-1.2zM407.1 118.1h1.2v1.2h-1.2zM399.8 109.5h1.2v1.2h-1.2zM401.0 118.4h1.2v1.2h-1.2zM405.6 120.0h1.2v1.2h-1.2zM398.1 110.0h1.2v1.2h-1.2zM401.1 118.0h1.2v1.2h-1.2zM397.1 108.6h1.2v1.2h-1.2zM401.0 116.7h1.2v1.2h-1.2zM399.1 107.6h1.2v1.2h-1.2zM397.9 113.8h1.2v1.2h-1.2zM407.6 119.8h1.2v1.2h-1.2zM397.8 114.3h1.2v1.2h-1.2zM398.9 118.2h1.2v1.2h-1.2zM405.0 114.7h1.2v1.2h-1.2zM399.8 112.5h1.2v1.2h-1.2zM400.7 103.9h1.2v1.2h-1.2zM397.4 113.8h1.2v1.2h-1.2zM397.5 112.2h1.2v1.2h-1.2zM399.6 118.6h1.2v1.2h-1.2zM401.0 118.4h1.2v1.2h-1.2zM400.8 110.4h1.2v1.2h-1.2zM405.6 94.9h1.2v1.2h-1.2zM398.8 117.8h1.2v1.2h-1.2zM400.3 117.5h1.2v1.2h-1.2zM400.1 119.9h1.2v1.2h-1.2zM404.5 115.9h1.2v1.2h-1.2zM403.0 104.8h1.2v1.2h-1.2zM405.5 98.1h1.2v1.2h-1.2zM398.3 111.7h1.2v1.2h-1.2zM401.8 103.6h1.2v1.2h-1.2zM400.8 118.9h1.2v1.2h-1.2zM402.2 107.9h1.2v1.2h-1.2zM400.7 118.7h1.2v1.2h-1.2zM398.2 117.3h1.2v1.2h-1.2zM398.8 113.2h1.2v1.2h-1.2zM400.3 118.9h1.2v1.2h-1.2zM398.7 117.3h1.2v1.2h-1.2zM397.4 108.9h1.2v1.2h-1.2zM404.7 117.5h1.2v1.2h-1.2zM397.4 117.9h1.2v1.2h-1.2zM400.9 105.9h1.2v1.2h-1.2zM400.1 111.6h1.2v1.2h-1.2zM403.9 119.5h1.2v1.2h-1.2zM401.8 120.0h1.2v1.2h-1.2zM399.3 103.1h1.2v1.2h-1.2zM401.3 118.8h1.2v1.2h-1.2zM397.9 115.0h1.2v1.2h-1.2zM404.4 112.0h1.2v1.2h-1.2zM406.7 108.0h1.2v1.2h-1.2zM399.1 94.0h1.2v1.2h-1.2zM399.6 105.2h1.2v1.2h-1.2zM407.1 117.6h1.2v1.2h-1.2zM406.7 112.0h1.2v1.2h-1.2zM398.1 119.1h1.2v1.2h-1.2zM402.9 106.0h1.2v1.2h-1.2zM400.3 114.8h1.2v1.2h-1.2zM403.2 110.1h1.2v1.2h-1.2zM404.0 117.9h1.2v1.2h-1.2zM398.9 117.9h1.2v1.2h-1.2zM404.4 113.4h1.2v1.2h-1.2zM402.6 116.7h1.2v1.2h-1.2zM405.1 112.3h1.2v1.2h-1.2zM406.8 119.7h1.2v1.2h-1.2zM402.7 119.4h1.2v1.2h-1.2zM396.4 100.8h1.2v1.2h-1.2zM405.2 116.4h1.2v1.2h-1.2zM398.2 117.3h1.2v1.2h-1.2zM407.2 114.4h1.2v1.2h-1.2zM405.7 113.8h1.2v1.2h-1.2zM399.2 114.7h1.2v1.2h-1.2zM397.7 114.3h1.2v1.2h-1.2zM402.9 112.2h1.2v1.2h-1.2zM407.4 102.0h1.2v1.2h-1.2zM398.1 111.8h1.2v1.2h-1.2zM402.4 116.2h1.2v1.2h-1.2zM400.6 116.7h1.2v1.2h-1.2zM402.3 114.2h1.2v1.2h-1.2zM404.0 117.7h1.2v1.2h-1.2zM398.9 104.5h1.2v1.2h-1.2zM401.7 116.1h1.2v1.2h-1.2zM401.5 114.1h1.2v1.2h-1.2zM400.8 109.0h1.2v1.2h-1.2zM399.6 118.9h1.2v1.2h-1.2zM401.0 117.4h1.2v1.2h-1.2zM403.9 114.7h1.2v1.2h-1.2zM402.1 119.1h1.2v1.2h-1.2zM398.2 113.9h1.2v1.2h-1.2zM398.6 108.7h1.2v1.2h-1.2zM405.5 98.4h1.2v1.2h-1.2zM405.0 105.9h1.2v1.2h-1.2zM400.6 119.1h1.2v1.2h-1.2zM397.5 96.6h1.2v1.2h-1.2zM398.6 109.7h1.2v1.2h-1.2zM405.6 106.4h1.2v1.2h-1.2zM399.0 117.4h1.2v1.2h-1.2zM407.5 120.1h1.2v1.2h-1.2zM398.3 118.9h1.2v1.2h-1.2zM401.2 110.7h1.2v1.2h-1.2zM400.7 117.6h1.2v1.2h-1.2zM398.8 119.1h1.2v1.2h-1.2zM407.7 119.6h1.2v1.2h-1.2zM401.9 108.9h1.2v1.2h-1.2zM404.3 115.4h1.2v1.2h-1.2zM399.9 108.6h1.2v1.2h-1.2zM397.2 117.9h1.2v1.2h-1.2zM405.2 113.0h1.2v1.2h-1.2zM404.5 111.1h1.2v1.2h-1.2zM406.5 109.6h1.2v1.2h-1.2zM401.3 117.1h1.2v1.2h-1.2zM404.8 116.9h1.2v1.2h-1.2zM404.5 116.0h1.2v1.2h-1.2zM403.3 113.4h1.2v1.2h-1.2zM402.2 115.7h1.2v1.2h-1.2zM396.7 120.0h1.2v1.2h-1.2zM405.8 109.5h1.2v1.2h-1.2zM406.0 119.7h1.2v1.2h-1.2zM406.2 119.7h1.2v1.2h-1.2zM405.0 107.4h1.2v1.2h-1.2zM406.8 116.0h1.2v1.2h-1.2zM406.6 106.0h1.2v1.2h-1.2zM400.4 119.7h1.2v1.2h-1.2zM401.1 99.1h1.2v1.2h-1.2zM402.2 118.1h1.2v1.2h-1.2zM400.6 108.0h1.2v1.2h-1.2zM404.6 114.8h1.2v1.2h-1.2zM401.3 110.9h1.2v1.2h-1.2zM404.1 115.3h1.2v1.2h-1.2zM398.3 114.3h1.2v1.2h-1.2zM397.5 112.6h1.2v1.2h-1.2zM406.0 117.2h1.2v1.2h-1.2zM400.0 116.2h1.2v1.2h-1.2zM407.3 119.3h1.2v1.2h-1.2zM398.3 112.2h1.2v1.2h-1.2zM398.7 119.9h1.2v1.2h-1.2zM404.5 117.7h1.2v1.2h-1.2zM404.4 118.6h1.2v1.2h-1.2zM406.7 119.7h1.2v1.2h-1.2zM401.0 119.4h1.2v1.2h-1.2zM401.3 113.2h1.2v1.2h-1.2zM401.6 108.1h1.2v1.2h-1.2zM401.4 107.1h1.2v1.2h-1.2zM400.2 109.1h1.2v1.2h-1.2zM402.2 115.7h1.2v1.2h-1.2zM398.8 116.8h1.2v1.2h-1.2zM399.4 110.7h1.2v1.2h-1.2zM405.5 119.8h1.2v1.2h-1.2zM398.1 115.4h1.2v1.2h-1.2zM404.4 103.2h1.2v1.2h-1.2zM404.3 115.8h1.2v1.2h-1.2zM399.5 114.9h1.2v1.2h-1.2zM401.4 117.2h1.2v1.2h-1.2zM402.5 120.0h1.2v1.2h-1.2zM397.9 104.6h1.2v1.2h-1.2zM399.0 118.3h1.2v1.2h-1.2zM403.2 119.0h1.2v1.2h-1.2zM400.4 114.8h1.2v1.2h-1.2zM402.6 118.1h1.2v1.2h-1.2zM404.9 118.6h1.2v1.2h-1.2zM401.2 119.5h1.2v1.2h-1.2zM402.7 114.1h1.2v1.2h-1.2zM399.9 104.5h1.2v1.2h-1.2zM404.4 112.6h1.2v1.2h-1.2zM406.0 118.5h1.2v1.2h-1.2zM401.3 118.9h1.2v1.2h-1.2zM403.9 104.2h1.2v1.2h-1.2zM397.0 116.0h1.2v1.2h-1.2zM399.0 117.9h1.2v1.2h-1.2zM398.7 112.0h1.2v1.2h-1.2zM407.2 94.3h1.2v1.2h-1.2zM400.0 117.3h1.2v1.2h-1.2zM404.7 113.5h1.2v1.2h-1.2zM405.3 118.5h1.2v1.2h-1.2zM401.3 114.7h1.2v1.2h-1.2zM405.6 109.6h1.2v1.2h-1.2zM404.1 112.4h1.2v1.2h-1.2zM398.3 117.1h1.2v1.2h-1.2zM406.1 114.1h1.2v1.2h-1.2zM406.3 119.6h1.2v1.2h-1.2zM407.3 118.5h1.2v1.2h-1.2zM404.2 113.3h1.2v1.2h-1.2zM398.8 117.1h1.2v1.2h-1.2zM396.5 118.7h1.2v1.2h-1.2zM399.7 101.7h1.2v1.2h-1.2zM399.7 116.9h1.2v1.2h-1.2zM399.4 101.0h1.2v1.2h-1.2zM398.6 118.0h1.2v1.2h-1.2zM398.5 94.7h1.2v1.2h-1.2zM399.2 120.0h1.2v1.2h-1.2zM405.1 109.6h1.2v1.2h-1.2zM398.5 108.8h1.2v1.2h-1.2zM400.3 117.0h1.2v1.2h-1.2zM404.9 115.6h1.2v1.2h-1.2zM401.4 116.9h1.2v1.2h-1.2zM401.8 119.3h1.2v1.2h-1.2zM399.0 108.3h1.2v1.2h-1.2zM401.0 117.5h1.2v1.2h-1.2zM399.6 116.6h1.2v1.2h-1.2zM404.6 116.3h1.2v1.2h-1.2zM401.4 110.3h1.2v1.2h-1.2zM406.6 92.2h1.2v1.2h-1.2zM398.8 118.7h1.2v1.2h-1.2zM407.3 107.6h1.2v1.2h-1.2zM399.1 115.7h1.2v1.2h-1.2zM404.2 114.1h1.2v1.2h-1.2zM398.6 115.9h1.2v1.2h-1.2zM397.4 118.8h1.2v1.2h-1.2zM401.6 116.1h1.2v1.2h-1.2zM406.6 114.8h1.2v1.2h-1.2zM405.6 95.0h1.2v1.2h-1.2zM401.8 119.5h1.2v1.2h-1.2zM396.7 117.8h1.2v1.2h-1.2zM398.6 113.6h1.2v1.2h-1.2zM396.3 118.3h1.2v1.2h-1.2zM397.8 116.9h1.2v1.2h-1.2zM400.6 106.0h1.2v1.2h-1.2zM397.6 119.8h1.2v1.2h-1.2zM397.7 117.5h1.2v1.2h-1.2zM404.2 102.7h1.2v1.2h-1.2zM402.2 110.8h1.2v1.2h-1.2zM407.5 116.0h1.2v1.2h-1.2zM399.6 116.7h1.2v1.2h-1.2zM404.0 118.0h1.2v1.2h-1.2zM402.4 117.9h1.2v1.2h-1.2zM404.8 112.9h1.2v1.2h-1.2zM401.7 120.0h1.2v1.2h-1.2zM401.1 115.2h1.2v1.2h-1.2zM398.4 113.0h1.2v1.2h-1.2zM397.3 115.3h1.2v1.2h-1.2zM402.0 118.6h1.2v1.2h-1.2zM399.8 111.6h1.2v1.2h-1.2zM400.6 117.2h1.2v1.2h-1.2zM406.0 114.5h1.2v1.2h-1.2zM406.9 113.7h1.2v1.2h-1.2zM397.4 120.1h1.2v1.2h-1.2zM402.5 118.0h1.2v1.2h-1.2zM398.1 116.4h1.2v1.2h-1.2zM403.0 118.3h1.2v1.2h-1.2zM405.0 117.6h1.2v1.2h-1.2zM401.1 118.2h1.2v1.2h-1.2zM403.1 116.6h1.2v1.2h-1.2zM399.3 107.2h1.2v1.2h-1.2zM401.9 97.9h1.2v1.2h-1.2zM406.4 119.8h1.2v1.2h-1.2zM399.3 106.6h1.2v1.2h-1.2zM401.7 117.2h1.2v1.2h-1.2zM397.3 95.4h1.2v1.2h-1.2zM401.4 119.4h1.2v1.2h-1.2zM399.0 113.9h1.2v1.2h-1.2zM398.1 115.8h1.2v1.2h-1.2zM398.3 105.8h1.2v1.2h-1.2zM402.3 109.5h1.2v1.2h-1.2zM399.5 115.8h1.2v1.2h-1.2zM404.5 117.0h1.2v1.2h-1.2zM400.7 100.9h1.2v1.2h-1.2zM403.2 108.4h1.2v1.2h-1.2zM398.2 110.0h1.2v1.2h-1.2zM399.7 112.3h1.2v1.2h-1.2zM400.6 119.3h1.2v1.2h-1.2zM407.7 116.9h1.2v1.2h-1.2zM400.5 109.4h1.2v1.2h-1.2zM401.7 110.8h1.2v1.2h-1.2zM402.0 115.6h1.2v1.2h-1.2zM400.3 103.2h1.2v1.2h-1.2zM399.3 113.8h1.2v1.2h-1.2zM400.6 115.5h1.2v1.2h-1.2zM400.8 111.8h1.2v1.2h-1.2zM397.0 117.4h1.2v1.2h-1.2zM401.6 116.4h1.2v1.2h-1.2zM406.0 118.5h1.2v1.2h-1.2zM400.0 119.5h1.2v1.2h-1.2zM398.6 117.2h1.2v1.2h-1.2zM401.7 102.5h1.2v1.2h-1.2zM396.6 118.5h1.2v1.2h-1.2zM396.7 119.0h1.2v1.2h-1.2zM405.2 117.0h1.2v1.2h-1.2zM402.2 117.1h1.2v1.2h-1.2zM400.5 120.0h1.2v1.2h-1.2zM406.2 113.5h1.2v1.2h-1.2zM399.8 116.3h1.2v1.2h-1.2zM397.3 119.6h1.2v1.2h-1.2zM402.5 119.5h1.2v1.2h-1.2zM400.9 113.9h1.2v1.2h-1.2zM405.4 117.7h1.2v1.2h-1.2zM401.9 108.2h1.2v1.2h-1.2zM398.8 110.4h1.2v1.2h-1.2zM404.4 116.0h1.2v1.2h-1.2zM404.1 117.0h1.2v1.2h-1.2zM401.3 111.8h1.2v1.2h-1.2zM400.0 112.2h1.2v1.2h-1.2zM404.3 117.4h1.2v1.2h-1.2zM405.4 115.7h1.2v1.2h-1.2zM401.3 105.5h1.2v1.2h-1.2zM405.0 113.6h1.2v1.2h-1.2zM399.1 111.9h1.2v1.2h-1.2zM402.8 96.3h1.2v1.2h-1.2zM398.0 91.2h1.3v1.3h-1.3z" fill="#f0963b"/>
<rect x="411.3" y="120.1" width="10.9" height="49.1" fill="#bebebe"/>
<path d="M418.3 118.9h1.2v1.2h-1.2zM412.3 112.3h1.2v1.2h-1.2zM413.7 115.7h1.2v1.2h-1.2zM417.2 117.8h1.2v1.2h-1.2zM420.0 119.2h1.2v1.2h-1.2zM419.1 110.8h1.2v1.2h-1.2zM419.0 114.5h1.2v1.2h-1.2zM415.7 117.8h1.2v1.2h-1.2zM420.3 102.4h1.2v1.2h-1.2zM418.9 101.0h1.2v1.2h-1.2zM412.9 119.4h1.2v1.2h-1.2zM420.2 117.2h1.2v1.2h-1.2zM415.1 110.7h1.2v1.2h-1.2zM412.5 100.4h1.2v1.2h-1.2zM416.0 119.2h1.2v1.2h-1.2zM415.5 100.3h1.2v1.2h-1.2zM419.7 107.2h1.2v1.2h-1.2zM414.8 115.1h1.2v1.2h-1.2zM414.1 114.3h1.2v1.2h-1.2zM419.2 112.9h1.2v1.2h-1.2zM420.9 116.5h1.2v1.2h-1.2zM412.1 119.2h1.2v1.2h-1.2zM415.7 117.7h1.2v1.2h-1.2zM415.9 111.1h1.2v1.2h-1.2zM414.8 113.5h1.2v1.2h-1.2zM414.6 116.1h1.2v1.2h-1.2zM415.2 114.7h1.2v1.2h-1.2zM418.8 113.3h1.2v1.2h-1.2zM411.3 112.9h1.2v1.2h-1.2zM420.9 119.2h1.2v1.2h-1.2zM412.6 108.5h1.2v1.2h-1.2zM416.1 92.1h1.2v1.2h-1.2zM412.2 118.4h1.2v1.2h-1.2zM415.8 115.0h1.2v1.2h-1.2zM413.7 117.4h1.2v1.2h-1.2zM411.5 119.0h1.2v1.2h-1.2zM411.3 109.5h1.2v1.2h-1.2zM418.3 118.6h1.2v1.2h-1.2zM418.3 119.2h1.2v1.2h-1.2zM419.3 118.9h1.2v1.2h-1.2zM418.6 118.6h1.2v1.2h-1.2zM413.3 113.4h1.2v1.2h-1.2zM411.9 118.0h1.2v1.2h-1.2zM414.7 119.4h1.2v1.2h-1.2zM413.9 99.8h1.2v1.2h-1.2zM413.2 107.8h1.2v1.2h-1.2zM414.1 109.0h1.2v1.2h-1.2zM418.3 119.5h1.2v1.2h-1.2zM418.9 113.4h1.2v1.2h-1.2zM411.6 113.3h1.2v1.2h-1.2zM413.5 116.9h1.2v1.2h-1.2zM415.4 105.2h1.2v1.2h-1.2zM412.8 116.4h1.2v1.2h-1.2zM413.3 98.1h1.2v1.2h-1.2zM417.1 119.4h1.2v1.2h-1.2zM418.9 117.5h1.2v1.2h-1.2zM414.2 116.4h1.2v1.2h-1.2zM417.6 117.5h1.2v1.2h-1.2zM416.2 118.4h1.2v1.2h-1.2zM413.0 112.0h1.2v1.2h-1.2zM417.0 104.3h1.2v1.2h-1.2zM415.3 114.9h1.2v1.2h-1.2zM419.0 114.2h1.2v1.2h-1.2zM414.2 118.1h1.2v1.2h-1.2zM412.6 116.9h1.2v1.2h-1.2zM413.6 118.0h1.2v1.2h-1.2zM418.4 103.6h1.2v1.2h-1.2zM413.5 118.4h1.2v1.2h-1.2zM413.2 118.8h1.2v1.2h-1.2zM414.1 117.9h1.2v1.2h-1.2zM419.4 115.0h1.2v1.2h-1.2zM414.0 114.4h1.2v1.2h-1.2zM413.1 96.4h1.2v1.2h-1.2zM415.3 116.2h1.2v1.2h-1.2zM413.2 109.4h1.2v1.2h-1.2zM419.4 119.4h1.2v1.2h-1.2zM420.2 114.7h1.2v1.2h-1.2zM413.2 111.7h1.2v1.2h-1.2zM413.7 117.5h1.2v1.2h-1.2zM413.9 105.8h1.2v1.2h-1.2zM411.4 108.0h1.2v1.2h-1.2zM415.3 103.4h1.2v1.2h-1.2zM419.8 88.8h1.2v1.2h-1.2zM413.9 111.4h1.2v1.2h-1.2zM416.2 118.8h1.2v1.2h-1.2zM418.5 118.9h1.2v1.2h-1.2zM415.0 115.9h1.2v1.2h-1.2zM412.7 118.0h1.2v1.2h-1.2zM413.2 115.8h1.2v1.2h-1.2zM418.5 114.5h1.2v1.2h-1.2zM415.4 102.2h1.2v1.2h-1.2zM412.3 119.2h1.2v1.2h-1.2zM419.6 118.0h1.2v1.2h-1.2zM412.3 112.5h1.2v1.2h-1.2zM412.6 116.1h1.2v1.2h-1.2zM417.8 114.2h1.2v1.2h-1.2zM414.4 117.4h1.2v1.2h-1.2zM419.5 105.3h1.2v1.2h-1.2zM415.7 118.5h1.2v1.2h-1.2zM413.4 119.2h1.2v1.2h-1.2zM413.4 113.1h1.2v1.2h-1.2zM420.3 109.2h1.2v1.2h-1.2zM419.9 117.1h1.2v1.2h-1.2zM413.5 103.9h1.2v1.2h-1.2zM420.0 118.8h1.2v1.2h-1.2zM411.9 96.4h1.2v1.2h-1.2zM413.0 118.9h1.2v1.2h-1.2zM417.9 118.8h1.2v1.2h-1.2zM414.3 117.7h1.2v1.2h-1.2zM413.0 117.5h1.2v1.2h-1.2zM413.8 118.9h1.2v1.2h-1.2zM415.6 115.9h1.2v1.2h-1.2zM414.7 115.4h1.2v1.2h-1.2zM411.4 118.1h1.2v1.2h-1.2zM417.4 116.7h1.2v1.2h-1.2zM417.5 111.0h1.2v1.2h-1.2zM419.1 118.8h1.2v1.2h-1.2zM412.4 110.1h1.2v1.2h-1.2zM419.3 105.5h1.2v1.2h-1.2zM415.3 115.4h1.2v1.2h-1.2zM420.5 112.6h1.2v1.2h-1.2zM419.4 115.7h1.2v1.2h-1.2zM421.0 119.3h1.2v1.2h-1.2zM412.3 111.0h1.2v1.2h-1.2zM411.8 103.1h1.2v1.2h-1.2zM415.8 116.7h1.2v1.2h-1.2zM414.3 115.4h1.2v1.2h-1.2zM415.3 113.2h1.2v1.2h-1.2zM413.9 117.3h1.2v1.2h-1.2zM415.0 112.0h1.2v1.2h-1.2zM416.6 119.4h1.2v1.2h-1.2zM415.5 111.9h1.2v1.2h-1.2zM414.6 116.4h1.2v1.2h-1.2zM418.8 97.8h1.2v1.2h-1.2zM412.4 112.7h1.2v1.2h-1.2zM415.7 97.5h1.2v1.2h-1.2zM416.4 100.4h1.2v1.2h-1.2zM414.6 94.0h1.2v1.2h-1.2zM412.9 109.5h1.2v1.2h-1.2zM412.4 96.3h1.2v1.2h-1.2zM411.3 113.8h1.2v1.2h-1.2zM411.6 96.9h1.2v1.2h-1.2zM418.7 109.0h1.2v1.2h-1.2zM416.4 116.6h1.2v1.2h-1.2zM417.9 113.5h1.2v1.2h-1.2zM413.6 99.8h1.2v1.2h-1.2zM420.9 111.4h1.2v1.2h-1.2zM413.3 117.1h1.2v1.2h-1.2zM415.0 118.4h1.2v1.2h-1.2zM413.5 115.6h1.2v1.2h-1.2zM414.1 117.8h1.2v1.2h-1.2zM416.1 119.4h1.2v1.2h-1.2zM416.7 114.5h1.2v1.2h-1.2zM416.9 113.3h1.2v1.2h-1.2zM414.5 114.2h1.2v1.2h-1.2zM414.2 115.9h1.2v1.2h-1.2zM414.8 105.0h1.2v1.2h-1.2zM411.3 102.3h1.2v1.2h-1.2zM419.8 108.6h1.2v1.2h-1.2zM415.8 117.3h1.2v1.2h-1.2zM412.0 107.3h1.2v1.2h-1.2zM419.0 117.9h1.2v1.2h-1.2zM415.8 109.4h1.2v1.2h-1.2zM414.0 112.1h1.2v1.2h-1.2zM416.1 118.9h1.2v1.2h-1.2zM420.1 110.6h1.2v1.2h-1.2zM416.7 118.9h1.2v1.2h-1.2zM413.6 115.9h1.2v1.2h-1.2zM418.0 115.0h1.2v1.2h-1.2zM411.4 118.5h1.2v1.2h-1.2zM411.7 111.1h1.2v1.2h-1.2zM416.6 111.1h1.2v1.2h-1.2zM415.6 111.7h1.2v1.2h-1.2zM414.4 108.4h1.2v1.2h-1.2zM412.4 118.4h1.2v1.2h-1.2zM417.1 112.9h1.2v1.2h-1.2zM414.3 102.3h1.2v1.2h-1.2zM414.1 117.8h1.2v1.2h-1.2zM411.4 118.4h1.2v1.2h-1.2zM415.9 108.2h1.2v1.2h-1.2zM415.2 108.8h1.2v1.2h-1.2zM414.2 116.9h1.2v1.2h-1.2zM411.7 106.9h1.2v1.2h-1.2zM411.5 117.5h1.2v1.2h-1.2zM413.6 113.2h1.2v1.2h-1.2zM411.6 118.4h1.2v1.2h-1.2zM420.8 111.6h1.2v1.2h-1.2zM413.8 110.3h1.2v1.2h-1.2zM413.9 115.8h1.2v1.2h-1.2zM418.3 105.7h1.2v1.2h-1.2zM417.8 102.0h1.2v1.2h-1.2zM414.3 94.5h1.2v1.2h-1.2zM413.9 95.2h1.2v1.2h-1.2zM413.8 117.9h1.2v1.2h-1.2zM420.4 118.2h1.2v1.2h-1.2zM415.9 118.9h1.2v1.2h-1.2zM413.8 112.9h1.2v1.2h-1.2zM411.3 109.2h1.2v1.2h-1.2zM420.6 110.0h1.2v1.2h-1.2zM418.7 116.3h1.2v1.2h-1.2zM417.8 110.2h1.2v1.2h-1.2zM417.4 118.2h1.2v1.2h-1.2zM411.7 106.8h1.2v1.2h-1.2zM411.4 108.1h1.2v1.2h-1.2zM418.6 115.3h1.2v1.2h-1.2zM415.3 118.6h1.2v1.2h-1.2zM418.5 113.2h1.2v1.2h-1.2zM411.8 117.2h1.2v1.2h-1.2zM419.0 108.5h1.2v1.2h-1.2zM417.4 116.2h1.2v1.2h-1.2zM414.3 118.9h1.2v1.2h-1.2zM411.7 111.7h1.2v1.2h-1.2zM414.0 115.2h1.2v1.2h-1.2zM416.7 119.4h1.2v1.2h-1.2zM412.6 115.1h1.2v1.2h-1.2zM417.0 117.4h1.2v1.2h-1.2zM418.8 114.6h1.2v1.2h-1.2zM418.1 108.6h1.2v1.2h-1.2zM417.9 105.4h1.2v1.2h-1.2zM414.9 101.1h1.2v1.2h-1.2zM418.0 118.3h1.2v1.2h-1.2zM412.1 114.1h1.2v1.2h-1.2zM419.1 109.2h1.2v1.2h-1.2zM419.7 110.3h1.2v1.2h-1.2zM413.1 115.4h1.2v1.2h-1.2zM419.9 116.7h1.2v1.2h-1.2zM416.7 112.9h1.2v1.2h-1.2zM417.1 113.4h1.2v1.2h-1.2zM413.2 118.9h1.2v1.2h-1.2zM413.4 117.5h1.2v1.2h-1.2zM415.3 112.0h1.2v1.2h-1.2zM418.5 93.7h1.2v1.2h-1.2zM419.3 108.9h1.2v1.2h-1.2zM415.3 119.2h1.2v1.2h-1.2zM411.3 109.6h1.2v1.2h-1.2zM420.5 109.5h1.2v1.2h-1.2zM411.8 112.4h1.2v1.2h-1.2zM420.1 118.8h1.2v1.2h-1.2zM412.8 108.2h1.2v1.2h-1.2zM414.5 119.4h1.2v1.2h-1.2zM412.9 108.6h1.2v1.2h-1.2zM414.7 101.9h1.2v1.2h-1.2zM413.3 118.9h1.2v1.2h-1.2zM420.7 116.3h1.2v1.2h-1.2zM420.2 116.9h1.2v1.2h-1.2zM416.3 104.5h1.2v1.2h-1.2zM413.6 106.9h1.2v1.2h-1.2zM418.0 116.4h1.2v1.2h-1.2zM418.9 116.3h1.2v1.2h-1.2zM411.3 117.8h1.2v1.2h-1.2zM415.7 119.1h1.2v1.2h-1.2zM418.3 113.0h1.2v1.2h-1.2zM417.8 108.0h1.2v1.2h-1.2zM416.1 118.2h1.2v1.2h-1.2zM419.5 112.0h1.2v1.2h-1.2zM418.2 110.4h1.2v1.2h-1.2zM418.8 108.0h1.2v1.2h-1.2zM416.3 118.2h1.2v1.2h-1.2zM416.2 118.0h1.2v1.2h-1.2zM413.5 118.8h1.2v1.2h-1.2zM414.2 117.0h1.2v1.2h-1.2zM414.3 114.1h1.2v1.2h-1.2zM418.3 115.2h1.2v1.2h-1.2zM419.5 118.2h1.2v1.2h-1.2zM412.1 117.3h1.2v1.2h-1.2zM413.4 113.5h1.2v1.2h-1.2zM411.3 119.5h1.2v1.2h-1.2zM412.7 108.5h1.2v1.2h-1.2zM417.8 113.9h1.2v1.2h-1.2zM420.5 102.6h1.2v1.2h-1.2zM412.4 118.3h1.2v1.2h-1.2zM415.6 113.2h1.2v1.2h-1.2zM418.7 115.2h1.2v1.2h-1.2zM418.7 112.7h1.2v1.2h-1.2zM414.4 116.4h1.2v1.2h-1.2zM417.7 90.9h1.2v1.2h-1.2zM415.5 116.2h1.2v1.2h-1.2zM419.6 118.0h1.2v1.2h-1.2zM411.8 113.2h1.2v1.2h-1.2zM418.2 117.0h1.2v1.2h-1.2zM413.3 108.9h1.2v1.2h-1.2zM417.9 117.9h1.2v1.2h-1.2zM414.4 105.2h1.2v1.2h-1.2zM411.9 102.7h1.2v1.2h-1.2zM414.0 118.6h1.2v1.2h-1.2zM414.0 116.3h1.2v1.2h-1.2zM420.5 105.0h1.2v1.2h-1.2zM411.3 99.3h1.2v1.2h-1.2zM411.7 114.8h1.2v1.2h-1.2zM415.3 113.6h1.2v1.2h-1.2zM415.6 116.7h1.2v1.2h-1.2zM415.0 112.4h1.2v1.2h-1.2zM413.3 119.1h1.2v1.2h-1.2zM419.5 111.8h1.2v1.2h-1.2zM412.9 117.8h1.2v1.2h-1.2zM411.3 112.7h1.2v1.2h-1.2zM411.9 114.6h1.2v1.2h-1.2zM413.5 112.1h1.2v1.2h-1.2zM416.3 108.1h1.2v1.2h-1.2zM418.2 98.0h1.2v1.2h-1.2zM414.8 109.0h1.2v1.2h-1.2zM414.2 118.6h1.2v1.2h-1.2zM419.2 114.3h1.2v1.2h-1.2zM415.8 119.2h1.2v1.2h-1.2zM412.9 112.5h1.2v1.2h-1.2zM417.5 116.1h1.2v1.2h-1.2zM412.6 118.8h1.2v1.2h-1.2zM412.8 115.8h1.2v1.2h-1.2zM415.4 98.8h1.2v1.2h-1.2zM413.9 114.8h1.2v1.2h-1.2zM418.9 113.3h1.2v1.2h-1.2zM414.0 107.4h1.2v1.2h-1.2zM417.8 118.7h1.2v1.2h-1.2zM419.4 115.0h1.2v1.2h-1.2zM419.5 114.9h1.2v1.2h-1.2zM412.0 117.1h1.2v1.2h-1.2zM419.3 118.2h1.2v1.2h-1.2zM412.2 96.7h1.2v1.2h-1.2zM418.4 114.2h1.2v1.2h-1.2zM416.0 116.4h1.2v1.2h-1.2zM420.3 118.8h1.2v1.2h-1.2zM417.7 110.6h1.2v1.2h-1.2zM419.0 115.7h1.2v1.2h-1.2zM413.5 103.0h1.2v1.2h-1.2zM417.7 119.3h1.2v1.2h-1.2zM416.0 111.9h1.2v1.2h-1.2zM413.4 118.2h1.2v1.2h-1.2zM420.4 113.5h1.2v1.2h-1.2zM413.9 118.1h1.2v1.2h-1.2zM419.1 117.4h1.2v1.2h-1.2zM417.4 118.3h1.2v1.2h-1.2zM419.4 117.0h1.2v1.2h-1.2zM416.3 114.7h1.2v1.2h-1.2zM411.5 114.0h1.2v1.2h-1.2zM419.8 97.6h1.2v1.2h-1.2zM415.2 114.2h1.2v1.2h-1.2zM413.4 75.6h1.3v1.3h-1.3z" fill="#bebebe"/>
<rect x="424.6" y="118.3" width="8.8" height="50.9" fill="#e3372b"/>
<path d="M428.5 117.2h1.2v1.2h-1.2zM428.3 117.3h1.2v1.2h-1.2zM427.2 116.6h1.2v1.2h-1.2zM427.1 117.3h1.2v1.2h-1.2zM428.8 115.4h1.2v1.2h-1.2zM429.2 108.9h1.2v1.2h-1.2zM428.7 115.2h1.2v1.2h-1.2zM426.0 110.0h1.2v1.2h-1.2zM425.1 112.4h1.2v1.2h-1.2zM427.9 109.4h1.2v1.2h-1.2zM429.4 104.6h1.2v1.2h-1.2zM429.6 108.3h1.2v1.2h-1.2zM426.1 112.4h1.2v1.2h-1.2zM432.2 109.8h1.2v1.2h-1.2zM430.7 104.7h1.2v1.2h-1.2zM429.1 115.9h1.2v1.2h-1.2zM426.5 113.8h1.2v1.2h-1.2zM428.8 117.5h1.2v1.2h-1.2zM431.9 116.6h1.2v1.2h-1.2zM431.7 114.2h1.2v1.2h-1.2zM431.4 110.7h1.2v1.2h-1.2zM429.8 114.3h1.2v1.2h-1.2zM426.4 115.2h1.2v1.2h-1.2zM426.0 116.8h1.2v1.2h-1.2zM427.0 111.7h1.2v1.2h-1.2zM427.7 106.3h1.2v1.2h-1.2zM429.6 116.9h1.2v1.2h-1.2zM430.0 116.7h1.2v1.2h-1.2zM425.5 116.6h1.2v1.2h-1.2zM432.0 109.4h1.2v1.2h-1.2zM426.4 113.3h1.2v1.2h-1.2zM429.1 115.9h1.2v1.2h-1.2zM428.9 111.5h1.2v1.2h-1.2zM430.5 112.7h1.2v1.2h-1.2zM424.8 117.1h1.2v1.2h-1.2zM428.0 113.0h1.2v1.2h-1.2zM431.4 110.2h1.2v1.2h-1.2zM425.2 115.0h1.2v1.2h-1.2zM424.8 117.4h1.2v1.2h-1.2zM426.1 97.0h1.2v1.2h-1.2zM430.2 117.5h1.2v1.2h-1.2zM431.7 102.8h1.2v1.2h-1.2zM426.1 114.9h1.2v1.2h-1.2zM426.0 117.5h1.2v1.2h-1.2zM429.2 115.7h1.2v1.2h-1.2zM431.1 115.3h1.2v1.2h-1.2zM429.4 115.5h1.2v1.2h-1.2zM430.2 116.4h1.2v1.2h-1.2zM429.9 113.6h1.2v1.2h-1.2zM426.7 116.7h1.2v1.2h-1.2zM426.0 115.4h1.2v1.2h-1.2zM426.2 117.3h1.2v1.2h-1.2zM424.8 116.5h1.2v1.2h-1.2zM425.0 113.3h1.2v1.2h-1.2zM428.7 114.0h1.2v1.2h-1.2zM425.4 107.2h1.2v1.2h-1.2zM425.4 111.1h1.2v1.2h-1.2zM428.9 115.4h1.2v1.2h-1.2zM426.4 105.2h1.2v1.2h-1.2zM425.4 115.1h1.2v1.2h-1.2zM429.6 109.9h1.2v1.2h-1.2zM432.0 117.4h1.2v1.2h-1.2zM429.4 111.9h1.2v1.2h-1.2zM427.6 112.0h1.2v1.2h-1.2zM425.7 109.4h1.2v1.2h-1.2zM424.9 110.9h1.2v1.2h-1.2zM427.3 107.2h1.2v1.2h-1.2zM425.9 109.9h1.2v1.2h-1.2zM427.8 114.7h1.2v1.2h-1.2zM428.0 111.2h1.2v1.2h-1.2zM429.9 106.0h1.2v1.2h-1.2zM428.6 114.5h1.2v1.2h-1.2zM429.6 116.7h1.2v1.2h-1.2zM425.7 114.5h1.2v1.2h-1.2zM430.8 116.8h1.2v1.2h-1.2zM427.5 114.6h1.2v1.2h-1.2zM427.7 108.3h1.2v1.2h-1.2zM428.5 115.1h1.2v1.2h-1.2zM426.1 111.3h1.2v1.2h-1.2zM429.2 111.3h1.2v1.2h-1.2zM427.7 117.3h1.2v1.2h-1.2zM428.2 113.8h1.2v1.2h-1.2zM428.7 111.2h1.2v1.2h-1.2zM425.4 109.7h1.2v1.2h-1.2zM425.2 113.2h1.2v1.2h-1.2zM426.0 108.9h1.2v1.2h-1.2zM427.1 114.1h1.2v1.2h-1.2zM431.0 109.5h1.2v1.2h-1.2zM428.5 101.9h1.2v1.2h-1.2zM430.2 117.6h1.2v1.2h-1.2zM429.4 117.5h1.2v1.2h-1.2zM424.9 116.2h1.2v1.2h-1.2zM426.5 115.0h1.2v1.2h-1.2zM430.3 115.0h1.2v1.2h-1.2zM430.0 108.3h1.2v1.2h-1.2zM431.7 111.2h1.2v1.2h-1.2zM428.6 115.7h1.2v1.2h-1.2zM425.7 117.1h1.2v1.2h-1.2zM428.9 107.3h1.2v1.2h-1.2zM429.1 117.1h1.2v1.2h-1.2zM429.5 115.6h1.2v1.2h-1.2zM430.7 116.1h1.2v1.2h-1.2zM431.8 103.9h1.2v1.2h-1.2zM425.5 116.8h1.2v1.2h-1.2zM429.1 117.6h1.2v1.2h-1.2zM430.8 114.4h1.2v1.2h-1.2zM429.1 111.9h1.2v1.2h-1.2zM429.0 117.5h1.2v1.2h-1.2zM425.3 117.4h1.2v1.2h-1.2zM429.8 113.2h1.2v1.2h-1.2zM425.9 116.6h1.2v1.2h-1.2zM428.2 109.5h1.2v1.2h-1.2zM428.6 117.6h1.2v1.2h-1.2zM425.2 112.0h1.2v1.2h-1.2zM429.2 113.5h1.2v1.2h-1.2zM427.1 115.9h1.2v1.2h-1.2zM429.5 111.1h1.2v1.2h-1.2zM426.3 113.5h1.2v1.2h-1.2zM428.9 117.5h1.2v1.2h-1.2zM425.5 116.3h1.2v1.2h-1.2zM428.0 115.2h1.2v1.2h-1.2zM430.8 107.2h1.2v1.2h-1.2zM428.9 114.6h1.2v1.2h-1.2zM426.6 103.6h1.2v1.2h-1.2zM427.3 116.5h1.2v1.2h-1.2zM428.6 111.4h1.2v1.2h-1.2zM427.9 103.7h1.2v1.2h-1.2zM430.1 117.1h1.2v1.2h-1.2zM427.8 115.7h1.2v1.2h-1.2zM425.6 110.1h1.2v1.2h-1.2zM426.2 117.1h1.2v1.2h-1.2zM430.0 112.5h1.2v1.2h-1.2zM426.3 105.5h1.2v1.2h-1.2zM430.1 115.0h1.2v1.2h-1.2zM425.2 112.6h1.2v1.2h-1.2zM426.8 117.5h1.2v1.2h-1.2zM428.6 114.7h1.2v1.2h-1.2zM428.3 112.6h1.2v1.2h-1.2zM427.5 117.4h1.2v1.2h-1.2zM426.3 117.2h1.2v1.2h-1.2zM426.4 111.2h1.2v1.2h-1.2zM428.7 109.9h1.2v1.2h-1.2zM428.6 114.6h1.2v1.2h-1.2zM430.9 117.1h1.2v1.2h-1.2zM429.9 117.1h1.2v1.2h-1.2zM429.4 113.1h1.2v1.2h-1.2zM425.7 110.5h1.2v1.2h-1.2zM429.9 112.3h1.2v1.2h-1.2zM429.9 113.6h1.2v1.2h-1.2zM431.1 114.6h1.2v1.2h-1.2zM428.0 115.2h1.2v1.2h-1.2zM426.2 110.2h1.2v1.2h-1.2zM425.2 99.5h1.2v1.2h-1.2zM430.1 110.2h1.2v1.2h-1.2zM430.3 112.9h1.2v1.2h-1.2zM432.1 116.0h1.2v1.2h-1.2zM427.6 117.4h1.2v1.2h-1.2zM431.1 116.3h1.2v1.2h-1.2zM426.3 110.8h1.2v1.2h-1.2zM425.9 115.0h1.2v1.2h-1.2zM427.5 113.9h1.2v1.2h-1.2zM429.6 114.6h1.2v1.2h-1.2zM430.2 117.0h1.2v1.2h-1.2zM431.9 115.6h1.2v1.2h-1.2zM430.5 112.2h1.2v1.2h-1.2zM426.2 115.0h1.2v1.2h-1.2zM428.6 117.4h1.2v1.2h-1.2zM428.7 117.2h1.2v1.2h-1.2zM428.2 110.0h1.2v1.2h-1.2zM428.2 101.7h1.2v1.2h-1.2zM429.6 117.0h1.2v1.2h-1.2zM430.9 116.2h1.2v1.2h-1.2zM426.9 115.5h1.2v1.2h-1.2zM430.2 115.1h1.2v1.2h-1.2zM424.6 89.3h1.3v1.3h-1.3zM426.3 94.2h1.3v1.3h-1.3z" fill="#e3372b"/>
<rect x="435.5" y="110.7" width="10.8" height="58.5" fill="#5ab6e6"/>
<path d="M436.9 97.1h1.2v1.2h-1.2zM439.4 107.4h1.2v1.2h-1.2zM442.7 98.7h1.2v1.2h-1.2zM440.2 108.4h1.2v1.2h-1.2zM444.0 108.5h1.2v1.2h-1.2zM437.6 102.7h1.2v1.2h-1.2zM441.9 106.5h1.2v1.2h-1.2zM438.0 103.2h1.2v1.2h-1.2zM439.4 110.0h1.2v1.2h-1.2zM441.3 109.4h1.2v1.2h-1.2zM441.4 108.7h1.2v1.2h-1.2zM438.4 109.6h1.2v1.2h-1.2zM438.8 105.1h1.2v1.2h-1.2zM440.3 109.2h1.2v1.2h-1.2zM441.9 108.1h1.2v1.2h-1.2zM438.8 108.1h1.2v1.2h-1.2zM440.9 105.8h1.2v1.2h-1.2zM440.9 107.4h1.2v1.2h-1.2zM442.0 105.6h1.2v1.2h-1.2zM438.4 96.3h1.2v1.2h-1.2zM441.5 108.3h1.2v1.2h-1.2zM439.3 106.9h1.2v1.2h-1.2zM438.0 105.8h1.2v1.2h-1.2zM444.5 106.9h1.2v1.2h-1.2zM438.0 108.9h1.2v1.2h-1.2zM436.6 109.3h1.2v1.2h-1.2zM441.2 104.5h1.2v1.2h-1.2zM440.7 103.6h1.2v1.2h-1.2zM438.1 108.7h1.2v1.2h-1.2zM441.4 109.5h1.2v1.2h-1.2zM444.5 109.5h1.2v1.2h-1.2zM440.7 106.4h1.2v1.2h-1.2zM439.3 103.1h1.2v1.2h-1.2zM439.8 101.3h1.2v1.2h-1.2zM442.9 106.2h1.2v1.2h-1.2zM444.0 105.2h1.2v1.2h-1.2zM443.0 106.0h1.2v1.2h-1.2zM436.6 101.1h1.2v1.2h-1.2zM440.4 98.1h1.2v1.2h-1.2zM440.7 108.1h1.2v1.2h-1.2zM440.7 109.5h1.2v1.2h-1.2zM437.3 98.5h1.2v1.2h-1.2zM438.7 109.7h1.2v1.2h-1.2zM438.1 108.9h1.2v1.2h-1.2zM440.9 104.8h1.2v1.2h-1.2zM443.0 108.5h1.2v1.2h-1.2zM444.7 106.7h1.2v1.2h-1.2zM444.5 109.7h1.2v1.2h-1.2zM436.0 109.2h1.2v1.2h-1.2zM444.4 109.6h1.2v1.2h-1.2zM442.6 95.4h1.2v1.2h-1.2zM442.5 105.8h1.2v1.2h-1.2zM436.3 107.7h1.2v1.2h-1.2zM439.7 109.3h1.2v1.2h-1.2zM437.9 93.7h1.2v1.2h-1.2zM443.0 108.2h1.2v1.2h-1.2zM441.0 104.2h1.2v1.2h-1.2zM439.4 109.2h1.2v1.2h-1.2zM437.3 105.7h1.2v1.2h-1.2zM436.9 101.3h1.2v1.2h-1.2zM439.1 95.0h1.2v1.2h-1.2zM438.0 96.2h1.2v1.2h-1.2zM440.0 105.4h1.2v1.2h-1.2zM439.1 109.8h1.2v1.2h-1.2zM444.2 107.5h1.2v1.2h-1.2zM443.8 105.8h1.2v1.2h-1.2zM436.7 106.1h1.2v1.2h-1.2zM440.8 108.9h1.2v1.2h-1.2zM437.6 110.0h1.2v1.2h-1.2zM441.1 90.9h1.2v1.2h-1.2zM440.9 95.4h1.2v1.2h-1.2zM437.3 109.0h1.2v1.2h-1.2zM438.1 102.2h1.2v1.2h-1.2zM438.4 103.6h1.2v1.2h-1.2zM440.8 107.0h1.2v1.2h-1.2zM440.7 108.9h1.2v1.2h-1.2zM442.4 107.2h1.2v1.2h-1.2zM438.5 108.6h1.2v1.2h-1.2zM438.8 104.8h1.2v1.2h-1.2zM435.6 108.1h1.2v1.2h-1.2zM439.4 105.4h1.2v1.2h-1.2zM443.1 106.1h1.2v1.2h-1.2zM443.0 109.8h1.2v1.2h-1.2zM443.6 108.8h1.2v1.2h-1.2zM443.8 98.2h1.2v1.2h-1.2zM443.7 109.3h1.2v1.2h-1.2zM435.8 109.7h1.2v1.2h-1.2zM444.6 106.6h1.2v1.2h-1.2zM437.7 107.4h1.2v1.2h-1.2zM438.8 106.9h1.2v1.2h-1.2zM439.0 97.5h1.2v1.2h-1.2zM440.1 106.0h1.2v1.2h-1.2zM438.7 101.1h1.2v1.2h-1.2zM436.7 109.5h1.2v1.2h-1.2zM439.2 109.7h1.2v1.2h-1.2zM435.5 106.8h1.2v1.2h-1.2zM436.2 109.1h1.2v1.2h-1.2zM437.9 105.7h1.2v1.2h-1.2zM439.5 106.9h1.2v1.2h-1.2zM439.3 103.5h1.2v1.2h-1.2zM439.5 109.7h1.2v1.2h-1.2zM439.4 108.3h1.2v1.2h-1.2zM442.2 108.1h1.2v1.2h-1.2zM437.3 106.6h1.2v1.2h-1.2zM444.6 109.5h1.2v1.2h-1.2zM435.7 107.3h1.2v1.2h-1.2zM440.7 106.5h1.2v1.2h-1.2zM440.8 109.3h1.2v1.2h-1.2zM439.7 101.2h1.2v1.2h-1.2zM442.3 109.8h1.2v1.2h-1.2zM444.5 102.5h1.2v1.2h-1.2zM444.4 104.6h1.2v1.2h-1.2zM438.8 108.6h1.2v1.2h-1.2zM438.8 101.8h1.2v1.2h-1.2zM441.6 101.0h1.2v1.2h-1.2zM440.5 107.1h1.2v1.2h-1.2zM441.5 106.8h1.2v1.2h-1.2zM440.7 107.4h1.2v1.2h-1.2zM444.6 108.0h1.2v1.2h-1.2zM444.4 106.8h1.2v1.2h-1.2zM441.2 106.9h1.2v1.2h-1.2zM443.7 108.4h1.2v1.2h-1.2zM442.3 105.2h1.2v1.2h-1.2zM440.4 108.0h1.2v1.2h-1.2zM437.2 104.3h1.2v1.2h-1.2zM439.8 97.4h1.2v1.2h-1.2zM439.6 92.2h1.2v1.2h-1.2zM439.6 106.9h1.2v1.2h-1.2zM444.4 109.5h1.2v1.2h-1.2zM438.7 108.6h1.2v1.2h-1.2zM440.3 106.3h1.2v1.2h-1.2zM444.7 109.4h1.2v1.2h-1.2zM441.2 106.0h1.2v1.2h-1.2zM440.3 106.8h1.2v1.2h-1.2zM443.3 109.7h1.2v1.2h-1.2zM442.8 104.2h1.2v1.2h-1.2zM441.2 107.9h1.2v1.2h-1.2zM441.0 105.9h1.2v1.2h-1.2zM437.4 108.7h1.2v1.2h-1.2zM441.8 103.9h1.2v1.2h-1.2zM444.6 102.3h1.2v1.2h-1.2zM441.7 110.1h1.2v1.2h-1.2zM440.7 109.1h1.2v1.2h-1.2zM442.0 103.7h1.2v1.2h-1.2zM438.2 107.6h1.2v1.2h-1.2zM444.2 109.2h1.2v1.2h-1.2zM443.2 106.6h1.2v1.2h-1.2zM443.4 104.7h1.2v1.2h-1.2zM437.1 101.1h1.2v1.2h-1.2zM435.6 107.6h1.2v1.2h-1.2zM438.2 97.8h1.2v1.2h-1.2zM439.8 91.6h1.2v1.2h-1.2zM440.4 106.6h1.2v1.2h-1.2zM438.5 104.2h1.2v1.2h-1.2zM441.3 109.9h1.2v1.2h-1.2zM444.8 108.7h1.2v1.2h-1.2zM440.7 103.5h1.2v1.2h-1.2zM438.8 105.4h1.2v1.2h-1.2zM441.2 107.6h1.2v1.2h-1.2zM439.5 99.9h1.2v1.2h-1.2zM439.5 107.2h1.2v1.2h-1.2zM437.1 102.9h1.2v1.2h-1.2zM439.0 105.6h1.2v1.2h-1.2zM437.3 102.7h1.2v1.2h-1.2zM440.7 107.7h1.2v1.2h-1.2zM438.3 107.6h1.2v1.2h-1.2zM441.3 104.7h1.2v1.2h-1.2zM439.7 108.2h1.2v1.2h-1.2zM437.8 109.8h1.2v1.2h-1.2zM437.6 109.2h1.2v1.2h-1.2zM436.9 105.1h1.2v1.2h-1.2zM440.8 107.3h1.2v1.2h-1.2zM439.4 107.3h1.2v1.2h-1.2zM443.5 108.2h1.2v1.2h-1.2zM438.0 108.1h1.2v1.2h-1.2zM436.9 101.7h1.2v1.2h-1.2zM436.0 110.0h1.2v1.2h-1.2zM439.1 109.3h1.2v1.2h-1.2zM435.7 106.8h1.2v1.2h-1.2zM444.3 108.0h1.2v1.2h-1.2zM440.4 102.8h1.2v1.2h-1.2zM444.6 106.5h1.2v1.2h-1.2zM437.5 103.2h1.2v1.2h-1.2zM438.7 108.3h1.2v1.2h-1.2zM439.6 98.4h1.2v1.2h-1.2zM440.2 109.6h1.2v1.2h-1.2zM443.1 109.1h1.2v1.2h-1.2zM440.3 102.6h1.2v1.2h-1.2zM439.8 108.0h1.2v1.2h-1.2zM437.1 108.1h1.2v1.2h-1.2zM435.8 94.7h1.2v1.2h-1.2zM439.9 103.2h1.2v1.2h-1.2zM439.4 105.2h1.2v1.2h-1.2zM439.1 99.7h1.2v1.2h-1.2zM442.3 106.8h1.2v1.2h-1.2zM436.2 109.9h1.2v1.2h-1.2zM440.6 101.3h1.2v1.2h-1.2zM440.7 107.9h1.2v1.2h-1.2zM444.6 106.7h1.2v1.2h-1.2zM441.0 103.1h1.2v1.2h-1.2zM440.5 107.8h1.2v1.2h-1.2zM444.9 105.2h1.2v1.2h-1.2zM438.6 96.3h1.2v1.2h-1.2zM439.3 109.9h1.2v1.2h-1.2zM441.7 105.5h1.2v1.2h-1.2zM443.0 107.1h1.2v1.2h-1.2zM439.0 103.7h1.2v1.2h-1.2zM439.7 109.1h1.2v1.2h-1.2zM444.5 100.7h1.2v1.2h-1.2zM440.3 109.7h1.2v1.2h-1.2zM441.1 103.1h1.2v1.2h-1.2zM438.6 109.7h1.2v1.2h-1.2zM439.8 109.4h1.2v1.2h-1.2zM439.4 93.0h1.3v1.3h-1.3z" fill="#5ab6e6"/>
<path d="M275.0 97.6h1.2v1.2h-1.2zM274.7 70.1h1.2v1.2h-1.2zM275.1 85.4h1.2v1.2h-1.2zM274.5 84.2h1.2v1.2h-1.2zM274.2 88.8h1.2v1.2h-1.2zM274.7 90.5h1.2v1.2h-1.2zM273.8 97.2h1.2v1.2h-1.2zM274.7 69.0h1.2v1.2h-1.2zM274.2 96.6h1.2v1.2h-1.2zM274.6 78.4h1.2v1.2h-1.2zM274.4 99.4h1.2v1.2h-1.2zM274.0 69.4h1.2v1.2h-1.2zM274.3 86.1h1.2v1.2h-1.2zM274.9 80.2h1.2v1.2h-1.2zM275.1 77.7h1.2v1.2h-1.2zM275.4 76.7h1.2v1.2h-1.2zM274.6 99.7h1.2v1.2h-1.2zM274.5 75.1h1.2v1.2h-1.2zM274.6 95.1h1.2v1.2h-1.2zM275.7 78.6h1.2v1.2h-1.2zM273.9 83.4h1.2v1.2h-1.2zM274.7 83.6h1.2v1.2h-1.2zM274.4 83.9h1.2v1.2h-1.2zM274.4 87.4h1.2v1.2h-1.2zM274.3 82.2h1.2v1.2h-1.2zM273.9 96.6h1.2v1.2h-1.2zM274.6 75.2h1.2v1.2h-1.2zM273.8 69.3h1.2v1.2h-1.2zM275.0 74.9h1.2v1.2h-1.2zM274.6 94.1h1.2v1.2h-1.2zM273.8 83.1h1.2v1.2h-1.2zM274.7 93.3h1.2v1.2h-1.2zM274.9 77.0h1.2v1.2h-1.2zM274.6 91.9h1.2v1.2h-1.2zM275.0 95.0h1.2v1.2h-1.2zM274.3 92.4h1.2v1.2h-1.2zM275.3 79.4h1.2v1.2h-1.2zM275.2 79.4h1.2v1.2h-1.2zM275.1 88.1h1.2v1.2h-1.2zM274.1 97.0h1.2v1.2h-1.2zM275.2 91.4h1.2v1.2h-1.2zM274.9 67.8h1.2v1.2h-1.2zM274.6 88.7h1.2v1.2h-1.2zM275.0 77.7h1.2v1.2h-1.2zM274.5 68.4h1.2v1.2h-1.2zM278.8 108.9h1.2v1.2h-1.2zM277.8 103.3h1.2v1.2h-1.2zM274.1 88.1h1.2v1.2h-1.2zM274.3 89.8h1.2v1.2h-1.2zM273.8 95.5h1.2v1.2h-1.2zM276.9 102.6h1.2v1.2h-1.2zM271.7 105.6h1.2v1.2h-1.2zM273.4 94.6h1.2v1.2h-1.2zM278.8 103.1h1.2v1.2h-1.2zM274.1 108.7h1.2v1.2h-1.2zM273.3 95.2h1.2v1.2h-1.2zM274.6 97.6h1.2v1.2h-1.2zM274.1 89.4h1.2v1.2h-1.2zM275.0 88.3h1.2v1.2h-1.2zM277.2 101.7h1.2v1.2h-1.2zM274.3 89.9h1.2v1.2h-1.2zM275.0 92.3h1.2v1.2h-1.2zM275.3 108.5h1.2v1.2h-1.2zM278.5 107.1h1.2v1.2h-1.2zM275.0 98.9h1.2v1.2h-1.2zM276.8 96.4h1.2v1.2h-1.2zM273.4 94.4h1.2v1.2h-1.2zM276.1 98.9h1.2v1.2h-1.2zM277.2 106.8h1.2v1.2h-1.2zM277.1 96.6h1.2v1.2h-1.2zM272.5 109.3h1.2v1.2h-1.2zM274.2 95.2h1.2v1.2h-1.2zM277.6 99.7h1.2v1.2h-1.2zM274.6 109.0h1.2v1.2h-1.2zM271.1 109.7h1.2v1.2h-1.2zM275.6 109.2h1.2v1.2h-1.2zM271.6 104.8h1.2v1.2h-1.2zM273.9 93.5h1.2v1.2h-1.2zM275.6 95.1h1.2v1.2h-1.2zM274.9 98.8h1.2v1.2h-1.2zM273.8 107.9h1.2v1.2h-1.2zM273.9 93.4h1.2v1.2h-1.2zM275.7 89.6h1.2v1.2h-1.2zM279.9 111.3h1.2v1.2h-1.2zM275.5 111.2h1.2v1.2h-1.2zM280.4 109.3h1.2v1.2h-1.2zM271.9 111.0h1.2v1.2h-1.2zM274.5 104.3h1.2v1.2h-1.2zM272.0 111.7h1.2v1.2h-1.2zM279.8 108.1h1.2v1.2h-1.2zM276.0 98.5h1.2v1.2h-1.2zM274.0 99.7h1.2v1.2h-1.2zM282.5 111.6h1.2v1.2h-1.2zM272.5 108.4h1.2v1.2h-1.2zM274.9 96.3h1.2v1.2h-1.2zM276.0 100.2h1.2v1.2h-1.2zM275.1 106.0h1.2v1.2h-1.2zM275.4 103.0h1.2v1.2h-1.2zM270.7 111.6h1.2v1.2h-1.2zM273.2 107.7h1.2v1.2h-1.2zM276.3 93.2h1.2v1.2h-1.2zM275.1 93.8h1.2v1.2h-1.2zM272.5 107.9h1.2v1.2h-1.2zM274.2 94.7h1.2v1.2h-1.2zM275.6 89.4h1.2v1.2h-1.2zM275.0 96.0h1.2v1.2h-1.2zM276.0 93.8h1.2v1.2h-1.2zM278.4 103.0h1.2v1.2h-1.2zM276.1 112.0h1.2v1.2h-1.2zM280.7 108.9h1.2v1.2h-1.2zM276.7 107.8h1.2v1.2h-1.2zM272.9 98.1h1.2v1.2h-1.2zM277.5 97.8h1.2v1.2h-1.2zM277.2 96.8h1.2v1.2h-1.2zM277.0 100.7h1.2v1.2h-1.2zM277.7 101.4h1.2v1.2h-1.2zM272.2 109.9h1.2v1.2h-1.2zM273.2 98.8h1.2v1.2h-1.2zM273.8 105.8h1.2v1.2h-1.2zM276.9 109.1h1.2v1.2h-1.2zM278.8 102.0h1.2v1.2h-1.2zM277.1 99.3h1.2v1.2h-1.2zM274.4 89.3h1.2v1.2h-1.2zM275.0 91.3h1.2v1.2h-1.2zM273.3 100.0h1.2v1.2h-1.2zM274.1 91.3h1.2v1.2h-1.2zM276.1 103.2h1.2v1.2h-1.2zM276.2 93.3h1.2v1.2h-1.2zM272.2 103.1h1.2v1.2h-1.2zM276.6 95.0h1.2v1.2h-1.2zM273.6 97.4h1.2v1.2h-1.2zM274.5 92.8h1.2v1.2h-1.2zM275.6 91.2h1.2v1.2h-1.2zM276.1 110.8h1.2v1.2h-1.2zM274.4 91.3h1.2v1.2h-1.2zM273.6 93.2h1.2v1.2h-1.2zM278.5 103.8h1.2v1.2h-1.2zM274.2 94.1h1.2v1.2h-1.2zM276.3 96.4h1.2v1.2h-1.2zM273.7 96.4h1.2v1.2h-1.2zM270.9 110.0h1.2v1.2h-1.2zM281.3 110.1h1.2v1.2h-1.2zM279.8 109.6h1.2v1.2h-1.2zM275.3 88.4h1.2v1.2h-1.2zM276.0 108.2h1.2v1.2h-1.2zM274.6 93.8h1.2v1.2h-1.2zM276.8 96.3h1.2v1.2h-1.2zM278.6 101.5h1.2v1.2h-1.2zM273.9 102.0h1.2v1.2h-1.2zM273.9 90.0h1.2v1.2h-1.2zM270.7 110.6h1.2v1.2h-1.2zM275.3 96.5h1.2v1.2h-1.2zM275.6 89.6h1.2v1.2h-1.2zM274.9 91.7h1.2v1.2h-1.2zM274.2 108.3h1.2v1.2h-1.2zM276.8 98.9h1.2v1.2h-1.2zM276.0 92.6h1.2v1.2h-1.2zM275.9 102.9h1.2v1.2h-1.2zM277.1 105.3h1.2v1.2h-1.2zM274.0 90.4h1.2v1.2h-1.2zM275.0 89.8h1.2v1.2h-1.2zM274.5 92.5h1.2v1.2h-1.2zM276.3 109.1h1.2v1.2h-1.2zM273.1 110.3h1.2v1.2h-1.2zM276.6 100.0h1.2v1.2h-1.2zM272.6 100.4h1.2v1.2h-1.2zM274.8 92.3h1.2v1.2h-1.2zM273.8 92.8h1.2v1.2h-1.2zM274.6 91.6h1.2v1.2h-1.2zM276.1 102.2h1.2v1.2h-1.2zM275.4 94.8h1.2v1.2h-1.2zM273.5 97.7h1.2v1.2h-1.2zM271.1 108.7h1.2v1.2h-1.2zM275.7 90.6h1.2v1.2h-1.2zM273.5 95.6h1.2v1.2h-1.2zM270.7 109.9h1.2v1.2h-1.2zM273.9 93.8h1.2v1.2h-1.2zM274.1 103.5h1.2v1.2h-1.2zM274.4 94.1h1.2v1.2h-1.2zM276.6 94.8h1.2v1.2h-1.2zM278.7 109.2h1.2v1.2h-1.2zM274.4 94.4h1.2v1.2h-1.2zM278.1 103.8h1.2v1.2h-1.2zM276.2 97.3h1.2v1.2h-1.2zM274.7 91.1h1.2v1.2h-1.2z" fill="#5ab6e6"/>
<rect x="272.2" y="100" width="4.5" height="12" fill="#5ab6e6"/>
<rect x="277.3" y="84" width="1.2" height="1.2" fill="#5ab6e6"/>
<rect x="274.4" y="50.6" width="1.6" height="1.6" fill="#5ab6e6"/>
<rect x="274.5" y="60.8" width="1.4" height="1.4" fill="#5ab6e6"/>
<rect x="274.5" y="66.6" width="1.4" height="1.4" fill="#5ab6e6"/>
<rect x="274.6" y="8.3" width="1.6" height="169.6" fill="#808080" fill-opacity="0.35"/>
<rect x="274.1" y="22.1" width="2.2" height="2.2" fill="#d6307a"/>
<rect x="274.1" y="63.8" width="2.2" height="2.2" fill="#d6307a"/>
<line x1="263.1" y1="16.8" x2="273.5" y2="22.6" stroke="#555" stroke-width="0.5"/>
<line x1="263.2" y1="58.3" x2="273.5" y2="63.7" stroke="#555" stroke-width="0.5"/>
<text x="237.9" y="17.4" font-size="9.2" font-style="italic" fill="#111" stroke="#111" stroke-width="0.22">IGLL1</text>
<text x="238.9" y="60.5" font-size="9.2" font-style="italic" fill="#3f8fcf" stroke="#3f8fcf" stroke-width="0.22">GGT1</text>
<line x1="34" y1="68.5" x2="446" y2="68.5" stroke="#e0454a" stroke-width="0.75" stroke-dasharray="1.9,1.0"/>
<line x1="34" y1="17.1" x2="34" y2="169" stroke="#bcbcbc" stroke-width="1.8"/>
<line x1="30.2" y1="168.6" x2="33.8" y2="168.6" stroke="#888" stroke-width="0.7"/>
<text x="28.5" y="171.0" font-size="8.4" text-anchor="end" fill="#111" stroke="#111" stroke-width="0.22">0</text>
<line x1="30.2" y1="141.2" x2="33.8" y2="141.2" stroke="#888" stroke-width="0.7"/>
<text x="28.5" y="143.6" font-size="8.4" text-anchor="end" fill="#111" stroke="#111" stroke-width="0.22">2</text>
<line x1="30.2" y1="113.8" x2="33.8" y2="113.8" stroke="#888" stroke-width="0.7"/>
<text x="28.5" y="116.2" font-size="8.4" text-anchor="end" fill="#111" stroke="#111" stroke-width="0.22">4</text>
<line x1="30.2" y1="86.4" x2="33.8" y2="86.4" stroke="#888" stroke-width="0.7"/>
<text x="28.5" y="88.8" font-size="8.4" text-anchor="end" fill="#111" stroke="#111" stroke-width="0.22">6</text>
<line x1="30.2" y1="59.0" x2="33.8" y2="59.0" stroke="#888" stroke-width="0.7"/>
<text x="28.5" y="61.4" font-size="8.4" text-anchor="end" fill="#111" stroke="#111" stroke-width="0.22">8</text>
<line x1="30.2" y1="31.6" x2="33.8" y2="31.6" stroke="#888" stroke-width="0.7"/>
<text x="28.5" y="34.0" font-size="8.4" text-anchor="end" fill="#111" stroke="#111" stroke-width="0.22">10</text>
<text transform="translate(11.4,101.4) rotate(-90)" font-size="12" text-anchor="middle" fill="#111" stroke="#111" stroke-width="0.22">-log<tspan font-size="7.5" dy="2.5">10</tspan><tspan dy="-2.5">(</tspan><tspan font-style="italic">p</tspan>)</text>
<line x1="34" y1="174.5" x2="446.5" y2="174.5" stroke="#777" stroke-width="0.8"/>
<line x1="34.2" y1="174.5" x2="34.2" y2="177.6" stroke="#777" stroke-width="0.7"/>
<line x1="52.2" y1="174.5" x2="52.2" y2="178" stroke="#555" stroke-width="0.9"/>
<text x="52.2" y="185.9" font-size="8.4" text-anchor="middle" fill="#111" stroke="#111" stroke-width="0.22">1</text>
<line x1="81.6" y1="174.5" x2="81.6" y2="178" stroke="#555" stroke-width="0.9"/>
<text x="81.6" y="185.9" font-size="8.4" text-anchor="middle" fill="#111" stroke="#111" stroke-width="0.22">2</text>
<line x1="109.3" y1="174.5" x2="109.3" y2="178" stroke="#555" stroke-width="0.9"/>
<text x="109.3" y="185.9" font-size="8.4" text-anchor="middle" fill="#111" stroke="#111" stroke-width="0.22">3</text>
<line x1="135.2" y1="174.5" x2="135.2" y2="178" stroke="#555" stroke-width="0.9"/>
<text x="135.2" y="185.9" font-size="8.4" text-anchor="middle" fill="#111" stroke="#111" stroke-width="0.22">4</text>
<line x1="161.5" y1="174.5" x2="161.5" y2="178" stroke="#555" stroke-width="0.9"/>
<text x="161.5" y="185.9" font-size="8.4" text-anchor="middle" fill="#111" stroke="#111" stroke-width="0.22">5</text>
<line x1="188.9" y1="174.5" x2="188.9" y2="178" stroke="#555" stroke-width="0.9"/>
<text x="188.9" y="185.9" font-size="8.4" text-anchor="middle" fill="#111" stroke="#111" stroke-width="0.22">6</text>
<line x1="214.4" y1="174.5" x2="214.4" y2="178" stroke="#555" stroke-width="0.9"/>
<text x="214.4" y="185.9" font-size="8.4" text-anchor="middle" fill="#111" stroke="#111" stroke-width="0.22">7</text>
<line x1="238.2" y1="174.5" x2="238.2" y2="178" stroke="#555" stroke-width="0.9"/>
<text x="238.2" y="185.9" font-size="8.4" text-anchor="middle" fill="#111" stroke="#111" stroke-width="0.22">8</text>
<line x1="259.3" y1="174.5" x2="259.3" y2="178" stroke="#555" stroke-width="0.9"/>
<text x="259.3" y="185.9" font-size="8.4" text-anchor="middle" fill="#111" stroke="#111" stroke-width="0.22">9</text>
<line x1="277.8" y1="174.5" x2="277.8" y2="178" stroke="#555" stroke-width="0.9"/>
<text x="277.8" y="185.9" font-size="8.4" text-anchor="middle" fill="#111" stroke="#111" stroke-width="0.22">10</text>
<line x1="296.7" y1="174.5" x2="296.7" y2="178" stroke="#555" stroke-width="0.9"/>
<text x="296.7" y="185.9" font-size="8.4" text-anchor="middle" fill="#111" stroke="#111" stroke-width="0.22">11</text>
<line x1="317.0" y1="174.5" x2="317.0" y2="178" stroke="#555" stroke-width="0.9"/>
<text x="317.0" y="185.9" font-size="8.4" text-anchor="middle" fill="#111" stroke="#111" stroke-width="0.22">12</text>
<line x1="335.3" y1="174.5" x2="335.3" y2="178" stroke="#555" stroke-width="0.9"/>
<text x="335.3" y="185.9" font-size="8.4" text-anchor="middle" fill="#111" stroke="#111" stroke-width="0.22">13</text>
<line x1="352.4" y1="174.5" x2="352.4" y2="178" stroke="#555" stroke-width="0.9"/>
<text x="352.4" y="185.9" font-size="8.4" text-anchor="middle" fill="#111" stroke="#111" stroke-width="0.22">14</text>
<line x1="371.4" y1="174.5" x2="371.4" y2="178" stroke="#555" stroke-width="0.9"/>
<text x="371.4" y="185.9" font-size="8.4" text-anchor="middle" fill="#111" stroke="#111" stroke-width="0.22">15</text>
<line x1="386.8" y1="174.5" x2="386.8" y2="178" stroke="#555" stroke-width="0.9"/>
<text x="386.8" y="185.9" font-size="8.4" text-anchor="middle" fill="#111" stroke="#111" stroke-width="0.22">16</text>
<line x1="402.2" y1="174.5" x2="402.2" y2="178" stroke="#555" stroke-width="0.9"/>
<text x="402.2" y="185.9" font-size="8.4" text-anchor="middle" fill="#111" stroke="#111" stroke-width="0.22">17</text>
<line x1="416.9" y1="174.5" x2="416.9" y2="178" stroke="#555" stroke-width="0.9"/>
<text x="416.9" y="185.9" font-size="8.4" text-anchor="middle" fill="#111" stroke="#111" stroke-width="0.22">18</text>
<line x1="428.8" y1="174.5" x2="428.8" y2="178" stroke="#555" stroke-width="0.9"/>
<text x="428.8" y="185.9" font-size="8.4" text-anchor="middle" fill="#111" stroke="#111" stroke-width="0.22">19</text>
<line x1="440.4" y1="174.5" x2="440.4" y2="178" stroke="#555" stroke-width="0.9"/>
<text x="440.4" y="185.9" font-size="8.4" text-anchor="middle" fill="#111" stroke="#111" stroke-width="0.22">20</text>
<text x="28.7" y="185.9" font-size="8.4" fill="#111" stroke="#111" stroke-width="0.22">chr</text>
<text x="-0.6" y="11.4" font-size="16.5" font-weight="bold" fill="#000">a</text>
<text x="46.7" y="16.5" font-size="10.2" font-weight="bold" fill="#000">γ-GGT</text>
<text x="469.2" y="11.3" font-size="16.5" font-weight="bold" fill="#000">b</text>
<polygon points="642.6,52.4 635.0,66.3 628.2,75.0 621.1,82.2 614.0,89.3 606.9,94.8 606.9,95.7 618.8,87.5 642.6,75.2" fill="#9d9d9d"/>
<line x1="503.6" y1="170.1" x2="657.4" y2="58.4" stroke="#bdbdbd" stroke-width="0.8" stroke-dasharray="3.5,2.5"/>
<polyline points="508.9,166.2 585.5,111.0 589.0,109.6 592.6,106.7 599.7,100.3 608.6,94.3 613.1,91.5" fill="none" stroke="#000" stroke-width="2.8" stroke-linecap="round" stroke-linejoin="round"/>
<polyline points="608.6,94.3 613.1,91.5 614.0,89.1 618.8,85.0 622.0,80.9 627.0,77.0 628.6,74.4" fill="none" stroke="#000" stroke-width="3.4" stroke-linecap="round" stroke-linejoin="round"/>
<circle cx="629.3" cy="74.1" r="1.7" fill="#000"/>
<circle cx="631.1" cy="70.8" r="1.7" fill="#000"/>
<circle cx="632.3" cy="68.2" r="1.7" fill="#000"/>
<circle cx="634.3" cy="66.3" r="1.7" fill="#000"/>
<circle cx="637.5" cy="56.6" r="1.7" fill="#000"/>
<circle cx="643.0" cy="29.5" r="1.7" fill="#000"/>
<rect x="503.5" y="18.5" width="154" height="153" fill="none" stroke="#3a3a3a" stroke-width="1"/>
<line x1="499" y1="166.2" x2="503.5" y2="166.2" stroke="#3a3a3a" stroke-width="0.95"/>
<text x="497.2" y="169.4" font-size="9.1" text-anchor="end" fill="#111" stroke="#111" stroke-width="0.22">0</text>
<line x1="499" y1="140.3" x2="503.5" y2="140.3" stroke="#3a3a3a" stroke-width="0.95"/>
<text x="497.2" y="143.5" font-size="9.1" text-anchor="end" fill="#111" stroke="#111" stroke-width="0.22">2</text>
<line x1="499" y1="114.5" x2="503.5" y2="114.5" stroke="#3a3a3a" stroke-width="0.95"/>
<text x="497.2" y="117.7" font-size="9.1" text-anchor="end" fill="#111" stroke="#111" stroke-width="0.22">4</text>
<line x1="499" y1="88.6" x2="503.5" y2="88.6" stroke="#3a3a3a" stroke-width="0.95"/>
<text x="497.2" y="91.8" font-size="9.1" text-anchor="end" fill="#111" stroke="#111" stroke-width="0.22">6</text>
<line x1="499" y1="62.8" x2="503.5" y2="62.8" stroke="#3a3a3a" stroke-width="0.95"/>
<text x="497.2" y="66.0" font-size="9.1" text-anchor="end" fill="#111" stroke="#111" stroke-width="0.22">8</text>
<line x1="499" y1="36.9" x2="503.5" y2="36.9" stroke="#3a3a3a" stroke-width="0.95"/>
<text x="497.2" y="40.1" font-size="9.1" text-anchor="end" fill="#111" stroke="#111" stroke-width="0.22">10</text>
<line x1="508.9" y1="172" x2="508.9" y2="175.5" stroke="#3a3a3a" stroke-width="0.95"/>
<text x="508.9" y="185.1" font-size="9.1" text-anchor="middle" fill="#111" stroke="#111" stroke-width="0.22">0</text>
<line x1="526.8" y1="172" x2="526.8" y2="175.5" stroke="#3a3a3a" stroke-width="0.95"/>
<text x="526.8" y="185.1" font-size="9.1" text-anchor="middle" fill="#111" stroke="#111" stroke-width="0.22">1</text>
<line x1="544.5" y1="172" x2="544.5" y2="175.5" stroke="#3a3a3a" stroke-width="0.95"/>
<text x="544.5" y="185.1" font-size="9.1" text-anchor="middle" fill="#111" stroke="#111" stroke-width="0.22">2</text>
<line x1="562.4" y1="172" x2="562.4" y2="175.5" stroke="#3a3a3a" stroke-width="0.95"/>
<text x="562.4" y="185.1" font-size="9.1" text-anchor="middle" fill="#111" stroke="#111" stroke-width="0.22">3</text>
<line x1="580.1" y1="172" x2="580.1" y2="175.5" stroke="#3a3a3a" stroke-width="0.95"/>
<text x="580.1" y="185.1" font-size="9.1" text-anchor="middle" fill="#111" stroke="#111" stroke-width="0.22">4</text>
<line x1="598.0" y1="172" x2="598.0" y2="175.5" stroke="#3a3a3a" stroke-width="0.95"/>
<text x="598.0" y="185.1" font-size="9.1" text-anchor="middle" fill="#111" stroke="#111" stroke-width="0.22">5</text>
<line x1="615.8" y1="172" x2="615.8" y2="175.5" stroke="#3a3a3a" stroke-width="0.95"/>
<text x="615.8" y="185.1" font-size="9.1" text-anchor="middle" fill="#111" stroke="#111" stroke-width="0.22">6</text>
<line x1="633.5" y1="172" x2="633.5" y2="175.5" stroke="#3a3a3a" stroke-width="0.95"/>
<text x="633.5" y="185.1" font-size="9.1" text-anchor="middle" fill="#111" stroke="#111" stroke-width="0.22">7</text>
<line x1="651.4" y1="172" x2="651.4" y2="175.5" stroke="#3a3a3a" stroke-width="0.95"/>
<text x="651.4" y="185.1" font-size="9.1" text-anchor="middle" fill="#111" stroke="#111" stroke-width="0.22">8</text>
<text x="585.9" y="201.6" font-size="11.6" text-anchor="middle" fill="#111" stroke="#111" stroke-width="0.22">Expected -log<tspan font-size="7.5" dy="2.5">10</tspan><tspan dy="-2.5">(</tspan><tspan font-style="italic">p</tspan>)</text>
<text transform="translate(479.6,97) rotate(-90)" font-size="11.3" text-anchor="middle" fill="#111" stroke="#111" stroke-width="0.22">Observed -log<tspan font-size="7.5" dy="2.5">10</tspan><tspan dy="-2.5">(</tspan><tspan font-style="italic">p</tspan>)</text>
<defs><linearGradient id="fg" x1="0" y1="0" x2="0" y2="1">
<stop offset="0" stop-color="#7f7f7f"/><stop offset="1" stop-color="#f4f4f4"/></linearGradient></defs>
<path d="M274.7,187.9 L279,191.6 L284.2,196.0 L290,200.2 L295,203.5 L301.7,206.9 L313.4,212.5 L325,217.2 L336.7,221.3 L348.4,225.4 L360.1,229.3 L366,231.2 L58.3,231.2 L230,209 L240.2,207.6 L250.4,205.5 L255.5,203.5 L260.7,200.4 L265.8,196.4 L270.9,191.4 Z" fill="url(#fg)"/>
<text x="6.5" y="223.1" font-size="15.5" font-weight="bold" fill="#000">c</text>
<rect x="58.3" y="232.2" width="310.2" height="173" fill="none" stroke="#999" stroke-width="0.9"/>
<line x1="55" y1="397.6" x2="58.3" y2="397.6" stroke="#777" stroke-width="0.7"/>
<text x="51.6" y="400.5" font-size="8.2" text-anchor="end" fill="#444">0</text>
<line x1="55" y1="370.6" x2="58.3" y2="370.6" stroke="#777" stroke-width="0.7"/>
<text x="51.6" y="373.5" font-size="8.2" text-anchor="end" fill="#444">2</text>
<line x1="55" y1="343.5" x2="58.3" y2="343.5" stroke="#777" stroke-width="0.7"/>
<text x="51.6" y="346.4" font-size="8.2" text-anchor="end" fill="#444">4</text>
<line x1="55" y1="316.5" x2="58.3" y2="316.5" stroke="#777" stroke-width="0.7"/>
<text x="51.6" y="319.4" font-size="8.2" text-anchor="end" fill="#444">6</text>
<line x1="55" y1="289.4" x2="58.3" y2="289.4" stroke="#777" stroke-width="0.7"/>
<text x="51.6" y="292.3" font-size="8.2" text-anchor="end" fill="#444">8</text>
<line x1="55" y1="262.4" x2="58.3" y2="262.4" stroke="#777" stroke-width="0.7"/>
<text x="51.6" y="265.3" font-size="8.2" text-anchor="end" fill="#444">10</text>
<line x1="55" y1="235.4" x2="58.3" y2="235.4" stroke="#777" stroke-width="0.7"/>
<text x="51.6" y="238.3" font-size="8.2" text-anchor="end" fill="#444">12</text>
<text transform="translate(35,341.5) rotate(-90)" font-size="12" text-anchor="middle" fill="#111" stroke="#111" stroke-width="0.22">-log 10(p-value)</text>
<defs><circle id="k" r="1.9" fill="#2a46b9" stroke="#0f1336" stroke-width="0.7"/><circle id="l" r="1.95" fill="#38bcf0" stroke="#1d5f88" stroke-width="0.55"/><circle id="g" r="1.95" fill="#12f012" stroke="#0a700a" stroke-width="0.55"/></defs>
<use href="#k" x="160.4" y="396.2"/>
<use href="#k" x="174.9" y="384.0"/>
<use href="#k" x="129.7" y="394.1"/>
<use href="#k" x="270.1" y="392.3"/>
<use href="#k" x="205.4" y="392.4"/>
<use href="#k" x="136.3" y="386.2"/>
<use href="#k" x="219.7" y="386.8"/>
<use href="#k" x="72.1" y="393.1"/>
<use href="#k" x="223.4" y="397.3"/>
<use href="#k" x="341.3" y="387.0"/>
<use href="#k" x="217.8" y="382.4"/>
<use href="#k" x="180.3" y="393.0"/>
<use href="#k" x="140.5" y="393.9"/>
<use href="#k" x="209.9" y="387.2"/>
<use href="#k" x="249.3" y="374.7"/>
<use href="#k" x="134.8" y="397.5"/>
<use href="#k" x="74.1" y="393.1"/>
<use href="#k" x="339.0" y="397.3"/>
<use href="#k" x="360.4" y="395.8"/>
<use href="#k" x="113.9" y="396.5"/>
<use href="#k" x="175.6" y="384.6"/>
<use href="#k" x="137.2" y="388.7"/>
<use href="#k" x="161.6" y="389.9"/>
<use href="#k" x="299.9" y="393.0"/>
<use href="#k" x="150.5" y="386.3"/>
<use href="#k" x="77.2" y="394.4"/>
<use href="#k" x="279.3" y="395.1"/>
<use href="#k" x="96.8" y="390.7"/>
<use href="#k" x="140.3" y="395.6"/>
<use href="#k" x="253.5" y="386.6"/>
<use href="#k" x="344.7" y="384.8"/>
<use href="#k" x="93.0" y="397.5"/>
<use href="#k" x="200.7" y="394.2"/>
<use href="#k" x="174.0" y="395.9"/>
<use href="#k" x="295.4" y="387.1"/>
<use href="#k" x="163.0" y="389.0"/>
<use href="#k" x="271.3" y="373.0"/>
<use href="#k" x="145.4" y="384.6"/>
<use href="#k" x="257.0" y="391.3"/>
<use href="#k" x="201.7" y="386.9"/>
<use href="#k" x="233.8" y="391.0"/>
<use href="#k" x="286.2" y="388.0"/>
<use href="#k" x="78.8" y="394.4"/>
<use href="#k" x="349.5" y="395.4"/>
<use href="#k" x="70.7" y="391.7"/>
<use href="#k" x="112.2" y="396.5"/>
<use href="#k" x="180.6" y="396.4"/>
<use href="#k" x="346.6" y="394.6"/>
<use href="#k" x="347.2" y="383.3"/>
<use href="#k" x="284.1" y="391.9"/>
<use href="#k" x="326.5" y="379.3"/>
<use href="#k" x="164.3" y="394.4"/>
<use href="#k" x="181.2" y="385.6"/>
<use href="#k" x="365.2" y="396.3"/>
<use href="#k" x="335.4" y="382.4"/>
<use href="#k" x="193.9" y="384.9"/>
<use href="#k" x="108.9" y="391.3"/>
<use href="#k" x="109.8" y="397.2"/>
<use href="#k" x="127.5" y="386.6"/>
<use href="#k" x="281.8" y="373.5"/>
<use href="#k" x="207.7" y="388.0"/>
<use href="#k" x="164.3" y="388.8"/>
<use href="#k" x="220.8" y="396.7"/>
<use href="#k" x="190.3" y="379.5"/>
<use href="#k" x="142.2" y="396.6"/>
<use href="#k" x="238.3" y="397.2"/>
<use href="#k" x="165.4" y="388.9"/>
<use href="#k" x="152.0" y="397.4"/>
<use href="#k" x="100.3" y="396.8"/>
<use href="#k" x="300.8" y="375.3"/>
<use href="#k" x="345.4" y="388.1"/>
<use href="#k" x="198.2" y="391.8"/>
<use href="#k" x="158.5" y="396.7"/>
<use href="#k" x="235.5" y="394.7"/>
<use href="#k" x="119.1" y="395.6"/>
<use href="#k" x="63.2" y="395.4"/>
<use href="#k" x="321.6" y="388.1"/>
<use href="#k" x="294.7" y="396.7"/>
<use href="#k" x="105.5" y="382.6"/>
<use href="#k" x="213.4" y="382.9"/>
<use href="#k" x="108.2" y="386.9"/>
<use href="#k" x="261.2" y="383.9"/>
<use href="#k" x="79.5" y="388.9"/>
<use href="#k" x="168.8" y="396.6"/>
<use href="#k" x="107.6" y="395.0"/>
<use href="#k" x="270.5" y="376.9"/>
<use href="#k" x="339.8" y="389.2"/>
<use href="#k" x="244.3" y="395.9"/>
<use href="#k" x="297.0" y="397.4"/>
<use href="#k" x="222.2" y="388.5"/>
<use href="#k" x="91.2" y="395.8"/>
<use href="#k" x="161.9" y="397.3"/>
<use href="#k" x="213.8" y="395.0"/>
<use href="#k" x="261.5" y="377.3"/>
<use href="#k" x="119.7" y="392.5"/>
<use href="#k" x="291.9" y="387.7"/>
<use href="#k" x="120.0" y="388.1"/>
<use href="#k" x="142.1" y="391.9"/>
<use href="#k" x="141.1" y="387.7"/>
<use href="#k" x="110.8" y="394.6"/>
<use href="#k" x="205.6" y="393.9"/>
<use href="#k" x="203.7" y="396.2"/>
<use href="#k" x="134.8" y="396.7"/>
<use href="#k" x="353.5" y="395.5"/>
<use href="#k" x="201.6" y="395.7"/>
<use href="#k" x="228.3" y="394.6"/>
<use href="#k" x="184.7" y="379.9"/>
<use href="#k" x="153.4" y="397.3"/>
<use href="#k" x="139.1" y="395.4"/>
<use href="#k" x="184.5" y="394.4"/>
<use href="#k" x="146.9" y="388.8"/>
<use href="#k" x="110.4" y="389.3"/>
<use href="#k" x="248.4" y="395.0"/>
<use href="#k" x="116.2" y="393.0"/>
<use href="#k" x="288.5" y="374.9"/>
<use href="#k" x="67.9" y="392.8"/>
<use href="#k" x="102.6" y="392.3"/>
<use href="#k" x="189.8" y="392.3"/>
<use href="#k" x="243.4" y="383.1"/>
<use href="#k" x="226.4" y="395.9"/>
<use href="#k" x="67.2" y="394.8"/>
<use href="#k" x="230.2" y="382.5"/>
<use href="#k" x="223.9" y="392.6"/>
<use href="#k" x="133.3" y="394.1"/>
<use href="#k" x="184.2" y="386.3"/>
<use href="#k" x="201.7" y="387.9"/>
<use href="#k" x="75.5" y="395.4"/>
<use href="#k" x="151.0" y="386.7"/>
<use href="#k" x="251.8" y="397.1"/>
<use href="#k" x="130.7" y="388.0"/>
<use href="#k" x="113.7" y="386.1"/>
<use href="#k" x="356.5" y="396.9"/>
<use href="#k" x="83.0" y="395.9"/>
<use href="#k" x="236.1" y="395.7"/>
<use href="#k" x="361.1" y="396.4"/>
<use href="#k" x="131.2" y="390.2"/>
<use href="#k" x="213.3" y="387.0"/>
<use href="#k" x="136.8" y="388.8"/>
<use href="#k" x="239.4" y="394.5"/>
<use href="#k" x="280.9" y="369.9"/>
<use href="#k" x="275.7" y="393.8"/>
<use href="#k" x="316.1" y="395.5"/>
<use href="#k" x="301.7" y="396.4"/>
<use href="#k" x="205.7" y="394.7"/>
<use href="#k" x="192.9" y="397.4"/>
<use href="#k" x="363.6" y="383.5"/>
<use href="#k" x="256.4" y="388.4"/>
<use href="#k" x="282.3" y="393.1"/>
<use href="#k" x="61.5" y="395.0"/>
<use href="#k" x="160.6" y="396.1"/>
<use href="#k" x="273.8" y="382.5"/>
<use href="#k" x="329.1" y="391.5"/>
<use href="#k" x="140.8" y="396.7"/>
<use href="#k" x="190.3" y="396.4"/>
<use href="#k" x="309.0" y="389.8"/>
<use href="#k" x="111.1" y="395.2"/>
<use href="#k" x="182.7" y="391.4"/>
<use href="#k" x="326.7" y="396.9"/>
<use href="#k" x="177.6" y="393.8"/>
<use href="#k" x="216.1" y="385.7"/>
<use href="#k" x="327.6" y="390.6"/>
<use href="#k" x="76.4" y="396.4"/>
<use href="#k" x="65.6" y="392.2"/>
<use href="#k" x="283.4" y="375.8"/>
<use href="#k" x="167.7" y="397.4"/>
<use href="#k" x="130.3" y="396.8"/>
<use href="#k" x="260.7" y="387.4"/>
<use href="#k" x="233.5" y="386.2"/>
<use href="#k" x="202.8" y="393.7"/>
<use href="#k" x="200.2" y="387.0"/>
<use href="#k" x="247.8" y="376.7"/>
<use href="#k" x="361.0" y="394.2"/>
<use href="#k" x="97.0" y="393.3"/>
<use href="#k" x="202.6" y="387.8"/>
<use href="#k" x="157.8" y="391.2"/>
<use href="#k" x="183.4" y="390.6"/>
<use href="#k" x="269.7" y="376.9"/>
<use href="#k" x="310.1" y="391.1"/>
<use href="#k" x="222.4" y="395.3"/>
<use href="#k" x="264.1" y="371.8"/>
<use href="#k" x="237.2" y="380.6"/>
<use href="#k" x="326.1" y="388.4"/>
<use href="#k" x="252.6" y="392.1"/>
<use href="#k" x="150.6" y="396.8"/>
<use href="#k" x="77.1" y="394.9"/>
<use href="#k" x="68.0" y="388.5"/>
<use href="#k" x="99.1" y="391.5"/>
<use href="#k" x="264.1" y="377.4"/>
<use href="#k" x="251.6" y="373.6"/>
<use href="#k" x="295.9" y="373.7"/>
<use href="#k" x="94.7" y="395.3"/>
<use href="#k" x="297.8" y="386.7"/>
<use href="#k" x="227.2" y="388.2"/>
<use href="#k" x="286.5" y="396.0"/>
<use href="#k" x="189.8" y="397.3"/>
<use href="#k" x="315.8" y="390.3"/>
<use href="#k" x="91.4" y="390.3"/>
<use href="#k" x="197.0" y="386.1"/>
<use href="#k" x="216.1" y="381.9"/>
<use href="#k" x="110.4" y="394.6"/>
<use href="#k" x="356.0" y="389.1"/>
<use href="#k" x="63.6" y="390.6"/>
<use href="#k" x="352.5" y="395.7"/>
<use href="#k" x="129.3" y="394.3"/>
<use href="#k" x="228.8" y="397.3"/>
<use href="#k" x="139.0" y="395.1"/>
<use href="#k" x="275.5" y="373.4"/>
<use href="#k" x="216.5" y="376.9"/>
<use href="#k" x="234.0" y="396.8"/>
<use href="#k" x="128.3" y="397.1"/>
<use href="#k" x="160.2" y="394.7"/>
<use href="#k" x="316.0" y="393.1"/>
<use href="#k" x="62.2" y="387.5"/>
<use href="#k" x="286.1" y="374.1"/>
<use href="#k" x="149.4" y="397.4"/>
<use href="#k" x="247.3" y="385.0"/>
<use href="#k" x="98.1" y="388.3"/>
<use href="#k" x="84.5" y="394.5"/>
<use href="#k" x="133.2" y="395.0"/>
<use href="#k" x="72.6" y="392.4"/>
<use href="#k" x="328.0" y="395.9"/>
<use href="#k" x="205.1" y="389.4"/>
<use href="#k" x="200.7" y="386.8"/>
<use href="#k" x="216.9" y="394.0"/>
<use href="#k" x="279.8" y="396.0"/>
<use href="#k" x="179.9" y="380.5"/>
<use href="#k" x="147.4" y="387.0"/>
<use href="#k" x="297.1" y="387.3"/>
<use href="#k" x="77.9" y="390.5"/>
<use href="#k" x="339.7" y="392.9"/>
<use href="#k" x="105.4" y="393.5"/>
<use href="#k" x="332.4" y="396.5"/>
<use href="#k" x="324.1" y="389.1"/>
<use href="#k" x="342.1" y="397.5"/>
<use href="#k" x="360.1" y="386.0"/>
<use href="#k" x="117.6" y="394.9"/>
<use href="#k" x="209.5" y="380.3"/>
<use href="#k" x="148.4" y="397.3"/>
<use href="#k" x="182.6" y="397.2"/>
<use href="#k" x="204.7" y="384.4"/>
<use href="#k" x="348.9" y="395.6"/>
<use href="#k" x="288.4" y="380.7"/>
<use href="#k" x="313.3" y="389.6"/>
<use href="#k" x="157.4" y="394.2"/>
<use href="#k" x="322.0" y="394.6"/>
<use href="#k" x="289.3" y="396.2"/>
<use href="#k" x="279.1" y="381.5"/>
<use href="#k" x="335.2" y="387.3"/>
<use href="#k" x="208.8" y="397.2"/>
<use href="#k" x="342.7" y="392.7"/>
<use href="#k" x="199.0" y="396.8"/>
<use href="#k" x="165.0" y="397.1"/>
<use href="#k" x="108.0" y="387.0"/>
<use href="#k" x="152.8" y="393.7"/>
<use href="#k" x="282.5" y="381.0"/>
<use href="#k" x="147.2" y="397.1"/>
<use href="#k" x="141.0" y="395.3"/>
<use href="#k" x="279.5" y="388.4"/>
<use href="#k" x="119.9" y="395.1"/>
<use href="#k" x="182.2" y="394.2"/>
<use href="#k" x="62.9" y="395.7"/>
<use href="#k" x="137.0" y="387.8"/>
<use href="#k" x="231.5" y="396.8"/>
<use href="#k" x="92.6" y="397.5"/>
<use href="#k" x="161.5" y="397.2"/>
<use href="#k" x="268.5" y="393.7"/>
<use href="#k" x="311.6" y="394.2"/>
<use href="#k" x="157.4" y="396.3"/>
<use href="#k" x="175.7" y="397.4"/>
<use href="#k" x="104.0" y="392.6"/>
<use href="#k" x="325.7" y="389.4"/>
<use href="#k" x="239.5" y="379.7"/>
<use href="#k" x="156.9" y="391.7"/>
<use href="#k" x="80.3" y="397.1"/>
<use href="#k" x="95.8" y="395.1"/>
<use href="#k" x="320.8" y="396.2"/>
<use href="#k" x="221.4" y="382.3"/>
<use href="#k" x="231.1" y="371.5"/>
<use href="#k" x="258.0" y="388.2"/>
<use href="#k" x="141.9" y="397.3"/>
<use href="#k" x="316.8" y="392.5"/>
<use href="#k" x="322.5" y="397.0"/>
<use href="#k" x="103.6" y="397.5"/>
<use href="#k" x="151.6" y="388.1"/>
<use href="#k" x="94.9" y="396.0"/>
<use href="#k" x="191.9" y="396.8"/>
<use href="#k" x="190.6" y="388.3"/>
<use href="#k" x="282.4" y="396.7"/>
<use href="#k" x="351.7" y="389.3"/>
<use href="#k" x="200.2" y="394.8"/>
<use href="#k" x="331.1" y="395.2"/>
<use href="#k" x="357.9" y="396.1"/>
<use href="#k" x="180.2" y="397.5"/>
<use href="#k" x="161.5" y="393.3"/>
<use href="#k" x="60.6" y="391.9"/>
<use href="#k" x="184.5" y="396.6"/>
<use href="#k" x="66.4" y="393.9"/>
<use href="#k" x="131.9" y="393.5"/>
<use href="#k" x="88.3" y="385.6"/>
<use href="#k" x="103.0" y="390.7"/>
<use href="#k" x="330.4" y="396.2"/>
<use href="#k" x="163.1" y="389.6"/>
<use href="#k" x="153.5" y="397.5"/>
<use href="#k" x="119.4" y="392.6"/>
<use href="#k" x="68.4" y="395.5"/>
<use href="#k" x="142.4" y="396.1"/>
<use href="#k" x="131.2" y="397.3"/>
<use href="#k" x="316.0" y="397.5"/>
<use href="#k" x="349.3" y="388.2"/>
<use href="#k" x="311.4" y="385.3"/>
<use href="#k" x="77.2" y="389.1"/>
<use href="#k" x="150.2" y="394.2"/>
<use href="#k" x="193.6" y="397.1"/>
<use href="#k" x="301.9" y="395.0"/>
<use href="#k" x="85.2" y="387.3"/>
<use href="#k" x="64.9" y="382.8"/>
<use href="#k" x="239.4" y="386.2"/>
<use href="#k" x="221.6" y="376.7"/>
<use href="#k" x="63.6" y="396.6"/>
<use href="#k" x="254.1" y="372.2"/>
<use href="#k" x="108.6" y="395.2"/>
<use href="#k" x="92.2" y="392.1"/>
<use href="#k" x="180.5" y="391.9"/>
<use href="#k" x="84.4" y="394.3"/>
<use href="#k" x="253.9" y="381.3"/>
<use href="#k" x="307.5" y="392.4"/>
<use href="#k" x="107.3" y="397.4"/>
<use href="#k" x="120.3" y="396.7"/>
<use href="#k" x="338.6" y="397.1"/>
<use href="#k" x="256.6" y="395.8"/>
<use href="#k" x="115.0" y="397.3"/>
<use href="#k" x="102.7" y="395.6"/>
<use href="#k" x="254.2" y="378.7"/>
<use href="#k" x="115.2" y="397.5"/>
<use href="#k" x="229.1" y="397.0"/>
<use href="#k" x="88.3" y="389.7"/>
<use href="#k" x="113.3" y="387.5"/>
<use href="#k" x="262.9" y="387.7"/>
<use href="#k" x="196.2" y="385.6"/>
<use href="#k" x="206.4" y="392.4"/>
<use href="#k" x="227.5" y="397.2"/>
<use href="#k" x="316.4" y="393.4"/>
<use href="#k" x="272.6" y="392.5"/>
<use href="#k" x="72.5" y="397.0"/>
<use href="#k" x="331.9" y="396.7"/>
<use href="#k" x="191.9" y="393.2"/>
<use href="#k" x="133.6" y="392.9"/>
<use href="#k" x="364.1" y="394.3"/>
<use href="#k" x="185.5" y="384.9"/>
<use href="#k" x="244.1" y="391.3"/>
<use href="#k" x="304.5" y="378.0"/>
<use href="#k" x="199.5" y="397.4"/>
<use href="#k" x="153.1" y="388.6"/>
<use href="#k" x="130.6" y="394.0"/>
<use href="#k" x="238.2" y="383.1"/>
<use href="#k" x="168.2" y="395.0"/>
<use href="#k" x="212.4" y="395.8"/>
<use href="#k" x="194.2" y="389.3"/>
<use href="#k" x="147.2" y="395.2"/>
<use href="#k" x="175.5" y="394.5"/>
<use href="#k" x="210.6" y="379.1"/>
<use href="#k" x="82.7" y="388.4"/>
<use href="#k" x="281.1" y="390.1"/>
<use href="#k" x="218.4" y="394.5"/>
<use href="#k" x="210.5" y="383.4"/>
<use href="#k" x="360.6" y="387.0"/>
<use href="#k" x="306.9" y="383.5"/>
<use href="#k" x="217.8" y="389.8"/>
<use href="#k" x="264.8" y="387.3"/>
<use href="#k" x="177.6" y="391.5"/>
<use href="#k" x="272.5" y="386.9"/>
<use href="#k" x="188.3" y="397.1"/>
<use href="#k" x="171.0" y="390.6"/>
<use href="#k" x="130.3" y="397.5"/>
<use href="#k" x="340.5" y="395.3"/>
<use href="#k" x="148.1" y="393.3"/>
<use href="#k" x="354.1" y="388.3"/>
<use href="#k" x="158.0" y="389.0"/>
<use href="#k" x="191.9" y="388.3"/>
<use href="#k" x="114.4" y="394.8"/>
<use href="#k" x="258.9" y="395.8"/>
<use href="#k" x="107.2" y="396.9"/>
<use href="#k" x="270.4" y="397.0"/>
<use href="#k" x="358.0" y="389.9"/>
<use href="#k" x="97.1" y="390.6"/>
<use href="#k" x="307.5" y="387.5"/>
<use href="#k" x="171.0" y="394.6"/>
<use href="#k" x="92.6" y="397.1"/>
<use href="#k" x="196.5" y="382.0"/>
<use href="#k" x="364.5" y="396.7"/>
<use href="#k" x="189.9" y="381.1"/>
<use href="#k" x="113.6" y="396.7"/>
<use href="#k" x="292.9" y="372.4"/>
<use href="#k" x="89.0" y="389.6"/>
<use href="#k" x="84.9" y="383.3"/>
<use href="#k" x="303.8" y="385.9"/>
<use href="#k" x="198.7" y="395.6"/>
<use href="#k" x="332.5" y="390.4"/>
<use href="#k" x="77.6" y="394.3"/>
<use href="#k" x="182.2" y="374.4"/>
<use href="#k" x="211.3" y="391.1"/>
<use href="#k" x="316.7" y="390.1"/>
<use href="#k" x="297.6" y="372.1"/>
<use href="#k" x="177.6" y="390.3"/>
<use href="#k" x="136.9" y="389.8"/>
<use href="#k" x="81.5" y="389.1"/>
<use href="#k" x="198.9" y="391.0"/>
<use href="#k" x="333.2" y="378.2"/>
<use href="#k" x="348.4" y="397.1"/>
<use href="#k" x="310.4" y="383.7"/>
<use href="#k" x="92.2" y="392.2"/>
<use href="#k" x="167.2" y="394.8"/>
<use href="#k" x="351.9" y="388.3"/>
<use href="#k" x="170.8" y="397.2"/>
<use href="#k" x="337.2" y="396.8"/>
<use href="#k" x="206.3" y="388.7"/>
<use href="#k" x="317.3" y="378.2"/>
<use href="#k" x="97.8" y="387.5"/>
<use href="#k" x="228.3" y="380.1"/>
<use href="#k" x="132.9" y="390.4"/>
<use href="#k" x="337.6" y="394.4"/>
<use href="#k" x="188.1" y="389.5"/>
<use href="#k" x="122.7" y="386.9"/>
<use href="#k" x="219.4" y="397.3"/>
<use href="#k" x="339.4" y="386.1"/>
<use href="#k" x="327.1" y="396.9"/>
<use href="#k" x="295.3" y="383.5"/>
<use href="#k" x="197.8" y="382.5"/>
<use href="#k" x="120.9" y="389.9"/>
<use href="#k" x="245.1" y="395.6"/>
<use href="#k" x="126.7" y="394.8"/>
<use href="#k" x="306.0" y="396.1"/>
<use href="#k" x="268.2" y="388.9"/>
<use href="#k" x="149.5" y="391.8"/>
<use href="#k" x="138.3" y="387.3"/>
<use href="#k" x="359.9" y="384.9"/>
<use href="#k" x="142.7" y="388.6"/>
<use href="#k" x="109.0" y="386.5"/>
<use href="#k" x="290.6" y="394.2"/>
<use href="#k" x="333.5" y="397.4"/>
<use href="#k" x="211.4" y="386.3"/>
<use href="#k" x="224.3" y="384.6"/>
<use href="#k" x="218.1" y="387.1"/>
<use href="#k" x="229.3" y="377.5"/>
<use href="#k" x="267.2" y="390.6"/>
<use href="#k" x="87.2" y="391.0"/>
<use href="#k" x="110.3" y="393.1"/>
<use href="#k" x="270.9" y="390.6"/>
<use href="#k" x="315.0" y="395.7"/>
<use href="#k" x="125.6" y="382.7"/>
<use href="#k" x="113.2" y="396.7"/>
<use href="#k" x="146.3" y="390.0"/>
<use href="#k" x="315.9" y="387.0"/>
<use href="#k" x="83.1" y="388.6"/>
<use href="#k" x="200.9" y="391.9"/>
<use href="#k" x="330.1" y="382.6"/>
<use href="#k" x="352.4" y="397.1"/>
<use href="#k" x="250.1" y="380.4"/>
<use href="#k" x="200.2" y="397.3"/>
<use href="#k" x="68.6" y="397.4"/>
<use href="#k" x="251.7" y="387.6"/>
<use href="#k" x="289.2" y="397.5"/>
<use href="#k" x="86.7" y="397.5"/>
<use href="#k" x="317.9" y="378.7"/>
<use href="#k" x="119.2" y="395.0"/>
<use href="#k" x="308.3" y="391.8"/>
<use href="#k" x="118.0" y="394.5"/>
<use href="#k" x="341.9" y="392.8"/>
<use href="#k" x="352.6" y="391.7"/>
<use href="#k" x="65.3" y="385.7"/>
<use href="#k" x="138.6" y="395.2"/>
<use href="#k" x="103.0" y="393.8"/>
<use href="#k" x="94.6" y="393.2"/>
<use href="#k" x="339.0" y="391.6"/>
<use href="#k" x="202.8" y="383.8"/>
<use href="#k" x="232.5" y="377.4"/>
<use href="#k" x="334.5" y="382.5"/>
<use href="#k" x="64.5" y="396.7"/>
<use href="#k" x="75.4" y="396.3"/>
<use href="#k" x="351.7" y="395.3"/>
<use href="#k" x="283.5" y="380.6"/>
<use href="#k" x="188.6" y="385.8"/>
<use href="#k" x="125.8" y="391.4"/>
<use href="#k" x="60.5" y="392.5"/>
<use href="#k" x="314.2" y="392.5"/>
<use href="#k" x="255.2" y="395.9"/>
<use href="#k" x="113.6" y="394.6"/>
<use href="#k" x="287.7" y="386.4"/>
<use href="#k" x="69.3" y="395.3"/>
<use href="#k" x="328.3" y="382.7"/>
<use href="#k" x="121.1" y="392.9"/>
<use href="#k" x="133.9" y="397.4"/>
<use href="#k" x="289.0" y="396.5"/>
<use href="#k" x="74.5" y="388.8"/>
<use href="#k" x="146.3" y="394.5"/>
<use href="#k" x="299.7" y="395.8"/>
<use href="#k" x="174.6" y="389.8"/>
<use href="#k" x="229.5" y="389.1"/>
<use href="#k" x="215.6" y="374.5"/>
<use href="#k" x="177.3" y="387.6"/>
<use href="#k" x="313.3" y="394.2"/>
<use href="#k" x="343.5" y="378.8"/>
<use href="#k" x="242.9" y="394.0"/>
<use href="#k" x="159.1" y="393.6"/>
<use href="#k" x="236.6" y="389.8"/>
<use href="#k" x="272.1" y="397.5"/>
<use href="#k" x="170.5" y="391.9"/>
<use href="#k" x="162.1" y="396.8"/>
<use href="#k" x="277.0" y="382.9"/>
<use href="#k" x="150.1" y="386.9"/>
<use href="#k" x="103.3" y="394.8"/>
<use href="#k" x="282.7" y="388.3"/>
<use href="#k" x="332.4" y="390.8"/>
<use href="#k" x="224.4" y="384.8"/>
<use href="#k" x="299.7" y="393.1"/>
<use href="#k" x="277.3" y="384.9"/>
<use href="#k" x="336.6" y="390.7"/>
<use href="#k" x="282.1" y="378.4"/>
<use href="#k" x="349.4" y="378.5"/>
<use href="#k" x="110.5" y="397.5"/>
<use href="#k" x="115.7" y="397.4"/>
<use href="#k" x="271.6" y="380.0"/>
<use href="#k" x="301.4" y="387.4"/>
<use href="#k" x="137.3" y="396.6"/>
<use href="#k" x="207.2" y="386.8"/>
<use href="#k" x="62.6" y="397.3"/>
<use href="#k" x="130.8" y="388.8"/>
<use href="#k" x="322.4" y="394.8"/>
<use href="#k" x="365.3" y="393.1"/>
<use href="#k" x="298.8" y="374.1"/>
<use href="#k" x="112.0" y="394.5"/>
<use href="#k" x="150.4" y="392.4"/>
<use href="#k" x="353.3" y="391.6"/>
<use href="#k" x="349.2" y="384.1"/>
<use href="#k" x="287.9" y="390.8"/>
<use href="#k" x="255.9" y="390.8"/>
<use href="#k" x="167.6" y="383.8"/>
<use href="#k" x="228.7" y="389.1"/>
<use href="#k" x="129.1" y="395.6"/>
<use href="#k" x="251.0" y="395.3"/>
<use href="#k" x="92.9" y="397.5"/>
<use href="#k" x="270.7" y="386.4"/>
<use href="#k" x="162.2" y="385.9"/>
<use href="#k" x="356.0" y="388.1"/>
<use href="#k" x="239.1" y="396.4"/>
<use href="#k" x="363.1" y="397.0"/>
<use href="#k" x="251.7" y="395.1"/>
<use href="#k" x="270.9" y="396.4"/>
<use href="#k" x="232.4" y="388.1"/>
<use href="#k" x="159.9" y="382.6"/>
<use href="#k" x="283.1" y="385.4"/>
<use href="#k" x="279.6" y="390.3"/>
<use href="#k" x="214.3" y="387.2"/>
<use href="#k" x="275.6" y="388.6"/>
<use href="#k" x="358.8" y="393.8"/>
<use href="#k" x="195.6" y="382.0"/>
<use href="#k" x="289.4" y="390.8"/>
<use href="#k" x="292.8" y="368.9"/>
<use href="#k" x="244.1" y="379.8"/>
<use href="#k" x="201.4" y="392.0"/>
<use href="#k" x="107.2" y="390.7"/>
<use href="#k" x="85.3" y="394.8"/>
<use href="#k" x="363.3" y="382.7"/>
<use href="#k" x="73.2" y="385.8"/>
<use href="#k" x="337.7" y="395.0"/>
<use href="#k" x="335.5" y="396.1"/>
<use href="#k" x="353.1" y="396.6"/>
<use href="#k" x="116.3" y="393.6"/>
<use href="#k" x="280.4" y="378.4"/>
<use href="#k" x="229.6" y="393.6"/>
<use href="#k" x="310.9" y="391.2"/>
<use href="#k" x="184.5" y="391.4"/>
<use href="#k" x="101.4" y="395.4"/>
<use href="#k" x="211.7" y="396.2"/>
<use href="#k" x="200.6" y="381.9"/>
<use href="#k" x="342.2" y="393.9"/>
<use href="#k" x="365.8" y="393.5"/>
<use href="#k" x="104.0" y="388.9"/>
<use href="#k" x="365.1" y="384.6"/>
<use href="#k" x="222.3" y="397.5"/>
<use href="#k" x="71.7" y="389.8"/>
<use href="#k" x="197.8" y="387.3"/>
<use href="#k" x="305.1" y="392.7"/>
<use href="#k" x="253.8" y="389.4"/>
<use href="#k" x="350.3" y="380.2"/>
<use href="#k" x="68.8" y="391.1"/>
<use href="#k" x="341.4" y="392.3"/>
<use href="#k" x="337.0" y="394.8"/>
<use href="#k" x="323.5" y="390.9"/>
<use href="#k" x="354.1" y="386.2"/>
<use href="#k" x="360.3" y="382.6"/>
<use href="#k" x="78.9" y="397.4"/>
<use href="#k" x="145.9" y="388.8"/>
<use href="#k" x="74.0" y="389.6"/>
<use href="#k" x="148.5" y="397.5"/>
<use href="#k" x="345.4" y="390.5"/>
<use href="#k" x="290.1" y="392.8"/>
<use href="#k" x="265.4" y="395.1"/>
<use href="#k" x="72.2" y="393.8"/>
<use href="#k" x="99.2" y="386.6"/>
<use href="#k" x="68.6" y="396.2"/>
<use href="#k" x="109.8" y="397.3"/>
<use href="#k" x="166.0" y="390.1"/>
<use href="#k" x="182.6" y="386.1"/>
<use href="#k" x="208.7" y="385.3"/>
<use href="#k" x="123.0" y="397.5"/>
<use href="#k" x="358.4" y="394.4"/>
<use href="#k" x="134.0" y="394.9"/>
<use href="#k" x="221.1" y="392.4"/>
<use href="#k" x="285.0" y="376.2"/>
<use href="#k" x="124.3" y="392.6"/>
<use href="#k" x="356.2" y="395.1"/>
<use href="#k" x="252.5" y="385.6"/>
<use href="#k" x="325.0" y="396.0"/>
<use href="#k" x="277.9" y="396.7"/>
<use href="#k" x="285.4" y="378.5"/>
<use href="#k" x="280.3" y="393.1"/>
<use href="#k" x="118.6" y="390.2"/>
<use href="#k" x="203.7" y="395.3"/>
<use href="#k" x="277.8" y="384.8"/>
<use href="#k" x="261.6" y="389.7"/>
<use href="#k" x="354.9" y="392.2"/>
<use href="#k" x="253.4" y="396.7"/>
<use href="#k" x="80.2" y="392.0"/>
<use href="#k" x="105.1" y="397.5"/>
<use href="#k" x="109.3" y="388.1"/>
<use href="#k" x="174.0" y="380.5"/>
<use href="#k" x="250.8" y="375.2"/>
<use href="#k" x="136.7" y="397.0"/>
<use href="#k" x="167.1" y="391.6"/>
<use href="#k" x="362.3" y="393.3"/>
<use href="#k" x="353.3" y="395.0"/>
<use href="#k" x="132.2" y="395.7"/>
<use href="#k" x="230.7" y="394.1"/>
<use href="#k" x="207.1" y="396.6"/>
<use href="#k" x="267.0" y="367.7"/>
<use href="#k" x="72.2" y="387.7"/>
<use href="#k" x="211.6" y="397.2"/>
<use href="#k" x="285.1" y="392.6"/>
<use href="#k" x="241.1" y="386.5"/>
<use href="#k" x="248.3" y="390.5"/>
<use href="#k" x="164.6" y="385.6"/>
<use href="#k" x="217.8" y="390.8"/>
<use href="#k" x="259.1" y="372.9"/>
<use href="#k" x="253.9" y="380.8"/>
<use href="#k" x="314.4" y="388.5"/>
<use href="#k" x="309.0" y="395.4"/>
<use href="#k" x="108.3" y="393.4"/>
<use href="#k" x="353.1" y="396.6"/>
<use href="#k" x="216.0" y="382.3"/>
<use href="#k" x="352.3" y="396.8"/>
<use href="#k" x="80.2" y="396.9"/>
<use href="#k" x="128.4" y="387.5"/>
<use href="#k" x="91.3" y="385.1"/>
<use href="#k" x="291.6" y="389.4"/>
<use href="#k" x="341.5" y="394.4"/>
<use href="#k" x="116.2" y="390.6"/>
<use href="#k" x="255.9" y="397.3"/>
<use href="#k" x="334.0" y="382.1"/>
<use href="#k" x="62.9" y="390.3"/>
<use href="#k" x="256.1" y="389.1"/>
<use href="#k" x="330.2" y="394.0"/>
<use href="#k" x="234.0" y="396.5"/>
<use href="#k" x="166.0" y="394.8"/>
<use href="#k" x="233.7" y="382.6"/>
<use href="#k" x="329.8" y="383.3"/>
<use href="#k" x="263.6" y="374.6"/>
<use href="#k" x="163.3" y="393.4"/>
<use href="#k" x="272.3" y="395.5"/>
<use href="#k" x="230.7" y="383.1"/>
<use href="#k" x="281.0" y="394.5"/>
<use href="#k" x="196.2" y="394.5"/>
<use href="#k" x="222.9" y="393.9"/>
<use href="#k" x="364.5" y="395.8"/>
<use href="#k" x="352.2" y="388.4"/>
<use href="#k" x="314.9" y="397.5"/>
<use href="#k" x="226.6" y="387.1"/>
<use href="#k" x="307.2" y="386.4"/>
<use href="#k" x="362.2" y="397.2"/>
<use href="#k" x="320.7" y="395.2"/>
<use href="#k" x="317.1" y="380.8"/>
<use href="#k" x="80.9" y="389.4"/>
<use href="#k" x="312.3" y="383.3"/>
<use href="#k" x="66.9" y="392.6"/>
<use href="#k" x="290.3" y="377.6"/>
<use href="#k" x="167.8" y="396.6"/>
<use href="#k" x="93.0" y="388.4"/>
<use href="#k" x="352.2" y="397.3"/>
<use href="#k" x="165.0" y="397.2"/>
<use href="#k" x="153.7" y="392.1"/>
<use href="#k" x="287.2" y="382.7"/>
<use href="#k" x="120.2" y="391.3"/>
<use href="#k" x="162.2" y="385.4"/>
<use href="#k" x="259.5" y="379.3"/>
<use href="#k" x="75.7" y="390.7"/>
<use href="#k" x="357.2" y="385.4"/>
<use href="#k" x="210.2" y="380.2"/>
<use href="#k" x="206.2" y="384.1"/>
<use href="#k" x="290.0" y="397.1"/>
<use href="#k" x="273.0" y="396.3"/>
<use href="#k" x="289.2" y="383.6"/>
<use href="#k" x="198.1" y="386.2"/>
<use href="#k" x="340.0" y="380.5"/>
<use href="#k" x="210.8" y="397.3"/>
<use href="#k" x="90.0" y="394.1"/>
<use href="#k" x="166.1" y="385.1"/>
<use href="#k" x="272.9" y="389.3"/>
<use href="#k" x="104.7" y="393.1"/>
<use href="#k" x="232.4" y="395.6"/>
<use href="#k" x="169.4" y="390.1"/>
<use href="#k" x="253.1" y="385.6"/>
<use href="#k" x="150.9" y="380.0"/>
<use href="#k" x="341.6" y="393.2"/>
<use href="#k" x="283.9" y="394.9"/>
<use href="#k" x="235.3" y="382.3"/>
<use href="#k" x="116.9" y="397.5"/>
<use href="#k" x="205.1" y="387.4"/>
<use href="#k" x="114.4" y="397.5"/>
<use href="#k" x="263.7" y="390.9"/>
<use href="#k" x="289.8" y="385.2"/>
<use href="#k" x="129.6" y="394.3"/>
<use href="#k" x="88.6" y="395.9"/>
<use href="#k" x="327.2" y="392.9"/>
<use href="#k" x="348.7" y="390.8"/>
<use href="#k" x="187.0" y="379.9"/>
<use href="#k" x="141.9" y="396.5"/>
<use href="#k" x="306.7" y="384.6"/>
<use href="#k" x="100.5" y="391.5"/>
<use href="#k" x="171.1" y="395.1"/>
<use href="#k" x="302.7" y="397.2"/>
<use href="#k" x="265.7" y="394.4"/>
<use href="#k" x="293.9" y="390.3"/>
<use href="#k" x="165.3" y="394.5"/>
<use href="#k" x="85.9" y="394.7"/>
<use href="#k" x="307.3" y="393.7"/>
<use href="#k" x="250.4" y="381.0"/>
<use href="#k" x="274.8" y="385.5"/>
<use href="#k" x="253.0" y="393.9"/>
<use href="#k" x="175.7" y="379.5"/>
<use href="#k" x="240.6" y="388.3"/>
<use href="#k" x="361.0" y="396.9"/>
<use href="#k" x="328.5" y="385.2"/>
<use href="#k" x="172.5" y="394.2"/>
<use href="#k" x="325.7" y="394.0"/>
<use href="#k" x="160.4" y="394.7"/>
<use href="#k" x="155.1" y="386.3"/>
<use href="#k" x="290.2" y="383.9"/>
<use href="#k" x="255.8" y="382.2"/>
<use href="#k" x="204.8" y="386.9"/>
<use href="#k" x="224.8" y="388.8"/>
<use href="#k" x="227.6" y="396.1"/>
<use href="#k" x="198.1" y="391.7"/>
<use href="#k" x="175.9" y="394.3"/>
<use href="#k" x="230.7" y="396.2"/>
<use href="#k" x="270.9" y="390.4"/>
<use href="#k" x="118.3" y="381.2"/>
<use href="#k" x="271.3" y="391.5"/>
<use href="#k" x="119.2" y="397.3"/>
<use href="#k" x="362.6" y="393.3"/>
<use href="#k" x="266.9" y="372.7"/>
<use href="#k" x="215.6" y="391.4"/>
<use href="#k" x="289.3" y="394.4"/>
<use href="#k" x="129.8" y="393.4"/>
<use href="#k" x="137.4" y="389.4"/>
<use href="#k" x="134.7" y="393.6"/>
<use href="#k" x="231.1" y="392.3"/>
<use href="#k" x="100.1" y="387.5"/>
<use href="#k" x="152.4" y="392.3"/>
<use href="#k" x="175.7" y="377.8"/>
<use href="#k" x="225.8" y="378.2"/>
<use href="#k" x="294.9" y="396.8"/>
<use href="#k" x="120.3" y="397.1"/>
<use href="#k" x="263.5" y="375.8"/>
<use href="#k" x="345.0" y="385.8"/>
<use href="#k" x="364.4" y="383.5"/>
<use href="#k" x="151.5" y="397.5"/>
<use href="#k" x="65.3" y="396.5"/>
<use href="#k" x="237.2" y="393.9"/>
<use href="#k" x="154.4" y="394.8"/>
<use href="#k" x="358.8" y="393.1"/>
<use href="#k" x="199.6" y="396.9"/>
<use href="#k" x="297.5" y="389.6"/>
<use href="#k" x="318.2" y="385.4"/>
<use href="#k" x="343.7" y="387.0"/>
<use href="#k" x="308.8" y="389.2"/>
<use href="#k" x="319.8" y="378.7"/>
<use href="#k" x="318.7" y="389.1"/>
<use href="#k" x="276.7" y="391.5"/>
<use href="#k" x="361.8" y="392.2"/>
<use href="#k" x="94.9" y="389.4"/>
<use href="#k" x="111.0" y="397.3"/>
<use href="#k" x="264.0" y="396.0"/>
<use href="#k" x="207.2" y="378.1"/>
<use href="#k" x="133.0" y="392.6"/>
<use href="#k" x="304.0" y="384.5"/>
<use href="#k" x="266.9" y="388.0"/>
<use href="#k" x="314.9" y="394.6"/>
<use href="#k" x="202.7" y="390.5"/>
<use href="#k" x="333.5" y="386.3"/>
<use href="#k" x="193.5" y="396.1"/>
<use href="#k" x="110.6" y="391.7"/>
<use href="#k" x="319.0" y="386.8"/>
<use href="#k" x="139.1" y="397.1"/>
<use href="#k" x="167.4" y="387.5"/>
<use href="#k" x="110.9" y="395.1"/>
<use href="#k" x="222.5" y="394.6"/>
<use href="#k" x="283.1" y="383.2"/>
<use href="#k" x="136.1" y="386.2"/>
<use href="#k" x="174.7" y="385.0"/>
<use href="#k" x="193.1" y="392.3"/>
<use href="#k" x="139.9" y="393.8"/>
<use href="#k" x="227.6" y="377.8"/>
<use href="#k" x="161.7" y="391.6"/>
<use href="#k" x="256.6" y="372.7"/>
<use href="#k" x="119.3" y="388.5"/>
<use href="#k" x="123.6" y="392.4"/>
<use href="#k" x="69.5" y="397.5"/>
<use href="#k" x="235.3" y="379.4"/>
<use href="#k" x="227.5" y="393.7"/>
<use href="#k" x="365.6" y="393.5"/>
<use href="#k" x="173.4" y="386.0"/>
<use href="#k" x="209.5" y="386.2"/>
<use href="#k" x="331.1" y="392.4"/>
<use href="#k" x="208.3" y="393.2"/>
<use href="#k" x="190.5" y="379.8"/>
<use href="#k" x="194.9" y="397.5"/>
<use href="#k" x="139.8" y="396.8"/>
<use href="#k" x="164.9" y="394.2"/>
<use href="#k" x="134.8" y="390.6"/>
<use href="#k" x="180.8" y="382.5"/>
<use href="#k" x="159.3" y="397.2"/>
<use href="#k" x="133.7" y="396.2"/>
<use href="#k" x="231.8" y="386.3"/>
<use href="#k" x="86.0" y="388.4"/>
<use href="#k" x="362.0" y="397.2"/>
<use href="#k" x="212.2" y="386.1"/>
<use href="#k" x="155.3" y="397.0"/>
<use href="#k" x="107.6" y="389.8"/>
<use href="#k" x="238.7" y="378.3"/>
<use href="#k" x="263.3" y="397.4"/>
<use href="#k" x="317.0" y="381.5"/>
<use href="#k" x="161.2" y="396.9"/>
<use href="#k" x="211.0" y="397.4"/>
<use href="#k" x="74.6" y="395.0"/>
<use href="#k" x="193.1" y="396.1"/>
<use href="#k" x="115.3" y="385.3"/>
<use href="#k" x="275.1" y="384.9"/>
<use href="#k" x="122.4" y="397.5"/>
<use href="#k" x="177.3" y="396.7"/>
<use href="#k" x="248.7" y="387.9"/>
<use href="#k" x="97.7" y="392.9"/>
<use href="#k" x="283.0" y="377.9"/>
<use href="#k" x="138.6" y="393.0"/>
<use href="#k" x="69.5" y="396.4"/>
<use href="#k" x="298.3" y="393.5"/>
<use href="#k" x="247.3" y="378.5"/>
<use href="#k" x="86.4" y="393.4"/>
<use href="#k" x="87.8" y="395.4"/>
<use href="#k" x="206.2" y="397.3"/>
<use href="#k" x="319.0" y="382.4"/>
<use href="#k" x="137.4" y="395.2"/>
<use href="#k" x="160.9" y="388.9"/>
<use href="#k" x="139.6" y="392.6"/>
<use href="#k" x="345.1" y="387.5"/>
<use href="#k" x="336.1" y="378.8"/>
<use href="#k" x="300.1" y="395.3"/>
<use href="#k" x="259.8" y="378.6"/>
<use href="#k" x="324.7" y="382.4"/>
<use href="#k" x="328.3" y="380.9"/>
<use href="#k" x="267.8" y="383.8"/>
<use href="#k" x="267.6" y="396.9"/>
<use href="#k" x="262.8" y="391.4"/>
<use href="#k" x="91.9" y="393.7"/>
<use href="#k" x="211.2" y="388.5"/>
<use href="#k" x="341.5" y="385.9"/>
<use href="#k" x="144.2" y="383.8"/>
<use href="#k" x="273.9" y="395.9"/>
<use href="#k" x="112.7" y="397.2"/>
<use href="#k" x="249.4" y="396.0"/>
<use href="#k" x="92.3" y="387.9"/>
<use href="#k" x="342.1" y="388.5"/>
<use href="#k" x="286.4" y="370.5"/>
<use href="#k" x="245.4" y="390.6"/>
<use href="#k" x="239.0" y="393.5"/>
<use href="#k" x="252.5" y="387.4"/>
<use href="#k" x="215.3" y="395.7"/>
<use href="#k" x="198.3" y="396.6"/>
<use href="#k" x="152.5" y="393.7"/>
<use href="#k" x="362.9" y="397.0"/>
<use href="#k" x="206.7" y="381.3"/>
<use href="#k" x="364.0" y="381.9"/>
<use href="#k" x="82.0" y="396.1"/>
<use href="#k" x="127.8" y="391.8"/>
<use href="#k" x="365.7" y="390.6"/>
<use href="#k" x="185.2" y="387.4"/>
<use href="#k" x="180.0" y="397.3"/>
<use href="#k" x="210.8" y="382.8"/>
<use href="#k" x="158.8" y="395.2"/>
<use href="#k" x="138.1" y="397.5"/>
<use href="#k" x="148.5" y="397.4"/>
<use href="#k" x="219.3" y="388.1"/>
<use href="#k" x="111.9" y="392.6"/>
<use href="#k" x="230.7" y="377.2"/>
<use href="#k" x="334.6" y="391.3"/>
<use href="#k" x="200.2" y="393.1"/>
<use href="#k" x="330.8" y="382.4"/>
<use href="#k" x="206.9" y="397.5"/>
<use href="#k" x="150.5" y="387.0"/>
<use href="#k" x="213.6" y="392.5"/>
<use href="#k" x="198.4" y="394.6"/>
<use href="#k" x="305.0" y="385.0"/>
<use href="#k" x="106.4" y="397.3"/>
<use href="#k" x="137.7" y="392.2"/>
<use href="#k" x="174.5" y="396.9"/>
<use href="#k" x="149.9" y="397.1"/>
<use href="#k" x="330.3" y="383.0"/>
<use href="#k" x="190.3" y="379.3"/>
<use href="#k" x="100.1" y="390.8"/>
<use href="#k" x="261.3" y="397.1"/>
<use href="#k" x="95.2" y="391.3"/>
<use href="#k" x="98.2" y="390.7"/>
<use href="#k" x="216.8" y="382.5"/>
<use href="#k" x="167.9" y="386.0"/>
<use href="#k" x="85.2" y="392.2"/>
<use href="#k" x="122.8" y="389.6"/>
<use href="#k" x="119.1" y="393.4"/>
<use href="#k" x="68.6" y="391.5"/>
<use href="#k" x="213.1" y="388.0"/>
<use href="#k" x="306.7" y="395.5"/>
<use href="#k" x="287.4" y="397.4"/>
<use href="#k" x="219.5" y="383.7"/>
<use href="#k" x="338.3" y="387.8"/>
<use href="#k" x="208.8" y="384.6"/>
<use href="#k" x="124.1" y="395.5"/>
<use href="#k" x="196.5" y="397.1"/>
<use href="#k" x="101.2" y="397.0"/>
<use href="#k" x="214.0" y="389.0"/>
<use href="#k" x="122.2" y="386.7"/>
<use href="#k" x="283.7" y="397.0"/>
<use href="#k" x="257.6" y="375.5"/>
<use href="#k" x="170.9" y="390.6"/>
<use href="#k" x="240.4" y="384.6"/>
<use href="#k" x="280.5" y="388.3"/>
<use href="#k" x="271.1" y="390.4"/>
<use href="#k" x="104.1" y="386.8"/>
<use href="#k" x="261.9" y="375.4"/>
<use href="#k" x="268.1" y="396.2"/>
<use href="#k" x="288.5" y="392.1"/>
<use href="#k" x="349.8" y="397.4"/>
<use href="#k" x="71.1" y="390.7"/>
<use href="#k" x="237.6" y="376.3"/>
<use href="#k" x="203.6" y="389.0"/>
<use href="#k" x="73.6" y="395.0"/>
<use href="#k" x="299.1" y="394.8"/>
<use href="#k" x="144.0" y="392.9"/>
<use href="#k" x="117.5" y="389.9"/>
<use href="#k" x="129.8" y="397.3"/>
<use href="#k" x="173.9" y="391.4"/>
<use href="#k" x="240.8" y="390.7"/>
<use href="#k" x="72.7" y="397.2"/>
<use href="#k" x="343.9" y="391.5"/>
<use href="#k" x="139.5" y="395.8"/>
<use href="#k" x="207.3" y="383.4"/>
<use href="#k" x="365.7" y="390.4"/>
<use href="#k" x="305.9" y="396.7"/>
<use href="#k" x="355.2" y="397.5"/>
<use href="#k" x="167.5" y="393.3"/>
<use href="#k" x="94.3" y="396.3"/>
<use href="#k" x="246.2" y="384.4"/>
<use href="#k" x="231.5" y="386.4"/>
<use href="#k" x="347.2" y="385.6"/>
<use href="#k" x="280.5" y="392.1"/>
<use href="#k" x="349.9" y="394.2"/>
<use href="#k" x="341.2" y="381.7"/>
<use href="#k" x="62.2" y="395.3"/>
<use href="#k" x="271.1" y="393.1"/>
<use href="#k" x="271.1" y="383.8"/>
<use href="#k" x="158.2" y="396.1"/>
<use href="#k" x="328.6" y="389.4"/>
<use href="#k" x="325.7" y="390.2"/>
<use href="#k" x="197.5" y="395.1"/>
<use href="#k" x="216.3" y="378.9"/>
<use href="#k" x="291.2" y="395.8"/>
<use href="#k" x="104.3" y="396.1"/>
<use href="#k" x="363.3" y="395.1"/>
<use href="#k" x="184.7" y="395.0"/>
<use href="#k" x="94.6" y="396.1"/>
<use href="#k" x="126.4" y="395.4"/>
<use href="#k" x="330.9" y="390.8"/>
<use href="#k" x="129.9" y="392.4"/>
<use href="#k" x="128.0" y="393.7"/>
<use href="#k" x="283.7" y="386.8"/>
<use href="#k" x="343.2" y="387.8"/>
<use href="#k" x="281.0" y="390.9"/>
<use href="#k" x="351.4" y="397.3"/>
<use href="#k" x="150.5" y="395.3"/>
<use href="#k" x="86.9" y="390.8"/>
<use href="#k" x="318.9" y="396.1"/>
<use href="#k" x="106.2" y="396.2"/>
<use href="#k" x="146.8" y="393.9"/>
<use href="#k" x="224.7" y="397.5"/>
<use href="#k" x="207.9" y="386.1"/>
<use href="#k" x="347.7" y="397.0"/>
<use href="#k" x="83.5" y="390.8"/>
<use href="#k" x="267.8" y="390.8"/>
<use href="#k" x="129.1" y="392.9"/>
<use href="#k" x="67.0" y="396.0"/>
<use href="#k" x="181.8" y="389.5"/>
<use href="#k" x="309.8" y="380.8"/>
<use href="#k" x="199.4" y="391.9"/>
<use href="#k" x="146.1" y="389.5"/>
<use href="#k" x="313.2" y="397.2"/>
<use href="#k" x="139.5" y="384.4"/>
<use href="#k" x="129.6" y="394.0"/>
<use href="#k" x="302.4" y="380.6"/>
<use href="#k" x="309.5" y="393.2"/>
<use href="#k" x="207.6" y="393.5"/>
<use href="#k" x="352.1" y="378.4"/>
<use href="#k" x="256.9" y="380.9"/>
<use href="#k" x="282.6" y="395.8"/>
<use href="#k" x="169.7" y="385.9"/>
<use href="#k" x="273.6" y="376.7"/>
<use href="#k" x="94.8" y="396.9"/>
<use href="#k" x="247.2" y="382.7"/>
<use href="#k" x="124.1" y="386.5"/>
<use href="#k" x="240.1" y="391.7"/>
<use href="#k" x="325.8" y="386.7"/>
<use href="#k" x="139.6" y="397.1"/>
<use href="#k" x="274.7" y="384.1"/>
<use href="#k" x="78.1" y="391.4"/>
<use href="#k" x="345.5" y="394.4"/>
<use href="#k" x="169.0" y="382.9"/>
<use href="#k" x="353.7" y="384.4"/>
<use href="#k" x="362.2" y="380.3"/>
<use href="#k" x="224.8" y="395.0"/>
<use href="#k" x="145.1" y="388.9"/>
<use href="#k" x="129.4" y="387.4"/>
<use href="#k" x="129.0" y="397.3"/>
<use href="#k" x="214.5" y="396.9"/>
<use href="#k" x="172.1" y="381.8"/>
<use href="#k" x="195.1" y="396.3"/>
<use href="#k" x="284.3" y="391.9"/>
<use href="#k" x="233.2" y="388.1"/>
<use href="#k" x="186.9" y="385.1"/>
<use href="#k" x="271.9" y="377.7"/>
<use href="#k" x="212.7" y="376.3"/>
<use href="#k" x="103.5" y="393.0"/>
<use href="#k" x="232.4" y="391.2"/>
<use href="#k" x="154.9" y="395.0"/>
<use href="#k" x="270.7" y="397.5"/>
<use href="#k" x="151.5" y="397.3"/>
<use href="#k" x="248.9" y="388.3"/>
<use href="#k" x="249.7" y="376.5"/>
<use href="#k" x="122.0" y="394.4"/>
<use href="#k" x="177.9" y="380.9"/>
<use href="#k" x="67.3" y="386.0"/>
<use href="#k" x="337.7" y="382.0"/>
<use href="#k" x="101.3" y="396.1"/>
<use href="#k" x="186.2" y="396.7"/>
<use href="#k" x="226.1" y="396.5"/>
<use href="#k" x="90.2" y="390.0"/>
<use href="#k" x="79.4" y="397.1"/>
<use href="#k" x="120.9" y="395.5"/>
<use href="#k" x="163.7" y="396.0"/>
<use href="#k" x="136.2" y="388.7"/>
<use href="#k" x="296.9" y="396.1"/>
<use href="#k" x="222.5" y="378.1"/>
<use href="#k" x="308.8" y="382.0"/>
<use href="#k" x="211.8" y="394.6"/>
<use href="#k" x="71.9" y="394.4"/>
<use href="#k" x="209.7" y="397.4"/>
<use href="#k" x="335.4" y="385.4"/>
<use href="#k" x="337.3" y="386.1"/>
<use href="#k" x="243.7" y="397.4"/>
<use href="#k" x="347.8" y="382.9"/>
<use href="#k" x="144.6" y="393.8"/>
<use href="#k" x="257.1" y="379.3"/>
<use href="#k" x="291.9" y="388.6"/>
<use href="#k" x="232.3" y="396.1"/>
<use href="#k" x="97.3" y="397.5"/>
<use href="#k" x="109.5" y="394.4"/>
<use href="#k" x="214.7" y="387.3"/>
<use href="#k" x="295.2" y="389.3"/>
<use href="#k" x="141.0" y="386.1"/>
<use href="#k" x="345.8" y="394.1"/>
<use href="#k" x="330.7" y="379.6"/>
<use href="#k" x="198.3" y="383.8"/>
<use href="#k" x="191.5" y="385.5"/>
<use href="#k" x="274.6" y="385.3"/>
<use href="#k" x="280.0" y="394.4"/>
<use href="#k" x="274.4" y="388.6"/>
<use href="#k" x="337.6" y="381.0"/>
<use href="#k" x="121.9" y="394.2"/>
<use href="#k" x="313.6" y="397.3"/>
<use href="#k" x="85.5" y="391.7"/>
<use href="#k" x="229.6" y="374.5"/>
<use href="#k" x="135.6" y="394.4"/>
<use href="#k" x="270.3" y="367.5"/>
<use href="#k" x="72.9" y="393.2"/>
<use href="#k" x="365.9" y="391.7"/>
<use href="#k" x="176.7" y="391.4"/>
<use href="#k" x="298.3" y="385.0"/>
<use href="#k" x="276.0" y="396.2"/>
<use href="#k" x="178.7" y="397.4"/>
<use href="#k" x="63.5" y="395.1"/>
<use href="#k" x="359.3" y="387.8"/>
<use href="#k" x="68.3" y="394.5"/>
<use href="#k" x="237.0" y="396.9"/>
<use href="#k" x="303.1" y="390.9"/>
<use href="#k" x="109.7" y="396.2"/>
<use href="#k" x="193.5" y="388.6"/>
<use href="#k" x="320.0" y="397.3"/>
<use href="#k" x="74.6" y="390.7"/>
<use href="#k" x="117.9" y="394.2"/>
<use href="#k" x="342.2" y="391.5"/>
<use href="#k" x="107.3" y="396.8"/>
<use href="#k" x="109.4" y="388.6"/>
<use href="#k" x="68.7" y="389.2"/>
<use href="#k" x="350.9" y="392.7"/>
<use href="#k" x="290.8" y="374.8"/>
<use href="#k" x="178.2" y="397.2"/>
<use href="#k" x="172.1" y="395.8"/>
<use href="#k" x="321.3" y="391.3"/>
<use href="#k" x="113.8" y="387.6"/>
<use href="#k" x="110.9" y="397.1"/>
<use href="#k" x="102.9" y="397.1"/>
<use href="#k" x="100.2" y="390.0"/>
<use href="#k" x="224.7" y="385.3"/>
<use href="#k" x="178.6" y="396.7"/>
<use href="#k" x="318.4" y="395.7"/>
<use href="#k" x="94.7" y="391.6"/>
<use href="#k" x="303.1" y="395.7"/>
<use href="#k" x="279.8" y="377.4"/>
<use href="#k" x="127.5" y="385.6"/>
<use href="#k" x="348.0" y="394.1"/>
<use href="#k" x="116.8" y="387.9"/>
<use href="#k" x="222.6" y="395.2"/>
<use href="#k" x="243.8" y="392.1"/>
<use href="#k" x="249.0" y="377.9"/>
<use href="#k" x="153.0" y="389.1"/>
<use href="#k" x="158.8" y="386.9"/>
<use href="#k" x="70.2" y="395.4"/>
<use href="#k" x="284.5" y="385.5"/>
<use href="#k" x="86.7" y="397.0"/>
<use href="#k" x="110.5" y="378.8"/>
<use href="#k" x="317.9" y="385.9"/>
<use href="#k" x="316.4" y="397.0"/>
<use href="#k" x="346.3" y="384.8"/>
<use href="#k" x="360.7" y="396.1"/>
<use href="#k" x="228.0" y="377.2"/>
<use href="#k" x="72.3" y="388.6"/>
<use href="#k" x="93.4" y="389.6"/>
<use href="#k" x="185.4" y="396.8"/>
<use href="#k" x="250.2" y="384.9"/>
<use href="#k" x="76.2" y="396.9"/>
<use href="#k" x="156.4" y="386.0"/>
<use href="#k" x="304.0" y="396.1"/>
<use href="#k" x="213.3" y="397.4"/>
<use href="#k" x="322.3" y="381.7"/>
<use href="#k" x="165.0" y="392.7"/>
<use href="#k" x="356.0" y="395.0"/>
<use href="#k" x="355.7" y="388.2"/>
<use href="#k" x="164.0" y="394.3"/>
<use href="#k" x="246.0" y="397.4"/>
<use href="#k" x="232.7" y="390.0"/>
<use href="#k" x="303.7" y="397.3"/>
<use href="#k" x="262.8" y="389.3"/>
<use href="#k" x="321.7" y="393.3"/>
<use href="#k" x="218.1" y="397.3"/>
<use href="#k" x="337.5" y="392.9"/>
<use href="#k" x="110.9" y="394.4"/>
<use href="#k" x="303.4" y="390.6"/>
<use href="#k" x="91.4" y="394.2"/>
<use href="#k" x="86.4" y="390.1"/>
<use href="#k" x="63.4" y="397.1"/>
<use href="#k" x="365.7" y="382.0"/>
<use href="#k" x="285.4" y="397.5"/>
<use href="#k" x="90.7" y="397.4"/>
<use href="#k" x="354.1" y="392.1"/>
<use href="#k" x="228.9" y="392.6"/>
<use href="#k" x="285.9" y="374.1"/>
<use href="#k" x="136.9" y="394.0"/>
<use href="#k" x="188.5" y="395.1"/>
<use href="#k" x="109.9" y="397.1"/>
<use href="#k" x="122.6" y="395.0"/>
<use href="#k" x="186.5" y="397.1"/>
<use href="#k" x="358.3" y="385.2"/>
<use href="#k" x="303.3" y="387.9"/>
<use href="#k" x="352.7" y="396.4"/>
<use href="#k" x="69.6" y="397.2"/>
<use href="#k" x="336.4" y="397.2"/>
<use href="#k" x="254.5" y="386.4"/>
<use href="#k" x="274.3" y="390.1"/>
<use href="#k" x="312.1" y="384.0"/>
<use href="#k" x="87.2" y="391.4"/>
<use href="#k" x="252.0" y="390.3"/>
<use href="#k" x="325.1" y="394.7"/>
<use href="#k" x="161.3" y="394.6"/>
<use href="#k" x="77.8" y="397.5"/>
<use href="#k" x="217.5" y="391.6"/>
<use href="#k" x="180.9" y="396.7"/>
<use href="#k" x="98.9" y="380.5"/>
<use href="#k" x="352.2" y="395.1"/>
<use href="#k" x="233.7" y="394.4"/>
<use href="#k" x="363.9" y="387.4"/>
<use href="#k" x="257.1" y="395.6"/>
<use href="#k" x="119.5" y="391.4"/>
<use href="#k" x="341.0" y="378.1"/>
<use href="#k" x="125.5" y="392.3"/>
<use href="#k" x="308.9" y="396.5"/>
<use href="#k" x="76.2" y="392.2"/>
<use href="#k" x="112.4" y="396.2"/>
<use href="#k" x="347.2" y="397.4"/>
<use href="#k" x="171.2" y="392.6"/>
<use href="#k" x="175.6" y="391.9"/>
<use href="#k" x="229.7" y="384.3"/>
<use href="#k" x="104.3" y="397.4"/>
<use href="#k" x="118.5" y="397.4"/>
<use href="#k" x="273.8" y="390.2"/>
<use href="#k" x="156.5" y="391.4"/>
<use href="#k" x="315.3" y="387.6"/>
<use href="#k" x="320.7" y="397.4"/>
<use href="#k" x="172.3" y="392.1"/>
<use href="#k" x="92.0" y="394.0"/>
<use href="#k" x="306.9" y="397.4"/>
<use href="#k" x="306.5" y="390.0"/>
<use href="#k" x="305.8" y="381.2"/>
<use href="#k" x="218.1" y="395.4"/>
<use href="#k" x="266.9" y="382.0"/>
<use href="#k" x="79.0" y="396.0"/>
<use href="#k" x="230.6" y="386.0"/>
<use href="#k" x="256.6" y="384.2"/>
<use href="#k" x="317.9" y="390.4"/>
<use href="#k" x="161.5" y="395.4"/>
<use href="#k" x="330.5" y="390.4"/>
<use href="#k" x="276.0" y="371.7"/>
<use href="#k" x="247.2" y="397.4"/>
<use href="#k" x="275.2" y="378.1"/>
<use href="#k" x="162.6" y="395.9"/>
<use href="#k" x="308.1" y="391.2"/>
<use href="#k" x="276.7" y="388.4"/>
<use href="#k" x="220.7" y="394.2"/>
<use href="#k" x="205.4" y="396.5"/>
<use href="#k" x="133.7" y="397.5"/>
<use href="#k" x="61.0" y="390.8"/>
<use href="#k" x="204.2" y="382.0"/>
<use href="#k" x="77.8" y="396.6"/>
<use href="#k" x="159.5" y="391.5"/>
<use href="#k" x="168.9" y="396.2"/>
<use href="#k" x="139.9" y="397.1"/>
<use href="#k" x="133.5" y="393.0"/>
<use href="#k" x="103.3" y="397.2"/>
<use href="#k" x="185.1" y="376.6"/>
<use href="#k" x="254.3" y="372.8"/>
<use href="#k" x="305.2" y="391.5"/>
<use href="#k" x="182.3" y="388.7"/>
<use href="#k" x="280.8" y="397.4"/>
<use href="#k" x="177.6" y="396.8"/>
<use href="#k" x="157.5" y="393.1"/>
<use href="#k" x="288.0" y="376.7"/>
<use href="#k" x="296.6" y="397.4"/>
<use href="#k" x="70.7" y="390.7"/>
<use href="#k" x="163.1" y="378.2"/>
<use href="#k" x="284.4" y="383.6"/>
<use href="#k" x="197.0" y="396.8"/>
<use href="#k" x="209.4" y="390.8"/>
<use href="#k" x="359.7" y="381.8"/>
<use href="#k" x="222.0" y="382.3"/>
<use href="#k" x="280.7" y="394.5"/>
<use href="#k" x="215.3" y="384.4"/>
<use href="#k" x="334.0" y="393.6"/>
<use href="#k" x="213.6" y="396.4"/>
<use href="#k" x="354.3" y="395.8"/>
<use href="#k" x="317.5" y="386.3"/>
<use href="#k" x="264.9" y="388.9"/>
<use href="#k" x="185.1" y="393.3"/>
<use href="#k" x="357.0" y="385.3"/>
<use href="#k" x="168.2" y="389.5"/>
<use href="#k" x="62.8" y="395.6"/>
<use href="#k" x="364.3" y="397.5"/>
<use href="#k" x="361.9" y="389.6"/>
<use href="#k" x="282.1" y="396.8"/>
<use href="#k" x="96.7" y="386.6"/>
<use href="#k" x="159.0" y="383.6"/>
<use href="#k" x="250.8" y="397.5"/>
<use href="#k" x="153.0" y="394.7"/>
<use href="#k" x="113.7" y="392.6"/>
<use href="#k" x="113.9" y="391.4"/>
<use href="#k" x="325.7" y="385.1"/>
<use href="#k" x="84.3" y="392.2"/>
<use href="#k" x="130.6" y="396.9"/>
<use href="#k" x="150.5" y="392.8"/>
<use href="#k" x="362.2" y="391.8"/>
<use href="#k" x="315.2" y="382.5"/>
<use href="#k" x="307.2" y="392.7"/>
<use href="#k" x="289.7" y="387.7"/>
<use href="#k" x="76.2" y="397.4"/>
<use href="#k" x="313.3" y="394.0"/>
<use href="#k" x="322.1" y="396.7"/>
<use href="#k" x="124.7" y="395.1"/>
<use href="#k" x="361.1" y="394.1"/>
<use href="#k" x="71.9" y="387.0"/>
<use href="#k" x="75.5" y="392.5"/>
<use href="#k" x="298.8" y="397.3"/>
<use href="#k" x="84.8" y="394.4"/>
<use href="#k" x="114.7" y="394.3"/>
<use href="#k" x="326.9" y="397.1"/>
<use href="#k" x="175.3" y="378.6"/>
<use href="#k" x="359.1" y="381.1"/>
<use href="#k" x="81.8" y="392.7"/>
<use href="#k" x="62.6" y="388.2"/>
<use href="#k" x="270.0" y="391.8"/>
<use href="#k" x="364.3" y="396.0"/>
<use href="#k" x="197.7" y="392.8"/>
<use href="#k" x="90.9" y="394.6"/>
<use href="#k" x="289.0" y="380.9"/>
<use href="#k" x="216.6" y="387.4"/>
<use href="#k" x="66.3" y="383.5"/>
<use href="#k" x="230.6" y="383.6"/>
<use href="#k" x="96.3" y="395.2"/>
<use href="#k" x="281.2" y="394.8"/>
<use href="#k" x="122.1" y="397.0"/>
<use href="#k" x="101.2" y="391.7"/>
<use href="#k" x="349.7" y="392.2"/>
<use href="#k" x="125.4" y="393.3"/>
<use href="#k" x="266.1" y="392.7"/>
<use href="#k" x="340.2" y="396.5"/>
<use href="#k" x="212.2" y="383.0"/>
<use href="#k" x="110.5" y="394.9"/>
<use href="#k" x="66.4" y="397.0"/>
<use href="#k" x="95.0" y="387.2"/>
<use href="#k" x="310.8" y="397.1"/>
<use href="#k" x="355.5" y="397.4"/>
<use href="#k" x="244.2" y="397.0"/>
<use href="#k" x="117.7" y="391.5"/>
<use href="#k" x="218.3" y="374.2"/>
<use href="#k" x="158.7" y="397.3"/>
<use href="#k" x="143.6" y="393.8"/>
<use href="#k" x="239.1" y="396.7"/>
<use href="#k" x="254.0" y="382.6"/>
<use href="#k" x="161.9" y="393.4"/>
<use href="#k" x="213.1" y="385.8"/>
<use href="#k" x="83.4" y="393.5"/>
<use href="#k" x="87.1" y="388.6"/>
<use href="#k" x="187.7" y="392.2"/>
<use href="#k" x="235.5" y="386.5"/>
<use href="#k" x="106.0" y="391.3"/>
<use href="#k" x="76.1" y="394.7"/>
<use href="#k" x="358.5" y="393.9"/>
<use href="#k" x="102.9" y="397.4"/>
<use href="#k" x="80.1" y="397.3"/>
<use href="#k" x="260.3" y="397.5"/>
<use href="#k" x="278.5" y="394.3"/>
<use href="#k" x="86.4" y="397.5"/>
<use href="#k" x="257.3" y="378.0"/>
<use href="#k" x="223.1" y="397.2"/>
<use href="#k" x="355.4" y="392.4"/>
<use href="#k" x="237.3" y="390.2"/>
<use href="#k" x="106.2" y="396.2"/>
<use href="#k" x="231.3" y="391.0"/>
<use href="#k" x="321.7" y="382.3"/>
<use href="#k" x="297.1" y="378.2"/>
<use href="#k" x="243.1" y="387.5"/>
<use href="#k" x="338.5" y="394.2"/>
<use href="#k" x="310.0" y="392.9"/>
<use href="#k" x="251.1" y="388.0"/>
<use href="#k" x="202.2" y="389.5"/>
<use href="#k" x="233.9" y="395.8"/>
<use href="#k" x="336.8" y="395.0"/>
<use href="#k" x="68.8" y="387.2"/>
<use href="#k" x="99.8" y="384.2"/>
<use href="#k" x="206.2" y="392.7"/>
<use href="#k" x="64.3" y="396.8"/>
<use href="#k" x="260.3" y="395.1"/>
<use href="#k" x="194.8" y="391.9"/>
<use href="#k" x="284.1" y="391.1"/>
<use href="#k" x="113.4" y="391.2"/>
<use href="#k" x="241.1" y="379.4"/>
<use href="#k" x="66.3" y="394.5"/>
<use href="#k" x="156.3" y="390.2"/>
<use href="#k" x="136.4" y="395.6"/>
<use href="#k" x="62.4" y="397.5"/>
<use href="#k" x="115.7" y="383.0"/>
<use href="#k" x="106.5" y="394.4"/>
<use href="#k" x="147.8" y="395.6"/>
<use href="#k" x="266.9" y="373.9"/>
<use href="#k" x="249.5" y="394.4"/>
<use href="#k" x="191.5" y="382.8"/>
<use href="#k" x="106.1" y="396.2"/>
<use href="#k" x="293.8" y="394.3"/>
<use href="#k" x="258.2" y="395.2"/>
<use href="#k" x="218.2" y="394.1"/>
<use href="#k" x="92.3" y="391.5"/>
<use href="#k" x="158.0" y="389.8"/>
<use href="#k" x="101.7" y="396.9"/>
<use href="#k" x="117.3" y="397.1"/>
<use href="#k" x="105.1" y="396.9"/>
<use href="#k" x="240.1" y="392.2"/>
<use href="#k" x="205.2" y="391.0"/>
<use href="#k" x="278.1" y="397.4"/>
<use href="#k" x="182.5" y="396.8"/>
<use href="#k" x="138.2" y="396.3"/>
<use href="#k" x="154.9" y="393.1"/>
<use href="#k" x="349.9" y="388.5"/>
<use href="#k" x="245.5" y="396.2"/>
<use href="#k" x="101.5" y="386.8"/>
<use href="#k" x="121.2" y="390.7"/>
<use href="#k" x="243.9" y="389.9"/>
<use href="#k" x="193.5" y="392.9"/>
<use href="#k" x="339.8" y="389.1"/>
<use href="#k" x="122.1" y="389.7"/>
<use href="#k" x="359.4" y="387.4"/>
<use href="#k" x="343.6" y="387.8"/>
<use href="#k" x="178.3" y="391.0"/>
<use href="#k" x="70.3" y="389.3"/>
<use href="#k" x="214.1" y="393.9"/>
<use href="#k" x="195.5" y="379.8"/>
<use href="#k" x="337.4" y="379.9"/>
<use href="#k" x="204.7" y="383.4"/>
<use href="#k" x="137.7" y="395.1"/>
<use href="#k" x="328.3" y="389.3"/>
<use href="#k" x="69.2" y="395.2"/>
<use href="#k" x="122.4" y="390.6"/>
<use href="#k" x="63.4" y="390.2"/>
<use href="#k" x="177.5" y="392.6"/>
<use href="#k" x="165.0" y="395.4"/>
<use href="#k" x="336.8" y="392.2"/>
<use href="#k" x="275.1" y="394.6"/>
<use href="#k" x="312.6" y="386.7"/>
<use href="#k" x="313.3" y="393.4"/>
<use href="#k" x="265.0" y="378.1"/>
<use href="#k" x="126.6" y="390.6"/>
<use href="#k" x="366.3" y="397.0"/>
<use href="#k" x="124.4" y="396.8"/>
<use href="#k" x="162.1" y="393.0"/>
<use href="#k" x="344.4" y="395.5"/>
<use href="#k" x="270.1" y="378.1"/>
<use href="#k" x="331.9" y="387.1"/>
<use href="#k" x="336.2" y="392.8"/>
<use href="#k" x="140.1" y="394.9"/>
<use href="#k" x="266.1" y="371.6"/>
<use href="#k" x="300.8" y="390.7"/>
<use href="#k" x="181.8" y="388.6"/>
<use href="#k" x="129.4" y="393.0"/>
<use href="#k" x="318.1" y="380.8"/>
<use href="#k" x="183.1" y="396.9"/>
<use href="#k" x="222.2" y="389.5"/>
<use href="#k" x="73.4" y="388.5"/>
<use href="#k" x="332.3" y="395.5"/>
<use href="#k" x="199.8" y="385.3"/>
<use href="#k" x="234.3" y="397.1"/>
<use href="#k" x="240.6" y="396.8"/>
<use href="#k" x="341.2" y="396.0"/>
<use href="#k" x="353.9" y="394.7"/>
<use href="#k" x="340.8" y="392.8"/>
<use href="#k" x="203.0" y="389.0"/>
<use href="#k" x="228.9" y="384.2"/>
<use href="#k" x="216.3" y="389.9"/>
<use href="#k" x="265.6" y="370.4"/>
<use href="#k" x="288.2" y="390.7"/>
<use href="#k" x="348.7" y="380.7"/>
<use href="#k" x="310.5" y="397.4"/>
<use href="#k" x="90.4" y="392.5"/>
<use href="#k" x="353.7" y="397.1"/>
<use href="#k" x="190.2" y="378.8"/>
<use href="#k" x="103.3" y="390.6"/>
<use href="#k" x="310.4" y="389.5"/>
<use href="#k" x="103.7" y="390.0"/>
<use href="#k" x="282.6" y="373.9"/>
<use href="#k" x="282.9" y="386.1"/>
<use href="#k" x="129.5" y="388.5"/>
<use href="#k" x="116.4" y="397.4"/>
<use href="#k" x="156.6" y="394.8"/>
<use href="#k" x="235.1" y="389.1"/>
<use href="#k" x="147.3" y="385.4"/>
<use href="#k" x="222.5" y="396.1"/>
<use href="#k" x="155.8" y="391.9"/>
<use href="#k" x="333.0" y="394.3"/>
<use href="#k" x="359.3" y="393.8"/>
<use href="#k" x="359.3" y="396.1"/>
<use href="#k" x="175.1" y="383.6"/>
<use href="#k" x="281.0" y="383.0"/>
<use href="#k" x="82.4" y="391.3"/>
<use href="#k" x="290.8" y="391.8"/>
<use href="#k" x="361.7" y="382.6"/>
<use href="#k" x="303.9" y="389.0"/>
<use href="#k" x="129.3" y="393.4"/>
<use href="#k" x="168.1" y="386.0"/>
<use href="#k" x="275.5" y="394.8"/>
<use href="#k" x="302.6" y="385.8"/>
<use href="#k" x="249.7" y="390.3"/>
<use href="#k" x="226.9" y="390.3"/>
<use href="#k" x="98.1" y="387.9"/>
<use href="#k" x="240.0" y="372.0"/>
<use href="#k" x="307.8" y="396.4"/>
<use href="#k" x="326.6" y="386.2"/>
<use href="#k" x="129.4" y="393.3"/>
<use href="#k" x="298.8" y="391.2"/>
<use href="#k" x="268.5" y="395.1"/>
<use href="#k" x="149.7" y="396.5"/>
<use href="#k" x="299.9" y="372.8"/>
<use href="#k" x="208.3" y="390.5"/>
<use href="#k" x="276.8" y="387.8"/>
<use href="#k" x="324.9" y="394.2"/>
<use href="#k" x="244.7" y="386.5"/>
<use href="#k" x="248.5" y="385.0"/>
<use href="#k" x="94.7" y="388.7"/>
<use href="#k" x="94.5" y="387.8"/>
<use href="#k" x="173.9" y="393.8"/>
<use href="#k" x="222.5" y="397.5"/>
<use href="#k" x="364.4" y="397.1"/>
<use href="#k" x="220.2" y="397.5"/>
<use href="#k" x="359.7" y="397.1"/>
<use href="#k" x="274.8" y="382.1"/>
<use href="#k" x="123.4" y="387.1"/>
<use href="#k" x="94.1" y="389.2"/>
<use href="#k" x="236.9" y="376.1"/>
<use href="#k" x="258.9" y="384.5"/>
<use href="#k" x="273.7" y="395.3"/>
<use href="#k" x="184.9" y="390.9"/>
<use href="#k" x="346.3" y="381.8"/>
<use href="#k" x="104.5" y="396.7"/>
<use href="#k" x="337.6" y="375.0"/>
<use href="#k" x="133.2" y="391.9"/>
<use href="#k" x="208.2" y="381.6"/>
<use href="#k" x="295.8" y="395.5"/>
<use href="#k" x="329.7" y="382.1"/>
<use href="#k" x="182.2" y="393.0"/>
<use href="#k" x="142.6" y="397.1"/>
<use href="#k" x="274.3" y="379.3"/>
<use href="#k" x="304.0" y="394.1"/>
<use href="#k" x="347.3" y="391.3"/>
<use href="#k" x="319.9" y="395.7"/>
<use href="#k" x="323.3" y="385.0"/>
<use href="#k" x="102.0" y="396.1"/>
<use href="#k" x="216.4" y="386.0"/>
<use href="#k" x="345.8" y="383.0"/>
<use href="#k" x="263.3" y="394.2"/>
<use href="#k" x="172.7" y="382.9"/>
<use href="#k" x="322.0" y="392.2"/>
<use href="#k" x="65.1" y="390.8"/>
<use href="#k" x="202.3" y="380.1"/>
<use href="#k" x="151.0" y="385.4"/>
<use href="#k" x="70.8" y="396.6"/>
<use href="#k" x="85.5" y="394.4"/>
<use href="#k" x="314.8" y="388.6"/>
<use href="#k" x="202.4" y="389.5"/>
<use href="#k" x="307.9" y="386.3"/>
<use href="#k" x="359.3" y="397.4"/>
<use href="#k" x="169.3" y="391.5"/>
<use href="#k" x="365.9" y="397.2"/>
<use href="#k" x="156.5" y="386.8"/>
<use href="#k" x="195.4" y="379.2"/>
<use href="#k" x="335.5" y="394.6"/>
<use href="#k" x="278.8" y="386.3"/>
<use href="#k" x="114.7" y="389.6"/>
<use href="#k" x="202.0" y="388.0"/>
<use href="#k" x="225.0" y="396.0"/>
<use href="#k" x="208.0" y="394.4"/>
<use href="#k" x="64.6" y="388.1"/>
<use href="#k" x="133.6" y="397.2"/>
<use href="#k" x="65.3" y="397.0"/>
<use href="#k" x="203.2" y="397.1"/>
<use href="#k" x="261.9" y="392.8"/>
<use href="#k" x="84.7" y="390.7"/>
<use href="#k" x="113.8" y="388.8"/>
<use href="#k" x="223.7" y="397.4"/>
<use href="#k" x="241.3" y="377.1"/>
<use href="#k" x="269.3" y="380.7"/>
<use href="#k" x="323.6" y="397.5"/>
<use href="#k" x="327.2" y="395.9"/>
<use href="#k" x="81.0" y="387.5"/>
<use href="#k" x="153.5" y="390.8"/>
<use href="#k" x="173.8" y="394.1"/>
<use href="#k" x="65.8" y="387.0"/>
<use href="#k" x="320.4" y="391.9"/>
<use href="#k" x="278.6" y="390.7"/>
<use href="#k" x="183.7" y="394.4"/>
<use href="#k" x="146.6" y="396.1"/>
<use href="#k" x="278.3" y="382.3"/>
<use href="#k" x="78.7" y="389.5"/>
<use href="#k" x="322.0" y="383.4"/>
<use href="#k" x="338.4" y="388.6"/>
<use href="#k" x="130.9" y="390.0"/>
<use href="#k" x="222.0" y="396.5"/>
<use href="#k" x="200.2" y="395.1"/>
<use href="#k" x="306.1" y="397.1"/>
<use href="#k" x="275.3" y="379.4"/>
<use href="#k" x="234.7" y="382.6"/>
<use href="#k" x="143.9" y="387.5"/>
<use href="#k" x="129.5" y="396.6"/>
<use href="#k" x="359.2" y="387.0"/>
<use href="#k" x="238.0" y="396.0"/>
<use href="#k" x="301.6" y="379.6"/>
<use href="#k" x="112.8" y="392.9"/>
<use href="#k" x="89.0" y="387.1"/>
<use href="#k" x="319.4" y="387.9"/>
<use href="#k" x="360.5" y="387.2"/>
<use href="#k" x="179.5" y="394.5"/>
<use href="#k" x="299.4" y="396.8"/>
<use href="#k" x="331.2" y="389.6"/>
<use href="#k" x="266.1" y="371.3"/>
<use href="#k" x="326.2" y="391.9"/>
<use href="#k" x="176.9" y="396.6"/>
<use href="#k" x="120.5" y="391.9"/>
<use href="#k" x="341.5" y="396.4"/>
<use href="#k" x="197.8" y="379.5"/>
<use href="#k" x="286.4" y="393.2"/>
<use href="#k" x="292.1" y="381.6"/>
<use href="#k" x="62.3" y="387.0"/>
<use href="#k" x="150.9" y="386.2"/>
<use href="#k" x="199.9" y="384.3"/>
<use href="#k" x="259.9" y="383.4"/>
<use href="#k" x="251.7" y="397.4"/>
<use href="#k" x="326.2" y="385.6"/>
<use href="#k" x="108.7" y="395.9"/>
<use href="#k" x="171.9" y="396.3"/>
<use href="#k" x="71.4" y="388.6"/>
<use href="#k" x="177.0" y="392.7"/>
<use href="#k" x="356.4" y="396.7"/>
<use href="#k" x="178.5" y="381.3"/>
<use href="#k" x="207.5" y="380.1"/>
<use href="#k" x="109.9" y="388.0"/>
<use href="#k" x="296.8" y="393.0"/>
<use href="#k" x="259.2" y="389.4"/>
<use href="#k" x="63.9" y="383.8"/>
<use href="#k" x="216.1" y="389.7"/>
<use href="#k" x="135.2" y="391.2"/>
<use href="#k" x="121.9" y="391.2"/>
<use href="#k" x="218.8" y="381.4"/>
<use href="#k" x="205.6" y="381.0"/>
<use href="#k" x="229.3" y="385.1"/>
<use href="#k" x="364.4" y="396.7"/>
<use href="#k" x="348.8" y="397.4"/>
<use href="#k" x="343.9" y="383.1"/>
<use href="#k" x="281.1" y="397.1"/>
<use href="#k" x="168.7" y="397.0"/>
<use href="#k" x="343.8" y="396.1"/>
<use href="#k" x="215.0" y="395.3"/>
<use href="#k" x="102.5" y="394.3"/>
<use href="#k" x="188.4" y="383.6"/>
<use href="#k" x="246.1" y="388.4"/>
<use href="#k" x="204.3" y="380.5"/>
<use href="#k" x="83.0" y="395.9"/>
<use href="#k" x="197.1" y="386.8"/>
<use href="#k" x="71.7" y="393.9"/>
<use href="#k" x="193.5" y="395.1"/>
<use href="#k" x="117.7" y="396.2"/>
<use href="#k" x="309.3" y="386.4"/>
<use href="#k" x="66.6" y="393.8"/>
<use href="#k" x="283.9" y="387.7"/>
<use href="#k" x="217.2" y="395.3"/>
<use href="#k" x="246.8" y="385.0"/>
<use href="#k" x="327.9" y="396.4"/>
<use href="#k" x="271.9" y="385.6"/>
<use href="#k" x="333.8" y="382.1"/>
<use href="#k" x="352.7" y="387.2"/>
<use href="#k" x="176.8" y="390.5"/>
<use href="#k" x="281.1" y="381.3"/>
<use href="#k" x="166.6" y="396.8"/>
<use href="#k" x="110.0" y="390.7"/>
<use href="#k" x="336.9" y="392.6"/>
<use href="#k" x="126.3" y="393.6"/>
<use href="#k" x="321.7" y="395.6"/>
<use href="#k" x="251.1" y="395.8"/>
<use href="#k" x="276.3" y="391.5"/>
<use href="#k" x="267.9" y="383.1"/>
<use href="#k" x="175.5" y="387.8"/>
<use href="#k" x="354.9" y="397.4"/>
<use href="#k" x="251.6" y="381.9"/>
<use href="#k" x="70.0" y="389.7"/>
<use href="#k" x="177.3" y="397.0"/>
<use href="#k" x="146.0" y="396.5"/>
<use href="#k" x="283.2" y="376.8"/>
<use href="#k" x="295.0" y="371.0"/>
<use href="#k" x="312.5" y="394.1"/>
<use href="#k" x="112.2" y="394.2"/>
<use href="#k" x="76.3" y="389.7"/>
<use href="#k" x="114.2" y="392.8"/>
<use href="#k" x="242.2" y="387.3"/>
<use href="#k" x="83.8" y="391.7"/>
<use href="#k" x="264.1" y="393.5"/>
<use href="#k" x="337.1" y="395.4"/>
<use href="#k" x="63.8" y="397.2"/>
<use href="#k" x="272.1" y="391.9"/>
<use href="#k" x="241.3" y="397.0"/>
<use href="#k" x="340.5" y="391.2"/>
<use href="#k" x="349.4" y="384.8"/>
<use href="#k" x="143.9" y="390.7"/>
<use href="#k" x="116.9" y="396.5"/>
<use href="#k" x="359.5" y="380.7"/>
<use href="#k" x="72.1" y="389.2"/>
<use href="#k" x="340.8" y="382.3"/>
<use href="#k" x="121.4" y="392.5"/>
<use href="#k" x="184.5" y="380.9"/>
<use href="#k" x="69.9" y="390.2"/>
<use href="#k" x="163.6" y="394.0"/>
<use href="#k" x="365.2" y="397.4"/>
<use href="#k" x="119.5" y="396.3"/>
<use href="#k" x="284.3" y="394.2"/>
<use href="#k" x="87.4" y="396.5"/>
<use href="#k" x="223.8" y="396.7"/>
<use href="#k" x="102.2" y="397.1"/>
<use href="#k" x="194.6" y="385.7"/>
<use href="#k" x="353.9" y="397.1"/>
<use href="#k" x="329.1" y="397.5"/>
<use href="#k" x="71.5" y="393.2"/>
<use href="#k" x="215.2" y="396.5"/>
<use href="#k" x="353.1" y="384.6"/>
<use href="#k" x="97.3" y="397.2"/>
<use href="#k" x="112.7" y="395.4"/>
<use href="#k" x="203.4" y="397.1"/>
<use href="#k" x="276.8" y="390.9"/>
<use href="#k" x="308.3" y="397.4"/>
<use href="#k" x="86.7" y="393.4"/>
<use href="#k" x="158.0" y="392.2"/>
<use href="#k" x="212.9" y="396.7"/>
<use href="#k" x="344.9" y="392.0"/>
<use href="#k" x="170.7" y="383.2"/>
<use href="#k" x="71.2" y="394.9"/>
<use href="#k" x="80.2" y="397.2"/>
<use href="#k" x="287.1" y="373.6"/>
<use href="#k" x="329.7" y="388.0"/>
<use href="#k" x="317.5" y="397.3"/>
<use href="#k" x="359.7" y="381.2"/>
<use href="#k" x="140.5" y="389.4"/>
<use href="#k" x="306.2" y="396.0"/>
<use href="#k" x="128.2" y="393.0"/>
<use href="#k" x="103.8" y="397.1"/>
<use href="#k" x="262.8" y="385.2"/>
<use href="#k" x="315.7" y="386.1"/>
<use href="#k" x="106.4" y="390.1"/>
<use href="#k" x="241.0" y="391.0"/>
<use href="#k" x="147.0" y="390.9"/>
<use href="#k" x="219.7" y="377.3"/>
<use href="#k" x="289.0" y="389.1"/>
<use href="#k" x="204.7" y="397.4"/>
<use href="#k" x="316.5" y="382.3"/>
<use href="#k" x="251.3" y="397.5"/>
<use href="#k" x="61.6" y="394.8"/>
<use href="#k" x="328.1" y="392.2"/>
<use href="#k" x="215.2" y="382.7"/>
<use href="#k" x="288.6" y="391.0"/>
<use href="#k" x="154.9" y="397.2"/>
<use href="#k" x="314.9" y="389.0"/>
<use href="#k" x="193.8" y="393.0"/>
<use href="#k" x="263.1" y="389.3"/>
<use href="#k" x="327.4" y="391.8"/>
<use href="#k" x="78.4" y="396.0"/>
<use href="#k" x="215.4" y="396.2"/>
<use href="#k" x="276.8" y="397.4"/>
<use href="#k" x="136.2" y="394.1"/>
<use href="#k" x="148.7" y="386.9"/>
<use href="#k" x="350.4" y="388.8"/>
<use href="#k" x="164.7" y="396.5"/>
<use href="#k" x="65.9" y="394.9"/>
<use href="#k" x="83.1" y="392.8"/>
<use href="#k" x="215.4" y="379.8"/>
<use href="#k" x="304.0" y="396.0"/>
<use href="#k" x="87.3" y="394.9"/>
<use href="#k" x="128.6" y="396.1"/>
<use href="#k" x="125.5" y="397.3"/>
<use href="#k" x="115.6" y="389.8"/>
<use href="#k" x="144.4" y="396.4"/>
<use href="#k" x="239.3" y="389.0"/>
<use href="#k" x="289.3" y="387.6"/>
<use href="#k" x="221.2" y="396.3"/>
<use href="#k" x="80.6" y="396.6"/>
<use href="#k" x="300.3" y="392.4"/>
<use href="#k" x="185.7" y="394.5"/>
<use href="#k" x="180.3" y="377.3"/>
<use href="#k" x="349.4" y="394.8"/>
<use href="#k" x="202.0" y="396.5"/>
<use href="#k" x="223.9" y="377.7"/>
<use href="#k" x="341.2" y="385.3"/>
<use href="#k" x="260.9" y="374.6"/>
<use href="#k" x="140.0" y="393.9"/>
<use href="#k" x="75.6" y="388.0"/>
<use href="#k" x="235.9" y="380.3"/>
<use href="#k" x="352.0" y="394.9"/>
<use href="#k" x="278.2" y="397.4"/>
<use href="#k" x="139.0" y="390.4"/>
<use href="#k" x="297.0" y="389.4"/>
<use href="#k" x="78.6" y="393.0"/>
<use href="#k" x="129.9" y="388.6"/>
<use href="#k" x="173.6" y="383.5"/>
<use href="#k" x="236.7" y="397.1"/>
<use href="#k" x="278.3" y="380.8"/>
<use href="#k" x="189.1" y="397.5"/>
<use href="#k" x="125.7" y="395.7"/>
<use href="#k" x="363.5" y="392.6"/>
<use href="#k" x="238.0" y="381.8"/>
<use href="#k" x="98.6" y="396.0"/>
<use href="#k" x="309.8" y="392.1"/>
<use href="#k" x="150.6" y="389.6"/>
<use href="#k" x="262.3" y="375.6"/>
<use href="#k" x="363.5" y="391.5"/>
<use href="#k" x="116.9" y="390.8"/>
<use href="#k" x="239.7" y="395.5"/>
<use href="#k" x="75.4" y="390.1"/>
<use href="#k" x="266.3" y="390.1"/>
<use href="#k" x="166.8" y="396.4"/>
<use href="#k" x="69.1" y="391.1"/>
<use href="#k" x="123.9" y="392.1"/>
<use href="#k" x="229.4" y="392.2"/>
<use href="#k" x="126.3" y="391.4"/>
<use href="#k" x="190.2" y="389.6"/>
<use href="#k" x="215.0" y="395.6"/>
<use href="#k" x="362.1" y="396.2"/>
<use href="#k" x="208.2" y="389.1"/>
<use href="#k" x="321.0" y="382.0"/>
<use href="#k" x="92.8" y="395.0"/>
<use href="#k" x="119.2" y="396.5"/>
<use href="#k" x="256.7" y="396.0"/>
<use href="#k" x="150.0" y="394.7"/>
<use href="#k" x="214.9" y="377.5"/>
<use href="#k" x="239.7" y="394.2"/>
<use href="#k" x="157.6" y="396.1"/>
<use href="#k" x="279.4" y="386.6"/>
<use href="#k" x="333.3" y="386.8"/>
<use href="#k" x="277.9" y="385.3"/>
<use href="#k" x="69.3" y="387.1"/>
<use href="#k" x="160.0" y="383.6"/>
<use href="#k" x="289.0" y="386.8"/>
<use href="#k" x="151.5" y="391.8"/>
<use href="#k" x="66.6" y="390.3"/>
<use href="#k" x="328.0" y="394.4"/>
<use href="#k" x="226.0" y="396.3"/>
<use href="#k" x="137.9" y="393.2"/>
<use href="#k" x="327.2" y="387.5"/>
<use href="#k" x="171.9" y="395.1"/>
<use href="#k" x="189.7" y="379.1"/>
<use href="#k" x="108.1" y="395.4"/>
<use href="#k" x="222.0" y="396.9"/>
<use href="#k" x="172.8" y="383.6"/>
<use href="#k" x="205.4" y="379.6"/>
<use href="#k" x="279.9" y="373.5"/>
<use href="#k" x="143.2" y="391.9"/>
<use href="#k" x="362.9" y="388.3"/>
<use href="#k" x="295.3" y="381.9"/>
<use href="#k" x="193.8" y="397.3"/>
<use href="#k" x="251.8" y="393.5"/>
<use href="#k" x="219.1" y="377.0"/>
<use href="#k" x="153.8" y="390.4"/>
<use href="#k" x="236.0" y="388.8"/>
<use href="#k" x="119.4" y="391.8"/>
<use href="#k" x="263.1" y="373.8"/>
<use href="#k" x="76.3" y="396.0"/>
<use href="#k" x="241.0" y="394.2"/>
<use href="#k" x="243.6" y="393.1"/>
<use href="#k" x="242.6" y="395.1"/>
<use href="#k" x="125.7" y="395.7"/>
<use href="#k" x="179.8" y="381.1"/>
<use href="#k" x="307.1" y="397.1"/>
<use href="#k" x="97.7" y="397.3"/>
<use href="#k" x="168.8" y="392.0"/>
<use href="#k" x="325.2" y="383.5"/>
<use href="#k" x="239.6" y="387.3"/>
<use href="#k" x="349.1" y="383.5"/>
<use href="#k" x="93.5" y="393.4"/>
<use href="#k" x="275.2" y="375.6"/>
<use href="#k" x="299.8" y="397.5"/>
<use href="#k" x="75.4" y="387.3"/>
<use href="#k" x="133.4" y="395.4"/>
<use href="#k" x="135.4" y="393.6"/>
<use href="#k" x="112.9" y="379.6"/>
<use href="#k" x="158.1" y="386.2"/>
<use href="#k" x="363.2" y="396.8"/>
<use href="#k" x="300.9" y="397.0"/>
<use href="#k" x="261.9" y="396.9"/>
<use href="#k" x="260.1" y="382.8"/>
<use href="#k" x="249.3" y="386.5"/>
<use href="#k" x="339.3" y="386.1"/>
<use href="#k" x="157.3" y="390.8"/>
<use href="#k" x="117.8" y="390.5"/>
<use href="#k" x="345.9" y="396.1"/>
<use href="#k" x="321.7" y="382.0"/>
<use href="#k" x="61.6" y="389.2"/>
<use href="#k" x="316.6" y="384.2"/>
<use href="#k" x="68.1" y="396.1"/>
<use href="#k" x="105.3" y="389.3"/>
<use href="#k" x="261.7" y="363.9"/>
<use href="#k" x="110.9" y="389.2"/>
<use href="#k" x="183.7" y="380.2"/>
<use href="#k" x="105.8" y="390.7"/>
<use href="#k" x="341.7" y="386.8"/>
<use href="#k" x="256.9" y="385.8"/>
<use href="#k" x="306.7" y="394.2"/>
<use href="#k" x="110.8" y="392.5"/>
<use href="#k" x="109.8" y="390.9"/>
<use href="#k" x="222.2" y="384.5"/>
<use href="#k" x="361.4" y="395.4"/>
<use href="#k" x="88.4" y="389.4"/>
<use href="#k" x="95.9" y="390.9"/>
<use href="#k" x="149.8" y="396.3"/>
<use href="#k" x="211.6" y="396.3"/>
<use href="#k" x="64.1" y="395.5"/>
<use href="#k" x="87.4" y="395.4"/>
<use href="#k" x="265.0" y="384.7"/>
<use href="#k" x="363.1" y="396.3"/>
<use href="#k" x="120.1" y="387.4"/>
<use href="#k" x="343.4" y="393.6"/>
<use href="#k" x="262.6" y="392.4"/>
<use href="#k" x="333.9" y="394.1"/>
<use href="#k" x="211.9" y="397.0"/>
<use href="#k" x="248.8" y="386.4"/>
<use href="#k" x="161.9" y="394.3"/>
<use href="#k" x="354.8" y="392.2"/>
<use href="#k" x="152.6" y="396.5"/>
<use href="#k" x="118.3" y="395.4"/>
<use href="#k" x="165.2" y="397.5"/>
<use href="#k" x="154.2" y="392.4"/>
<use href="#k" x="301.6" y="381.9"/>
<use href="#k" x="310.4" y="393.7"/>
<use href="#k" x="242.4" y="383.4"/>
<use href="#k" x="253.2" y="372.5"/>
<use href="#k" x="76.9" y="396.3"/>
<use href="#k" x="352.6" y="378.5"/>
<use href="#k" x="140.3" y="397.4"/>
<use href="#k" x="125.3" y="397.4"/>
<use href="#k" x="88.9" y="388.4"/>
<use href="#k" x="112.7" y="390.4"/>
<use href="#k" x="66.8" y="387.4"/>
<use href="#k" x="283.8" y="384.0"/>
<use href="#k" x="263.5" y="384.2"/>
<use href="#k" x="361.5" y="395.6"/>
<use href="#k" x="337.1" y="381.9"/>
<use href="#k" x="241.8" y="371.2"/>
<use href="#k" x="240.5" y="393.6"/>
<use href="#k" x="177.5" y="387.0"/>
<use href="#k" x="204.5" y="380.2"/>
<use href="#k" x="239.0" y="376.0"/>
<use href="#k" x="155.5" y="397.2"/>
<use href="#k" x="88.5" y="390.5"/>
<use href="#k" x="263.8" y="395.9"/>
<use href="#k" x="209.1" y="397.5"/>
<use href="#k" x="330.8" y="385.4"/>
<use href="#k" x="334.3" y="395.7"/>
<use href="#k" x="235.8" y="390.1"/>
<use href="#k" x="188.0" y="388.4"/>
<use href="#k" x="107.6" y="395.7"/>
<use href="#k" x="259.5" y="396.4"/>
<use href="#k" x="362.5" y="396.8"/>
<use href="#k" x="270.3" y="378.0"/>
<use href="#k" x="165.4" y="394.7"/>
<use href="#k" x="133.6" y="394.6"/>
<use href="#k" x="133.2" y="390.3"/>
<use href="#k" x="119.8" y="385.7"/>
<use href="#k" x="112.1" y="390.6"/>
<use href="#k" x="259.9" y="384.0"/>
<use href="#k" x="214.0" y="383.1"/>
<use href="#k" x="317.2" y="395.8"/>
<use href="#k" x="268.7" y="378.7"/>
<use href="#k" x="183.7" y="395.7"/>
<use href="#k" x="211.8" y="378.2"/>
<use href="#k" x="245.7" y="395.2"/>
<use href="#k" x="266.2" y="387.5"/>
<use href="#k" x="235.9" y="393.0"/>
<use href="#k" x="268.4" y="371.6"/>
<use href="#k" x="251.5" y="397.2"/>
<use href="#k" x="223.2" y="381.5"/>
<use href="#k" x="138.2" y="396.2"/>
<use href="#k" x="178.0" y="397.4"/>
<use href="#k" x="354.9" y="390.5"/>
<use href="#k" x="97.3" y="392.4"/>
<use href="#k" x="230.9" y="394.8"/>
<use href="#k" x="289.4" y="377.1"/>
<use href="#k" x="236.6" y="391.7"/>
<use href="#k" x="188.5" y="392.4"/>
<use href="#k" x="190.1" y="383.6"/>
<use href="#k" x="292.6" y="385.5"/>
<use href="#k" x="290.3" y="372.6"/>
<use href="#k" x="161.5" y="396.2"/>
<use href="#k" x="284.1" y="374.9"/>
<use href="#k" x="115.4" y="397.4"/>
<use href="#k" x="292.0" y="372.7"/>
<use href="#k" x="145.1" y="386.6"/>
<use href="#k" x="237.3" y="397.3"/>
<use href="#k" x="203.7" y="379.3"/>
<use href="#k" x="64.0" y="391.1"/>
<use href="#k" x="345.1" y="374.9"/>
<use href="#k" x="80.5" y="395.1"/>
<use href="#k" x="72.5" y="394.3"/>
<use href="#k" x="296.5" y="393.3"/>
<use href="#k" x="136.4" y="393.9"/>
<use href="#k" x="334.0" y="396.1"/>
<use href="#k" x="66.3" y="394.2"/>
<use href="#k" x="260.6" y="395.3"/>
<use href="#k" x="243.2" y="389.7"/>
<use href="#k" x="348.4" y="397.4"/>
<use href="#k" x="106.4" y="392.4"/>
<use href="#k" x="306.8" y="395.1"/>
<use href="#k" x="126.1" y="394.4"/>
<use href="#k" x="243.7" y="396.4"/>
<use href="#k" x="178.7" y="393.1"/>
<use href="#k" x="192.0" y="382.2"/>
<use href="#k" x="237.9" y="392.4"/>
<use href="#k" x="253.4" y="374.1"/>
<use href="#k" x="299.0" y="377.2"/>
<use href="#k" x="70.7" y="387.4"/>
<use href="#k" x="174.1" y="390.9"/>
<use href="#k" x="183.7" y="388.4"/>
<use href="#k" x="80.0" y="391.1"/>
<use href="#k" x="320.2" y="386.8"/>
<use href="#k" x="287.9" y="393.0"/>
<use href="#k" x="309.4" y="395.8"/>
<use href="#k" x="67.0" y="394.7"/>
<use href="#k" x="203.7" y="386.2"/>
<use href="#k" x="323.6" y="386.1"/>
<use href="#k" x="177.2" y="391.9"/>
<use href="#k" x="359.0" y="394.5"/>
<use href="#k" x="137.0" y="396.6"/>
<use href="#k" x="187.9" y="380.4"/>
<use href="#k" x="227.7" y="396.1"/>
<use href="#k" x="199.6" y="392.0"/>
<use href="#k" x="154.9" y="391.4"/>
<use href="#k" x="338.1" y="389.9"/>
<use href="#k" x="235.5" y="394.2"/>
<use href="#k" x="219.4" y="380.8"/>
<use href="#k" x="214.1" y="377.4"/>
<use href="#k" x="98.1" y="390.4"/>
<use href="#k" x="334.7" y="376.8"/>
<use href="#k" x="159.3" y="385.1"/>
<use href="#k" x="159.2" y="393.0"/>
<use href="#k" x="107.5" y="395.1"/>
<use href="#k" x="347.7" y="394.5"/>
<use href="#k" x="97.2" y="388.0"/>
<use href="#k" x="76.7" y="396.2"/>
<use href="#k" x="292.2" y="376.1"/>
<use href="#k" x="115.0" y="392.2"/>
<use href="#k" x="96.5" y="395.7"/>
<use href="#k" x="107.4" y="386.4"/>
<use href="#k" x="272.8" y="397.2"/>
<use href="#k" x="66.1" y="395.7"/>
<use href="#k" x="73.3" y="396.6"/>
<use href="#k" x="133.9" y="395.3"/>
<use href="#k" x="104.4" y="394.9"/>
<use href="#k" x="184.3" y="389.7"/>
<use href="#k" x="190.6" y="380.1"/>
<use href="#k" x="151.9" y="392.5"/>
<use href="#k" x="365.1" y="391.6"/>
<use href="#k" x="307.5" y="388.0"/>
<use href="#k" x="119.1" y="379.1"/>
<use href="#k" x="260.4" y="380.6"/>
<use href="#k" x="339.4" y="389.4"/>
<use href="#k" x="283.8" y="372.2"/>
<use href="#k" x="84.1" y="387.4"/>
<use href="#k" x="362.2" y="385.9"/>
<use href="#k" x="319.7" y="395.8"/>
<use href="#k" x="266.6" y="373.1"/>
<use href="#k" x="338.7" y="394.4"/>
<use href="#k" x="226.8" y="395.7"/>
<use href="#k" x="202.5" y="385.8"/>
<use href="#k" x="255.3" y="396.2"/>
<use href="#k" x="324.8" y="396.7"/>
<use href="#k" x="71.0" y="392.2"/>
<use href="#k" x="257.7" y="397.4"/>
<use href="#k" x="118.4" y="390.9"/>
<use href="#k" x="348.8" y="384.0"/>
<use href="#k" x="190.6" y="386.5"/>
<use href="#k" x="255.4" y="392.1"/>
<use href="#k" x="241.5" y="380.2"/>
<use href="#k" x="261.4" y="374.5"/>
<use href="#k" x="102.5" y="390.9"/>
<use href="#k" x="87.9" y="396.3"/>
<use href="#k" x="195.8" y="388.0"/>
<use href="#k" x="73.2" y="397.3"/>
<use href="#k" x="332.5" y="396.9"/>
<use href="#k" x="117.6" y="396.7"/>
<use href="#k" x="97.0" y="386.6"/>
<use href="#k" x="321.8" y="380.3"/>
<use href="#k" x="304.2" y="378.6"/>
<use href="#k" x="67.4" y="394.1"/>
<use href="#k" x="85.1" y="397.4"/>
<use href="#k" x="101.7" y="397.2"/>
<use href="#k" x="347.4" y="387.3"/>
<use href="#k" x="335.3" y="380.2"/>
<use href="#k" x="113.5" y="396.1"/>
<use href="#k" x="91.1" y="388.2"/>
<use href="#k" x="86.2" y="396.0"/>
<use href="#k" x="83.5" y="393.8"/>
<use href="#k" x="104.4" y="389.2"/>
<use href="#k" x="223.1" y="392.7"/>
<use href="#k" x="75.1" y="386.9"/>
<use href="#k" x="78.4" y="392.4"/>
<use href="#k" x="273.5" y="390.5"/>
<use href="#k" x="85.1" y="394.4"/>
<use href="#k" x="292.4" y="381.2"/>
<use href="#k" x="310.5" y="387.8"/>
<use href="#k" x="308.0" y="388.2"/>
<use href="#k" x="128.4" y="394.1"/>
<use href="#k" x="352.7" y="380.1"/>
<use href="#k" x="114.0" y="394.4"/>
<use href="#k" x="176.0" y="385.5"/>
<use href="#k" x="77.1" y="394.8"/>
<use href="#k" x="352.7" y="388.6"/>
<use href="#k" x="150.9" y="396.7"/>
<use href="#k" x="305.4" y="395.3"/>
<use href="#k" x="289.5" y="383.9"/>
<use href="#k" x="130.3" y="396.2"/>
<use href="#k" x="324.0" y="393.6"/>
<use href="#k" x="284.0" y="387.8"/>
<use href="#k" x="266.8" y="391.9"/>
<use href="#k" x="140.2" y="391.3"/>
<use href="#k" x="280.1" y="396.7"/>
<use href="#k" x="235.5" y="397.1"/>
<use href="#k" x="84.0" y="393.7"/>
<use href="#k" x="296.0" y="385.0"/>
<use href="#k" x="346.9" y="394.8"/>
<use href="#k" x="210.4" y="396.0"/>
<use href="#k" x="255.5" y="395.0"/>
<use href="#k" x="328.1" y="385.3"/>
<use href="#k" x="104.6" y="395.9"/>
<use href="#k" x="254.3" y="372.5"/>
<use href="#k" x="194.3" y="391.5"/>
<use href="#k" x="263.2" y="395.8"/>
<use href="#k" x="138.3" y="386.8"/>
<use href="#k" x="113.0" y="393.4"/>
<use href="#k" x="357.7" y="394.8"/>
<use href="#k" x="250.9" y="387.9"/>
<use href="#k" x="180.7" y="392.0"/>
<use href="#k" x="302.6" y="377.5"/>
<use href="#k" x="255.3" y="375.9"/>
<use href="#k" x="275.8" y="384.2"/>
<use href="#k" x="108.8" y="391.2"/>
<use href="#k" x="302.0" y="388.8"/>
<use href="#k" x="149.1" y="385.2"/>
<use href="#k" x="258.6" y="395.6"/>
<use href="#k" x="138.7" y="395.2"/>
<use href="#k" x="250.7" y="394.2"/>
<use href="#k" x="182.9" y="387.7"/>
<use href="#k" x="200.9" y="397.0"/>
<use href="#k" x="203.3" y="387.7"/>
<use href="#k" x="156.5" y="387.8"/>
<use href="#k" x="160.5" y="393.3"/>
<use href="#k" x="205.8" y="389.8"/>
<use href="#k" x="104.1" y="389.4"/>
<use href="#k" x="73.2" y="389.8"/>
<use href="#k" x="326.4" y="387.6"/>
<use href="#k" x="65.6" y="396.9"/>
<use href="#k" x="349.1" y="396.5"/>
<use href="#k" x="245.0" y="383.4"/>
<use href="#k" x="245.0" y="382.6"/>
<use href="#k" x="217.1" y="393.0"/>
<use href="#k" x="66.2" y="393.1"/>
<use href="#k" x="158.4" y="394.3"/>
<use href="#k" x="224.2" y="394.4"/>
<use href="#k" x="185.3" y="397.4"/>
<use href="#k" x="272.3" y="396.4"/>
<use href="#k" x="63.3" y="394.0"/>
<use href="#k" x="107.7" y="383.4"/>
<use href="#k" x="309.0" y="393.9"/>
<use href="#k" x="63.5" y="397.4"/>
<use href="#k" x="113.8" y="390.8"/>
<use href="#k" x="141.8" y="391.7"/>
<use href="#k" x="301.4" y="395.0"/>
<use href="#k" x="159.3" y="397.2"/>
<use href="#k" x="306.6" y="389.8"/>
<use href="#k" x="323.3" y="395.3"/>
<use href="#k" x="336.2" y="397.5"/>
<use href="#k" x="331.1" y="382.5"/>
<use href="#k" x="114.6" y="390.1"/>
<use href="#k" x="149.6" y="390.2"/>
<use href="#k" x="265.6" y="391.0"/>
<use href="#k" x="200.3" y="379.5"/>
<use href="#k" x="168.1" y="390.1"/>
<use href="#k" x="241.9" y="383.1"/>
<use href="#k" x="109.1" y="396.9"/>
<use href="#k" x="142.1" y="395.0"/>
<use href="#k" x="141.4" y="396.9"/>
<use href="#k" x="290.9" y="386.1"/>
<use href="#k" x="329.6" y="385.8"/>
<use href="#k" x="77.0" y="396.8"/>
<use href="#k" x="284.8" y="386.7"/>
<use href="#k" x="102.1" y="386.7"/>
<use href="#k" x="283.4" y="383.1"/>
<use href="#k" x="271.0" y="380.8"/>
<use href="#k" x="225.3" y="383.5"/>
<use href="#k" x="193.7" y="395.7"/>
<use href="#k" x="257.3" y="395.6"/>
<use href="#k" x="72.0" y="397.4"/>
<use href="#k" x="346.9" y="397.3"/>
<use href="#k" x="311.8" y="380.9"/>
<use href="#k" x="222.1" y="389.6"/>
<use href="#k" x="363.4" y="397.3"/>
<use href="#k" x="188.1" y="382.4"/>
<use href="#k" x="108.5" y="396.5"/>
<use href="#k" x="355.5" y="385.0"/>
<use href="#k" x="139.3" y="396.5"/>
<use href="#k" x="236.0" y="397.3"/>
<use href="#k" x="237.3" y="396.3"/>
<use href="#k" x="187.1" y="391.8"/>
<use href="#k" x="284.9" y="397.1"/>
<use href="#k" x="323.8" y="397.1"/>
<use href="#k" x="281.3" y="390.2"/>
<use href="#k" x="290.4" y="371.2"/>
<use href="#k" x="156.9" y="395.6"/>
<use href="#k" x="151.2" y="391.7"/>
<use href="#k" x="159.4" y="387.8"/>
<use href="#k" x="163.9" y="395.3"/>
<use href="#k" x="330.5" y="379.2"/>
<use href="#k" x="122.0" y="396.1"/>
<use href="#k" x="61.4" y="395.2"/>
<use href="#k" x="357.0" y="388.7"/>
<use href="#k" x="194.1" y="397.3"/>
<use href="#k" x="350.4" y="386.8"/>
<use href="#k" x="115.9" y="395.7"/>
<use href="#k" x="328.6" y="395.4"/>
<use href="#k" x="333.2" y="384.6"/>
<use href="#k" x="250.1" y="396.4"/>
<use href="#k" x="315.8" y="379.4"/>
<use href="#k" x="244.3" y="382.9"/>
<use href="#k" x="238.0" y="379.0"/>
<use href="#k" x="141.7" y="397.0"/>
<use href="#k" x="260.8" y="393.8"/>
<use href="#k" x="276.2" y="386.7"/>
<use href="#k" x="339.6" y="392.1"/>
<use href="#k" x="206.7" y="396.1"/>
<use href="#k" x="261.6" y="388.4"/>
<use href="#k" x="77.8" y="388.7"/>
<use href="#k" x="309.7" y="397.2"/>
<use href="#k" x="81.6" y="397.3"/>
<use href="#k" x="166.8" y="397.5"/>
<use href="#k" x="320.4" y="387.2"/>
<use href="#k" x="311.9" y="390.5"/>
<use href="#k" x="137.8" y="388.9"/>
<use href="#k" x="101.9" y="393.7"/>
<use href="#k" x="303.1" y="396.0"/>
<use href="#k" x="343.6" y="397.2"/>
<use href="#k" x="109.9" y="397.0"/>
<use href="#k" x="95.3" y="384.3"/>
<use href="#k" x="212.2" y="393.2"/>
<use href="#k" x="78.7" y="397.2"/>
<use href="#k" x="124.5" y="391.4"/>
<use href="#k" x="150.2" y="396.9"/>
<use href="#k" x="275.8" y="384.9"/>
<use href="#k" x="241.3" y="397.5"/>
<use href="#k" x="182.4" y="395.8"/>
<use href="#k" x="265.4" y="378.9"/>
<use href="#k" x="365.5" y="394.6"/>
<use href="#k" x="148.3" y="396.5"/>
<use href="#k" x="127.5" y="395.3"/>
<use href="#k" x="232.5" y="390.1"/>
<use href="#k" x="103.7" y="395.2"/>
<use href="#k" x="218.1" y="388.6"/>
<use href="#k" x="170.4" y="396.6"/>
<use href="#k" x="78.3" y="392.2"/>
<use href="#k" x="124.2" y="395.3"/>
<use href="#k" x="220.6" y="394.2"/>
<use href="#k" x="121.0" y="391.5"/>
<use href="#k" x="105.2" y="389.3"/>
<use href="#k" x="349.9" y="393.8"/>
<use href="#k" x="241.0" y="392.3"/>
<use href="#k" x="152.5" y="388.5"/>
<use href="#k" x="342.0" y="385.8"/>
<use href="#k" x="234.9" y="388.7"/>
<use href="#k" x="351.5" y="392.5"/>
<use href="#k" x="333.8" y="393.8"/>
<use href="#k" x="61.3" y="393.6"/>
<use href="#k" x="221.3" y="388.2"/>
<use href="#k" x="140.6" y="396.9"/>
<use href="#k" x="244.3" y="386.9"/>
<use href="#k" x="205.0" y="394.0"/>
<use href="#k" x="141.3" y="394.8"/>
<use href="#k" x="357.1" y="393.0"/>
<use href="#k" x="176.5" y="393.8"/>
<use href="#k" x="160.7" y="397.4"/>
<use href="#k" x="248.7" y="393.5"/>
<use href="#k" x="196.0" y="384.9"/>
<use href="#k" x="99.6" y="389.7"/>
<use href="#k" x="286.4" y="390.3"/>
<use href="#k" x="61.8" y="394.0"/>
<use href="#k" x="74.4" y="393.1"/>
<use href="#k" x="279.0" y="389.7"/>
<use href="#k" x="161.2" y="392.5"/>
<use href="#k" x="288.6" y="392.8"/>
<use href="#k" x="256.4" y="371.7"/>
<use href="#k" x="258.0" y="397.3"/>
<use href="#k" x="291.4" y="390.1"/>
<use href="#k" x="179.1" y="395.7"/>
<use href="#k" x="313.7" y="392.8"/>
<use href="#k" x="199.1" y="391.3"/>
<use href="#k" x="121.8" y="396.8"/>
<use href="#k" x="229.4" y="393.0"/>
<use href="#k" x="315.7" y="392.7"/>
<use href="#k" x="283.3" y="393.8"/>
<use href="#k" x="63.5" y="391.9"/>
<use href="#k" x="80.4" y="397.1"/>
<use href="#k" x="254.1" y="386.5"/>
<use href="#k" x="194.6" y="390.3"/>
<use href="#k" x="279.4" y="392.6"/>
<use href="#k" x="356.4" y="396.1"/>
<use href="#k" x="227.7" y="392.8"/>
<use href="#k" x="256.1" y="392.0"/>
<use href="#k" x="175.1" y="383.7"/>
<use href="#k" x="331.9" y="392.3"/>
<use href="#k" x="72.5" y="394.7"/>
<use href="#k" x="159.9" y="396.8"/>
<use href="#k" x="309.4" y="378.5"/>
<use href="#k" x="115.7" y="395.3"/>
<use href="#k" x="90.9" y="295.0"/>
<use href="#k" x="100.9" y="304.7"/>
<use href="#k" x="104.6" y="306.0"/>
<use href="#k" x="121.0" y="310.9"/>
<use href="#k" x="100.7" y="318.9"/>
<use href="#k" x="106.8" y="323.8"/>
<use href="#k" x="96.5" y="326.7"/>
<use href="#k" x="83.1" y="327.5"/>
<use href="#k" x="120.7" y="333.3"/>
<use href="#k" x="142.2" y="332.1"/>
<use href="#k" x="148.6" y="334.0"/>
<use href="#k" x="153.4" y="308.9"/>
<use href="#k" x="199.7" y="338.8"/>
<use href="#k" x="142.9" y="348.2"/>
<use href="#k" x="147.6" y="345.3"/>
<use href="#k" x="158.8" y="346.3"/>
<use href="#k" x="160.5" y="346.3"/>
<use href="#k" x="147.9" y="344.3"/>
<use href="#k" x="69.0" y="353.1"/>
<use href="#k" x="73.9" y="353.8"/>
<use href="#k" x="78.4" y="356.9"/>
<use href="#k" x="82.2" y="358.9"/>
<use href="#k" x="72.7" y="358.9"/>
<use href="#k" x="61.7" y="359.5"/>
<use href="#k" x="63.9" y="359.5"/>
<use href="#k" x="61.1" y="363.2"/>
<use href="#k" x="85.1" y="363.0"/>
<use href="#k" x="88.8" y="358.1"/>
<use href="#k" x="92.4" y="358.1"/>
<use href="#k" x="94.6" y="359.5"/>
<use href="#k" x="94.9" y="362.6"/>
<use href="#k" x="98.9" y="365.4"/>
<use href="#k" x="101.7" y="350.0"/>
<use href="#k" x="105.6" y="350.0"/>
<use href="#k" x="114.2" y="351.0"/>
<use href="#k" x="106.6" y="355.6"/>
<use href="#k" x="102.9" y="359.5"/>
<use href="#k" x="107.5" y="360.8"/>
<use href="#k" x="110.1" y="363.8"/>
<use href="#k" x="117.8" y="363.8"/>
<use href="#k" x="122.1" y="355.0"/>
<use href="#k" x="127.6" y="355.3"/>
<use href="#k" x="126.4" y="357.1"/>
<use href="#k" x="115.4" y="367.5"/>
<use href="#k" x="115.0" y="371.7"/>
<use href="#k" x="122.1" y="369.9"/>
<use href="#k" x="132.1" y="367.8"/>
<use href="#k" x="66.8" y="365.4"/>
<use href="#k" x="70.2" y="366.3"/>
<use href="#k" x="61.1" y="368.9"/>
<use href="#k" x="69.0" y="369.7"/>
<use href="#k" x="73.3" y="370.5"/>
<use href="#k" x="78.5" y="369.3"/>
<use href="#k" x="84.9" y="369.3"/>
<use href="#k" x="98.7" y="371.1"/>
<use href="#k" x="60.4" y="375.0"/>
<use href="#k" x="70.8" y="374.2"/>
<use href="#k" x="80.0" y="374.4"/>
<use href="#k" x="85.5" y="373.0"/>
<use href="#k" x="90.4" y="373.0"/>
<use href="#k" x="91.0" y="376.0"/>
<use href="#k" x="98.3" y="375.4"/>
<use href="#k" x="102.6" y="375.4"/>
<use href="#k" x="109.9" y="377.2"/>
<use href="#k" x="127.0" y="376.0"/>
<use href="#k" x="131.3" y="376.6"/>
<use href="#k" x="64.7" y="377.9"/>
<use href="#k" x="65.9" y="379.7"/>
<use href="#k" x="73.9" y="379.7"/>
<use href="#k" x="80.0" y="380.3"/>
<use href="#k" x="83.0" y="380.3"/>
<use href="#k" x="90.7" y="379.1"/>
<use href="#k" x="103.2" y="380.9"/>
<use href="#k" x="115.4" y="382.1"/>
<use href="#k" x="129.4" y="380.3"/>
<use href="#k" x="60.4" y="382.7"/>
<use href="#k" x="136.2" y="384.6"/>
<use href="#k" x="143.5" y="350.4"/>
<use href="#k" x="151.2" y="352.2"/>
<use href="#k" x="141.7" y="355.3"/>
<use href="#k" x="145.3" y="354.9"/>
<use href="#k" x="146.8" y="358.1"/>
<use href="#k" x="156.9" y="354.9"/>
<use href="#k" x="152.7" y="357.1"/>
<use href="#k" x="155.1" y="360.1"/>
<use href="#k" x="152.4" y="363.0"/>
<use href="#k" x="157.3" y="363.2"/>
<use href="#k" x="162.7" y="363.8"/>
<use href="#k" x="170.0" y="363.8"/>
<use href="#k" x="151.7" y="369.1"/>
<use href="#k" x="158.5" y="368.7"/>
<use href="#k" x="163.6" y="369.1"/>
<use href="#k" x="167.1" y="369.1"/>
<use href="#k" x="173.2" y="368.7"/>
<use href="#k" x="176.5" y="370.3"/>
<use href="#k" x="181.6" y="369.1"/>
<use href="#k" x="160.6" y="372.7"/>
<use href="#k" x="147.2" y="373.9"/>
<use href="#k" x="149.6" y="376.6"/>
<use href="#k" x="159.4" y="376.6"/>
<use href="#k" x="157.5" y="378.5"/>
<use href="#k" x="166.1" y="376.4"/>
<use href="#k" x="169.5" y="376.4"/>
<use href="#k" x="175.9" y="376.6"/>
<use href="#k" x="183.2" y="373.6"/>
<use href="#k" x="192.6" y="355.9"/>
<use href="#k" x="191.7" y="359.5"/>
<use href="#k" x="195.4" y="358.3"/>
<use href="#k" x="190.3" y="369.1"/>
<use href="#k" x="193.9" y="372.0"/>
<use href="#k" x="207.0" y="357.3"/>
<use href="#k" x="215.5" y="357.3"/>
<use href="#k" x="203.9" y="373.0"/>
<use href="#k" x="141.9" y="379.7"/>
<use href="#k" x="211.3" y="374.2"/>
<use href="#k" x="199.7" y="340.0"/>
<use href="#k" x="220.4" y="346.7"/>
<use href="#k" x="238.8" y="346.7"/>
<use href="#k" x="249.1" y="342.4"/>
<use href="#k" x="279.7" y="346.7"/>
<use href="#k" x="218.6" y="357.1"/>
<use href="#k" x="225.1" y="357.3"/>
<use href="#k" x="253.4" y="357.3"/>
<use href="#k" x="257.7" y="358.1"/>
<use href="#k" x="278.8" y="356.5"/>
<use href="#k" x="227.8" y="362.0"/>
<use href="#k" x="220.4" y="363.8"/>
<use href="#k" x="224.7" y="366.6"/>
<use href="#k" x="258.9" y="365.0"/>
<use href="#k" x="250.4" y="367.5"/>
<use href="#k" x="255.9" y="368.7"/>
<use href="#k" x="222.9" y="372.0"/>
<use href="#k" x="233.3" y="369.9"/>
<use href="#k" x="236.3" y="372.4"/>
<use href="#k" x="270.5" y="366.3"/>
<use href="#k" x="276.6" y="363.8"/>
<use href="#k" x="280.9" y="364.4"/>
<use href="#k" x="244.5" y="331.8"/>
<use href="#k" x="258.5" y="331.5"/>
<use href="#k" x="249.1" y="342.6"/>
<use href="#k" x="301.1" y="331.7"/>
<use href="#k" x="300.6" y="342.8"/>
<use href="#k" x="319.8" y="340.6"/>
<use href="#k" x="324.8" y="342.8"/>
<use href="#k" x="336.7" y="337.9"/>
<use href="#k" x="362.9" y="329.5"/>
<use href="#k" x="343.7" y="349.2"/>
<use href="#k" x="318.1" y="347.1"/>
<use href="#k" x="302.2" y="357.1"/>
<use href="#k" x="301.0" y="359.5"/>
<use href="#k" x="321.7" y="357.1"/>
<use href="#k" x="351.0" y="358.9"/>
<use href="#k" x="359.6" y="358.9"/>
<use href="#k" x="363.3" y="355.9"/>
<use href="#k" x="327.9" y="362.0"/>
<use href="#k" x="329.1" y="363.8"/>
<use href="#k" x="336.2" y="362.0"/>
<use href="#k" x="347.4" y="364.4"/>
<use href="#k" x="349.8" y="367.8"/>
<use href="#k" x="299.2" y="365.0"/>
<use href="#k" x="297.3" y="367.5"/>
<use href="#k" x="312.0" y="367.5"/>
<use href="#k" x="323.0" y="369.3"/>
<use href="#k" x="326.6" y="368.1"/>
<use href="#k" x="329.1" y="370.5"/>
<use href="#k" x="357.2" y="368.7"/>
<use href="#k" x="360.2" y="370.5"/>
<use href="#k" x="302.2" y="369.9"/>
<use href="#k" x="307.7" y="371.1"/>
<use href="#k" x="313.8" y="371.1"/>
<use href="#k" x="319.9" y="371.1"/>
<use href="#k" x="290.6" y="371.1"/>
<use href="#k" x="345.6" y="374.8"/>
<use href="#k" x="350.4" y="374.2"/>
<use href="#k" x="353.5" y="374.8"/>
<use href="#k" x="358.4" y="373.0"/>
<use href="#k" x="364.5" y="374.2"/>
<use href="#k" x="336.4" y="375.4"/>
<use href="#k" x="338.2" y="376.6"/>
<use href="#k" x="332.7" y="377.9"/>
<use href="#k" x="293.7" y="379.1"/>
<use href="#k" x="299.8" y="376.6"/>
<use href="#k" x="303.2" y="376.6"/>
<use href="#k" x="306.6" y="376.6"/>
<use href="#k" x="310.0" y="376.6"/>
<use href="#k" x="313.4" y="376.6"/>
<use href="#k" x="316.8" y="376.6"/>
<use href="#k" x="320.2" y="376.6"/>
<use href="#k" x="323.6" y="376.6"/>
<use href="#k" x="327.0" y="376.6"/>
<use href="#k" x="218.5" y="375.4"/>
<use href="#k" x="220.5" y="375.4"/>
<use href="#k" x="222.5" y="375.4"/>
<use href="#k" x="224.5" y="375.4"/>
<use href="#k" x="226.5" y="375.4"/>
<use href="#k" x="228.5" y="375.4"/>
<use href="#k" x="230.5" y="375.4"/>
<use href="#k" x="232.5" y="375.4"/>
<use href="#k" x="234.5" y="375.4"/>
<use href="#k" x="236.5" y="375.4"/>
<use href="#k" x="238.5" y="375.4"/>
<use href="#k" x="240.5" y="375.4"/>
<use href="#k" x="242.5" y="375.4"/>
<use href="#k" x="244.5" y="375.4"/>
<use href="#k" x="246.5" y="375.4"/>
<use href="#l" x="143.7" y="313.0"/>
<use href="#l" x="155.6" y="313.0"/>
<use href="#l" x="160.0" y="313.0"/>
<use href="#l" x="172.7" y="313.0"/>
<use href="#l" x="189.6" y="337.5"/>
<use href="#l" x="193.1" y="335.3"/>
<use href="#l" x="197.6" y="335.3"/>
<use href="#l" x="204.8" y="335.3"/>
<use href="#l" x="192.9" y="338.5"/>
<use href="#l" x="192.7" y="340.8"/>
<use href="#l" x="215.1" y="335.3"/>
<use href="#l" x="205.7" y="347.0"/>
<use href="#l" x="199.0" y="360.8"/>
<use href="#l" x="189.3" y="363.8"/>
<use href="#l" x="188.7" y="375.4"/>
<use href="#l" x="205.8" y="347.1"/>
<use href="#l" x="192.6" y="341.0"/>
<use href="#l" x="257.7" y="340.0"/>
<use href="#l" x="269.9" y="351.6"/>
<use href="#l" x="266.6" y="360.8"/>
<use href="#l" x="251.6" y="372.7"/>
<use href="#l" x="233.9" y="332.0"/>
<use href="#l" x="247.1" y="330.9"/>
<use href="#l" x="271.9" y="333.2"/>
<use href="#l" x="257.6" y="339.6"/>
<use href="#l" x="311.4" y="345.8"/>
<use href="#l" x="322.7" y="362.2"/>
<use href="#l" x="339.5" y="362.8"/>
<use href="#l" x="360.6" y="365.6"/>
<use href="#l" x="366.0" y="364.7"/>
<use href="#l" x="338.5" y="369.5"/>
<use href="#l" x="298.3" y="373.2"/>
<use href="#l" x="311.0" y="381.8"/>
<use href="#l" x="214.7" y="335.3"/>
<use href="#l" x="216.4" y="335.3"/>
<use href="#l" x="218.2" y="335.3"/>
<use href="#l" x="219.9" y="335.3"/>
<use href="#l" x="221.7" y="335.3"/>
<use href="#l" x="223.4" y="335.3"/>
<use href="#l" x="226.9" y="335.3"/>
<use href="#l" x="230.4" y="335.3"/>
<use href="#l" x="234.5" y="335.3"/>
<use href="#l" x="253.8" y="335.3"/>
<use href="#l" x="255.5" y="335.3"/>
<use href="#l" x="257.9" y="335.3"/>
<use href="#l" x="262.0" y="335.3"/>
<use href="#l" x="266.0" y="335.3"/>
<use href="#l" x="267.8" y="335.3"/>
<use href="#l" x="270.1" y="335.3"/>
<use href="#g" x="165.6" y="282.3"/>
<use href="#g" x="168.7" y="292.6"/>
<use href="#g" x="169.1" y="297.8"/>
<use href="#g" x="193.7" y="308.5"/>
<use href="#g" x="184.5" y="323.9"/>
<use href="#g" x="194.9" y="324.8"/>
<use href="#g" x="247.6" y="308.5"/>
<use href="#g" x="253.2" y="308.5"/>
<use href="#g" x="282.7" y="351.2"/>
<use href="#g" x="286.6" y="351.2"/>
<use href="#g" x="291.3" y="351.2"/>
<use href="#g" x="294.9" y="351.2"/>
<use href="#g" x="297.1" y="349.8"/>
<use href="#g" x="293.7" y="358.9"/>
<use href="#g" x="305.9" y="363.8"/>
<use href="#g" x="356.5" y="362.6"/>
<use href="#g" x="291.8" y="351.2"/>
<use href="#g" x="294.9" y="351.2"/>
<use href="#g" x="297.9" y="351.2"/>
<use href="#g" x="301.0" y="351.2"/>
<use href="#g" x="307.1" y="351.2"/>
<use href="#g" x="310.1" y="351.2"/>
<use href="#g" x="313.2" y="351.2"/>
<use href="#g" x="316.3" y="351.2"/>
<use href="#g" x="319.3" y="351.2"/>
<use href="#g" x="322.4" y="354.7"/>
<use href="#g" x="325.4" y="352.2"/>
<use href="#g" x="327.9" y="349.8"/>
<use href="#g" x="326.6" y="357.1"/>
<use href="#g" x="329.1" y="354.7"/>
<use href="#g" x="331.5" y="352.2"/>
<use href="#g" x="334.0" y="352.8"/>
<use href="#g" x="336.4" y="353.4"/>
<use href="#g" x="338.2" y="351.0"/>
<use href="#g" x="340.1" y="353.4"/>
<use href="#g" x="338.2" y="356.5"/>
<use href="#g" x="344.3" y="352.8"/>
<use href="#g" x="346.8" y="352.2"/>
<use href="#g" x="349.8" y="353.4"/>
<use href="#g" x="352.3" y="352.2"/>
<use href="#g" x="353.5" y="353.4"/>
<use href="#g" x="356.5" y="351.6"/>
<use href="#g" x="359.6" y="352.8"/>
<use href="#g" x="363.3" y="352.8"/>
<use href="#g" x="360.2" y="356.5"/>
<path d="M290.6,251.8 L293.2,254.4 L290.6,257 L288,254.4 Z" fill="#8a2be2" stroke="#4b1a7a" stroke-width="0.4"/>
<text x="67.7" y="290.8" font-size="6.6" fill="#111">chr10:28427768</text>
<text x="267.4" y="250.5" font-size="6.6" fill="#111">chr10:28504973</text>
<rect x="339.5" y="235.4" width="25.8" height="61.8" fill="#fff" stroke="#777" stroke-width="0.7"/>
<rect x="343.1" y="246.8" width="5.8" height="9.5" fill="#d9402f"/>
<rect x="343.1" y="256.3" width="5.8" height="9.3" fill="#ffa200"/>
<rect x="343.1" y="265.6" width="5.8" height="9.7" fill="#00ee00"/>
<rect x="343.1" y="275.3" width="5.8" height="9.5" fill="#33b5ea"/>
<rect x="343.1" y="284.8" width="5.8" height="9.7" fill="#263d98"/>
<line x1="348.9" y1="256.3" x2="352" y2="256.3" stroke="#555" stroke-width="0.5"/>
<text x="352.8" y="258.5" font-size="6.2" fill="#333">0.8</text>
<line x1="348.9" y1="265.6" x2="352" y2="265.6" stroke="#555" stroke-width="0.5"/>
<text x="352.8" y="267.8" font-size="6.2" fill="#333">0.6</text>
<line x1="348.9" y1="275.3" x2="352" y2="275.3" stroke="#555" stroke-width="0.5"/>
<text x="352.8" y="277.5" font-size="6.2" fill="#333">0.4</text>
<line x1="348.9" y1="284.8" x2="352" y2="284.8" stroke="#555" stroke-width="0.5"/>
<text x="352.8" y="287.0" font-size="6.2" fill="#333">0.2</text>
<text x="349.8" y="244" font-size="6.8" font-style="italic" fill="#333">r<tspan font-size="4.5" dy="-2.6">2</tspan></text>
<rect x="58.3" y="409.4" width="310.2" height="49.2" fill="none" stroke="#999" stroke-width="0.9"/>
<line x1="58.3" y1="418.4" x2="69.1" y2="418.4" stroke="#2a45b5" stroke-width="0.85"/>
<rect x="67.8" y="417.0" width="1.7" height="2.8" fill="#2a45b5"/>
<line x1="75.4" y1="430.8" x2="134.8" y2="430.8" stroke="#2a45b5" stroke-width="0.85"/>
<rect x="75.4" y="429.4" width="6.2" height="2.8" fill="#2a45b5"/>
<rect x="88.2" y="429.4" width="0.8" height="2.8" fill="#2a45b5"/>
<rect x="90.4" y="429.4" width="0.8" height="2.8" fill="#2a45b5"/>
<rect x="94.4" y="429.4" width="0.8" height="2.8" fill="#2a45b5"/>
<rect x="95.4" y="429.4" width="0.8" height="2.8" fill="#2a45b5"/>
<rect x="101.7" y="429.4" width="0.8" height="2.8" fill="#2a45b5"/>
<rect x="109.2" y="429.4" width="0.8" height="2.8" fill="#2a45b5"/>
<rect x="112.5" y="429.4" width="0.8" height="2.8" fill="#2a45b5"/>
<rect x="120.4" y="429.4" width="0.8" height="2.8" fill="#2a45b5"/>
<rect x="134.2" y="429.4" width="0.8" height="2.8" fill="#2a45b5"/>
<line x1="191.2" y1="418.2" x2="316.7" y2="418.2" stroke="#2a45b5" stroke-width="0.85"/>
<rect x="191.2" y="416.8" width="0.8" height="2.8" fill="#2a45b5"/>
<rect x="197.5" y="416.8" width="0.8" height="2.8" fill="#2a45b5"/>
<rect x="198.3" y="416.8" width="0.8" height="2.8" fill="#2a45b5"/>
<rect x="201" y="416.8" width="0.8" height="2.8" fill="#2a45b5"/>
<rect x="207.1" y="416.8" width="0.8" height="2.8" fill="#2a45b5"/>
<rect x="210.3" y="416.8" width="0.8" height="2.8" fill="#2a45b5"/>
<rect x="211.2" y="416.8" width="0.8" height="2.8" fill="#2a45b5"/>
<rect x="211.9" y="416.8" width="0.8" height="2.8" fill="#2a45b5"/>
<rect x="216.8" y="416.8" width="0.8" height="2.8" fill="#2a45b5"/>
<rect x="218.2" y="416.8" width="0.8" height="2.8" fill="#2a45b5"/>
<rect x="222.3" y="416.8" width="0.8" height="2.8" fill="#2a45b5"/>
<rect x="223.7" y="416.8" width="0.8" height="2.8" fill="#2a45b5"/>
<rect x="225.5" y="416.8" width="0.8" height="2.8" fill="#2a45b5"/>
<rect x="232.5" y="416.8" width="0.8" height="2.8" fill="#2a45b5"/>
<rect x="236.2" y="416.8" width="0.8" height="2.8" fill="#2a45b5"/>
<rect x="241.1" y="416.8" width="0.8" height="2.8" fill="#2a45b5"/>
<rect x="248.4" y="416.8" width="0.8" height="2.8" fill="#2a45b5"/>
<rect x="277.4" y="416.8" width="0.8" height="2.8" fill="#2a45b5"/>
<rect x="290.6" y="416.8" width="0.8" height="2.8" fill="#2a45b5"/>
<rect x="293.8" y="416.8" width="0.8" height="2.8" fill="#2a45b5"/>
<rect x="295.2" y="416.8" width="0.8" height="2.8" fill="#2a45b5"/>
<rect x="315.8" y="416.8" width="0.8" height="2.8" fill="#2a45b5"/>
<rect x="302.8" y="416.8" width="5.8" height="2.8" fill="#2a45b5"/>
<line x1="254.2" y1="430.6" x2="368.3" y2="430.6" stroke="#2a45b5" stroke-width="0.85"/>
<rect x="254.2" y="429.6" width="0.9" height="2.0" fill="#2a45b5"/>
<rect x="255.8" y="429.6" width="0.9" height="2.0" fill="#2a45b5"/>
<rect x="257.4" y="429.6" width="0.9" height="2.0" fill="#2a45b5"/>
<rect x="259" y="429.6" width="0.9" height="2.0" fill="#2a45b5"/>
<rect x="260.6" y="429.6" width="0.9" height="2.0" fill="#2a45b5"/>
<rect x="265.5" y="429.4" width="2.5" height="2.4" fill="#2a45b5"/>
<rect x="270.6" y="429.2" width="1.6" height="2.8" fill="#2a45b5"/>
<line x1="280.3" y1="443.2" x2="356.8" y2="443.2" stroke="#2a45b5" stroke-width="0.85"/>
<rect x="280.3" y="441.8" width="13.4" height="2.8" fill="#2a45b5"/>
<rect x="295.2" y="441.8" width="0.8" height="2.8" fill="#2a45b5"/>
<rect x="303.1" y="441.8" width="0.8" height="2.8" fill="#2a45b5"/>
<rect x="342.4" y="441.8" width="0.8" height="2.8" fill="#2a45b5"/>
<rect x="351.4" y="441.8" width="0.8" height="2.8" fill="#2a45b5"/>
<rect x="355.6" y="441.8" width="1.4" height="2.8" fill="#2a45b5"/>
<line x1="363.8" y1="455.4" x2="368.3" y2="455.4" stroke="#2a45b5" stroke-width="0.85"/>
<rect x="363.8" y="454.1" width="1.0" height="2.6" fill="#2a45b5"/>
<text x="65.9" y="416" font-size="6.45" font-style="italic" fill="#1a1a1a">GGT5</text>
<line x1="58.9" y1="414" x2="64.2" y2="414" stroke="#222" stroke-width="0.6"/>
<path d="M58.9,414 l2,-1.1 v2.2 z" fill="#222"/>
<text x="98.7" y="428.4" font-size="6.45" font-style="italic" fill="#1a1a1a">GGT1</text>
<line x1="91.7" y1="426.4" x2="97.6" y2="426.4" stroke="#222" stroke-width="0.6"/>
<path d="M91.7,426.4 l2,-1.1 v2.2 z" fill="#222"/>
<text x="211.7" y="416" font-size="6.45" font-style="italic" fill="#1a1a1a">ENSMMUG00000054772</text>
<line x1="287.5" y1="414.2" x2="294.5" y2="414.2" stroke="#222" stroke-width="0.6"/>
<path d="M294.5,414.2 l-2,-1.1 v2.2 z" fill="#222"/>
<text x="287.8" y="428.6" font-size="6.45" font-style="italic" fill="#1a1a1a">ENSMMUG00000043974</text>
<line x1="281.2" y1="426.3" x2="286.8" y2="426.3" stroke="#222" stroke-width="0.6"/>
<path d="M281.2,426.3 l2,-1.1 v2.2 z" fill="#222"/>
<text x="313.8" y="440.8" font-size="6.45" font-style="italic" fill="#1a1a1a">IGLL1</text>
<line x1="332.4" y1="438.8" x2="337.7" y2="438.8" stroke="#222" stroke-width="0.6"/>
<path d="M337.7,438.8 l-2,-1.1 v2.2 z" fill="#222"/>
<text x="285" y="453" font-size="6.45" font-style="italic" fill="#1a1a1a">ENSMMUG00000054345</text>
<line x1="359.6" y1="451.1" x2="365.2" y2="451.1" stroke="#222" stroke-width="0.6"/>
<path d="M365.2,451.1 l-2,-1.1 v2.2 z" fill="#222"/>
<line x1="71.2" y1="458.6" x2="71.2" y2="462.2" stroke="#777" stroke-width="0.75"/>
<text x="69.8" y="473.4" font-size="7.9" text-anchor="middle" fill="#444">28.42</text>
<line x1="123.0" y1="458.6" x2="123.0" y2="462.2" stroke="#777" stroke-width="0.75"/>
<text x="121.6" y="473.4" font-size="7.9" text-anchor="middle" fill="#444">28.44</text>
<line x1="174.8" y1="458.6" x2="174.8" y2="462.2" stroke="#777" stroke-width="0.75"/>
<text x="173.4" y="473.4" font-size="7.9" text-anchor="middle" fill="#444">28.46</text>
<line x1="226.6" y1="458.6" x2="226.6" y2="462.2" stroke="#777" stroke-width="0.75"/>
<text x="225.2" y="473.4" font-size="7.9" text-anchor="middle" fill="#444">28.48</text>
<line x1="278.4" y1="458.6" x2="278.4" y2="462.2" stroke="#777" stroke-width="0.75"/>
<text x="277.0" y="473.4" font-size="7.9" text-anchor="middle" fill="#444">28.50</text>
<line x1="330.2" y1="458.6" x2="330.2" y2="462.2" stroke="#777" stroke-width="0.75"/>
<text x="328.8" y="473.4" font-size="7.9" text-anchor="middle" fill="#444">28.52</text>
<text x="219.9" y="487.3" font-size="11.8" text-anchor="middle" fill="#111" stroke="#111" stroke-width="0.22">Position on chr10 (Mb)</text>
<text x="407.2" y="236.0" font-size="15.5" font-weight="bold" fill="#000">d</text>
<text x="517.6" y="235" font-size="11.7" fill="#111" stroke="#111" stroke-width="0.22"><tspan font-style="italic">IGLL1</tspan> (c.-1436C&gt;T)</text>
<line x1="444.2" y1="239.8" x2="444.2" y2="459.5" stroke="#222" stroke-width="0.9"/>
<line x1="444.2" y1="459.5" x2="684" y2="459.5" stroke="#222" stroke-width="0.9"/>
<line x1="440.7" y1="287.5" x2="444.2" y2="287.5" stroke="#222" stroke-width="0.8"/>
<text x="439.4" y="291.0" font-size="10.2" text-anchor="end" fill="#222" stroke="#222" stroke-width="0.22">2</text>
<line x1="440.7" y1="349.6" x2="444.2" y2="349.6" stroke="#222" stroke-width="0.8"/>
<text x="439.4" y="353.1" font-size="10.2" text-anchor="end" fill="#222" stroke="#222" stroke-width="0.22">0</text>
<line x1="440.7" y1="411.7" x2="444.2" y2="411.7" stroke="#222" stroke-width="0.8"/>
<text x="439.4" y="415.2" font-size="10.2" text-anchor="end" fill="#222" stroke="#222" stroke-width="0.22">-2</text>
<text transform="translate(428.4,343) rotate(-90)" font-size="10.9" text-anchor="middle" fill="#111" stroke="#111" stroke-width="0.22">γ-GGT (INT)</text>
<line x1="489.9" y1="288" x2="489.9" y2="325.7" stroke="#000" stroke-width="1.15"/>
<rect x="467.6" y="300.5" width="44.6" height="21.7" fill="#e0423a" stroke="#111" stroke-width="0.9"/>
<line x1="467.6" y1="314.8" x2="512.2" y2="314.8" stroke="#000" stroke-width="2.2"/>
<circle cx="489.9" cy="381.8" r="1.1" fill="#111"/>
<line x1="489.9" y1="459.5" x2="489.9" y2="462.8" stroke="#222" stroke-width="0.8"/>
<line x1="564.8" y1="268.7" x2="564.8" y2="406.4" stroke="#000" stroke-width="1.15"/>
<rect x="542.2" y="319.2" width="45.2" height="36.4" fill="#52b0da" stroke="#111" stroke-width="0.9"/>
<line x1="542.2" y1="338.6" x2="587.4" y2="338.6" stroke="#000" stroke-width="2.2"/>
<circle cx="564.8" cy="423.9" r="1.1" fill="#111"/>
<line x1="564.8" y1="459.5" x2="564.8" y2="462.8" stroke="#222" stroke-width="0.8"/>
<line x1="639.9" y1="277.1" x2="639.9" y2="434.3" stroke="#000" stroke-width="1.15"/>
<rect x="617.3" y="333.6" width="45.2" height="40.8" fill="#f5a22a" stroke="#111" stroke-width="0.9"/>
<line x1="617.3" y1="354.6" x2="662.5" y2="354.6" stroke="#000" stroke-width="2.2"/>
<circle cx="639.9" cy="249.5" r="1.1" fill="#111"/>
<circle cx="639.9" cy="259.7" r="1.1" fill="#111"/>
<circle cx="639.9" cy="265.3" r="1.1" fill="#111"/>
<circle cx="639.9" cy="439.6" r="1.1" fill="#111"/>
<circle cx="639.9" cy="450" r="1.1" fill="#111"/>
<line x1="639.9" y1="459.5" x2="639.9" y2="462.8" stroke="#222" stroke-width="0.8"/>
<text x="492.8" y="471" font-size="10.8" text-anchor="middle" fill="#111" stroke="#111" stroke-width="0.22">Homozygotes</text>
<text x="490.8" y="482.6" font-size="10.8" text-anchor="middle" fill="#111" stroke="#111" stroke-width="0.22">(9)</text>
<text x="567.7" y="471" font-size="10.8" text-anchor="middle" fill="#111" stroke="#111" stroke-width="0.22">Heterozygotes</text>
<text x="565.1" y="482.6" font-size="10.8" text-anchor="middle" fill="#111" stroke="#111" stroke-width="0.22">(162)</text>
<text x="642.4" y="471" font-size="10.8" text-anchor="middle" fill="#111" stroke="#111" stroke-width="0.22">Non−Carriers</text>
<text x="640.6" y="482.6" font-size="10.8" text-anchor="middle" fill="#111" stroke="#111" stroke-width="0.22">(573)</text>
</svg></body></html>
